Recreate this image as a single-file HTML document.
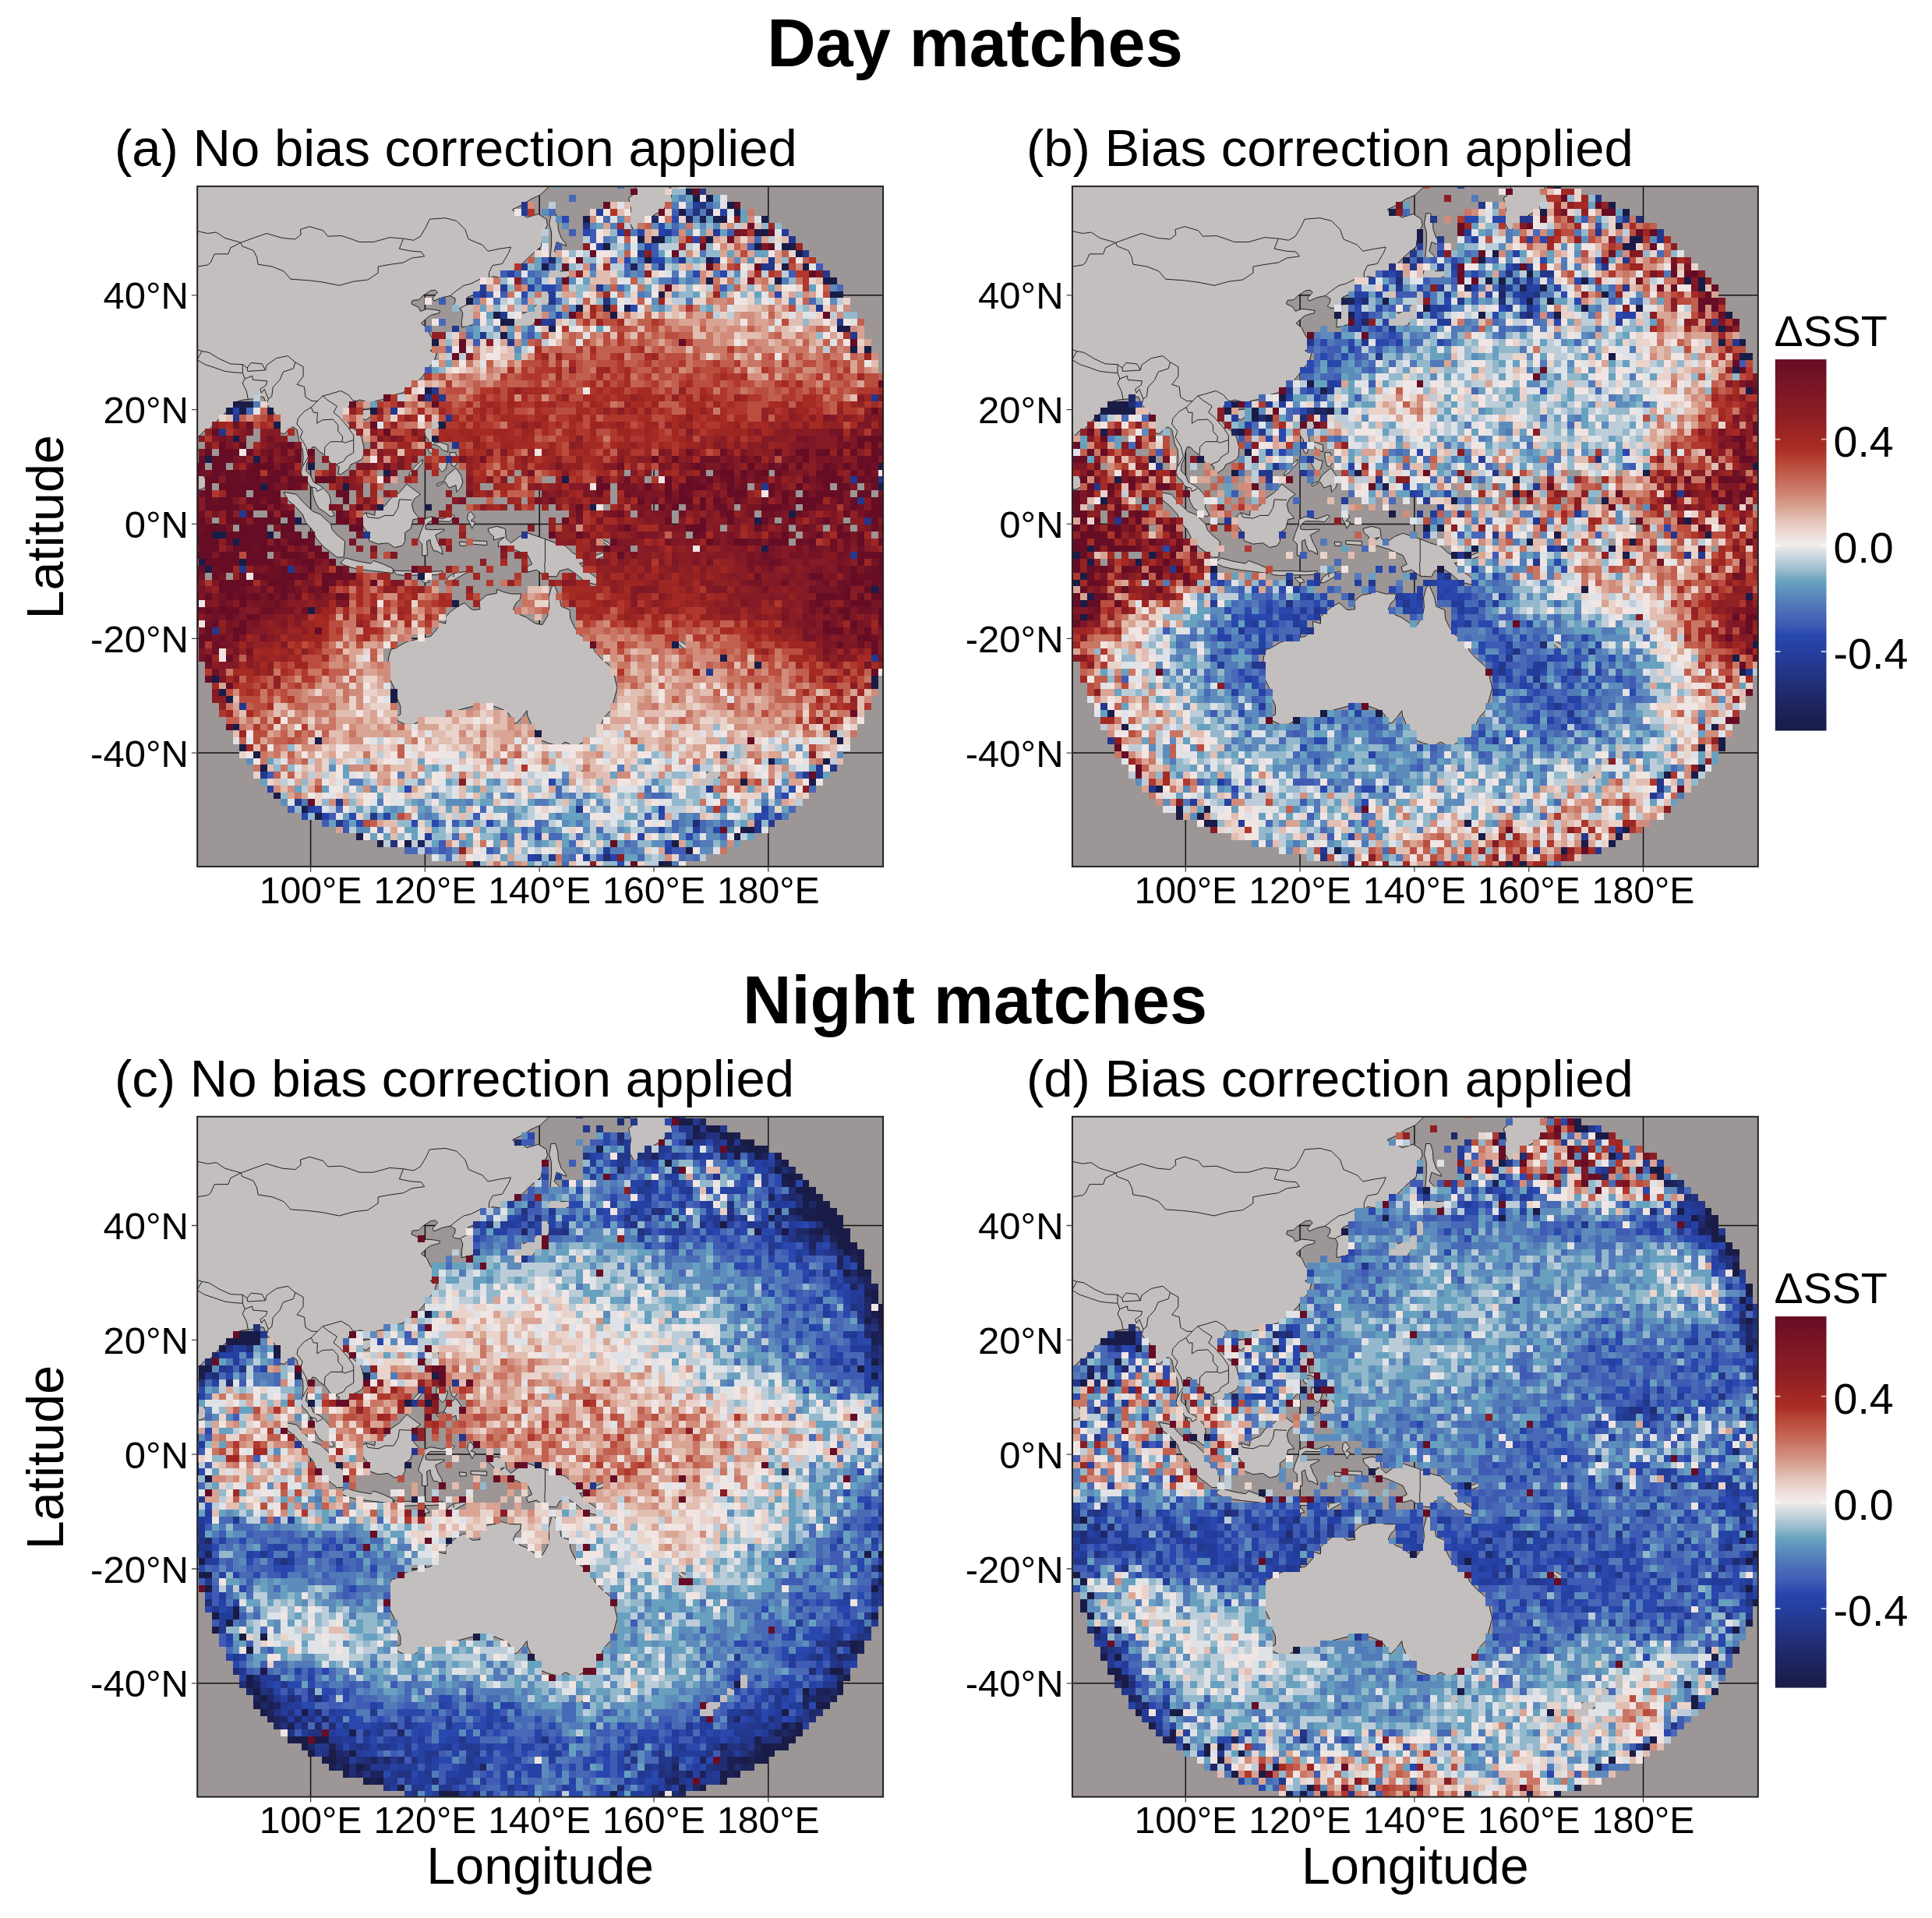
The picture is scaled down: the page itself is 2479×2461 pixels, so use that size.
<!DOCTYPE html><html><head><meta charset="utf-8"><title>SST bias maps</title><style>html,body{margin:0;padding:0;background:#fff}</style></head><body><svg width="2479" height="2461" viewBox="0 0 2479 2461" style="display:block;font-family:'Liberation Sans',sans-serif"><rect width="2479" height="2461" fill="#fff"/><defs><clipPath id="pc"><rect x="0" y="0" width="879.9" height="872.8"/></clipPath><linearGradient id="cb" x1="0" y1="0" x2="0" y2="1"><stop offset="0.0000" stop-color="#660d25"/><stop offset="0.0714" stop-color="#7a1525"/><stop offset="0.1643" stop-color="#8f2024"/><stop offset="0.2143" stop-color="#a22823"/><stop offset="0.2436" stop-color="#ab2c25"/><stop offset="0.2807" stop-color="#b94a3b"/><stop offset="0.3214" stop-color="#c46554"/><stop offset="0.3614" stop-color="#cf8473"/><stop offset="0.4014" stop-color="#d9a594"/><stop offset="0.4421" stop-color="#e6c9bf"/><stop offset="0.4900" stop-color="#f1e8e6"/><stop offset="0.5000" stop-color="#f1ecec"/><stop offset="0.5429" stop-color="#bccdd9"/><stop offset="0.5714" stop-color="#93b8cc"/><stop offset="0.5971" stop-color="#68a3bf"/><stop offset="0.6357" stop-color="#5a87bb"/><stop offset="0.6786" stop-color="#4a6db7"/><stop offset="0.7143" stop-color="#3f5bb4"/><stop offset="0.7450" stop-color="#2746ad"/><stop offset="0.7857" stop-color="#253f9f"/><stop offset="0.8571" stop-color="#22327f"/><stop offset="0.9286" stop-color="#1e2560"/><stop offset="1.0000" stop-color="#191c47"/></linearGradient></defs><g transform="translate(253.2 239.1)"><g clip-path="url(#pc)"><rect width="879.9" height="872.8" fill="#9c9696"/><path d="M145.4 0V872.8M292.2 0V872.8M439.0 0V872.8M585.8 0V872.8M732.6 0V872.8M0 139.7H879.9M0 286.5H879.9M0 433.3H879.9M0 580.2H879.9M0 727.0H879.9" stroke="#111" stroke-width="1.5" fill="none"/><path d="M-16.1 -14.5 451.5 -14.5 451.5 0.2 439.7 11.2 428.0 16.4 417.0 23.7 404.5 29.6 406.7 32.5 418.5 36.9 422.9 39.9 437.5 35.5 447.8 42.1 449.3 50.1 447.1 53.8 442.7 66.3 441.2 77.3 428.0 88.3 413.3 103.0 406.0 108.1 391.3 117.7 382.5 116.2 378.8 115.5 372.2 121.3 370.0 122.8 363.4 128.7 363.4 133.8 353.1 139.7 347.3 141.9 346.5 145.6 353.1 150.0 361.2 161.0 361.9 169.1 359.7 174.9 354.6 177.1 347.3 179.3 339.2 180.8 339.2 172.7 340.6 163.2 337.7 156.6 330.4 155.8 327.4 153.6 330.4 149.2 331.1 144.1 324.5 140.4 314.2 142.6 303.9 147.0 301.7 143.4 308.4 136.0 305.4 133.1 299.5 133.8 289.3 140.4 284.1 145.6 276.1 146.3 274.6 150.7 283.4 155.1 286.3 160.3 294.4 157.3 303.2 158.1 311.3 159.5 310.6 162.5 299.5 165.4 294.4 169.1 287.1 175.7 294.4 181.5 298.8 191.1 305.4 199.2 306.2 206.5 298.8 210.9 306.9 213.8 303.9 225.6 296.6 232.9 290.0 242.5 284.9 248.3 278.3 254.2 270.2 260.8 262.8 265.2 253.3 267.4 248.2 269.6 244.5 270.4 239.4 273.3 231.3 274.8 224.7 277.0 221.7 283.6 218.1 283.6 216.6 276.2 208.5 274.0 204.1 275.5 195.3 280.6 193.1 285.8 187.2 293.9 193.1 303.4 198.3 309.3 206.3 315.9 210.7 321.8 213.7 334.2 213.7 343.8 211.5 349.7 204.1 354.1 196.8 357.0 194.6 362.1 184.3 369.5 180.6 368.7 182.1 359.9 177.7 357.0 171.8 356.3 167.4 350.4 163.0 344.5 156.4 340.1 152.0 335.0 147.6 334.2 145.4 339.4 143.9 348.9 140.3 356.3 139.5 365.1 145.4 370.9 149.1 379.7 156.4 383.4 162.3 387.8 168.9 395.2 171.1 402.5 170.4 412.1 176.2 422.3 171.1 423.8 164.5 418.7 155.7 412.8 151.3 404.7 148.3 395.2 147.6 387.1 143.2 382.7 140.3 377.5 135.1 373.1 132.9 367.3 135.1 357.7 135.9 347.4 135.1 337.9 131.5 330.6 129.3 319.6 127.8 312.2 122.7 308.5 117.5 312.2 111.6 317.4 105.8 316.6 103.6 309.3 105.0 301.2 99.2 291.7 94.8 286.5 88.9 279.9 85.2 270.4 77.9 269.6 73.5 272.6 66.1 273.3 58.8 274.0 50.7 276.2 48.5 282.8 44.8 287.3 36.8 290.2 29.4 296.8 22.8 304.1 15.5 311.5 8.1 314.4 5.2 318.1 0.1 321.8 -0.7 330.6 0.8 337.9 0.1 345.2 -2.9 352.6 -2.9 357.7 -16.1 357.7ZM0.1 361.4 7.4 370.2 11.8 378.3 11.1 385.6 5.9 388.6 0.1 389.3 -2.9 382.0 -2.9 370.9 -1.4 363.6ZM209.3 291.7 213.7 286.5 222.5 285.8 226.1 289.5 222.5 295.3 216.6 299.7 209.3 297.5ZM299.5 248.3 306.2 249.8 303.9 257.2 301.0 266.0 298.1 272.6 293.7 266.7 292.9 260.8 296.6 253.5ZM363.4 188.9 372.2 184.5 378.1 186.7 379.6 192.6 375.9 202.8 370.7 205.8 367.1 202.8 367.1 196.2 363.4 192.6ZM384.0 184.5 396.4 181.5 400.1 185.2 396.4 188.9 389.1 191.1 384.7 192.6 382.5 188.1ZM372.2 183.7 375.9 180.8 384.7 173.5 391.3 172.7 403.8 171.3 409.6 167.6 415.5 161.7 419.2 158.1 417.7 163.2 428.0 158.8 434.6 152.9 438.3 143.4 439.0 136.0 441.2 130.9 449.3 129.4 450.0 136.0 453.7 142.6 450.0 152.2 446.3 155.8 446.3 163.2 443.4 167.6 444.9 171.3 441.9 174.9 437.5 177.1 436.8 173.5 433.1 174.2 430.2 178.6 425.8 179.3 417.0 179.3 416.3 181.5 411.8 184.5 408.2 187.4 403.0 184.5 403.8 181.5 405.2 178.6 397.2 178.6 387.6 181.5 381.8 184.5 372.9 184.5ZM441.2 128.7 439.0 122.8 437.5 120.6 441.9 115.5 449.3 115.5 451.5 106.7 452.2 100.1 457.4 103.0 466.9 108.9 477.9 108.1 477.9 115.5 470.6 118.4 463.2 125.0 453.7 121.3 446.3 122.1 442.7 121.3 447.1 126.5ZM453.7 34.7 459.6 34.7 462.5 44.3 463.2 55.3 466.9 66.3 472.8 73.6 473.5 76.6 461.0 71.4 458.1 83.2 464.7 89.8 464.0 93.5 458.1 91.2 453.7 95.7 453.0 88.3 453.7 82.4 454.4 73.6 454.4 58.9 451.5 47.9 453.0 40.6ZM561.6 -14.5 563.1 7.6 553.5 14.9 556.4 29.6 553.5 44.3 560.8 57.5 573.3 47.9 585.8 36.9 599.0 29.6 602.0 20.8 610.0 20.8 607.8 9.0 604.2 3.9 611.5 -3.5 615.2 -14.5ZM110.9 392.2 127.1 395.2 135.9 405.4 148.3 417.2 157.9 420.9 171.1 433.3 173.3 440.7 179.2 447.3 189.4 455.4 188.7 466.4 188.0 475.9 179.2 475.9 171.1 469.3 162.3 462.7 152.7 451.7 147.6 440.7 138.8 431.1 135.1 420.9 124.9 409.8 116.0 402.5ZM183.6 483.3 190.2 476.7 206.3 481.1 222.5 484.0 226.1 480.3 238.6 484.7 251.1 490.6 251.1 496.5 238.6 495.0 218.8 492.8 204.1 490.6 192.4 487.7ZM211.5 422.3 215.9 418.7 227.6 422.3 228.3 415.0 240.8 409.8 248.2 400.3 259.2 393.0 268.7 382.0 275.3 387.1 286.3 395.2 279.0 400.3 275.3 407.6 277.5 417.2 284.9 426.0 276.8 427.5 273.9 439.2 266.5 444.4 266.5 455.4 262.8 461.2 253.3 463.4 244.5 457.6 232.0 459.0 220.3 454.6 218.8 444.4 212.9 437.0 211.5 429.7ZM290.7 427.5 298.8 423.8 314.2 426.7 327.4 421.6 330.4 423.1 323.8 430.4 314.2 429.7 298.8 429.7 292.9 434.8 292.9 439.9 301.0 440.7 316.4 439.9 317.2 441.4 305.4 447.3 309.1 457.6 313.5 464.9 315.0 472.2 306.9 467.8 303.2 467.8 299.5 459.0 298.8 453.2 294.4 455.4 295.1 468.6 295.1 473.7 288.5 473.7 288.5 459.0 283.4 453.9 286.3 444.4 290.7 434.1ZM372.9 439.2 384.0 436.3 395.0 439.2 396.4 451.7 402.3 457.6 413.3 449.5 424.3 445.1 446.3 452.4 461.0 458.3 472.0 461.2 481.6 470.0 494.1 477.4 496.3 482.5 490.4 483.3 497.7 492.1 508.7 499.4 518.3 508.2 512.4 511.2 497.7 507.5 486.7 497.9 475.7 490.6 464.7 493.5 461.0 500.9 446.3 500.1 435.3 492.1 424.3 495.0 422.1 488.4 429.5 484.7 424.3 473.7 406.0 465.6 391.3 461.2 386.2 462.7 386.9 455.4 394.2 450.2 380.3 453.9 380.3 449.5 374.4 444.4ZM317.9 509.0 321.6 501.6 328.9 496.5 343.6 494.3 345.8 495.7 332.6 503.1 323.8 508.2ZM251.8 492.8 262.8 493.5 284.9 493.5 299.5 494.3 314.2 493.5 314.2 497.9 299.5 498.7 284.9 498.7 266.5 499.4 255.5 497.9ZM284.9 502.3 293.7 502.3 298.1 507.5 292.2 509.0ZM347.3 420.1 350.9 417.2 356.1 424.5 350.9 428.9 356.8 431.1 352.4 439.2 349.5 431.9 346.5 426.7ZM350.9 454.6 371.5 455.4 371.5 460.5 350.9 459.0ZM336.2 456.1 345.1 456.8 345.1 461.2 337.0 461.2ZM296.6 297.5 308.4 297.5 310.6 308.5 303.2 317.4 303.9 329.1 312.0 328.4 321.6 332.0 321.6 340.8 314.2 337.9 310.6 334.2 304.7 331.3 296.6 332.0 296.6 325.4 292.2 319.6 291.5 313.7 295.1 304.9ZM306.9 382.0 316.4 378.3 320.1 370.9 331.8 361.4 338.4 370.9 340.6 379.7 337.7 387.1 332.6 392.2 331.8 383.4 323.0 387.1 317.9 379.0 308.4 384.9ZM323.8 341.6 331.1 341.6 334.8 352.6 330.4 359.9 326.7 358.5 324.5 350.4ZM306.9 346.7 315.7 351.1 321.6 352.6 318.6 362.9 314.2 366.5 310.6 362.9 306.9 356.3ZM271.7 371.7 279.7 365.8 288.5 355.5 289.3 350.4 286.3 352.6 277.5 361.4 271.7 368.7ZM295.1 335.0 303.2 336.4 301.0 343.0 298.1 341.6ZM248.9 593.4 252.6 593.4 268.0 584.6 284.9 580.2 299.5 577.2 309.1 566.2 308.4 558.1 318.6 561.1 318.6 552.3 325.2 545.7 334.8 538.3 342.9 534.6 350.9 542.0 353.1 543.5 362.7 542.7 361.9 532.4 367.8 527.3 371.5 524.4 384.0 522.2 384.7 517.0 391.3 520.0 402.3 522.9 415.5 522.9 414.0 530.2 408.9 534.6 405.2 542.7 414.8 550.1 422.1 553.0 433.9 561.1 442.7 562.5 449.3 551.5 451.5 539.8 450.7 528.0 454.4 514.1 458.1 511.9 464.7 527.3 466.9 539.0 477.9 543.5 478.6 554.5 483.8 565.5 490.4 575.0 503.6 583.1 510.2 597.0 518.3 605.9 533.7 619.1 535.9 631.5 538.8 643.3 535.2 657.2 530.8 671.9 521.9 681.5 518.3 690.3 513.1 701.3 511.7 708.6 497.7 711.6 486.7 718.2 485.2 720.4 475.7 714.5 472.0 713.0 464.7 718.2 450.7 714.5 441.2 710.8 436.8 701.3 431.7 695.4 425.1 694.7 428.0 688.8 423.6 679.3 422.9 672.7 417.0 680.7 409.6 688.8 406.7 688.8 400.1 677.1 395.0 672.7 384.0 668.3 372.9 664.6 358.3 666.0 343.6 669.7 332.6 672.7 321.6 675.6 317.9 682.2 306.9 682.2 292.2 682.2 284.9 685.9 277.5 690.3 266.5 690.3 257.0 685.9 255.5 680.0 260.6 677.8 260.6 666.8 255.5 655.0 252.6 643.3 245.2 628.6 243.8 620.5 244.5 611.7 246.0 602.2ZM473.5 732.1 483.0 735.1 499.9 733.6 499.9 743.1 494.1 750.5 486.7 753.4 479.4 748.3 477.2 743.1 473.5 735.8ZM679.0 685.9 683.4 690.3 690.8 692.5 694.4 703.5 702.5 708.6 712.1 711.6 721.6 710.1 717.9 721.1 710.6 723.3 709.9 730.6 698.1 738.7 693.7 736.5 696.6 728.4 693.0 725.5 687.1 721.8 693.7 717.4 693.7 708.6 690.0 701.3 681.2 691.7ZM679.0 730.6 690.8 735.8 690.0 741.7 681.2 749.0 679.8 754.9 668.7 758.5 665.1 770.3 655.5 775.4 646.7 775.4 634.2 771.0 637.2 763.7 646.7 756.3 659.2 749.0 668.7 741.7 674.6 733.6ZM615.2 580.9 626.2 587.5 637.2 596.3 633.5 597.8 622.5 591.9 615.2 584.6ZM499.9 474.4 510.9 473.7 521.9 469.3 528.6 464.2 529.3 470.0 519.7 475.9 508.7 479.6 500.7 477.4ZM518.3 452.4 527.1 456.8 534.4 465.6 533.0 468.6 525.6 459.8 517.5 454.6ZM546.2 473.7 552.0 476.7 555.7 483.3 551.3 482.5 546.9 477.4Z" fill="#c3bfbe" stroke="#222" stroke-width="1" stroke-linejoin="round"/><path d="M55.9 72.2 72.0 66.3 88.9 60.4 108.7 66.3 125.6 67.8 132.9 61.9 132.2 55.3 143.9 51.6 161.6 56.7 167.4 64.1 185.0 63.4 198.3 67.8 207.8 71.4 226.1 71.4 246.7 65.6 264.3 67.0 259.2 80.2 275.3 83.2 287.1 83.9 291.5 89.8 275.3 92.0 264.3 97.9 248.2 100.1 232.0 103.0 232.0 111.1 218.8 119.9 200.5 122.1 182.1 127.2 160.1 122.8 141.7 120.6 119.7 119.1 110.9 108.9 96.2 103.0 77.9 100.1 76.4 91.2 72.0 82.4 57.3 76.6 55.9 72.2M0.0 57.5 13.3 60.4 24.3 58.9 35.3 66.3 55.9 72.2M55.9 72.2 42.6 78.8 39.7 86.8 22.1 86.8 17.0 97.9 13.3 100.8 0.0 103.0M264.3 67.0 277.5 69.2 286.3 64.1 293.7 51.6 298.1 42.1 317.9 40.6 332.6 44.3 343.6 55.3 348.0 67.8 365.6 75.1 372.9 83.2 387.6 80.2 402.3 78.0 399.4 85.4 391.3 99.3 378.8 101.5 374.4 110.3 374.4 117.7 370.0 122.1M370.0 122.1 364.1 118.4 350.9 125.0 342.1 127.2 332.6 133.8 324.5 140.4M337.7 155.8 345.1 152.2 353.9 150.0M0.0 221.9 5.9 211.6 0.0 209.4M5.9 211.6 14.8 213.1 28.0 221.2 42.6 227.8 58.1 228.5M0.0 222.7 9.6 228.5 22.8 232.9 35.3 237.3 47.8 238.8 58.1 239.5 58.1 228.5M58.1 228.5 63.9 232.9 69.1 226.3 83.0 227.8 87.4 235.9 75.7 236.6 64.7 237.3 63.9 232.9M87.4 235.9 88.9 229.3 101.4 220.5 116.0 217.5 125.6 225.6M58.1 239.5 61.0 246.9 58.1 252.8 63.2 263.0 64.7 271.1 65.4 273.3M61.0 246.9 70.5 243.2 71.3 248.3 89.6 249.8 88.2 255.0 80.8 260.1 82.3 265.2 86.0 260.1 91.1 272.6 88.9 279.9M91.1 272.6 95.5 269.6 97.0 257.9 105.8 248.3 110.2 238.1 123.4 233.7 125.6 225.6M125.6 225.6 135.9 231.5 135.9 243.9 127.8 254.2 137.3 257.2 138.8 270.4 146.9 275.5 154.2 275.5M146.1 283.6 137.3 288.7 129.3 297.5 127.8 304.9 135.1 314.4 132.2 321.8 139.5 334.2 142.5 346.7 136.6 357.0 135.9 359.2M146.1 283.6 154.2 275.5 160.8 268.9 166.7 274.0 179.2 282.1 174.8 290.2 182.1 296.1 193.1 308.5 200.5 319.6 200.5 325.4M146.1 283.6 149.1 290.2 154.2 290.2 153.5 304.1 160.8 299.7 174.0 299.0 180.6 306.3 180.6 314.4 186.5 321.0 185.8 327.6 189.4 329.1 200.5 325.4M160.8 268.9 169.6 266.7 184.3 262.3 194.6 268.2 199.7 274.8 204.1 275.5M163.0 344.5 163.8 334.2 171.1 327.6 185.8 327.6M200.5 325.4 200.5 341.6 190.9 347.4 188.0 352.6 177.7 357.0M146.1 385.6 152.0 387.1 153.5 391.5 160.8 387.8M215.9 418.7 218.8 424.5 232.0 426.0 240.8 422.3 251.8 422.3 257.7 412.1 259.2 401.8 275.3 402.5M446.3 452.4 446.3 481.1 445.6 484.7 446.3 500.1M328.9 496.5 328.9 501.6" fill="none" stroke="#222" stroke-width="1" stroke-linejoin="round"/><g transform="translate(1.340 6.820) scale(8.8080)" stroke-width="1" fill="none" shape-rendering="crispEdges"><path stroke="#191c47" d="M71 0h1M72 1h1M74 1h1M77 2h1M70 3h1M78 3h1M56 4h1M76 4h1M82 4h1M81 6h2M64 7h1M66 7h2M74 7h1M59 8h1M81 8h1M85 8h2M87 9h1M65 10h1M74 10h1M50 11h1M85 11h1M88 11h1M74 13h1M84 13h1M91 13h2M67 15h1M92 15h2M39 16h1M55 17h1M59 17h1M62 17h1M43 18h1M60 18h1M44 19h2M51 20h1M93 20h2M44 21h1M34 22h1M95 23h1M97 23h1M33 29h1M5 31h3M4 32h1M6 32h1M10 32h1M25 32h1M11 34h1M35 34h1M5 36h1M34 36h1M100 38h1M1 39h1M8 39h1M16 40h1M99 40h1M27 41h1M53 42h1M9 43h1M21 43h1M99 43h1M26 46h1M33 46h1M57 46h1M86 47h1M14 48h1M81 48h1M2 50h2M10 50h1M-1 51h1M5 51h1M82 52h1M-1 53h1M0 54h1M6 54h1M1 55h1M32 56h1M98 58h1M-1 60h1M37 60h1M100 60h1M16 61h1M100 65h1M69 66h1M76 68h1M81 69h1M2 71h1M98 71h1M98 72h1M3 73h1M28 73h1M4 74h1M28 74h1M5 78h1M49 79h1M92 79h1M17 80h1M93 80h1M6 81h1M8 82h1M76 82h1M83 83h1M91 83h1M9 84h1M79 86h1M89 86h1M11 88h1M15 90h1M17 91h1M79 93h2M23 94h1M78 94h1M26 95h1M30 95h1M69 95h1M71 96h1M40 98h1M67 98h2"/><path stroke="#1b2051" d="M73 4h1M75 4h1"/><path stroke="#1d235b" d="M71 4h1M63 11h1M32 95h1"/><path stroke="#1f2866" d="M74 3h1M66 4h1M51 10h1"/><path stroke="#202d73" d="M72 92h1M59 97h1"/><path stroke="#22327f" d="M73 2h1M72 3h1M56 5h1M59 16h1M28 95h1"/><path stroke="#23378c" d="M73 0h1M47 2h1M86 7h1M64 9h1M88 9h1M70 10h1M75 10h1M83 10h1M47 11h1M67 11h1M82 11h2M91 12h1M58 14h1M41 15h1M51 16h1M90 17h1M44 18h1M51 19h1M93 19h1M37 20h1M41 21h1M95 21h1M45 22h1M34 29h1M33 30h1M35 30h1M98 30h1M28 32h1M5 33h1M36 33h1M3 35h1M37 37h1M36 39h1M95 42h1M99 42h1M82 43h1M-1 44h1M96 45h1M6 47h1M97 48h1M24 50h1M47 50h1M100 51h1M95 53h1M6 55h1M13 55h1M2 64h1M98 68h1M74 70h1M6 75h1M90 84h1M92 84h1M9 85h1M90 85h1M74 87h1M14 89h1M20 89h1M55 90h1M25 91h1M20 92h1M81 92h1M83 92h1M81 93h1M51 97h1"/><path stroke="#243c99" d="M72 2h1M47 3h1M58 3h1M68 6h1M75 6h1M85 6h1M41 14h1M44 14h1M51 15h1M50 19h1M88 85h1M33 94h1M59 96h1M49 97h1M56 97h1"/><path stroke="#2641a4" d="M76 3h1M61 6h1M64 6h1M67 6h1M58 8h1M65 8h1M45 12h1M48 14h1M5 32h1M10 87h1M16 90h1M67 90h1M82 90h1M18 91h1M27 91h1M84 91h1M67 93h1M72 93h1M64 94h1M68 96h1M48 97h1M60 97h1"/><path stroke="#2947ad" d="M53 4h1M69 4h1M67 5h1M56 6h1M72 7h1M62 10h1M66 10h2M72 12h1M76 12h1M50 14h2M40 15h1M47 15h1M84 15h1M63 17h1M52 18h1M51 86h1M30 87h1M86 87h1M85 88h1M17 90h1M15 91h1M22 91h1M67 91h1M81 91h2M23 92h1M31 92h1M34 92h1M42 92h1M75 93h1M49 94h1M71 94h1M68 95h1M61 98h1M59 99h1"/><path stroke="#3f5bb4" d="M69 3h1M54 6h1M57 6h1M69 6h1M77 6h1M57 7h1M52 8h1M66 8h1M80 8h1M66 9h1M50 10h1M60 10h1M90 11h1M44 12h1M86 12h1M49 13h1M69 13h1M76 14h1M42 15h1M44 15h1M35 16h1M48 21h1M40 22h1M33 26h1M10 85h1M13 90h1M19 91h1M40 91h1M65 91h1M18 92h1M21 92h1M37 92h1M39 92h1M21 93h1M47 93h1M44 94h1M35 95h1M33 96h1M35 96h1M42 96h1M69 96h2M58 97h1M53 99h1M58 99h1"/><path stroke="#4869b6" d="M61 -1h1M54 1h1M74 2h1M51 3h1M71 3h1M59 4h1M69 5h1M81 7h1M64 10h1M69 10h1M51 11h1M57 11h1M62 11h1M46 12h1M48 12h1M62 12h1M47 13h1M52 14h1M61 14h1M93 14h1M43 16h1M47 16h1M52 16h1M89 16h1M35 19h1M33 20h1M48 20h1M39 21h1M36 23h1M7 32h1M87 85h1M52 87h1M65 87h1M89 87h1M52 88h1M66 88h2M84 88h1M20 90h1M41 90h1M76 90h1M86 90h1M49 92h1M69 92h1M73 92h1M76 92h2M26 93h1M49 93h1M58 93h1M69 93h1M73 93h1M37 94h1M47 94h1M51 94h2M55 94h1M76 94h1M54 95h1M62 95h1M72 95h1M30 96h2M36 96h1M36 97h1M54 97h1M64 97h1M70 97h1M72 97h1M53 98h1M48 99h2"/><path stroke="#527ab9" d="M70 1h1M69 2h1M73 3h1M60 5h1M63 6h1M59 7h1M73 9h1M66 11h1M49 12h1M64 12h1M69 12h1M75 12h1M52 13h1M67 13h2M71 13h1M85 13h1M64 15h1M40 16h1M71 16h1M86 16h1M50 17h2M40 19h1M43 20h1M47 21h1M8 31h1M61 84h1M72 84h1M29 85h1M22 86h2M53 86h1M84 87h1M34 88h1M45 88h1M54 88h1M56 88h1M65 88h1M68 88h1M15 89h1M26 89h1M39 89h1M49 89h2M55 89h1M82 89h1M59 90h1M83 90h1M33 91h1M45 91h1M52 91h1M70 91h1M72 91h1M83 91h1M85 91h1M35 92h1M50 92h1M55 92h1M64 92h1M70 92h1M74 92h1M65 93h2M59 94h1M63 95h1M73 95h2M34 96h1M43 96h1M55 96h1M60 96h2M63 96h1M53 97h1M71 97h1M69 98h1"/><path stroke="#5d8cbc" d="M71 2h1M75 2h1M50 3h1M52 4h1M61 4h1M72 4h1M53 5h1M57 5h1M66 5h1M70 5h1M73 5h1M75 5h1M71 6h1M60 7h1M62 8h1M64 8h1M78 10h1M80 10h1M64 11h1M50 12h1M57 12h1M63 12h1M71 12h1M78 12h1M54 13h1M72 13h1M49 14h1M59 14h1M92 14h1M65 15h1M69 15h1M60 16h1M66 16h1M92 16h1M54 17h1M67 17h1M51 18h1M53 18h1M39 20h1M45 21h1M47 22h1M46 23h1M87 81h1M93 82h1M7 83h1M65 83h1M84 83h1M19 84h1M53 85h1M32 86h1M43 86h1M66 86h1M85 86h1M25 87h1M42 88h1M44 88h1M53 88h1M82 88h1M12 89h1M32 89h1M36 89h3M58 89h1M84 89h1M28 90h1M33 90h1M45 90h1M74 90h1M26 91h1M32 91h1M34 91h1M56 91h1M71 91h1M43 92h1M45 92h1M53 92h1M71 92h1M75 92h1M23 93h2M44 93h1M48 93h1M51 93h1M56 93h1M61 93h1M68 93h1M70 93h1M74 93h1M45 94h1M70 94h1M72 94h1M74 94h2M38 95h1M45 95h1M49 95h1M66 95h2M76 95h1M37 96h1M53 96h2M62 96h1M64 96h1M73 96h2M45 98h1M50 98h1M64 99h1"/><path stroke="#67a1bf" d="M52 -1h1M69 1h1M71 1h1M75 1h1M79 3h1M74 4h1M79 4h1M58 5h1M68 5h1M73 6h1M76 6h1M68 7h1M67 9h1M77 9h1M81 9h2M49 10h1M52 10h1M63 10h1M68 10h1M72 10h1M49 11h1M48 13h1M56 13h1M70 13h1M62 14h1M65 14h1M77 14h1M83 14h1M89 14h1M72 15h1M76 15h1M81 15h1M41 17h1M48 17h1M66 17h1M74 17h1M42 18h1M40 20h1M45 20h1M47 20h1M58 20h1M40 21h1M49 21h1M46 24h1M36 25h1M34 26h1M25 31h1M64 81h1M10 83h1M32 83h1M85 83h1M21 84h1M34 84h1M89 84h1M21 85h1M60 85h1M91 85h1M9 86h1M36 86h1M42 86h1M14 87h1M18 87h1M40 87h1M67 87h1M80 87h1M26 88h1M57 88h1M75 88h1M31 89h1M41 89h2M48 89h1M51 89h1M77 89h1M23 90h1M25 90h1M27 90h1M29 90h1M32 90h1M36 90h1M38 90h1M43 90h2M47 90h1M54 90h1M66 90h1M78 90h1M85 90h1M21 91h1M28 91h1M46 91h1M51 91h1M53 91h3M62 91h2M76 91h1M80 91h1M19 92h1M22 92h1M38 92h1M54 92h1M56 92h1M79 92h1M30 93h2M34 93h1M41 93h1M45 93h2M50 93h1M52 93h1M62 93h1M77 93h1M25 94h1M27 94h1M31 94h1M39 94h1M43 94h1M53 94h1M58 94h1M80 94h1M34 95h1M39 95h1M43 95h1M50 95h1M53 95h1M61 95h1M71 95h1M78 95h1M44 97h1M62 97h2M48 98h1"/><path stroke="#93b8cc" d="M69 0h2M72 5h1M74 5h1M82 5h1M84 5h1M60 6h1M50 7h1M69 7h1M60 8h1M74 8h1M54 9h1M61 9h1M74 9h2M56 10h2M71 10h1M73 10h1M85 10h1M48 11h1M52 11h1M54 11h1M69 11h1M61 12h1M44 13h1M64 13h1M66 13h1M78 13h1M86 13h1M45 14h1M55 14h2M71 14h1M80 14h1M48 15h1M55 15h1M62 15h1M70 15h2M79 15h1M87 15h1M46 16h1M53 16h1M58 16h1M81 16h1M90 16h1M37 17h1M43 17h1M52 17h1M68 17h1M73 17h1M88 17h1M94 18h2M42 19h1M88 19h1M42 21h1M90 21h1M36 22h1M35 26h1M75 78h1M76 80h1M13 81h1M57 81h1M78 81h1M85 81h1M38 82h1M66 82h1M78 82h1M88 82h1M19 83h1M24 83h1M43 83h1M64 83h1M74 83h1M11 84h1M13 84h1M33 84h1M51 84h1M63 84h1M33 85h1M40 85h1M64 85h1M69 85h2M85 85h1M15 86h1M24 86h1M37 86h1M52 86h1M58 86h1M67 86h2M75 86h1M21 87h1M23 87h1M29 87h1M39 87h1M42 87h1M48 87h2M71 87h2M12 88h1M33 88h1M35 88h1M41 88h1M58 88h1M61 88h1M63 88h1M69 88h1M71 88h2M18 89h1M22 89h1M30 89h1M35 89h1M40 89h1M54 89h1M56 89h1M59 89h1M64 89h1M69 89h2M72 89h1M81 89h1M14 90h1M46 90h1M57 90h1M62 90h1M64 90h1M77 90h1M16 91h1M24 91h1M47 91h1M29 92h2M33 92h1M40 92h1M61 92h1M78 92h1M82 92h1M35 93h1M37 93h1M71 93h1M29 94h1M34 94h2M41 94h2M48 94h1M56 94h1M60 94h1M67 94h1M48 95h1M51 95h1M57 95h1M59 95h1M64 95h2M75 95h1M45 96h1M47 96h1M56 96h1M58 96h1M35 97h1M50 97h1M57 97h1M65 97h1M67 97h1M41 98h1M51 98h1M59 98h2M50 99h1M57 99h1"/><path stroke="#bccdd9" d="M51 2h1M62 5h1M78 5h1M50 6h1M56 7h1M83 7h1M61 8h1M67 8h3M71 8h1M56 9h1M70 9h1M55 11h1M60 11h2M68 11h1M72 11h1M77 12h1M82 12h1M85 12h1M50 13h1M54 14h1M74 14h1M52 15h1M44 16h1M49 16h1M55 16h1M69 16h2M93 16h1M46 17h1M87 17h1M75 18h1M77 18h1M92 18h1M54 19h1M41 20h2M36 21h1M43 21h1M50 22h1M47 23h1M91 23h1M36 24h1M38 24h1M8 30h1M29 30h1M69 78h1M61 79h1M93 79h1M26 80h1M83 80h1M48 81h1M84 81h1M26 82h1M51 82h1M59 82h1M67 82h1M77 82h1M11 83h1M16 83h1M23 83h1M45 83h1M68 83h1M78 83h1M82 83h1M92 83h1M35 84h1M45 84h1M73 84h2M86 84h1M16 85h1M18 85h1M24 85h1M37 85h1M48 85h1M66 85h1M68 85h1M71 85h1M12 86h1M25 86h1M30 86h2M44 86h1M47 86h1M49 86h1M65 86h1M82 86h1M15 87h1M27 87h1M34 87h1M36 87h1M43 87h2M53 87h1M55 87h1M60 87h1M64 87h1M68 87h1M73 87h1M85 87h1M22 88h1M36 88h1M46 88h1M51 88h1M55 88h1M62 88h1M73 88h1M33 89h1M46 89h1M52 89h1M61 89h1M63 89h1M71 89h1M83 89h1M87 89h1M19 90h1M22 90h1M24 90h1M34 90h1M48 90h1M53 90h1M58 90h1M65 90h1M68 90h3M73 90h1M35 91h1M37 91h1M39 91h1M48 91h1M64 91h1M66 91h1M69 91h1M75 91h1M79 91h1M41 92h1M44 92h1M51 92h1M57 92h1M59 92h1M62 92h1M68 92h1M22 93h1M42 93h2M57 93h1M59 93h2M63 93h2M36 94h1M54 94h1M57 94h1M68 94h1M79 94h1M27 95h1M31 95h1M33 95h1M32 96h1M49 96h1M37 97h1M42 97h1M46 97h2M66 97h1M73 97h1M49 98h1M62 98h1M65 98h2M44 99h1M60 99h1M65 99h1"/><path stroke="#dfe2e6" d="M70 -1h1M76 1h1M61 2h1M76 2h1M77 3h1M60 4h1M81 4h1M84 6h1M61 7h1M50 8h1M63 8h1M72 8h1M84 8h1M55 9h1M60 9h1M68 9h1M58 10h1M89 11h1M47 12h1M68 12h1M70 12h1M79 12h1M45 13h1M55 13h1M61 13h2M63 14h1M66 14h1M46 15h1M60 15h1M73 15h1M82 15h1M45 16h1M62 16h1M83 16h1M44 17h1M61 17h1M64 17h1M77 17h1M93 17h1M45 18h1M86 18h1M88 18h2M84 19h1M95 19h1M49 20h1M54 20h1M59 20h1M83 20h1M56 21h1M43 22h1M55 22h1M92 22h1M39 23h1M48 23h1M34 25h1M41 25h1M8 32h1M26 34h1M24 68h1M27 72h1M27 74h1M77 74h1M31 78h1M62 78h1M33 79h1M59 79h1M73 79h1M75 79h1M85 79h1M5 80h1M7 80h1M25 80h1M29 80h1M46 80h1M58 80h1M84 80h1M86 80h2M89 80h3M30 81h1M70 81h1M77 81h1M82 81h1M88 81h1M94 81h1M31 82h1M53 82h1M69 82h1M85 82h1M12 83h1M22 83h1M29 83h1M35 83h3M47 83h1M52 83h1M59 83h1M67 83h1M69 83h1M88 83h1M14 84h1M38 84h2M43 84h1M52 84h2M65 84h2M70 84h1M82 84h1M87 84h2M22 85h1M32 85h1M42 85h1M47 85h1M49 85h2M81 85h1M13 86h1M20 86h1M35 86h1M39 86h1M41 86h1M55 86h1M71 86h1M84 86h1M28 87h1M35 87h1M37 87h1M50 87h1M61 87h3M66 87h1M19 88h1M28 88h1M37 88h1M39 88h1M49 88h1M74 88h1M86 88h1M13 89h1M25 89h1M28 89h2M44 89h1M47 89h1M60 89h1M62 89h1M67 89h2M74 89h1M78 89h1M80 89h1M18 90h1M26 90h1M30 90h1M42 90h1M52 90h1M60 90h1M72 90h1M80 90h2M20 91h1M31 91h1M41 91h1M43 91h1M49 91h1M60 91h2M78 91h1M36 92h1M47 92h1M52 92h1M60 92h1M63 92h1M66 92h1M27 93h1M32 93h1M36 93h1M38 93h2M53 93h1M82 93h1M30 94h1M32 94h1M61 94h1M73 94h1M47 95h1M41 96h1M48 96h1M51 96h1M57 96h1M66 96h1M75 96h1M34 97h1M40 97h1M55 98h2M54 99h1M62 99h1"/><path stroke="#f0e5e3" d="M73 1h1M70 2h1M46 3h1M59 3h1M62 3h1M75 3h1M58 4h1M65 4h1M67 4h1M77 4h1M58 6h1M72 6h1M58 7h1M63 7h1M57 8h1M75 8h1M50 9h1M53 9h1M58 9h2M63 9h1M83 9h1M54 10h1M76 10h1M87 10h1M79 11h1M67 12h1M41 13h1M72 14h1M85 14h2M90 14h1M43 15h1M56 15h1M66 15h1M78 15h1M90 15h1M33 16h1M42 16h1M54 16h1M61 16h1M65 16h1M78 16h2M82 16h1M91 16h1M41 18h1M46 18h1M34 19h1M41 19h1M43 19h1M79 19h1M91 19h1M94 19h1M52 20h1M55 20h1M57 20h1M87 20h1M92 20h1M52 21h1M91 21h1M51 22h1M78 22h1M94 22h1M37 23h1M43 23h1M42 24h2M84 24h1M38 25h1M97 25h1M37 26h1M32 29h1M56 29h1M32 33h1M6 38h1M49 38h1M25 39h1M99 41h1M26 42h1M67 42h1M57 43h1M82 44h1M58 46h1M72 52h1M7 56h1M33 56h1M0 60h1M26 60h1M0 63h1M32 65h1M27 66h1M3 67h1M3 68h1M99 70h1M24 72h1M73 72h1M67 73h1M76 73h1M24 74h1M26 74h1M67 74h1M42 75h1M62 75h1M23 76h1M26 76h1M12 77h1M40 77h1M42 77h1M59 77h1M64 77h1M96 77h1M14 78h1M21 78h1M67 78h1M77 78h1M94 78h1M7 79h1M31 79h1M66 79h1M76 79h1M24 80h1M27 80h1M32 80h1M48 80h1M57 80h1M60 80h1M71 80h1M82 80h1M10 81h1M20 81h2M32 81h1M35 81h1M47 81h1M49 81h1M51 81h5M62 81h1M74 81h2M93 81h1M7 82h1M15 82h1M17 82h1M20 82h1M28 82h1M30 82h1M33 82h5M44 82h1M48 82h1M54 82h1M64 82h2M74 82h1M87 82h1M91 82h1M8 83h1M27 83h2M33 83h1M39 83h1M46 83h1M55 83h1M58 83h1M61 83h1M66 83h1M71 83h1M80 83h1M86 83h2M20 84h1M37 84h1M41 84h1M48 84h2M60 84h1M69 84h1M75 84h1M81 84h1M91 84h1M20 85h1M23 85h1M25 85h1M28 85h1M34 85h2M44 85h2M51 85h2M63 85h1M73 85h1M82 85h1M18 86h1M34 86h1M50 86h1M61 86h2M64 86h1M88 86h1M90 86h1M19 87h2M22 87h1M33 87h1M45 87h1M47 87h1M54 87h1M57 87h1M69 87h2M77 87h1M83 87h1M87 87h1M16 88h1M18 88h1M24 88h2M27 88h1M29 88h1M43 88h1M47 88h1M60 88h1M70 88h1M77 88h2M83 88h1M24 89h1M27 89h1M34 89h1M57 89h1M66 89h1M75 89h1M21 90h1M40 90h1M49 90h1M51 90h1M56 90h1M63 90h1M44 91h1M50 91h1M57 91h3M77 91h1M48 92h1M65 92h1M67 92h1M25 93h1M29 93h1M55 93h1M78 93h1M24 94h1M26 94h1M40 94h1M63 94h1M66 94h1M69 94h1M77 94h1M29 95h1M42 95h1M56 95h1M40 96h1M44 96h1M50 96h1M72 96h1M39 97h1M41 97h1M55 97h1M70 98h1M46 99h1M55 99h1"/><path stroke="#e9d3cb" d="M68 0h1M57 3h1M68 3h1M70 4h1M59 6h1M79 7h1M84 7h1M49 9h1M72 9h1M86 9h1M81 10h1M58 11h1M73 11h1M80 11h1M84 11h1M60 12h1M66 12h1M42 13h1M51 13h1M65 13h1M76 13h1M79 13h1M83 13h1M89 13h1M43 14h1M70 14h1M73 14h1M81 14h1M87 14h1M57 15h1M63 15h1M80 15h1M85 15h1M57 16h1M63 16h1M68 16h1M72 16h2M80 16h1M85 16h1M87 16h1M94 16h1M78 17h2M91 17h1M64 18h1M66 18h1M68 18h1M70 18h1M76 18h1M82 18h1M85 18h1M90 18h1M53 19h1M86 20h1M37 21h1M46 21h1M78 21h1M93 21h1M41 22h1M79 22h1M96 22h1M41 23h1M44 23h1M41 24h1M74 24h1M81 24h1M94 24h1M44 25h1M36 26h1M38 26h1M41 26h1M32 28h1M31 29h1M9 31h1M21 32h1M29 32h1M3 33h1M28 33h1M32 34h1M50 58h1M31 60h1M49 60h2M35 62h1M27 63h1M31 63h1M32 64h1M28 65h1M24 67h1M23 68h1M26 68h1M59 68h1M66 68h1M22 70h1M66 70h1M21 71h1M24 71h2M67 71h1M22 72h1M66 72h1M75 72h1M17 73h1M24 73h2M62 73h1M66 73h1M22 74h1M71 74h1M22 75h1M25 75h3M61 75h1M72 75h1M13 76h1M41 76h1M61 76h2M68 76h3M88 76h1M16 77h1M27 77h1M33 77h4M38 77h2M41 77h1M67 77h1M73 77h2M76 77h1M94 77h1M11 78h1M35 78h1M37 78h1M40 78h1M58 78h1M64 78h2M71 78h1M76 78h1M90 78h1M95 78h1M17 79h1M36 79h2M39 79h1M58 79h1M60 79h1M63 79h1M67 79h1M70 79h3M79 79h1M87 79h1M16 80h1M28 80h1M34 80h1M37 80h1M40 80h1M42 80h1M59 80h1M61 80h1M69 80h1M72 80h2M81 80h1M94 80h1M14 81h1M18 81h1M25 81h1M27 81h1M31 81h1M36 81h1M38 81h1M42 81h1M45 81h1M50 81h1M56 81h1M59 81h2M63 81h1M66 81h1M76 81h1M83 81h1M86 81h1M6 82h1M23 82h1M25 82h1M27 82h1M39 82h1M42 82h1M49 82h1M60 82h1M62 82h1M72 82h1M18 83h1M21 83h1M26 83h1M31 83h1M34 83h1M40 83h2M48 83h1M53 83h2M63 83h1M79 83h1M16 84h1M18 84h1M31 84h1M46 84h1M54 84h1M59 84h1M64 84h1M67 84h1M71 84h1M78 84h1M80 84h1M8 85h1M12 85h1M14 85h1M19 85h1M43 85h1M46 85h1M55 85h1M65 85h1M72 85h1M77 85h1M84 85h1M10 86h1M19 86h1M21 86h1M28 86h1M48 86h1M57 86h1M63 86h1M69 86h1M26 87h1M32 87h1M46 87h1M56 87h1M17 88h1M20 88h1M23 88h1M31 88h2M50 88h1M59 88h1M79 88h3M88 88h1M17 89h1M45 89h1M65 89h1M35 90h1M50 90h1M61 90h1M71 90h1M84 90h1M23 91h1M36 91h1M42 91h1M74 91h1M32 92h1M46 92h1M58 92h1M54 93h1M46 94h1M50 94h1M65 94h1M37 95h1M40 95h1M46 95h1M55 95h1M58 95h1M46 96h1M52 96h1M65 96h1M43 97h1M69 97h1M58 98h1M64 98h1M61 99h1"/><path stroke="#e2bdb1" d="M69 -1h1M60 2h1M62 2h1M61 3h1M76 5h1M79 5h1M81 5h1M66 6h1M76 7h1M85 7h1M77 8h1M53 10h1M82 10h1M65 11h1M70 11h1M76 11h1M56 12h1M58 12h2M74 12h1M57 13h3M90 13h1M69 14h1M79 14h1M68 15h1M77 15h1M42 17h1M47 17h1M56 17h1M69 17h1M75 17h1M80 17h2M84 17h1M89 17h1M61 18h1M63 18h1M69 18h1M87 18h1M52 19h1M62 19h1M77 19h1M86 19h2M89 19h2M92 19h1M50 20h1M64 20h1M72 20h1M85 20h1M51 21h1M60 21h1M63 21h1M72 21h2M79 21h3M85 21h2M37 22h1M39 22h1M52 22h1M83 22h1M87 22h1M90 22h1M42 23h1M45 23h1M71 23h1M89 23h1M96 23h1M35 24h1M44 24h2M47 24h1M78 24h1M40 25h1M43 25h1M98 25h1M39 26h1M80 26h1M41 27h1M34 28h1M30 30h1M95 30h1M4 33h1M34 33h1M24 35h1M29 38h1M48 58h2M28 62h1M49 62h1M20 66h1M21 67h1M26 67h1M63 67h1M69 68h1M80 68h1M23 69h1M63 69h1M78 69h1M60 70h1M63 70h1M68 70h1M66 71h1M69 71h1M25 72h1M65 72h1M68 72h1M72 72h1M20 73h1M26 73h2M63 73h2M71 73h1M73 73h2M86 73h1M90 73h1M97 73h1M5 74h1M25 74h1M61 74h3M66 74h1M81 74h1M96 74h1M11 75h2M24 75h1M41 75h1M63 75h1M67 75h1M69 75h1M71 75h1M73 75h1M88 75h1M96 75h1M6 76h1M11 76h1M20 76h3M24 76h1M27 76h2M37 76h2M42 76h1M44 76h1M60 76h1M63 76h1M65 76h3M74 76h2M77 76h1M96 76h1M18 77h1M24 77h1M26 77h1M44 77h1M63 77h1M75 77h1M80 77h1M84 77h1M88 77h1M16 78h1M25 78h1M28 78h1M30 78h1M36 78h1M38 78h1M42 78h3M47 78h1M60 78h2M63 78h1M66 78h1M68 78h1M70 78h1M73 78h2M87 78h1M89 78h1M5 79h1M19 79h2M32 79h1M34 79h2M40 79h1M42 79h1M47 79h1M64 79h2M74 79h1M78 79h1M81 79h1M84 79h1M90 79h1M94 79h1M20 80h1M35 80h2M43 80h1M49 80h1M62 80h1M65 80h2M78 80h2M88 80h1M8 81h1M19 81h1M22 81h3M26 81h1M28 81h1M33 81h2M37 81h1M39 81h1M43 81h1M58 81h1M61 81h1M65 81h1M69 81h1M71 81h1M80 81h1M92 81h1M12 82h1M18 82h1M21 82h2M32 82h1M47 82h1M55 82h1M61 82h1M63 82h1M70 82h1M82 82h1M90 82h1M92 82h1M20 83h1M25 83h1M30 83h1M38 83h1M49 83h1M57 83h1M60 83h1M62 83h1M73 83h1M75 83h1M93 83h1M10 84h1M15 84h1M26 84h1M28 84h3M40 84h1M44 84h1M50 84h1M57 84h2M62 84h1M79 84h1M84 84h1M17 85h1M30 85h1M36 85h1M39 85h1M41 85h1M54 85h1M58 85h2M78 85h1M80 85h1M11 86h1M16 86h1M33 86h1M40 86h1M56 86h1M59 86h2M70 86h1M72 86h1M12 87h1M38 87h1M58 87h1M82 87h1M21 88h1M30 88h1M38 88h1M40 88h1M48 88h1M76 88h1M87 88h1M23 89h1M43 89h1M53 89h1M86 89h1M31 90h1M37 90h1M39 90h1M79 90h1M38 91h1M73 91h1M27 92h2M33 93h1M28 94h1M52 95h1M42 98h1M44 98h1M54 98h1M42 99h1M45 99h1M51 99h1"/><path stroke="#d9a493" d="M59 5h1M65 6h1M74 6h1M65 7h1M75 7h1M82 7h1M52 9h1M76 9h1M78 9h1M80 9h1M84 9h1M59 10h1M61 10h1M79 10h1M84 10h1M71 11h1M42 14h1M57 14h1M67 14h1M84 14h1M53 15h2M74 15h1M86 15h1M89 15h1M48 16h1M84 16h1M40 17h1M82 17h1M56 18h1M72 18h2M78 18h1M81 18h1M84 18h1M63 19h1M70 19h3M74 19h3M78 19h1M81 19h2M44 20h1M74 20h1M76 20h1M79 20h1M82 20h1M84 20h1M88 20h1M96 20h1M75 21h1M82 21h1M89 21h1M92 21h1M96 21h1M35 22h1M44 22h1M58 22h1M67 22h1M75 22h1M77 22h1M84 22h1M89 22h1M97 22h1M84 23h2M75 24h1M79 24h1M46 25h1M95 25h1M40 26h1M44 26h1M81 26h1M95 26h1M98 26h1M36 27h1M43 27h1M82 27h1M84 27h1M91 27h1M33 28h1M35 28h1M37 28h1M96 28h1M31 30h1M24 31h1M32 31h1M30 32h1M23 33h1M23 34h1M24 36h1M26 37h1M32 37h1M28 42h1M34 58h1M48 59h1M31 61h1M47 61h1M20 62h1M26 62h1M32 62h1M29 63h1M23 64h1M29 64h1M31 64h1M21 65h1M71 65h1M22 66h1M24 66h2M22 67h2M64 67h2M22 68h1M61 68h1M68 68h1M24 69h1M60 69h1M66 69h1M69 69h1M72 69h1M80 69h1M24 70h2M64 70h1M71 70h1M73 70h1M75 70h2M79 70h1M18 71h1M23 71h1M26 71h1M64 71h1M68 71h1M70 71h2M74 71h2M3 72h1M18 72h2M26 72h1M62 72h1M76 72h1M80 72h1M16 73h1M61 73h1M65 73h1M68 73h2M72 73h1M78 73h1M80 73h1M85 73h1M91 73h1M95 73h1M20 74h1M64 74h1M68 74h1M72 74h1M79 74h2M82 74h1M5 75h1M18 75h1M20 75h2M60 75h1M68 75h1M70 75h1M74 75h1M79 75h1M81 75h2M16 76h1M25 76h1M40 76h1M43 76h1M64 76h1M72 76h1M76 76h1M81 76h1M85 76h2M90 76h1M92 76h1M6 77h1M8 77h1M10 77h1M15 77h1M20 77h3M25 77h1M32 77h1M37 77h1M43 77h1M60 77h3M68 77h1M72 77h1M77 77h3M82 77h1M95 77h1M13 78h1M20 78h1M23 78h2M27 78h1M32 78h3M39 78h1M41 78h1M46 78h1M48 78h1M59 78h1M80 78h4M86 78h1M93 78h1M10 79h1M13 79h1M21 79h1M23 79h4M28 79h3M43 79h3M69 79h1M77 79h1M80 79h1M82 79h1M86 79h1M9 80h1M19 80h1M21 80h1M30 80h1M33 80h1M38 80h2M41 80h1M44 80h2M47 80h1M56 80h1M64 80h1M67 80h2M70 80h1M74 80h2M85 80h1M92 80h1M17 81h1M41 81h1M67 81h1M72 81h2M81 81h1M91 81h1M14 82h1M16 82h1M19 82h1M40 82h1M43 82h1M52 82h1M56 82h2M68 82h1M71 82h1M73 82h1M75 82h1M83 82h2M86 82h1M17 83h1M51 83h1M56 83h1M17 84h1M24 84h1M42 84h1M15 85h1M26 85h2M56 85h2M14 86h1M26 86h1M29 86h1M45 86h1M54 86h1M86 86h2M16 87h1M31 87h1M41 87h1M51 87h1M79 87h1M81 87h1M13 88h1M15 88h1M79 89h1M85 89h1M68 91h1M26 92h1M80 92h1M20 93h1M28 93h1M40 93h1M38 94h1M62 94h1M44 95h1M70 95h1M39 96h1M67 96h1M38 97h1M45 97h1M47 98h1M52 99h1"/><path stroke="#d28c7b" d="M48 2h1M57 4h1M62 4h1M80 4h1M77 5h1M70 6h1M78 7h1M80 7h1M76 8h1M79 8h1M71 9h1M77 10h1M56 11h1M87 11h1M54 12h1M73 12h1M80 12h1M60 13h1M73 13h1M81 13h1M47 14h1M82 14h1M83 15h1M88 15h1M41 16h1M75 16h2M45 17h1M65 17h1M70 17h1M76 17h1M85 17h1M92 17h1M94 17h1M40 18h1M50 18h1M67 18h1M79 18h2M93 18h1M57 19h1M68 19h2M80 19h1M83 19h1M46 20h1M56 20h1M67 20h1M69 20h1M75 20h1M77 20h2M81 20h1M89 20h1M95 20h1M53 21h1M58 21h1M62 21h1M65 21h1M76 21h2M88 21h1M46 22h1M76 22h1M81 22h2M86 22h1M40 23h1M65 23h1M68 23h1M80 23h1M82 23h2M93 23h1M48 24h1M62 24h1M73 24h1M86 24h1M89 24h1M98 24h1M35 25h1M37 25h1M53 25h1M79 25h1M84 25h1M86 25h1M43 26h1M46 26h1M70 26h1M78 26h1M88 26h2M97 26h1M37 27h1M40 27h1M42 27h1M80 27h2M87 27h1M38 28h1M42 28h1M90 28h1M39 29h1M38 30h1M46 30h1M50 30h1M94 30h1M33 32h1M7 33h1M21 33h1M33 34h1M34 35h1M25 38h1M24 39h1M27 39h1M47 43h1M26 45h1M55 49h1M58 51h1M26 57h1M27 59h2M32 59h1M49 59h1M26 61h1M32 61h1M48 61h1M26 63h1M34 63h1M55 63h1M59 63h1M21 64h1M28 64h1M27 65h1M30 65h1M58 65h2M61 65h1M63 65h1M26 66h1M59 66h2M64 66h1M71 66h2M60 67h1M62 67h1M68 67h1M72 67h1M74 67h1M20 68h1M60 68h1M63 68h1M65 68h1M72 68h4M19 69h2M22 69h1M25 69h1M27 69h1M64 69h2M68 69h1M73 69h1M84 69h1M26 70h2M62 70h1M65 70h1M70 70h1M82 70h1M85 70h1M14 71h1M20 71h1M27 71h1M72 71h2M76 71h1M85 71h1M17 72h1M23 72h1M61 72h1M64 72h1M69 72h2M74 72h1M78 72h1M82 72h1M85 72h1M88 72h1M5 73h1M15 73h1M18 73h2M22 73h2M70 73h1M82 73h1M98 73h1M11 74h1M15 74h1M19 74h1M23 74h1M65 74h1M70 74h1M73 74h2M76 74h1M83 74h1M88 74h2M94 74h1M97 74h1M16 75h2M23 75h1M40 75h1M64 75h2M75 75h2M84 75h1M86 75h1M5 76h1M10 76h1M12 76h1M14 76h1M19 76h1M39 76h1M73 76h1M79 76h1M83 76h1M17 77h1M23 77h1M28 77h1M45 77h1M47 77h1M65 77h2M69 77h1M71 77h1M81 77h1M83 77h1M86 77h1M91 77h1M7 78h1M22 78h1M26 78h1M45 78h1M72 78h1M78 78h2M84 78h2M92 78h1M11 79h1M27 79h1M38 79h1M46 79h1M48 79h1M62 79h1M68 79h1M83 79h1M91 79h1M18 80h1M22 80h2M77 80h1M12 81h1M15 81h2M40 81h1M46 81h1M68 81h1M90 81h1M10 82h1M45 82h1M50 82h1M58 82h1M81 82h1M14 83h1M42 83h1M70 83h1M76 83h1M89 83h1M22 84h2M27 84h1M32 84h1M36 84h1M68 84h1M77 84h1M83 84h1M85 84h1M31 85h1M61 85h2M67 85h1M83 85h1M86 85h1M27 86h1M76 86h1M11 87h1M13 87h1M24 87h1M59 87h1M19 89h1M21 89h1M36 95h1M77 95h1M68 97h1M46 98h1M52 98h1M43 99h1"/><path stroke="#ca7665" d="M80 3h1M68 4h1M64 5h1M71 5h1M70 7h1M43 13h1M75 13h1M77 13h1M82 13h1M87 13h1M53 14h1M64 14h1M45 15h1M49 15h1M58 15h1M61 15h1M74 16h1M77 16h1M53 17h1M72 17h1M83 17h1M58 18h1M62 18h1M71 18h1M55 19h1M73 19h1M70 20h2M91 20h1M38 21h1M55 21h1M57 21h1M67 21h1M74 21h1M83 21h1M87 21h1M53 22h1M57 22h1M60 22h1M63 22h1M66 22h1M68 22h1M72 22h3M80 22h1M85 22h1M93 22h1M34 23h2M50 23h1M53 23h2M56 23h1M69 23h2M73 23h4M78 23h1M81 23h1M86 23h3M90 23h1M94 23h1M40 24h1M51 24h1M56 24h1M71 24h1M76 24h1M80 24h1M88 24h1M90 24h1M92 24h2M96 24h1M39 25h1M45 25h1M51 25h1M71 25h1M80 25h2M87 25h1M90 25h1M42 26h1M57 26h1M68 26h1M71 26h1M84 26h2M90 26h1M93 26h1M34 27h1M39 27h1M51 27h1M63 27h1M66 27h1M88 27h1M39 28h1M41 28h1M50 28h1M68 28h1M81 28h1M95 28h1M75 29h1M79 29h1M92 29h1M91 30h1M30 31h1M60 31h1M31 32h1M34 32h1M75 32h1M27 33h1M30 34h2M44 34h1M59 36h1M31 37h1M47 38h1M43 40h1M42 41h1M44 41h1M49 41h1M47 42h1M43 44h1M-1 54h1M30 57h1M44 57h1M22 58h1M25 58h1M36 58h1M33 59h1M47 59h1M50 59h1M22 60h1M47 60h2M28 61h1M34 61h1M46 61h1M49 61h1M22 62h1M21 63h2M25 63h1M58 63h1M68 63h1M22 64h1M27 64h1M30 64h1M57 64h2M60 64h1M62 64h1M73 64h1M22 65h1M25 65h1M29 65h1M56 65h1M60 65h1M62 65h1M64 65h1M66 65h2M74 65h1M76 65h1M19 66h1M65 66h3M75 66h1M58 67h1M67 67h1M69 67h1M71 67h1M73 67h1M78 67h1M80 67h1M84 67h1M19 68h1M64 68h1M67 68h1M70 68h1M77 68h1M84 68h1M21 69h1M26 69h1M61 69h2M67 69h1M75 69h1M82 69h1M86 69h1M4 70h1M11 70h1M16 70h2M23 70h1M67 70h1M69 70h1M78 70h1M81 70h1M86 70h1M62 71h2M65 71h1M77 71h2M83 71h1M97 71h1M12 72h1M15 72h1M20 72h2M71 72h1M83 72h2M87 72h1M9 73h1M13 73h2M21 73h1M77 73h1M79 73h1M81 73h1M83 73h1M9 74h1M14 74h1M16 74h3M21 74h1M75 74h1M78 74h1M92 74h1M4 75h1M13 75h1M28 75h1M66 75h1M78 75h1M83 75h1M85 75h1M87 75h1M91 75h1M9 76h1M15 76h1M17 76h2M36 76h1M71 76h1M78 76h1M80 76h1M84 76h1M93 76h2M7 77h1M13 77h2M19 77h1M85 77h1M6 78h1M9 78h1M12 78h1M17 78h3M15 79h1M22 79h1M41 79h1M88 79h2M95 79h1M10 80h1M15 80h1M31 80h1M11 81h1M44 81h1M9 82h1M11 82h1M24 82h1M41 82h1M80 82h1M9 83h1M13 83h1M50 83h1M72 83h1M90 83h1M8 84h1M12 84h1M56 84h1M38 85h1M76 85h1M17 86h1M46 86h1M77 86h2M80 86h1M75 87h1M14 88h1M64 88h1M73 89h1M30 91h1M41 95h1M76 96h1M52 97h1M43 98h1"/><path stroke="#c26050" d="M68 2h1M65 5h1M62 7h1M78 8h1M62 9h1M85 9h1M48 10h1M88 10h1M75 11h1M63 13h1M46 14h1M60 14h1M75 14h1M78 14h1M91 14h1M56 16h1M64 16h1M88 16h1M59 18h1M65 18h1M74 18h1M83 18h1M64 19h2M96 19h1M60 20h1M63 20h1M65 20h1M68 20h1M73 20h1M80 20h1M90 20h1M54 21h1M66 21h1M70 21h2M84 21h1M48 22h1M54 22h1M62 22h1M65 22h1M69 22h1M88 22h1M91 22h1M51 23h2M58 23h5M66 23h1M72 23h1M79 23h1M92 23h1M55 24h1M58 24h2M63 24h2M67 24h1M77 24h1M82 24h1M85 24h1M95 24h1M42 25h1M56 25h2M62 25h2M66 25h1M72 25h2M76 25h2M82 25h2M91 25h1M93 25h1M96 25h1M48 26h1M53 26h1M56 26h1M64 26h2M86 26h1M91 26h1M96 26h1M38 27h1M45 27h1M53 27h1M55 27h2M59 27h1M69 27h1M73 27h1M85 27h1M89 27h1M94 27h2M99 27h1M31 28h1M40 28h1M43 28h1M45 28h3M54 28h1M58 28h1M63 28h2M67 28h1M69 28h1M76 28h1M82 28h2M88 28h2M92 28h2M35 29h1M40 29h1M55 29h1M67 29h1M69 29h1M80 29h1M83 29h1M85 29h1M88 29h1M90 29h1M94 29h1M36 30h2M39 30h1M83 30h2M23 31h1M31 31h1M33 31h1M37 31h1M40 31h1M61 31h1M67 31h3M86 31h1M92 31h1M9 32h1M27 32h1M39 32h1M48 32h1M69 32h2M92 32h1M6 33h1M8 33h1M11 33h1M22 33h1M51 33h1M58 33h1M83 33h1M24 34h1M29 34h1M52 35h1M25 36h1M49 36h1M51 36h1M60 38h1M66 38h1M45 39h1M38 40h1M25 41h1M24 42h1M49 42h1M26 43h1M45 44h3M42 45h1M39 46h1M23 47h1M52 49h1M68 50h1M39 51h1M25 56h1M34 57h1M26 59h1M34 59h1M52 59h1M28 60h1M20 61h1M22 61h1M24 61h1M50 61h1M60 61h1M31 62h1M28 63h1M32 63h1M76 63h2M33 64h1M55 64h2M59 64h1M61 64h1M64 64h1M68 64h1M70 64h1M72 64h1M75 64h1M57 65h1M70 65h1M77 65h2M21 66h1M58 66h1M62 66h2M74 66h1M76 66h3M18 67h2M25 67h1M66 67h1M75 67h1M77 67h1M6 68h1M21 68h1M25 68h1M71 68h1M78 68h1M85 68h1M18 69h1M70 69h1M74 69h1M76 69h1M79 69h1M14 70h1M19 70h3M77 70h1M87 70h2M97 70h1M6 71h1M10 71h1M13 71h1M17 71h1M19 71h1M22 71h1M61 71h1M79 71h4M84 71h1M86 71h1M88 71h1M10 72h1M63 72h1M67 72h1M79 72h1M89 72h1M93 72h2M11 73h1M75 73h1M84 73h1M89 73h1M94 73h1M69 74h1M84 74h3M7 75h1M14 75h2M19 75h1M80 75h1M87 76h1M4 77h2M70 77h1M29 78h1M12 79h1M16 79h1M18 79h1M6 80h1M11 80h2M14 80h1M63 80h1M29 81h1M13 82h1M29 82h1M46 82h1M15 83h1M44 83h1M81 83h1M25 84h1M11 85h1M13 85h1M83 86h1M76 87h1M78 87h1M76 89h1M25 92h1"/><path stroke="#ba4d3e" d="M79 9h1M77 11h1M86 11h1M84 12h1M91 15h1M58 17h1M86 17h1M59 19h2M67 19h1M85 19h1M61 20h2M66 20h1M50 21h1M59 21h1M64 21h1M68 21h2M49 22h1M56 22h1M59 22h1M64 22h1M67 23h1M53 24h2M68 24h3M72 24h1M83 24h1M87 24h1M91 24h1M47 25h3M55 25h1M58 25h3M64 25h1M67 25h3M74 25h1M88 25h2M94 25h1M55 26h1M60 26h1M63 26h1M67 26h1M73 26h3M77 26h1M79 26h1M83 26h1M87 26h1M92 26h1M35 27h1M46 27h1M50 27h1M54 27h1M57 27h1M61 27h1M64 27h1M67 27h2M70 27h1M72 27h1M74 27h1M83 27h1M86 27h1M92 27h1M97 27h2M44 28h1M48 28h1M51 28h1M53 28h1M55 28h1M60 28h1M65 28h1M72 28h3M77 28h1M79 28h2M86 28h1M91 28h1M94 28h1M97 28h2M36 29h3M44 29h1M52 29h1M62 29h1M66 29h1M71 29h2M77 29h2M81 29h2M84 29h1M87 29h1M93 29h1M95 29h1M42 30h1M44 30h1M48 30h1M51 30h1M54 30h2M68 30h1M72 30h1M77 30h1M82 30h1M87 30h1M92 30h2M27 31h1M38 31h1M56 31h1M74 31h1M80 31h3M91 31h1M37 32h1M46 32h2M52 32h3M80 32h2M91 32h1M96 32h1M9 33h1M25 33h1M35 33h1M38 33h1M42 33h1M56 33h1M66 33h2M77 33h1M80 33h2M8 34h1M27 34h1M39 34h1M43 34h1M53 34h1M56 34h1M63 34h1M67 34h1M94 34h1M28 35h2M49 35h1M58 35h2M68 35h1M42 36h1M50 36h1M72 36h1M27 37h2M39 37h1M53 37h1M59 37h1M43 38h1M46 38h1M53 38h1M58 38h1M74 38h1M34 39h1M43 39h1M59 39h1M84 39h1M42 40h1M45 40h1M48 40h1M64 40h1M66 40h1M17 41h1M23 41h1M50 41h1M56 41h1M60 41h1M25 42h1M43 42h1M56 42h2M48 44h1M47 46h1M62 46h1M6 53h1M27 53h1M23 55h1M37 55h1M24 56h1M24 57h1M31 57h1M36 57h1M46 57h1M20 58h1M24 58h1M29 58h1M33 58h1M22 59h1M24 59h1M40 59h1M58 59h1M24 60h1M32 60h2M53 60h1M23 61h1M27 61h1M33 61h1M35 61h1M34 62h1M59 62h2M65 62h1M68 62h1M70 62h1M19 63h2M57 63h1M61 63h1M64 63h2M67 63h1M71 63h1M73 63h2M79 63h1M19 64h1M63 64h1M69 64h1M71 64h1M74 64h1M19 65h2M26 65h1M65 65h1M15 66h1M18 66h1M23 66h1M28 66h1M68 66h1M73 66h1M79 66h1M82 66h2M20 67h1M59 67h1M61 67h1M70 67h1M76 67h1M79 67h1M85 67h3M15 68h3M62 68h1M79 68h1M81 68h1M83 68h1M11 69h1M13 69h1M16 69h2M71 69h1M77 69h1M83 69h1M85 69h1M88 69h1M90 69h1M94 69h1M83 70h2M91 70h2M95 70h1M9 71h1M12 71h1M90 71h1M94 71h1M96 71h1M8 72h1M13 72h1M16 72h1M77 72h1M86 72h1M90 72h1M96 72h1M4 73h1M12 73h1M87 73h1M6 74h3M10 74h1M12 74h1M87 74h1M91 74h1M8 75h2M77 75h1M89 75h1M8 76h1M82 76h1M89 76h1M91 76h1M9 77h1M10 78h1M88 78h1M8 79h2M14 79h1M8 80h1M13 80h1M9 81h1M89 81h1M79 85h1M81 86h1M17 87h1M29 91h1M24 92h1M47 99h1"/><path stroke="#b0372d" d="M48 3h1M60 3h1M80 6h1M86 10h1M89 10h1M46 11h1M78 11h1M83 12h1M87 12h2M88 13h1M88 14h1M60 17h1M71 17h1M55 18h1M56 19h1M66 19h1M53 20h1M61 21h1M94 21h1M61 22h1M71 22h1M55 23h1M63 23h1M77 23h1M49 24h1M57 24h1M60 24h1M50 25h1M52 25h1M61 25h1M65 25h1M70 25h1M75 25h1M78 25h1M85 25h1M92 25h1M47 26h1M49 26h3M61 26h1M66 26h1M69 26h1M72 26h1M76 26h1M82 26h1M94 26h1M33 27h1M44 27h1M47 27h3M60 27h1M65 27h1M71 27h1M75 27h1M77 27h2M90 27h1M93 27h1M36 28h1M49 28h1M52 28h1M56 28h1M61 28h1M66 28h1M70 28h1M75 28h1M78 28h1M84 28h1M41 29h2M51 29h1M53 29h2M57 29h1M59 29h1M63 29h1M68 29h1M74 29h1M76 29h1M86 29h1M89 29h1M91 29h1M96 29h3M28 30h1M40 30h1M43 30h1M49 30h1M58 30h1M60 30h1M70 30h1M75 30h2M80 30h2M85 30h2M90 30h1M26 31h1M28 31h1M35 31h2M44 31h1M47 31h2M52 31h3M59 31h1M65 31h1M70 31h1M76 31h1M78 31h2M90 31h1M94 31h1M97 31h1M99 31h1M23 32h1M36 32h1M38 32h1M42 32h1M44 32h1M50 32h2M57 32h1M64 32h1M66 32h1M68 32h1M77 32h3M84 32h1M89 32h1M94 32h2M29 33h1M40 33h1M43 33h1M48 33h1M52 33h2M59 33h5M68 33h1M73 33h1M10 34h1M36 34h2M41 34h2M51 34h1M55 34h1M64 34h1M72 34h1M74 34h2M79 34h1M4 35h1M30 35h1M46 35h1M51 35h1M55 35h2M60 35h1M67 35h1M70 35h1M73 35h1M97 35h1M1 36h1M30 36h1M41 36h1M52 36h2M56 36h1M58 36h1M60 36h2M63 36h2M67 36h2M79 36h1M38 37h1M42 37h2M49 37h2M52 37h1M66 37h1M69 37h1M34 38h1M39 38h1M52 38h1M57 38h1M63 38h2M69 38h1M75 38h1M33 39h1M42 39h1M49 39h1M53 39h2M34 40h1M41 40h1M56 40h1M62 40h1M9 41h1M40 41h1M51 41h1M55 41h1M57 41h1M31 42h1M46 42h1M48 42h1M54 42h1M66 42h1M46 43h1M2 44h1M40 46h1M48 46h1M53 46h1M93 46h1M56 47h1M56 48h1M90 51h1M66 54h1M19 55h1M42 55h1M56 55h2M35 56h1M46 56h1M1 57h1M42 57h1M21 58h1M26 58h1M59 58h1M73 58h1M30 59h1M36 59h1M53 59h1M59 59h1M66 59h1M27 60h1M29 60h1M34 60h1M55 60h2M61 60h1M64 60h1M84 60h1M61 61h1M66 61h1M71 61h3M16 62h1M19 62h1M24 62h1M30 62h1M56 62h1M69 62h1M72 62h1M33 63h1M56 63h1M60 63h1M70 63h1M82 63h1M84 63h1M20 64h1M26 64h1M65 64h1M78 64h2M23 65h1M68 65h2M72 65h2M75 65h1M79 65h2M82 65h1M1 66h1M13 66h1M16 66h1M61 66h1M81 66h1M85 66h1M14 67h1M17 67h1M83 67h1M82 68h1M89 68h1M12 69h1M95 69h1M1 70h1M13 70h1M15 70h1M18 70h1M61 70h1M80 70h1M93 70h1M8 71h1M15 71h2M87 71h1M6 72h2M14 72h1M91 72h2M6 73h1M8 73h1M10 73h1M13 74h1M93 74h1M90 75h1M93 75h1M97 75h1M3 76h1M11 77h1M87 77h1M89 77h1M93 77h1M8 78h1M15 78h1M47 84h1M75 90h1M39 98h1"/><path stroke="#a62a24" d="M61 5h1M59 11h1M81 12h1M57 18h1M61 19h1M49 23h1M57 23h1M64 23h1M61 24h1M65 24h1M54 25h1M45 26h1M52 26h1M62 26h1M58 27h1M62 27h1M76 27h1M79 27h1M57 28h1M59 28h1M62 28h1M71 28h1M85 28h1M87 28h1M30 29h1M43 29h1M45 29h1M47 29h4M58 29h1M60 29h2M64 29h2M73 29h1M99 29h1M41 30h1M45 30h1M47 30h1M52 30h1M56 30h2M59 30h1M61 30h2M65 30h2M74 30h1M88 30h2M39 31h1M41 31h1M43 31h1M46 31h1M50 31h1M55 31h1M58 31h1M63 31h2M71 31h3M77 31h1M83 31h2M88 31h2M98 31h1M32 32h1M40 32h1M45 32h1M49 32h1M55 32h2M58 32h1M60 32h1M62 32h1M67 32h1M72 32h1M74 32h1M76 32h1M85 32h1M90 32h1M26 33h1M31 33h1M33 33h1M37 33h1M44 33h4M49 33h1M54 33h1M57 33h1M64 33h2M69 33h1M72 33h1M74 33h1M76 33h1M78 33h2M85 33h1M88 33h1M90 33h1M96 33h1M4 34h1M9 34h1M38 34h1M40 34h1M45 34h1M50 34h1M52 34h1M54 34h1M59 34h1M62 34h1M69 34h1M73 34h1M76 34h1M81 34h2M87 34h1M89 34h2M95 34h1M13 35h1M26 35h1M35 35h3M40 35h3M45 35h1M50 35h1M53 35h1M63 35h2M66 35h1M74 35h1M82 35h1M94 35h1M31 36h1M35 36h1M37 36h2M43 36h1M45 36h2M48 36h1M54 36h1M57 36h1M66 36h1M69 36h1M77 36h1M81 36h1M8 37h1M46 37h3M56 37h3M60 37h1M64 37h1M68 37h1M70 37h1M30 38h1M32 38h1M38 38h1M40 38h2M45 38h1M55 38h1M78 38h1M28 39h1M35 39h1M44 39h1M50 39h1M56 39h2M60 39h1M67 39h1M72 39h1M14 40h1M26 40h1M44 40h1M57 40h1M18 41h1M34 41h1M41 41h1M43 41h1M52 41h1M54 41h1M58 41h1M64 41h1M69 41h1M40 42h2M55 42h1M60 42h1M19 43h1M44 43h2M53 43h1M28 44h1M41 44h1M44 44h1M55 44h1M61 44h1M81 44h1M23 45h1M46 45h1M48 45h1M56 45h1M63 45h1M43 46h1M60 46h1M58 47h1M57 48h1M59 48h2M71 48h1M88 48h1M38 49h1M58 49h1M64 49h3M74 50h1M79 50h1M82 50h1M92 50h1M36 51h1M56 51h1M65 51h1M67 51h1M45 52h1M68 52h1M55 53h1M44 54h1M47 54h1M39 55h1M66 55h1M23 56h1M53 56h1M60 56h2M69 56h1M100 56h1M8 57h1M27 57h1M52 57h1M72 57h1M19 58h1M23 58h1M30 58h1M53 58h4M62 58h1M69 58h1M23 59h1M25 59h1M29 59h1M35 59h1M39 59h1M54 59h1M60 59h1M70 59h1M74 59h1M19 60h1M23 60h1M25 60h1M30 60h1M35 60h2M57 60h1M62 60h1M69 60h1M21 61h1M30 61h1M58 61h2M70 61h1M17 62h1M23 62h1M27 62h1M29 62h1M33 62h1M55 62h1M57 62h1M64 62h1M67 62h1M71 62h1M79 62h1M17 63h2M24 63h1M30 63h1M62 63h1M66 63h1M69 63h1M72 63h1M75 63h1M78 63h1M81 63h1M18 64h1M24 64h2M66 64h2M76 64h2M80 64h1M12 65h1M18 65h1M24 65h1M14 66h1M80 66h1M84 66h1M89 66h1M8 67h1M11 67h1M16 67h1M81 67h1M13 68h1M18 68h1M86 68h2M96 68h2M9 69h1M89 69h1M91 69h1M96 69h1M98 69h1M5 70h3M12 70h1M72 70h1M89 70h2M4 71h1M7 71h1M93 71h1M95 71h1M2 72h1M5 72h1M9 72h1M81 72h1M7 73h1M88 73h1M92 73h1M10 75h1M92 75h1M94 75h1M7 76h1M91 78h1M7 81h1M56 99h1"/><path stroke="#9d2623" d="M83 5h1M71 7h1M87 8h1M59 15h1M75 15h1M67 16h1M57 17h1M58 19h1M50 24h1M66 24h1M97 24h1M58 26h2M52 27h1M96 27h1M64 30h1M67 30h1M71 30h1M73 30h1M79 30h1M97 30h1M42 31h1M45 31h1M49 31h1M51 31h1M57 31h1M66 31h1M75 31h1M85 31h1M87 31h1M93 31h1M95 31h1M35 32h1M41 32h1M43 32h1M71 32h1M83 32h1M87 32h2M10 33h1M39 33h1M41 33h1M50 33h1M55 33h1M70 33h1M75 33h1M84 33h1M93 33h1M3 34h1M46 34h1M48 34h1M57 34h2M60 34h1M65 34h2M71 34h1M77 34h1M80 34h1M84 34h1M86 34h1M98 34h1M32 35h1M38 35h2M43 35h2M47 35h2M54 35h1M57 35h1M61 35h2M65 35h1M69 35h1M72 35h1M75 35h5M83 35h1M36 36h1M39 36h1M44 36h1M47 36h1M62 36h1M65 36h1M70 36h1M74 36h1M80 36h1M2 37h1M29 37h2M33 37h1M41 37h1M44 37h2M51 37h1M61 37h2M65 37h1M67 37h1M71 37h2M74 37h1M77 37h1M79 37h1M83 37h1M31 38h1M51 38h1M54 38h1M56 38h1M59 38h1M65 38h1M73 38h1M94 38h1M97 38h1M30 39h1M37 39h1M40 39h1M46 39h1M48 39h1M51 39h1M58 39h1M62 39h1M82 39h1M6 40h1M30 40h1M40 40h1M46 40h1M49 40h2M58 40h1M65 40h1M69 40h1M24 41h1M45 41h1M59 41h1M68 41h1M72 41h1M23 42h1M30 42h1M63 42h1M70 42h1M83 42h1M25 43h1M43 43h1M50 43h1M3 44h1M25 44h1M40 44h1M54 44h1M59 44h1M25 45h1M45 45h1M53 45h1M61 45h1M72 45h1M91 45h1M24 46h1M42 46h1M50 46h1M22 47h1M36 47h1M90 47h1M54 48h1M62 48h1M56 49h1M79 49h1M57 50h1M59 50h1M97 50h1M31 51h1M55 51h1M73 51h1M91 51h1M98 51h1M-1 52h1M55 52h2M99 52h1M25 53h1M57 53h1M60 53h1M68 53h1M60 54h1M63 54h1M68 54h1M75 54h1M97 54h1M5 55h1M62 55h1M64 55h1M72 55h1M76 55h1M26 56h2M40 56h1M50 56h1M58 56h1M63 56h1M65 56h2M74 56h1M17 57h1M22 57h1M37 57h1M55 57h2M58 57h1M62 57h3M67 57h3M31 58h1M57 58h2M67 58h2M70 58h1M72 58h1M77 58h1M15 59h1M31 59h1M55 59h3M61 59h2M64 59h2M69 59h1M71 59h2M75 59h2M40 60h1M58 60h1M60 60h1M65 60h1M68 60h1M70 60h1M72 60h1M82 60h1M18 61h2M29 61h1M55 61h3M62 61h1M65 61h1M79 61h1M82 61h2M18 62h1M21 62h1M25 62h1M58 62h1M61 62h1M63 62h1M66 62h1M75 62h1M15 63h2M63 63h1M83 63h1M94 63h1M98 63h1M13 64h2M16 64h1M82 64h2M7 65h1M15 65h3M81 65h1M83 65h2M86 65h1M6 66h1M11 66h1M17 66h1M86 66h3M9 67h2M12 67h1M88 67h1M93 67h1M95 67h1M97 67h1M2 68h1M8 68h1M10 68h2M14 68h1M88 68h1M6 69h1M14 69h2M87 69h1M93 69h1M9 70h1M96 70h1M89 71h1M96 73h1M90 74h1M95 75h1M4 76h1M92 77h1M6 79h1"/><path stroke="#922124" d="M73 7h1M70 8h1M34 21h2M52 24h1M54 26h1M46 29h1M70 29h1M53 30h1M63 30h1M69 30h1M78 30h1M62 31h1M96 31h1M22 32h1M59 32h1M63 32h1M65 32h1M73 32h1M82 32h1M86 32h1M93 32h1M30 33h1M82 33h1M87 33h1M95 33h1M6 34h1M22 34h1M28 34h1M49 34h1M61 34h1M68 34h1M70 34h1M78 34h1M83 34h1M91 34h3M1 35h1M5 35h1M23 35h1M80 35h1M27 36h1M40 36h1M71 36h1M73 36h1M75 36h1M78 36h1M86 36h1M94 36h1M40 37h1M55 37h1M63 37h1M84 37h2M8 38h1M13 38h1M27 38h2M48 38h1M50 38h1M62 38h1M70 38h1M81 38h1M85 38h1M92 38h1M7 39h1M39 39h1M55 39h1M63 39h1M28 40h1M39 40h1M47 40h1M51 40h1M53 40h3M63 40h1M79 40h1M39 41h1M47 41h1M61 41h1M71 41h1M94 41h1M20 42h1M52 42h1M85 42h1M87 42h1M40 43h1M51 43h1M67 43h1M69 43h1M75 43h1M86 43h1M23 44h1M42 44h1M73 44h1M80 44h1M6 45h1M52 45h1M55 45h1M59 45h1M67 45h1M74 45h1M83 45h1M22 46h1M44 46h1M46 46h1M56 46h1M1 47h1M11 47h1M35 47h1M57 47h1M62 47h1M71 47h1M73 47h1M78 47h1M93 47h1M95 47h1M3 48h1M22 48h1M51 48h1M63 48h1M51 49h1M53 49h1M83 49h1M90 49h1M38 50h1M53 50h2M58 50h1M61 50h2M80 50h1M66 51h1M3 52h1M67 52h1M70 52h1M74 52h2M80 52h1M47 53h1M59 53h1M66 53h1M56 54h2M73 54h1M76 54h2M7 55h1M36 55h1M47 55h1M58 55h2M63 55h1M67 55h1M70 55h1M74 55h2M77 55h1M85 55h1M5 56h1M17 56h1M54 56h1M68 56h1M70 56h3M75 56h1M80 56h1M93 56h1M14 57h1M20 57h1M23 57h1M45 57h1M51 57h1M59 57h1M61 57h1M65 57h1M71 57h1M75 57h2M78 57h1M2 58h1M28 58h1M32 58h1M39 58h1M61 58h1M79 58h1M85 58h1M68 59h1M86 59h1M16 60h1M59 60h1M67 60h1M71 60h1M73 60h2M76 60h1M78 60h1M93 60h1M63 61h1M67 61h3M74 61h2M84 61h1M87 61h1M13 62h1M62 62h1M73 62h2M76 62h2M80 62h1M83 62h1M3 63h1M10 63h1M13 63h1M23 63h1M80 63h1M11 64h1M81 64h1M85 64h2M98 64h1M8 65h1M13 65h2M85 65h1M87 65h1M8 66h3M100 66h1M6 67h1M13 67h1M82 67h1M89 67h2M9 68h1M12 68h1M90 68h1M92 68h1M8 69h1M99 69h1M8 70h1M10 70h1M11 71h1M91 71h1M11 72h1M97 72h1M93 73h1M95 74h1M3 75h1M90 77h1M38 96h1"/><path stroke="#8a1d24" d="M62 6h1M56 8h1M65 9h1M55 12h1M65 12h1M46 13h1M42 22h1M39 24h1M26 32h1M61 32h1M97 32h1M99 32h1M71 33h1M86 33h1M89 33h1M94 33h1M2 34h1M47 34h1M85 34h1M88 34h1M9 35h1M84 35h1M86 35h1M88 35h2M96 35h1M12 36h1M29 36h1M32 36h1M55 36h1M76 36h1M84 36h2M5 37h1M9 37h1M54 37h1M73 37h1M76 37h1M80 37h2M91 37h1M97 37h1M24 38h1M61 38h1M80 38h1M82 38h2M96 38h1M11 39h1M18 39h1M26 39h1M31 39h1M47 39h1M52 39h1M64 39h2M68 39h1M70 39h1M94 39h1M19 40h1M33 40h1M86 40h1M88 40h2M14 41h1M19 41h1M78 41h1M89 41h1M93 41h1M100 41h1M22 42h1M59 42h1M64 42h1M69 42h1M94 42h1M-1 43h1M15 43h1M20 43h1M23 43h1M39 43h1M48 43h1M52 43h1M88 43h1M27 44h1M36 44h1M51 44h1M53 44h1M72 44h1M76 44h1M54 45h1M57 45h2M77 45h1M80 45h1M7 46h1M36 46h1M41 46h1M61 46h1M74 46h1M3 47h1M5 47h1M54 47h1M75 47h1M91 47h1M61 48h1M64 48h1M72 48h1M75 48h1M80 48h1M87 48h1M93 48h1M95 48h2M57 49h1M59 49h1M74 49h1M77 49h1M80 49h1M84 49h1M52 50h1M67 50h1M69 50h1M91 50h1M3 51h1M10 51h1M52 51h2M64 51h1M93 51h1M97 51h1M13 52h1M23 52h1M36 52h1M58 52h1M64 52h1M69 52h1M71 52h1M93 52h1M98 52h1M16 53h1M46 53h1M56 53h1M62 53h1M64 53h2M67 53h1M70 53h2M73 53h1M77 53h1M12 54h1M41 54h1M62 54h1M64 54h1M70 54h2M95 54h1M17 55h1M32 55h2M60 55h2M68 55h1M71 55h1M78 55h2M81 55h1M84 55h1M87 55h1M59 56h1M62 56h1M64 56h1M73 56h1M76 56h1M79 56h1M82 56h1M54 57h1M60 57h1M66 57h1M70 57h1M77 57h1M86 57h1M-1 58h1M10 58h1M27 58h1M60 58h1M71 58h1M80 58h1M83 58h2M87 58h1M19 59h1M73 59h1M77 59h2M82 59h1M89 59h1M95 59h1M97 59h1M13 60h1M15 60h1M54 60h1M66 60h1M75 60h1M77 60h1M83 60h1M85 60h1M87 60h1M92 60h1M14 61h1M17 61h1M25 61h1M64 61h1M78 61h1M80 61h2M86 61h1M0 62h1M78 62h1M82 62h1M84 62h1M86 62h2M96 62h1M98 62h1M9 63h1M11 63h1M86 63h1M3 64h1M10 64h1M12 64h1M15 64h1M87 64h1M11 65h1M90 66h1M99 66h1M1 67h1M4 67h1M15 67h1M96 67h1M99 67h1M5 68h1M2 69h1M7 69h1M10 69h1M3 70h1M94 70h1M2 74h2M89 82h1M38 86h1M88 87h1M61 97h1M57 98h1"/><path stroke="#841a25" d="M78 4h1M90 12h1M34 30h1M96 30h1M29 31h1M92 33h1M98 33h1M6 35h1M10 35h2M25 35h1M71 35h1M81 35h1M85 35h1M87 35h1M90 35h2M0 36h1M6 36h1M9 36h1M11 36h1M26 36h1M82 36h2M90 36h3M14 37h1M25 37h1M75 37h1M78 37h1M82 37h1M86 37h2M90 37h1M92 37h1M99 37h1M11 38h1M26 38h1M42 38h1M44 38h1M68 38h1M72 38h1M77 38h1M86 38h1M89 38h1M9 39h1M61 39h1M71 39h1M76 39h1M78 39h1M83 39h1M89 39h1M95 39h1M99 39h1M5 40h1M25 40h1M59 40h2M78 40h1M81 40h1M31 41h1M53 41h1M63 41h1M67 41h1M70 41h1M87 41h1M3 42h1M12 42h1M39 42h1M42 42h1M44 42h1M61 42h1M86 42h1M22 43h1M49 43h1M54 43h2M64 43h1M66 43h1M81 43h1M85 43h1M74 44h1M0 45h1M12 45h1M37 45h1M50 45h1M62 45h1M81 45h1M84 45h1M97 45h1M0 46h1M10 46h1M13 46h1M52 46h1M54 46h1M63 46h1M77 46h1M79 46h1M97 46h1M65 47h1M72 47h1M79 47h1M89 47h1M7 48h1M66 48h2M70 48h1M74 48h1M76 48h1M79 48h1M89 48h1M99 48h1M48 49h1M54 49h1M60 49h1M63 49h1M68 49h1M75 49h1M92 49h1M94 49h1M96 49h1M60 50h1M63 50h1M70 50h1M76 50h1M78 50h1M81 50h1M99 50h1M54 51h1M57 51h1M62 51h2M70 51h1M72 51h1M76 51h1M15 52h1M57 52h1M60 52h2M65 52h2M76 52h1M78 52h1M81 52h1M85 52h2M88 52h1M95 52h1M97 52h1M44 53h1M69 53h1M72 53h1M74 53h3M79 53h1M85 53h1M91 53h2M18 54h1M58 54h2M61 54h1M65 54h1M67 54h1M78 54h2M86 54h2M89 54h3M18 55h1M65 55h1M69 55h1M73 55h1M88 55h1M92 55h1M16 56h1M30 56h1M67 56h1M77 56h2M83 56h2M87 56h1M0 57h1M53 57h1M73 57h2M82 57h2M88 57h2M92 57h1M1 58h1M15 58h1M63 58h1M65 58h2M74 58h1M78 58h1M81 58h1M86 58h1M88 58h1M95 58h2M16 59h1M18 59h1M63 59h1M67 59h1M79 59h3M84 59h2M87 59h2M2 60h1M5 60h1M14 60h1M17 60h2M63 60h1M80 60h2M86 60h1M7 61h2M76 61h2M11 62h2M15 62h1M81 62h1M90 62h2M100 62h1M14 63h1M85 63h1M90 63h1M93 63h1M8 64h2M84 64h1M89 64h1M94 64h1M10 65h1M90 65h1M92 65h1M95 65h1M5 66h1M7 66h1M12 66h1M97 66h1M92 67h1M7 68h1M94 68h2M3 69h3M92 69h1M5 71h1M92 71h1M95 72h1M2 73h1"/><path stroke="#7d1725" d="M79 6h1M82 8h1M80 13h1M99 30h1M100 32h1M91 33h1M97 33h1M99 33h1M96 34h2M99 34h2M31 35h1M99 35h2M2 36h1M4 36h1M28 36h1M89 36h1M95 36h1M1 37h1M4 37h1M10 37h1M88 37h2M95 37h1M0 38h1M67 38h1M79 38h1M12 39h1M16 39h1M29 39h1M80 39h1M85 39h1M87 39h1M91 39h1M11 40h1M23 40h2M29 40h1M52 40h1M68 40h1M70 40h1M74 40h2M82 40h1M90 40h1M93 40h1M95 40h1M13 41h1M22 41h1M65 41h1M86 41h1M96 41h1M21 42h1M27 42h1M75 42h1M78 42h1M80 42h1M56 43h1M76 43h1M89 43h1M95 43h1M97 43h1M50 44h1M52 44h1M56 44h2M65 44h3M69 44h1M84 44h1M94 44h1M5 45h1M24 45h1M65 45h1M86 45h1M94 45h1M6 46h1M20 46h1M64 46h2M68 46h1M72 46h1M59 47h1M66 47h2M74 47h1M85 47h1M92 47h1M-1 48h1M1 48h1M32 48h1M58 48h1M65 48h1M78 48h1M83 48h1M85 48h1M92 48h1M11 49h1M67 49h1M69 49h2M78 49h1M82 49h1M87 49h1M97 49h1M56 50h1M65 50h2M75 50h1M84 50h1M86 50h1M88 50h1M12 51h1M35 51h1M61 51h1M69 51h1M71 51h1M82 51h1M95 51h1M4 52h1M25 52h1M44 52h1M73 52h1M77 52h1M79 52h1M84 52h1M91 52h1M2 53h1M11 53h1M28 53h1M78 53h1M81 53h1M84 53h1M88 53h1M69 54h1M72 54h1M85 54h1M92 54h1M94 54h1M9 55h1M14 55h1M82 55h1M86 55h1M89 55h1M91 55h1M96 55h1M85 56h2M88 56h1M91 56h1M2 57h1M9 57h1M15 57h2M28 57h2M79 57h1M84 57h1M87 57h1M8 58h1M64 58h1M75 58h2M0 59h1M2 59h1M13 59h1M83 59h1M1 60h1M7 60h1M12 60h1M20 60h2M79 60h1M88 60h1M6 61h1M85 61h1M88 61h1M90 61h1M92 61h1M95 61h1M6 62h1M9 62h2M14 62h1M89 62h1M93 62h1M95 62h1M97 62h1M5 63h1M7 63h1M12 63h1M87 63h2M97 63h1M100 63h1M0 64h1M7 64h1M90 64h1M96 64h1M99 64h1M4 65h1M6 65h1M93 65h2M99 65h1M91 66h2M94 66h2M0 67h1M94 67h1M91 68h1M93 68h1M3 71h1"/><path stroke="#761325" d="M78 6h1M100 33h1M7 35h1M92 35h2M95 35h1M98 35h1M3 36h1M87 36h2M11 37h1M93 37h1M9 38h1M5 39h2M13 39h1M38 39h1M41 39h1M77 39h1M90 39h1M92 39h2M67 40h1M71 40h1M77 40h1M84 40h1M1 41h1M28 41h1M48 41h1M80 41h1M85 41h1M88 41h1M98 41h1M73 42h1M82 42h1M84 42h1M89 42h1M11 43h2M61 43h3M74 43h1M78 43h1M84 43h1M90 43h1M39 44h1M63 44h2M75 44h1M86 44h1M89 44h1M99 44h1M9 45h1M38 45h1M49 45h1M69 45h1M76 45h1M79 45h1M92 45h1M100 45h1M12 46h1M19 46h1M25 46h1M80 46h2M86 46h1M90 46h3M94 46h1M2 47h1M21 47h1M60 47h1M64 47h1M68 47h1M80 47h1M84 47h1M88 47h1M96 47h1M55 48h1M90 48h1M4 49h1M61 49h1M85 49h1M89 49h1M99 49h1M23 50h1M64 50h1M77 50h1M83 50h1M89 50h1M95 50h1M22 51h1M68 51h1M75 51h1M77 51h1M14 52h1M62 52h1M83 52h1M87 52h1M90 52h1M100 52h1M63 53h1M80 53h1M83 53h1M86 53h2M89 53h2M94 53h1M11 54h1M13 54h1M17 54h1M74 54h1M80 54h3M88 54h1M93 54h1M98 54h1M8 55h1M15 55h1M21 55h1M80 55h1M83 55h1M90 55h1M94 55h1M0 56h1M3 56h1M92 56h1M94 56h1M21 57h1M80 57h2M90 57h1M97 57h1M0 58h1M7 58h1M14 58h1M17 58h1M82 58h1M90 58h3M3 59h1M9 59h1M11 59h1M17 59h1M4 60h1M8 60h3M91 60h1M94 60h1M98 60h2M11 61h3M98 61h1M1 62h1M3 62h1M5 62h1M85 62h1M88 62h1M92 62h1M4 63h1M8 63h1M89 63h1M92 63h1M96 63h1M4 64h1M88 64h1M2 65h1M9 65h1M88 65h2M91 65h1M3 66h2M5 67h1M7 67h1M91 67h1M0 68h1M99 68h1M97 69h1"/><path stroke="#6e1025" d="M80 5h1M77 7h1M5 34h1M7 34h1M10 36h1M93 36h1M12 37h1M94 37h1M10 38h1M12 38h1M14 38h1M71 38h1M76 38h1M73 39h3M79 39h1M81 39h1M86 39h1M97 39h1M7 40h1M13 40h1M27 40h1M61 40h1M73 40h1M76 40h1M92 40h1M98 40h1M0 41h1M3 41h1M6 41h1M10 41h1M73 41h1M75 41h1M81 41h1M6 42h1M9 42h1M58 42h1M62 42h1M72 42h1M76 42h1M79 42h1M81 42h1M90 42h1M97 42h1M14 43h1M79 43h1M0 44h1M58 44h1M62 44h1M71 44h1M2 45h1M51 45h1M66 45h1M68 45h1M82 45h1M71 46h1M75 46h1M85 46h1M96 46h1M0 47h1M55 47h1M61 47h1M70 47h1M76 47h1M82 47h2M87 47h1M6 48h1M23 48h1M37 48h1M0 49h1M88 49h1M13 50h1M73 50h1M16 51h1M80 51h2M87 51h2M92 51h1M94 51h1M8 52h1M11 52h1M17 52h1M89 52h1M92 52h1M94 52h1M96 52h1M15 53h1M82 53h1M93 53h1M100 53h1M14 54h1M83 54h2M2 55h1M10 55h2M93 55h1M97 55h1M10 56h2M21 56h1M81 56h1M96 56h1M13 57h1M19 57h1M85 57h1M91 57h1M93 57h2M99 57h1M6 58h1M9 58h1M11 58h1M13 58h1M16 58h1M89 58h1M93 58h1M5 59h1M7 59h1M14 59h1M21 59h1M93 59h1M3 60h1M11 60h1M89 60h1M0 61h1M2 61h1M9 61h2M15 61h1M89 61h1M96 61h2M100 61h1M-1 62h1M2 62h1M8 62h1M1 63h1M95 64h1M3 65h1M98 65h1M2 66h1M96 66h1M2 67h1M1 69h1M2 70h1"/><path stroke="#660d25" d="M63 0h1M72 0h1M59 2h1M78 2h1M67 3h1M83 6h1M73 8h1M83 8h1M57 9h1M69 9h1M55 10h1M53 11h1M74 11h1M81 11h1M89 12h1M53 13h1M68 14h1M54 18h1M91 18h1M49 19h1M38 22h1M70 22h1M95 22h1M38 23h1M37 24h1M99 28h1M27 30h1M32 30h1M22 31h1M34 31h1M100 31h1M98 32h1M25 34h1M2 35h1M27 35h1M96 36h5M3 37h1M6 37h1M13 37h1M96 37h1M98 37h1M100 37h1M1 38h1M3 38h3M7 38h1M16 38h1M84 38h1M87 38h2M90 38h2M93 38h1M95 38h1M98 38h2M0 39h1M2 39h3M10 39h1M14 39h1M66 39h1M69 39h1M88 39h1M96 39h1M98 39h1M100 39h1M-1 40h2M2 40h2M8 40h3M12 40h1M72 40h1M80 40h1M83 40h1M85 40h1M87 40h1M91 40h1M94 40h1M96 40h2M100 40h1M-1 41h1M2 41h1M4 41h2M7 41h2M11 41h2M76 41h2M79 41h1M82 41h1M84 41h1M90 41h3M95 41h1M97 41h1M-1 42h1M1 42h2M4 42h2M7 42h2M10 42h2M13 42h3M17 42h3M68 42h1M71 42h1M74 42h1M77 42h1M88 42h1M91 42h3M96 42h1M98 42h1M1 43h1M3 43h6M10 43h1M13 43h1M58 43h2M65 43h1M68 43h1M70 43h4M77 43h1M83 43h1M87 43h1M91 43h1M93 43h2M98 43h1M100 43h1M1 44h1M4 44h3M8 44h4M20 44h2M68 44h1M70 44h1M77 44h3M83 44h1M85 44h1M88 44h1M90 44h4M96 44h2M100 44h1M-1 45h1M1 45h1M3 45h2M7 45h2M10 45h2M21 45h1M64 45h1M70 45h2M73 45h1M75 45h1M78 45h1M85 45h1M87 45h4M93 45h1M95 45h1M98 45h2M-1 46h1M1 46h5M8 46h2M11 46h1M23 46h1M55 46h1M67 46h1M69 46h1M73 46h1M76 46h1M82 46h3M88 46h2M95 46h1M98 46h3M-1 47h1M4 47h1M7 47h1M10 47h1M12 47h2M20 47h1M77 47h1M94 47h1M97 47h4M0 48h1M4 48h2M8 48h4M13 48h1M20 48h2M34 48h1M53 48h1M68 48h1M73 48h1M77 48h1M82 48h1M86 48h1M91 48h1M98 48h1M100 48h1M-1 49h1M1 49h3M6 49h4M12 49h2M22 49h2M62 49h1M71 49h3M81 49h1M93 49h1M98 49h1M100 49h1M-1 50h3M4 50h6M12 50h1M14 50h1M16 50h1M51 50h1M55 50h1M72 50h1M85 50h1M90 50h1M93 50h2M96 50h1M100 50h1M0 51h3M4 51h1M6 51h4M11 51h1M13 51h3M60 51h1M74 51h1M78 51h2M83 51h3M89 51h1M96 51h1M99 51h1M0 52h3M5 52h3M9 52h2M12 52h1M16 52h1M59 52h1M0 53h2M3 53h3M7 53h3M12 53h3M17 53h2M61 53h1M96 53h4M1 54h5M7 54h4M15 54h2M19 54h1M96 54h1M99 54h2M-1 55h2M3 55h2M12 55h1M16 55h1M20 55h1M31 55h1M95 55h1M98 55h3M-1 56h1M2 56h1M6 56h1M8 56h2M12 56h4M18 56h3M22 56h1M89 56h2M95 56h1M97 56h3M-1 57h1M3 57h5M10 57h3M18 57h1M25 57h1M95 57h2M98 57h1M100 57h1M3 58h3M12 58h1M18 58h1M94 58h1M97 58h1M99 58h2M-1 59h1M1 59h1M4 59h1M6 59h1M8 59h1M10 59h1M12 59h1M20 59h1M90 59h3M94 59h1M96 59h1M98 59h3M6 60h1M90 60h1M95 60h3M-1 61h1M1 61h1M3 61h3M91 61h1M93 61h2M99 61h1M4 62h1M7 62h1M94 62h1M99 62h1M-1 63h1M2 63h1M6 63h1M91 63h1M95 63h1M99 63h1M1 64h1M5 64h2M17 64h1M91 64h3M97 64h1M100 64h1M0 65h2M5 65h1M96 65h2M0 66h1M57 66h1M93 66h1M98 66h1M98 67h1M1 68h1M4 68h1M98 70h1M1 71h1M4 72h1M95 76h1M4 78h1M80 80h1M89 85h1M16 89h1M76 93h1M60 95h1M63 98h1M63 99h1"/></g></g><rect x="0" y="0" width="879.9" height="872.8" fill="none" stroke="#222" stroke-width="2"/><path d="M-7.3 139.7H0M-7.3 286.5H0M-7.3 433.3H0M-7.3 580.2H0M-7.3 727.0H0M145.4 872.8v6.8M292.2 872.8v6.8M439.0 872.8v6.8M585.8 872.8v6.8M732.6 872.8v6.8" stroke="#444" stroke-width="1.3" fill="none"/><text x="-11.3" y="157.3" font-size="49" text-anchor="end">40°N</text><text x="-11.3" y="304.1" font-size="49" text-anchor="end">20°N</text><text x="-11.3" y="450.9" font-size="49" text-anchor="end">0°N</text><text x="-11.3" y="597.8" font-size="49" text-anchor="end">-20°N</text><text x="-11.3" y="744.6" font-size="49" text-anchor="end">-40°N</text><text x="145.4" y="919.6" font-size="48.2" text-anchor="middle">100°E</text><text x="292.2" y="919.6" font-size="48.2" text-anchor="middle">120°E</text><text x="439.0" y="919.6" font-size="48.2" text-anchor="middle">140°E</text><text x="585.8" y="919.6" font-size="48.2" text-anchor="middle">160°E</text><text x="732.6" y="919.6" font-size="48.2" text-anchor="middle">180°E</text></g><g transform="translate(1375.9 239.1)"><g clip-path="url(#pc)"><rect width="879.9" height="872.8" fill="#9c9696"/><path d="M145.4 0V872.8M292.2 0V872.8M439.0 0V872.8M585.8 0V872.8M732.6 0V872.8M0 139.7H879.9M0 286.5H879.9M0 433.3H879.9M0 580.2H879.9M0 727.0H879.9" stroke="#111" stroke-width="1.5" fill="none"/><path d="M-16.1 -14.5 451.5 -14.5 451.5 0.2 439.7 11.2 428.0 16.4 417.0 23.7 404.5 29.6 406.7 32.5 418.5 36.9 422.9 39.9 437.5 35.5 447.8 42.1 449.3 50.1 447.1 53.8 442.7 66.3 441.2 77.3 428.0 88.3 413.3 103.0 406.0 108.1 391.3 117.7 382.5 116.2 378.8 115.5 372.2 121.3 370.0 122.8 363.4 128.7 363.4 133.8 353.1 139.7 347.3 141.9 346.5 145.6 353.1 150.0 361.2 161.0 361.9 169.1 359.7 174.9 354.6 177.1 347.3 179.3 339.2 180.8 339.2 172.7 340.6 163.2 337.7 156.6 330.4 155.8 327.4 153.6 330.4 149.2 331.1 144.1 324.5 140.4 314.2 142.6 303.9 147.0 301.7 143.4 308.4 136.0 305.4 133.1 299.5 133.8 289.3 140.4 284.1 145.6 276.1 146.3 274.6 150.7 283.4 155.1 286.3 160.3 294.4 157.3 303.2 158.1 311.3 159.5 310.6 162.5 299.5 165.4 294.4 169.1 287.1 175.7 294.4 181.5 298.8 191.1 305.4 199.2 306.2 206.5 298.8 210.9 306.9 213.8 303.9 225.6 296.6 232.9 290.0 242.5 284.9 248.3 278.3 254.2 270.2 260.8 262.8 265.2 253.3 267.4 248.2 269.6 244.5 270.4 239.4 273.3 231.3 274.8 224.7 277.0 221.7 283.6 218.1 283.6 216.6 276.2 208.5 274.0 204.1 275.5 195.3 280.6 193.1 285.8 187.2 293.9 193.1 303.4 198.3 309.3 206.3 315.9 210.7 321.8 213.7 334.2 213.7 343.8 211.5 349.7 204.1 354.1 196.8 357.0 194.6 362.1 184.3 369.5 180.6 368.7 182.1 359.9 177.7 357.0 171.8 356.3 167.4 350.4 163.0 344.5 156.4 340.1 152.0 335.0 147.6 334.2 145.4 339.4 143.9 348.9 140.3 356.3 139.5 365.1 145.4 370.9 149.1 379.7 156.4 383.4 162.3 387.8 168.9 395.2 171.1 402.5 170.4 412.1 176.2 422.3 171.1 423.8 164.5 418.7 155.7 412.8 151.3 404.7 148.3 395.2 147.6 387.1 143.2 382.7 140.3 377.5 135.1 373.1 132.9 367.3 135.1 357.7 135.9 347.4 135.1 337.9 131.5 330.6 129.3 319.6 127.8 312.2 122.7 308.5 117.5 312.2 111.6 317.4 105.8 316.6 103.6 309.3 105.0 301.2 99.2 291.7 94.8 286.5 88.9 279.9 85.2 270.4 77.9 269.6 73.5 272.6 66.1 273.3 58.8 274.0 50.7 276.2 48.5 282.8 44.8 287.3 36.8 290.2 29.4 296.8 22.8 304.1 15.5 311.5 8.1 314.4 5.2 318.1 0.1 321.8 -0.7 330.6 0.8 337.9 0.1 345.2 -2.9 352.6 -2.9 357.7 -16.1 357.7ZM0.1 361.4 7.4 370.2 11.8 378.3 11.1 385.6 5.9 388.6 0.1 389.3 -2.9 382.0 -2.9 370.9 -1.4 363.6ZM209.3 291.7 213.7 286.5 222.5 285.8 226.1 289.5 222.5 295.3 216.6 299.7 209.3 297.5ZM299.5 248.3 306.2 249.8 303.9 257.2 301.0 266.0 298.1 272.6 293.7 266.7 292.9 260.8 296.6 253.5ZM363.4 188.9 372.2 184.5 378.1 186.7 379.6 192.6 375.9 202.8 370.7 205.8 367.1 202.8 367.1 196.2 363.4 192.6ZM384.0 184.5 396.4 181.5 400.1 185.2 396.4 188.9 389.1 191.1 384.7 192.6 382.5 188.1ZM372.2 183.7 375.9 180.8 384.7 173.5 391.3 172.7 403.8 171.3 409.6 167.6 415.5 161.7 419.2 158.1 417.7 163.2 428.0 158.8 434.6 152.9 438.3 143.4 439.0 136.0 441.2 130.9 449.3 129.4 450.0 136.0 453.7 142.6 450.0 152.2 446.3 155.8 446.3 163.2 443.4 167.6 444.9 171.3 441.9 174.9 437.5 177.1 436.8 173.5 433.1 174.2 430.2 178.6 425.8 179.3 417.0 179.3 416.3 181.5 411.8 184.5 408.2 187.4 403.0 184.5 403.8 181.5 405.2 178.6 397.2 178.6 387.6 181.5 381.8 184.5 372.9 184.5ZM441.2 128.7 439.0 122.8 437.5 120.6 441.9 115.5 449.3 115.5 451.5 106.7 452.2 100.1 457.4 103.0 466.9 108.9 477.9 108.1 477.9 115.5 470.6 118.4 463.2 125.0 453.7 121.3 446.3 122.1 442.7 121.3 447.1 126.5ZM453.7 34.7 459.6 34.7 462.5 44.3 463.2 55.3 466.9 66.3 472.8 73.6 473.5 76.6 461.0 71.4 458.1 83.2 464.7 89.8 464.0 93.5 458.1 91.2 453.7 95.7 453.0 88.3 453.7 82.4 454.4 73.6 454.4 58.9 451.5 47.9 453.0 40.6ZM561.6 -14.5 563.1 7.6 553.5 14.9 556.4 29.6 553.5 44.3 560.8 57.5 573.3 47.9 585.8 36.9 599.0 29.6 602.0 20.8 610.0 20.8 607.8 9.0 604.2 3.9 611.5 -3.5 615.2 -14.5ZM110.9 392.2 127.1 395.2 135.9 405.4 148.3 417.2 157.9 420.9 171.1 433.3 173.3 440.7 179.2 447.3 189.4 455.4 188.7 466.4 188.0 475.9 179.2 475.9 171.1 469.3 162.3 462.7 152.7 451.7 147.6 440.7 138.8 431.1 135.1 420.9 124.9 409.8 116.0 402.5ZM183.6 483.3 190.2 476.7 206.3 481.1 222.5 484.0 226.1 480.3 238.6 484.7 251.1 490.6 251.1 496.5 238.6 495.0 218.8 492.8 204.1 490.6 192.4 487.7ZM211.5 422.3 215.9 418.7 227.6 422.3 228.3 415.0 240.8 409.8 248.2 400.3 259.2 393.0 268.7 382.0 275.3 387.1 286.3 395.2 279.0 400.3 275.3 407.6 277.5 417.2 284.9 426.0 276.8 427.5 273.9 439.2 266.5 444.4 266.5 455.4 262.8 461.2 253.3 463.4 244.5 457.6 232.0 459.0 220.3 454.6 218.8 444.4 212.9 437.0 211.5 429.7ZM290.7 427.5 298.8 423.8 314.2 426.7 327.4 421.6 330.4 423.1 323.8 430.4 314.2 429.7 298.8 429.7 292.9 434.8 292.9 439.9 301.0 440.7 316.4 439.9 317.2 441.4 305.4 447.3 309.1 457.6 313.5 464.9 315.0 472.2 306.9 467.8 303.2 467.8 299.5 459.0 298.8 453.2 294.4 455.4 295.1 468.6 295.1 473.7 288.5 473.7 288.5 459.0 283.4 453.9 286.3 444.4 290.7 434.1ZM372.9 439.2 384.0 436.3 395.0 439.2 396.4 451.7 402.3 457.6 413.3 449.5 424.3 445.1 446.3 452.4 461.0 458.3 472.0 461.2 481.6 470.0 494.1 477.4 496.3 482.5 490.4 483.3 497.7 492.1 508.7 499.4 518.3 508.2 512.4 511.2 497.7 507.5 486.7 497.9 475.7 490.6 464.7 493.5 461.0 500.9 446.3 500.1 435.3 492.1 424.3 495.0 422.1 488.4 429.5 484.7 424.3 473.7 406.0 465.6 391.3 461.2 386.2 462.7 386.9 455.4 394.2 450.2 380.3 453.9 380.3 449.5 374.4 444.4ZM317.9 509.0 321.6 501.6 328.9 496.5 343.6 494.3 345.8 495.7 332.6 503.1 323.8 508.2ZM251.8 492.8 262.8 493.5 284.9 493.5 299.5 494.3 314.2 493.5 314.2 497.9 299.5 498.7 284.9 498.7 266.5 499.4 255.5 497.9ZM284.9 502.3 293.7 502.3 298.1 507.5 292.2 509.0ZM347.3 420.1 350.9 417.2 356.1 424.5 350.9 428.9 356.8 431.1 352.4 439.2 349.5 431.9 346.5 426.7ZM350.9 454.6 371.5 455.4 371.5 460.5 350.9 459.0ZM336.2 456.1 345.1 456.8 345.1 461.2 337.0 461.2ZM296.6 297.5 308.4 297.5 310.6 308.5 303.2 317.4 303.9 329.1 312.0 328.4 321.6 332.0 321.6 340.8 314.2 337.9 310.6 334.2 304.7 331.3 296.6 332.0 296.6 325.4 292.2 319.6 291.5 313.7 295.1 304.9ZM306.9 382.0 316.4 378.3 320.1 370.9 331.8 361.4 338.4 370.9 340.6 379.7 337.7 387.1 332.6 392.2 331.8 383.4 323.0 387.1 317.9 379.0 308.4 384.9ZM323.8 341.6 331.1 341.6 334.8 352.6 330.4 359.9 326.7 358.5 324.5 350.4ZM306.9 346.7 315.7 351.1 321.6 352.6 318.6 362.9 314.2 366.5 310.6 362.9 306.9 356.3ZM271.7 371.7 279.7 365.8 288.5 355.5 289.3 350.4 286.3 352.6 277.5 361.4 271.7 368.7ZM295.1 335.0 303.2 336.4 301.0 343.0 298.1 341.6ZM248.9 593.4 252.6 593.4 268.0 584.6 284.9 580.2 299.5 577.2 309.1 566.2 308.4 558.1 318.6 561.1 318.6 552.3 325.2 545.7 334.8 538.3 342.9 534.6 350.9 542.0 353.1 543.5 362.7 542.7 361.9 532.4 367.8 527.3 371.5 524.4 384.0 522.2 384.7 517.0 391.3 520.0 402.3 522.9 415.5 522.9 414.0 530.2 408.9 534.6 405.2 542.7 414.8 550.1 422.1 553.0 433.9 561.1 442.7 562.5 449.3 551.5 451.5 539.8 450.7 528.0 454.4 514.1 458.1 511.9 464.7 527.3 466.9 539.0 477.9 543.5 478.6 554.5 483.8 565.5 490.4 575.0 503.6 583.1 510.2 597.0 518.3 605.9 533.7 619.1 535.9 631.5 538.8 643.3 535.2 657.2 530.8 671.9 521.9 681.5 518.3 690.3 513.1 701.3 511.7 708.6 497.7 711.6 486.7 718.2 485.2 720.4 475.7 714.5 472.0 713.0 464.7 718.2 450.7 714.5 441.2 710.8 436.8 701.3 431.7 695.4 425.1 694.7 428.0 688.8 423.6 679.3 422.9 672.7 417.0 680.7 409.6 688.8 406.7 688.8 400.1 677.1 395.0 672.7 384.0 668.3 372.9 664.6 358.3 666.0 343.6 669.7 332.6 672.7 321.6 675.6 317.9 682.2 306.9 682.2 292.2 682.2 284.9 685.9 277.5 690.3 266.5 690.3 257.0 685.9 255.5 680.0 260.6 677.8 260.6 666.8 255.5 655.0 252.6 643.3 245.2 628.6 243.8 620.5 244.5 611.7 246.0 602.2ZM473.5 732.1 483.0 735.1 499.9 733.6 499.9 743.1 494.1 750.5 486.7 753.4 479.4 748.3 477.2 743.1 473.5 735.8ZM679.0 685.9 683.4 690.3 690.8 692.5 694.4 703.5 702.5 708.6 712.1 711.6 721.6 710.1 717.9 721.1 710.6 723.3 709.9 730.6 698.1 738.7 693.7 736.5 696.6 728.4 693.0 725.5 687.1 721.8 693.7 717.4 693.7 708.6 690.0 701.3 681.2 691.7ZM679.0 730.6 690.8 735.8 690.0 741.7 681.2 749.0 679.8 754.9 668.7 758.5 665.1 770.3 655.5 775.4 646.7 775.4 634.2 771.0 637.2 763.7 646.7 756.3 659.2 749.0 668.7 741.7 674.6 733.6ZM615.2 580.9 626.2 587.5 637.2 596.3 633.5 597.8 622.5 591.9 615.2 584.6ZM499.9 474.4 510.9 473.7 521.9 469.3 528.6 464.2 529.3 470.0 519.7 475.9 508.7 479.6 500.7 477.4ZM518.3 452.4 527.1 456.8 534.4 465.6 533.0 468.6 525.6 459.8 517.5 454.6ZM546.2 473.7 552.0 476.7 555.7 483.3 551.3 482.5 546.9 477.4Z" fill="#c3bfbe" stroke="#222" stroke-width="1" stroke-linejoin="round"/><path d="M55.9 72.2 72.0 66.3 88.9 60.4 108.7 66.3 125.6 67.8 132.9 61.9 132.2 55.3 143.9 51.6 161.6 56.7 167.4 64.1 185.0 63.4 198.3 67.8 207.8 71.4 226.1 71.4 246.7 65.6 264.3 67.0 259.2 80.2 275.3 83.2 287.1 83.9 291.5 89.8 275.3 92.0 264.3 97.9 248.2 100.1 232.0 103.0 232.0 111.1 218.8 119.9 200.5 122.1 182.1 127.2 160.1 122.8 141.7 120.6 119.7 119.1 110.9 108.9 96.2 103.0 77.9 100.1 76.4 91.2 72.0 82.4 57.3 76.6 55.9 72.2M0.0 57.5 13.3 60.4 24.3 58.9 35.3 66.3 55.9 72.2M55.9 72.2 42.6 78.8 39.7 86.8 22.1 86.8 17.0 97.9 13.3 100.8 0.0 103.0M264.3 67.0 277.5 69.2 286.3 64.1 293.7 51.6 298.1 42.1 317.9 40.6 332.6 44.3 343.6 55.3 348.0 67.8 365.6 75.1 372.9 83.2 387.6 80.2 402.3 78.0 399.4 85.4 391.3 99.3 378.8 101.5 374.4 110.3 374.4 117.7 370.0 122.1M370.0 122.1 364.1 118.4 350.9 125.0 342.1 127.2 332.6 133.8 324.5 140.4M337.7 155.8 345.1 152.2 353.9 150.0M0.0 221.9 5.9 211.6 0.0 209.4M5.9 211.6 14.8 213.1 28.0 221.2 42.6 227.8 58.1 228.5M0.0 222.7 9.6 228.5 22.8 232.9 35.3 237.3 47.8 238.8 58.1 239.5 58.1 228.5M58.1 228.5 63.9 232.9 69.1 226.3 83.0 227.8 87.4 235.9 75.7 236.6 64.7 237.3 63.9 232.9M87.4 235.9 88.9 229.3 101.4 220.5 116.0 217.5 125.6 225.6M58.1 239.5 61.0 246.9 58.1 252.8 63.2 263.0 64.7 271.1 65.4 273.3M61.0 246.9 70.5 243.2 71.3 248.3 89.6 249.8 88.2 255.0 80.8 260.1 82.3 265.2 86.0 260.1 91.1 272.6 88.9 279.9M91.1 272.6 95.5 269.6 97.0 257.9 105.8 248.3 110.2 238.1 123.4 233.7 125.6 225.6M125.6 225.6 135.9 231.5 135.9 243.9 127.8 254.2 137.3 257.2 138.8 270.4 146.9 275.5 154.2 275.5M146.1 283.6 137.3 288.7 129.3 297.5 127.8 304.9 135.1 314.4 132.2 321.8 139.5 334.2 142.5 346.7 136.6 357.0 135.9 359.2M146.1 283.6 154.2 275.5 160.8 268.9 166.7 274.0 179.2 282.1 174.8 290.2 182.1 296.1 193.1 308.5 200.5 319.6 200.5 325.4M146.1 283.6 149.1 290.2 154.2 290.2 153.5 304.1 160.8 299.7 174.0 299.0 180.6 306.3 180.6 314.4 186.5 321.0 185.8 327.6 189.4 329.1 200.5 325.4M160.8 268.9 169.6 266.7 184.3 262.3 194.6 268.2 199.7 274.8 204.1 275.5M163.0 344.5 163.8 334.2 171.1 327.6 185.8 327.6M200.5 325.4 200.5 341.6 190.9 347.4 188.0 352.6 177.7 357.0M146.1 385.6 152.0 387.1 153.5 391.5 160.8 387.8M215.9 418.7 218.8 424.5 232.0 426.0 240.8 422.3 251.8 422.3 257.7 412.1 259.2 401.8 275.3 402.5M446.3 452.4 446.3 481.1 445.6 484.7 446.3 500.1M328.9 496.5 328.9 501.6" fill="none" stroke="#222" stroke-width="1" stroke-linejoin="round"/><g transform="translate(1.340 6.820) scale(8.8080)" stroke-width="1" fill="none" shape-rendering="crispEdges"><path stroke="#191c47" d="M70 -1h1M78 2h1M46 3h1M68 3h1M80 3h1M79 5h1M50 6h1M50 7h1M81 7h2M80 8h2M61 9h1M59 10h1M66 12h1M60 13h1M62 13h1M74 13h1M89 13h1M91 13h1M68 14h1M91 14h1M77 15h1M45 16h1M66 16h1M69 16h1M51 17h1M74 17h1M82 17h1M38 18h1M59 18h1M70 18h1M95 18h1M94 20h1M94 22h1M97 22h1M78 24h1M97 24h2M96 26h1M34 28h1M98 29h1M30 30h1M5 31h3M23 31h1M4 32h5M22 32h1M26 32h1M37 32h1M3 33h1M26 33h1M28 33h1M4 35h1M24 35h1M100 37h1M25 38h1M11 39h1M18 39h1M99 40h1M23 41h1M41 41h1M83 41h1M6 42h1M64 42h1M45 43h1M64 44h1M4 45h1M55 45h1M77 45h1M46 47h1M-1 48h1M89 48h1M51 49h1M53 49h1M70 50h1M92 50h1M66 51h1M81 51h1M2 52h1M58 52h1M71 52h1M78 52h1M0 53h1M11 53h1M55 53h1M57 53h1M80 53h1M-1 54h1M2 54h1M9 54h1M20 55h1M53 55h1M100 55h1M1 56h1M-1 57h2M74 58h1M2 59h1M98 59h1M-1 60h1M1 60h1M100 60h1M1 62h1M99 66h1M96 68h1M97 70h1M5 76h1M36 76h1M44 76h1M32 77h1M7 78h1M93 78h1M94 80h1M91 81h1M94 81h1M91 84h1M86 85h1M90 85h1M12 87h1M15 90h1M19 90h1M15 91h1M18 91h1M19 92h2M57 92h1M80 93h1M59 94h1M79 94h1M74 95h1M78 95h1M38 96h1M71 96h1M63 98h1M65 98h1M43 99h1M51 99h1"/><path stroke="#1b2051" d="M65 14h1M39 16h1M40 18h1M36 29h1M35 32h1"/><path stroke="#1d235b" d="M48 10h1M57 14h1M40 16h1M36 32h1M23 35h1"/><path stroke="#1f2866" d="M62 15h1M42 19h1M8 30h1"/><path stroke="#202d73" d="M82 4h1M47 13h1M62 14h1M42 16h1M62 16h1M66 18h1M8 31h1M27 33h1M33 33h1M31 57h1M68 66h1"/><path stroke="#22327f" d="M76 1h1M50 10h1M46 11h1M63 12h1M67 15h1M34 32h1M76 39h1M56 47h1M54 56h1M31 60h1M64 67h1M36 97h1"/><path stroke="#23378c" d="M59 2h1M52 4h1M65 4h2M80 4h1M76 6h1M85 6h1M53 7h1M85 7h1M49 9h1M80 10h1M49 11h1M64 11h1M66 11h1M77 11h1M47 12h1M68 12h2M64 13h1M66 13h1M47 14h1M53 14h1M80 14h1M56 16h1M66 17h1M42 18h1M50 18h1M65 18h1M93 19h1M46 20h1M34 22h1M42 22h1M96 22h1M44 24h1M31 29h1M37 29h1M28 31h1M39 32h1M36 33h1M27 35h1M12 40h1M29 40h1M27 41h2M33 41h1M61 41h1M28 42h1M44 42h1M3 43h1M67 43h1M88 44h1M51 45h1M50 47h1M6 48h1M22 48h1M67 48h1M100 48h1M24 50h1M61 50h1M87 50h1M56 53h1M89 53h1M91 53h1M67 54h1M14 55h1M35 56h1M49 56h1M43 57h1M40 59h1M48 60h1M35 61h1M24 64h1M34 64h1M100 64h1M100 66h1M75 67h1M63 68h1M26 69h2M62 69h1M62 70h1M73 70h1M98 70h1M67 71h1M68 72h1M4 75h1M70 75h1M72 76h1M5 80h1M85 86h1M11 87h1M27 87h1M85 87h1M84 88h1M79 93h1M74 94h1M36 96h1M67 96h1M76 96h1M40 97h1M56 99h1M63 99h2"/><path stroke="#243c99" d="M57 6h1M58 7h1M50 8h1M53 9h1M53 11h1M55 11h1M45 12h1M63 14h1M54 15h1M65 15h2M41 16h1M53 17h1M63 17h1M53 19h2M79 19h1M41 20h1M37 28h1M30 31h1M23 33h1M34 39h1M59 39h1M49 44h1M39 45h1M53 46h1M52 47h1M73 47h1M69 52h1M20 56h1M35 57h1M41 57h1M51 57h1M56 57h1M32 58h1M34 59h1M47 59h1M50 59h1M62 59h1M20 60h1M55 60h2M61 60h1M33 61h1M56 61h1M32 62h1M35 62h1M26 63h1M32 63h1M57 63h1M33 64h1M31 65h1M63 66h1M27 67h1M21 69h1M67 69h2M66 70h2M61 73h1M27 75h1M73 77h1M61 80h1M21 86h1M17 89h1M24 92h1"/><path stroke="#2641a4" d="M56 -1h1M66 7h1M64 9h1M43 13h1M58 14h1M66 14h2M70 14h1M41 15h2M44 15h1M60 15h1M64 15h1M65 16h1M52 17h1M54 17h1M52 18h1M80 18h2M41 19h1M45 19h1M40 20h1M52 20h1M38 21h1M47 22h1M40 23h1M38 28h1M31 30h1M35 30h1M25 34h1M33 37h1M28 38h1M40 40h1M48 43h1M30 50h1M51 50h1M58 55h1M31 56h1M53 56h1M21 57h1M52 57h1M50 58h1M54 58h1M33 59h1M48 59h1M53 59h1M56 59h1M37 60h1M50 60h1M59 60h1M28 61h1M36 61h1M48 61h2M58 61h1M25 62h1M30 62h2M25 63h1M28 63h1M33 63h1M55 63h1M66 63h1M61 64h1M21 65h2M27 65h1M29 65h1M74 65h1M27 66h1M76 66h1M22 67h1M26 67h1M20 68h1M61 68h1M69 68h1M61 70h1M72 70h1M76 70h1M25 71h1M63 71h1M71 71h1M65 72h1M23 73h1M27 73h1M66 74h1M72 74h2M69 75h1M41 76h1M69 77h1M71 78h1M43 82h1M45 87h1M22 89h1M40 94h1"/><path stroke="#2947ad" d="M57 4h2M61 4h2M76 5h1M68 7h1M55 10h1M68 10h1M76 10h1M63 11h1M46 12h1M55 12h1M58 12h1M73 13h1M45 14h1M50 14h1M51 15h1M71 15h1M54 16h1M73 16h1M41 17h1M44 17h1M62 17h1M67 17h1M41 18h1M61 18h1M79 18h1M70 19h1M44 20h1M46 21h1M36 22h1M40 22h1M44 22h2M53 22h1M36 24h1M39 24h1M34 25h1M37 25h2M33 26h2M34 29h1M68 29h1M9 31h1M22 31h1M25 31h1M33 32h1M30 35h1M28 36h1M30 36h1M30 38h1M50 38h1M80 38h1M50 44h1M54 44h1M34 47h1M86 49h1M13 52h1M70 52h1M70 54h1M44 55h1M46 55h1M71 55h1M61 56h1M34 57h1M53 57h3M58 57h1M26 58h1M30 58h1M46 58h1M53 58h1M55 58h1M36 59h1M49 59h1M54 59h2M57 59h1M28 60h1M35 60h1M47 60h1M49 60h1M22 61h1M25 61h1M30 61h2M50 61h1M57 61h1M23 62h1M26 62h3M34 62h1M56 62h1M23 63h1M29 63h1M56 63h1M59 63h2M21 64h1M27 64h1M55 64h1M25 65h1M62 65h1M65 65h1M59 66h1M59 67h1M63 67h1M70 67h1M73 67h1M60 68h1M70 68h2M78 68h1M61 69h1M73 69h1M76 69h1M24 70h1M63 70h1M68 70h1M26 71h1M61 71h1M65 71h1M75 71h1M79 71h1M26 72h1M66 72h1M72 72h1M76 72h1M62 73h1M67 73h1M75 73h1M81 73h1M65 74h1M69 74h1M40 75h1M71 75h1M73 75h1M24 76h1M67 76h1M37 77h1M66 77h2M72 77h1M35 78h1M74 78h1M59 79h1M63 79h1M76 79h1M35 80h2M64 80h1M68 80h1M33 81h1M50 81h1M35 83h1M40 83h1M23 87h1M36 87h1M42 87h2M42 89h1"/><path stroke="#3f5bb4" d="M74 4h1M53 8h1M52 10h1M61 10h1M51 13h1M55 13h1M69 13h1M41 14h1M47 15h3M58 15h1M58 16h1M78 16h1M46 17h1M43 18h1M67 18h1M69 18h1M43 20h1M65 20h1M45 21h1M47 21h1M46 22h1M54 22h1M34 23h1M37 23h2M41 23h1M44 23h1M37 24h1M41 24h1M97 25h1M43 26h1M38 27h1M31 28h1M43 28h1M33 29h1M36 30h1M41 30h1M32 32h1M24 36h1M12 38h1M81 40h1M34 41h1M23 44h1M57 45h1M56 50h1M63 50h1M76 50h1M33 53h1M61 53h1M38 56h1M20 57h1M27 57h1M24 58h1M37 58h1M43 58h1M57 58h1M28 59h1M30 59h1M58 59h1M27 60h1M29 60h1M33 60h2M27 61h1M29 61h1M32 61h1M34 61h1M55 61h1M24 62h1M33 62h1M49 62h1M59 62h1M62 62h2M20 63h1M30 63h1M13 64h1M25 64h2M29 64h1M20 65h1M32 65h1M63 65h1M67 65h1M69 65h1M71 65h1M24 66h1M60 66h3M66 66h1M23 67h1M25 67h1M62 67h1M65 67h1M66 68h2M73 68h2M63 69h2M66 69h1M27 70h1M70 70h1M74 70h1M79 70h1M7 71h1M19 71h1M24 71h1M72 71h2M81 71h1M22 72h1M27 72h1M61 72h1M63 72h2M74 72h1M81 72h1M66 73h1M68 73h1M71 73h1M26 74h1M64 74h1M75 74h1M68 75h1M72 75h1M74 75h1M76 75h1M78 75h1M20 76h1M75 76h1M43 77h1M70 77h1M39 78h1M44 78h1M59 78h1M69 78h2M73 78h1M75 78h1M25 79h1M32 79h1M66 79h1M68 79h1M72 79h1M45 80h2M57 80h2M60 80h1M73 80h1M52 81h1M69 81h1M59 82h1M50 84h1M18 86h1M22 86h1M25 86h1M32 86h3M38 87h1M23 88h1M85 88h1M33 89h1M34 91h1M42 92h1M37 94h1"/><path stroke="#4869b6" d="M48 3h1M79 4h1M67 6h1M57 7h1M57 9h1M85 9h1M49 10h1M56 10h1M60 10h1M44 12h1M57 12h1M59 12h1M62 12h1M46 13h1M67 13h1M55 14h1M61 14h1M76 14h1M78 14h1M64 16h1M67 16h1M82 16h1M40 17h1M48 17h1M44 18h1M53 18h1M61 19h1M67 19h1M58 20h1M62 20h1M64 20h1M76 20h1M44 21h1M62 21h1M35 22h1M38 22h2M49 22h2M73 22h1M36 23h1M47 23h1M35 24h1M42 24h1M35 25h1M41 25h1M43 25h1M46 25h1M37 26h1M42 26h1M33 27h2M36 27h2M35 29h1M58 29h1M76 29h1M27 30h1M83 31h1M31 32h1M7 33h1M10 33h1M31 33h1M68 33h1M26 34h1M72 34h1M38 36h1M8 37h1M25 37h1M66 37h1M47 38h1M33 39h1M45 39h1M51 39h1M57 39h1M30 40h1M48 40h1M60 40h1M69 40h1M80 40h1M24 41h1M52 42h1M54 42h1M59 42h1M28 43h1M40 44h1M32 45h1M46 45h1M52 48h1M60 48h1M58 50h2M42 52h1M38 54h1M63 55h1M59 56h1M62 56h1M22 57h1M61 57h1M28 58h1M33 58h1M47 58h1M59 58h1M24 59h1M26 59h2M39 59h1M60 59h1M63 59h1M23 60h1M25 60h1M32 60h1M53 60h2M57 60h2M70 60h1M46 61h1M59 61h1M63 61h1M55 62h1M57 62h2M70 62h1M22 63h1M31 63h1M58 63h1M65 63h1M70 63h1M75 63h1M28 64h1M30 64h3M60 64h1M62 64h1M64 64h1M67 64h2M17 65h1M30 65h1M57 65h1M60 65h2M72 65h1M75 65h1M83 65h1M15 66h1M28 66h1M65 66h1M67 66h1M73 66h1M21 67h1M67 67h1M26 68h1M62 68h1M65 68h1M68 68h1M80 68h1M25 69h1M60 69h1M65 69h1M70 69h1M78 69h1M81 69h1M17 70h1M19 70h1M23 70h1M25 70h1M65 70h1M71 70h1M77 70h1M23 71h1M62 71h1M64 71h1M77 71h2M80 71h1M24 72h1M69 72h1M71 72h1M80 72h1M19 73h1M28 73h1M69 73h2M77 73h1M27 74h1M63 74h1M67 74h1M70 74h2M74 74h1M76 74h1M81 74h2M24 75h1M63 75h1M65 75h1M27 76h1M39 76h1M63 76h1M66 76h1M69 76h1M71 76h1M25 77h1M35 77h1M44 77h1M62 77h1M65 77h1M74 77h1M80 77h1M23 78h1M33 78h1M41 78h1M43 78h1M45 78h1M47 78h1M67 78h1M31 79h1M33 79h1M39 79h1M43 79h1M58 79h1M61 79h1M70 79h1M30 80h1M43 80h2M74 80h1M78 80h1M82 80h1M38 81h1M46 81h1M58 81h1M63 81h1M66 81h1M32 82h1M34 82h2M52 82h1M60 82h1M66 82h1M82 82h1M50 83h1M52 83h1M60 83h1M74 83h1M33 84h1M49 84h1M68 84h1M87 84h1M40 85h1M66 85h1M35 86h1M37 86h1M46 86h1M41 87h1M48 87h1M70 89h1M41 90h1M64 90h1M68 91h1M28 92h1M40 92h1M36 93h1M34 94h1M45 96h1M53 98h1M70 98h1"/><path stroke="#527ab9" d="M58 1h1M63 6h1M73 6h1M63 7h1M79 7h1M58 9h1M51 10h1M54 10h1M71 10h1M71 11h1M73 11h1M76 11h1M86 12h1M52 13h3M65 13h1M75 13h1M51 14h1M59 14h1M64 14h1M52 15h1M68 15h2M78 15h1M47 16h1M52 16h1M79 16h1M81 16h1M45 17h1M76 17h1M75 18h1M57 19h1M62 19h1M68 19h1M42 20h1M45 20h1M55 20h2M63 20h1M68 20h1M35 21h1M43 21h1M49 21h1M51 21h1M55 21h1M61 21h1M70 21h1M75 21h1M37 22h1M35 23h1M43 23h1M65 23h1M75 23h1M81 23h1M38 24h1M49 25h1M52 25h2M68 25h1M35 26h1M38 26h1M66 26h1M81 27h1M75 28h1M78 30h1M35 31h1M4 33h1M73 33h1M28 34h1M57 34h1M26 35h1M34 35h1M63 35h1M5 36h1M37 36h1M59 36h1M54 37h1M31 38h1M46 38h1M48 38h1M57 38h1M70 38h1M55 39h1M70 39h1M40 41h1M55 41h1M69 41h1M34 42h1M29 43h1M50 43h1M52 44h1M56 45h1M65 47h2M74 47h1M58 48h1M69 48h1M36 51h1M45 51h1M64 51h1M67 53h1M61 54h1M65 54h1M69 55h1M41 56h1M69 56h1M13 57h1M47 57h1M60 57h1M62 57h1M64 57h1M68 57h1M23 58h1M38 58h1M56 58h1M58 58h1M61 58h3M20 59h1M35 59h1M59 59h1M24 60h1M26 60h1M30 60h1M36 60h1M40 60h1M60 60h1M23 61h2M20 62h1M29 62h1M50 62h1M61 62h1M64 62h1M67 62h1M69 62h1M73 62h1M61 63h1M68 63h1M17 64h1M19 64h1M22 64h1M56 64h3M66 64h1M70 64h1M77 64h2M15 65h2M19 65h1M23 65h2M28 65h1M56 65h1M58 65h2M66 65h1M68 65h1M73 65h1M16 66h1M20 66h1M22 66h2M25 66h2M64 66h1M71 66h1M74 66h1M20 67h1M58 67h1M68 67h1M72 67h1M76 67h1M81 67h2M15 68h1M19 68h1M21 68h2M59 68h1M64 68h1M72 68h1M76 68h2M83 68h1M22 69h2M71 69h1M80 69h1M13 70h1M15 70h1M22 70h1M26 70h1M64 70h1M20 71h1M22 71h1M27 71h1M68 71h1M70 71h1M76 71h1M83 71h1M67 72h1M75 72h1M82 72h1M24 73h1M72 73h2M78 73h2M19 74h1M23 74h1M68 74h1M77 74h2M80 74h1M83 74h2M41 75h1M62 75h1M67 75h1M75 75h1M77 75h1M80 75h2M22 76h1M61 76h1M64 76h2M70 76h1M73 76h1M77 76h1M33 77h1M36 77h1M40 77h1M42 77h1M64 77h1M71 77h1M75 77h1M78 77h1M91 77h1M27 78h1M42 78h1M63 78h1M82 78h2M44 79h1M47 79h1M64 79h1M67 79h1M69 79h1M71 79h1M77 79h1M84 79h1M23 80h1M34 80h1M39 80h1M22 81h1M25 81h1M47 81h1M53 81h1M62 81h1M68 81h1M72 81h1M76 81h1M87 81h1M36 82h2M53 82h1M69 82h1M71 82h1M78 82h1M80 82h1M14 83h1M36 83h1M44 83h2M59 83h1M64 83h1M35 84h1M39 84h1M45 84h1M53 84h1M56 84h1M63 84h1M33 85h1M46 85h1M78 85h1M19 86h1M39 86h2M42 86h2M47 86h1M68 86h1M53 87h1M19 88h1M25 88h1M46 88h1M62 88h1M88 88h1M16 89h1M35 89h1M45 89h1M35 90h1M53 90h1M62 90h1M42 91h2M43 93h1M50 93h1M28 95h1M32 95h1M42 95h1M47 97h1"/><path stroke="#5d8cbc" d="M61 2h1M76 4h1M60 6h1M64 6h1M69 6h1M74 7h1M84 7h1M62 8h1M71 8h1M50 9h1M63 9h1M73 9h1M79 9h1M63 10h1M64 12h1M48 14h1M69 14h1M40 15h1M63 15h1M82 15h1M44 16h1M60 16h1M55 17h2M65 17h1M75 17h1M64 18h1M58 19h1M36 20h1M39 20h1M48 20h1M57 20h1M66 20h1M36 21h2M50 21h1M74 21h1M55 22h1M71 22h1M45 23h1M48 23h2M40 24h1M47 24h1M54 24h1M58 24h1M66 24h1M39 25h1M42 25h1M55 25h1M72 25h1M39 26h2M44 26h1M75 26h1M35 27h1M40 27h2M52 27h1M68 27h1M70 27h1M66 28h2M79 30h1M81 30h1M32 31h1M37 31h1M40 31h1M75 31h1M79 31h2M27 32h1M59 32h1M42 33h1M55 33h1M72 33h1M62 34h2M77 34h1M10 35h1M62 35h1M39 36h1M47 36h1M53 36h1M60 36h1M65 36h2M32 37h1M56 37h1M64 37h1M32 38h1M52 38h1M66 38h1M72 38h1M74 38h1M77 38h1M24 39h1M38 39h1M67 39h1M69 39h1M31 40h1M45 40h1M54 40h1M58 40h1M61 40h1M63 40h1M49 41h1M22 42h1M58 42h1M72 42h1M44 43h1M62 43h1M45 44h1M53 44h1M60 45h1M83 46h1M54 47h1M79 47h1M53 48h1M79 48h1M49 50h1M68 50h1M61 51h1M69 51h1M72 51h1M65 53h1M37 55h1M56 55h1M59 55h1M64 55h2M66 56h1M29 57h1M63 57h1M22 58h1M42 58h1M18 59h1M64 59h1M66 59h1M68 59h1M62 60h1M73 60h1M20 61h2M26 61h1M47 61h1M60 61h1M73 61h1M21 62h1M60 62h1M65 62h1M18 63h2M21 63h1M27 63h1M63 63h1M71 63h1M79 63h1M23 64h1M59 64h1M63 64h1M65 64h1M71 64h2M82 64h1M18 65h1M26 65h1M64 65h1M77 65h4M19 66h1M15 67h3M60 67h2M66 67h1M69 67h1M74 67h1M77 67h1M79 67h1M14 68h1M79 68h1M81 68h1M12 69h1M20 69h1M69 69h1M72 69h1M77 69h1M20 70h1M69 70h1M81 70h2M16 71h1M66 71h1M82 71h1M13 72h1M15 72h1M17 72h1M19 72h1M23 72h1M62 72h1M73 72h1M78 72h2M15 73h1M20 73h1M22 73h1M25 73h2M64 73h1M76 73h1M82 73h2M18 74h1M20 74h2M25 74h1M61 74h1M79 74h1M94 74h1M16 75h1M23 75h1M26 75h1M28 75h1M60 75h1M64 75h1M66 75h1M19 76h1M25 76h2M28 76h1M38 76h1M42 76h2M68 76h1M74 76h1M76 76h1M80 76h2M91 76h1M21 77h1M26 77h1M38 77h2M41 77h1M47 77h1M59 77h2M79 77h1M81 77h2M29 78h1M31 78h2M37 78h1M40 78h1M60 78h1M68 78h1M76 78h1M78 78h1M81 78h1M28 79h1M38 79h1M46 79h1M75 79h1M14 80h1M24 80h1M26 80h2M33 80h1M38 80h1M40 80h1M42 80h1M49 80h1M62 80h1M65 80h1M69 80h1M71 80h1M77 80h1M80 80h1M11 81h1M13 81h1M17 81h1M24 81h1M26 81h1M28 81h2M34 81h1M36 81h1M48 81h1M54 81h1M57 81h1M70 81h1M13 82h1M44 82h2M48 82h2M55 82h1M63 82h1M65 82h1M68 82h1M72 82h1M24 83h1M31 83h4M37 83h1M46 83h1M49 83h1M51 83h1M54 83h1M66 83h1M73 83h1M76 83h1M80 83h1M19 84h1M25 84h1M29 84h3M36 84h1M38 84h1M47 84h2M51 84h1M64 84h1M69 84h1M73 84h1M83 84h1M88 84h1M15 85h1M29 85h1M42 85h1M44 85h1M47 85h2M52 85h1M63 85h1M68 85h1M9 86h1M38 86h1M50 86h1M52 86h1M59 86h1M62 86h1M88 86h1M16 87h1M21 87h1M39 87h1M65 87h1M67 87h1M74 87h1M86 87h1M43 88h3M56 88h1M13 89h1M41 89h1M54 89h3M66 89h1M32 90h1M66 90h1M76 90h1M17 91h1M30 92h1M34 92h1M36 92h1M61 92h1M37 93h1M45 93h1M42 94h1M44 94h1M26 95h1M37 95h1M31 96h1M39 96h2M55 97h1M39 98h1"/><path stroke="#67a1bf" d="M48 2h1M75 2h1M79 3h1M73 4h1M58 5h1M59 6h1M56 8h1M73 8h1M56 9h1M65 9h1M69 9h1M57 10h1M69 10h1M78 10h1M59 11h1M61 11h1M60 12h1M67 12h1M45 13h1M61 13h1M63 13h1M77 14h1M43 15h1M55 15h1M46 16h1M57 16h1M59 16h1M70 16h2M85 16h1M68 17h1M73 17h1M46 18h1M51 18h1M62 18h1M72 19h1M84 19h1M47 20h1M49 20h2M53 20h1M60 20h1M82 20h1M39 21h2M65 21h1M80 21h1M41 22h1M48 22h1M56 22h1M68 22h1M72 22h1M79 22h1M39 23h1M46 23h1M52 23h1M54 23h1M61 23h1M50 24h1M52 24h2M59 24h1M61 24h1M68 24h1M74 24h1M76 24h1M36 25h1M40 25h1M62 25h1M64 25h1M78 25h1M80 25h1M36 26h1M41 26h1M45 26h1M48 26h1M58 26h1M72 26h1M39 27h1M43 27h1M54 27h1M62 27h1M74 27h1M78 27h1M84 27h1M35 28h2M40 28h1M45 28h1M69 28h1M40 29h1M43 29h1M59 29h1M63 29h2M72 29h1M32 30h2M40 30h1M54 30h1M64 30h1M67 30h1M72 30h1M82 30h1M42 31h2M55 31h1M63 31h1M71 31h1M81 31h1M84 31h1M25 32h1M54 32h1M60 32h1M74 32h1M25 33h1M30 33h1M53 33h1M70 33h1M74 33h1M24 34h1M46 34h1M68 34h1M74 34h1M81 34h1M45 35h1M58 35h1M65 35h1M72 35h1M1 36h1M6 36h1M55 36h1M78 36h1M1 37h1M6 37h1M47 37h1M60 37h1M70 37h1M74 37h1M79 37h1M40 38h1M65 38h1M67 38h1M79 38h1M83 38h1M2 39h1M40 39h1M47 39h1M49 39h1M56 39h1M66 39h1M79 39h1M28 40h1M44 40h1M53 40h1M57 40h1M65 40h1M83 40h1M53 41h1M22 43h1M51 43h1M22 44h1M43 44h1M47 44h2M58 45h1M75 45h1M10 46h1M70 46h1M58 47h1M52 49h1M57 49h1M39 52h1M66 53h1M70 53h1M58 54h1M60 54h1M69 54h1M71 54h1M61 55h1M23 56h1M25 56h1M43 56h1M48 56h1M58 56h1M79 56h1M59 57h1M34 58h1M60 58h1M69 58h1M25 59h1M29 59h1M32 59h1M72 59h1M18 60h1M22 60h1M63 60h2M69 60h1M71 60h1M16 61h1M18 61h2M61 61h1M17 62h2M71 62h2M76 62h1M81 62h1M16 63h2M24 63h1M49 63h1M67 63h1M73 63h1M14 64h1M20 64h1M69 64h1M73 64h4M79 64h2M76 65h1M14 66h1M21 66h1M58 66h1M72 66h1M75 66h1M79 66h1M81 66h1M84 66h1M24 67h1M71 67h1M17 68h1M23 68h3M75 68h1M84 68h1M16 69h2M24 69h1M74 69h1M79 69h1M82 69h4M4 70h1M7 70h1M80 70h1M14 71h1M18 71h1M21 71h1M69 71h1M74 71h1M11 72h1M25 72h1M85 72h2M97 72h1M6 73h1M18 73h1M63 73h1M65 73h1M74 73h1M12 74h1M17 74h1M22 74h1M28 74h1M7 75h1M61 75h1M4 76h1M37 76h1M40 76h1M62 76h1M82 76h1M34 77h1M45 77h1M63 77h1M68 77h1M77 77h1M18 78h2M22 78h1M25 78h2M28 78h1M30 78h1M34 78h1M48 78h1M58 78h1M64 78h3M24 79h1M35 79h2M40 79h3M45 79h1M60 79h1M62 79h1M74 79h1M79 79h1M81 79h1M83 79h1M85 79h1M91 79h1M10 80h1M16 80h1M48 80h1M56 80h1M59 80h1M66 80h2M70 80h1M76 80h1M81 80h1M30 81h1M35 81h1M39 81h1M41 81h2M45 81h1M51 81h1M59 81h3M67 81h1M71 81h1M73 81h1M78 81h1M18 82h1M21 82h1M23 82h1M25 82h1M33 82h1M38 82h3M46 82h2M50 82h1M58 82h1M81 82h1M83 82h2M91 82h1M93 82h1M13 83h1M29 83h1M39 83h1M42 83h2M48 83h1M53 83h1M56 83h1M62 83h2M83 83h1M91 83h1M93 83h1M14 84h1M17 84h1M26 84h1M44 84h1M46 84h1M62 84h1M66 84h2M74 84h1M81 84h1M86 84h1M20 85h1M22 85h1M25 85h1M31 85h1M36 85h3M41 85h1M43 85h1M50 85h1M57 85h2M65 85h1M67 85h1M77 85h1M80 85h1M85 85h1M20 86h1M48 86h2M56 86h1M63 86h1M65 86h1M67 86h1M77 86h1M19 87h1M22 87h1M49 87h1M61 87h2M76 87h1M15 88h1M30 88h1M41 88h1M54 88h1M34 89h1M38 89h1M47 89h2M69 89h1M84 89h1M87 89h1M18 90h1M23 90h1M37 90h1M46 90h1M50 90h1M54 90h1M58 90h1M65 90h1M27 91h1M31 91h1M35 91h1M39 91h1M46 91h1M52 91h1M58 91h1M64 91h1M79 91h1M33 92h1M41 92h1M44 92h1M60 92h1M41 93h1M44 93h1M28 94h1M39 94h1M31 95h1M33 95h1M38 95h1M57 95h1M45 97h1M57 97h1M69 98h1"/><path stroke="#93b8cc" d="M72 1h1M75 1h1M61 3h1M59 4h1M60 5h2M77 5h1M74 6h1M57 8h2M55 9h1M83 9h1M87 9h1M65 10h1M52 11h1M54 11h1M62 11h1M54 12h1M74 12h1M48 13h1M46 14h1M49 14h1M53 15h1M43 16h1M53 16h1M61 16h1M63 16h1M68 16h1M76 16h1M43 17h1M58 17h1M45 18h1M44 19h1M49 19h1M81 19h1M51 20h1M74 20h2M77 20h1M80 20h2M48 21h1M52 21h1M56 21h1M60 21h1M63 21h1M77 21h1M79 21h1M52 22h1M58 22h1M62 22h1M66 22h1M74 22h1M76 22h1M51 23h1M57 23h1M62 23h3M72 23h1M76 23h1M43 24h1M45 24h2M49 24h1M57 24h1M60 24h1M73 24h1M90 24h1M45 25h1M50 25h2M61 25h1M66 25h1M70 25h1M85 25h1M88 25h1M51 26h1M54 26h2M61 26h1M67 26h1M78 26h1M82 26h1M46 27h2M50 27h1M56 27h1M69 27h1M72 27h2M90 27h1M96 27h1M57 28h1M64 28h1M81 28h2M39 29h1M41 29h1M51 29h1M55 29h1M61 29h1M69 29h1M80 29h1M92 29h1M34 30h1M37 30h1M42 30h1M62 30h1M66 30h1M68 30h1M71 30h1M80 30h1M41 31h1M53 31h1M58 31h1M66 31h2M70 31h1M74 31h1M82 31h1M38 32h1M61 32h2M66 32h2M69 32h1M72 32h1M78 32h3M58 33h1M67 33h1M76 33h2M84 33h1M23 34h1M32 34h1M41 34h1M43 34h1M45 34h1M56 34h1M60 34h1M66 34h1M70 34h1M75 34h1M83 34h1M13 35h1M28 35h1M31 35h1M36 35h1M52 35h1M56 35h1M61 35h1M70 35h1M75 35h1M80 35h1M41 36h2M51 36h1M54 36h1M63 36h1M72 36h1M79 36h1M82 36h1M52 37h1M55 37h1M62 37h2M69 37h1M76 37h1M27 38h1M29 38h1M41 38h1M60 38h1M68 38h1M75 38h1M27 39h1M42 39h1M46 39h1M54 39h1M65 39h1M72 39h1M78 39h1M26 40h1M33 40h1M51 40h1M67 40h2M72 40h1M77 40h1M79 40h1M45 41h1M54 41h1M67 41h1M46 42h1M56 42h1M60 42h1M40 43h1M58 43h1M60 43h1M66 43h1M77 43h1M51 44h1M55 44h1M68 44h1M75 44h2M21 45h1M26 45h1M43 45h1M63 47h1M72 48h1M72 49h1M74 49h1M57 50h1M66 50h1M56 51h1M65 51h1M77 51h1M57 52h1M59 52h1M72 52h1M85 52h2M57 54h1M77 54h1M62 55h1M70 55h1M60 56h1M63 56h1M18 57h1M24 57h1M26 57h1M30 57h1M64 58h3M68 58h1M31 59h1M67 59h1M73 59h1M65 60h3M72 60h1M64 61h1M67 61h1M70 61h1M13 62h3M22 62h1M66 62h1M68 62h1M75 62h1M80 62h1M69 63h1M72 63h1M74 63h1M76 63h1M12 65h1M14 65h1M11 66h1M69 66h1M3 67h1M12 67h1M19 67h1M78 67h1M83 67h1M7 68h2M16 68h1M90 68h1M15 69h1M18 69h2M75 69h1M10 70h1M21 70h1M75 70h1M78 70h1M5 71h1M13 71h1M17 71h1M14 72h1M18 72h1M70 72h1M77 72h1M83 72h1M9 73h1M16 73h1M21 73h1M86 73h1M88 73h1M13 74h1M62 74h1M18 75h2M22 75h1M79 75h1M82 75h2M14 76h1M21 76h1M23 76h1M79 76h1M83 76h2M15 77h1M17 77h2M20 77h1M24 77h1M76 77h1M10 78h1M20 78h1M24 78h1M36 78h1M38 78h1M46 78h1M61 78h2M77 78h1M79 78h1M84 78h2M20 79h2M29 79h1M34 79h1M48 79h2M73 79h1M78 79h1M82 79h1M21 80h2M25 80h1M31 80h2M37 80h1M47 80h1M72 80h1M79 80h1M83 80h1M87 80h1M23 81h1M31 81h1M37 81h1M40 81h1M43 81h2M55 81h2M64 81h2M74 81h2M81 81h2M86 81h1M19 82h1M22 82h1M27 82h4M41 82h2M56 82h1M61 82h2M64 82h1M67 82h1M70 82h1M74 82h2M85 82h1M15 83h1M18 83h1M23 83h1M30 83h1M41 83h1M47 83h1M55 83h1M58 83h1M65 83h1M69 83h2M72 83h1M85 83h1M15 84h2M21 84h1M28 84h1M32 84h1M34 84h1M40 84h3M52 84h1M58 84h1M60 84h2M12 85h1M14 85h1M18 85h1M34 85h1M39 85h1M45 85h1M49 85h1M53 85h1M60 85h1M64 85h1M70 85h2M26 86h1M30 86h1M51 86h1M76 86h1M90 86h1M24 87h1M31 87h2M37 87h1M44 87h1M46 87h1M54 87h1M58 87h2M64 87h1M71 87h1M20 88h1M34 88h1M36 88h1M50 88h1M61 88h1M63 88h1M69 88h1M76 88h1M21 89h1M29 89h1M31 89h2M36 89h1M40 89h1M44 89h1M30 90h1M33 90h1M38 90h1M29 91h1M37 91h1M49 91h1M51 91h1M60 91h1M67 91h1M21 92h1M29 92h1M47 92h1M51 92h1M27 93h2M33 93h1M35 93h1M27 94h1M31 94h1M45 95h1M55 95h1M34 96h1M52 96h1M60 96h1M34 97h1M46 97h1M58 98h1"/><path stroke="#bccdd9" d="M68 2h1M73 3h1M77 4h1M69 5h1M61 6h1M80 6h1M60 8h2M76 9h1M65 12h1M59 13h1M84 13h1M42 14h2M54 14h1M71 14h1M75 14h1M45 15h1M70 15h1M48 16h2M72 16h1M77 16h1M83 16h1M42 17h1M72 17h1M77 17h1M89 17h1M54 18h1M57 18h1M60 18h1M63 18h1M74 18h1M83 18h1M51 19h2M64 19h2M74 19h2M78 19h1M83 19h1M71 20h1M83 20h1M41 21h1M54 21h1M64 21h1M66 21h1M71 21h1M51 22h1M57 22h1M61 22h1M65 22h1M69 22h1M78 22h1M81 22h1M92 22h1M42 23h1M50 23h1M58 23h1M68 23h3M73 23h1M87 23h2M48 24h1M51 24h1M62 24h2M70 24h2M82 24h1M47 25h1M56 25h1M60 25h1M79 25h1M84 25h1M47 26h1M53 26h1M60 26h1M62 26h1M69 26h1M83 26h1M87 26h1M42 27h1M49 27h1M51 27h1M60 27h1M80 27h1M92 27h1M33 28h1M46 28h1M51 28h1M54 28h1M58 28h2M68 28h1M70 28h2M73 28h2M78 28h1M32 29h1M38 29h1M62 29h1M70 29h2M75 29h1M77 29h1M82 29h2M43 30h1M52 30h1M57 30h1M60 30h1M63 30h1M73 30h2M76 30h1M29 31h1M39 31h1M54 31h1M57 31h1M60 31h3M64 31h2M69 31h1M72 31h1M77 31h1M42 32h1M53 32h1M57 32h1M63 32h2M71 32h1M73 32h1M75 32h1M77 32h1M83 32h1M5 33h1M22 33h1M38 33h2M54 33h1M56 33h1M59 33h1M66 33h1M69 33h1M79 33h1M81 33h1M86 33h2M39 34h2M52 34h1M54 34h1M61 34h1M69 34h1M71 34h1M78 34h3M35 35h1M40 35h1M46 35h2M54 35h1M68 35h2M76 35h4M82 35h1M26 36h1M45 36h1M48 36h1M69 36h3M73 36h1M77 36h1M81 36h1M37 37h1M42 37h1M44 37h1M49 37h1M57 37h1M61 37h1M68 37h1M72 37h1M75 37h1M77 37h1M81 37h1M83 37h1M55 38h1M61 38h1M78 38h1M82 38h1M86 38h1M25 39h1M30 39h1M64 39h1M17 40h1M25 40h1M39 40h1M55 40h1M75 40h1M26 41h1M59 41h1M70 41h1M76 41h1M26 42h1M41 42h2M65 42h2M52 43h1M72 43h1M7 44h1M61 45h1M63 45h1M39 46h1M56 46h1M79 46h1M60 47h1M67 47h1M50 48h1M66 48h1M80 48h1M65 49h1M69 49h1M71 49h1M73 49h1M77 49h1M84 49h1M52 50h1M72 50h1M78 50h1M75 51h1M91 51h1M63 52h1M66 52h1M77 52h1M69 53h1M78 53h1M81 53h1M63 54h1M72 54h1M36 55h1M77 55h1M81 55h1M71 56h2M78 56h1M10 57h1M65 57h1M67 57h1M69 57h1M71 57h1M82 57h1M20 58h1M25 58h1M29 58h1M17 59h1M19 59h1M21 59h3M61 59h1M65 59h1M78 59h1M68 60h1M81 60h1M62 61h1M65 61h1M68 61h1M71 61h2M76 61h1M16 62h1M74 62h1M77 62h1M62 63h1M77 63h1M80 63h4M12 64h1M18 64h1M83 64h1M11 65h1M81 65h2M88 65h1M10 66h1M17 66h1M77 66h1M7 67h1M14 67h1M80 67h1M18 68h1M82 68h1M14 69h1M86 69h1M5 70h1M11 70h1M14 70h1M18 70h1M84 70h1M86 70h1M99 70h1M11 71h1M15 71h1M84 71h2M87 71h2M7 73h2M10 73h1M17 73h1M84 73h2M89 73h1M93 73h1M11 74h1M15 74h1M24 74h1M85 74h2M13 75h1M21 75h1M94 75h1M96 75h1M17 76h2M60 76h1M78 76h1M11 77h1M22 77h2M27 77h1M61 77h1M84 77h2M4 78h1M13 78h1M15 78h1M17 78h1M21 78h1M72 78h1M80 78h1M87 78h1M92 78h1M12 79h1M23 79h1M30 79h1M86 79h1M12 80h1M28 80h2M75 80h1M85 80h1M8 81h2M12 81h1M20 81h1M27 81h1M32 81h1M49 81h1M77 81h1M80 81h1M12 82h1M26 82h1M31 82h1M51 82h1M73 82h1M16 83h1M19 83h1M21 83h1M26 83h1M38 83h1M57 83h1M61 83h1M68 83h1M84 83h1M86 83h1M22 84h1M37 84h1M57 84h1M65 84h1M75 84h1M84 84h2M8 85h1M19 85h1M32 85h1M35 85h1M51 85h1M54 85h2M61 85h1M73 85h1M84 85h1M91 85h1M10 86h1M23 86h1M27 86h1M45 86h1M54 86h1M64 86h1M70 86h2M80 86h1M25 87h1M28 87h1M30 87h1M33 87h1M35 87h1M40 87h1M50 87h1M55 87h1M57 87h1M75 87h1M18 88h1M26 88h2M29 88h1M32 88h1M38 88h2M42 88h1M49 88h1M57 88h2M60 88h1M71 88h1M73 88h1M20 89h1M25 89h3M30 89h1M37 89h1M53 89h1M63 89h1M65 89h1M16 90h1M49 90h1M55 90h1M67 90h1M70 90h1M20 91h1M57 91h1M61 91h1M65 91h1M75 91h2M82 91h1M48 92h2M66 92h2M70 92h1M29 93h1M34 93h1M40 93h1M42 93h1M49 93h1M60 93h1M70 93h1M30 94h1M35 94h1M45 94h1M63 94h1M30 95h1M39 95h1M43 95h1M47 95h1M37 96h1M42 96h1M39 97h1M59 97h1M46 98h2"/><path stroke="#dfe2e6" d="M60 3h1M60 4h1M68 5h1M58 6h1M56 7h1M59 7h1M61 7h2M59 8h1M60 9h1M88 9h1M53 10h1M64 10h1M67 10h1M60 11h1M72 11h1M73 12h1M82 12h1M44 13h1M49 13h2M57 13h1M68 13h1M78 13h1M85 13h1M72 14h1M74 14h1M61 15h1M81 15h1M55 16h1M80 16h1M38 17h1M50 17h1M57 17h1M60 17h1M64 17h1M79 17h1M83 17h2M55 18h1M58 18h1M73 18h1M77 18h1M77 19h1M80 19h1M88 19h1M61 20h1M69 20h1M79 20h1M53 21h1M59 21h1M68 21h1M73 21h1M78 21h1M43 22h1M67 22h1M70 22h1M75 22h1M77 22h1M53 23h1M56 23h1M60 23h1M66 23h1M71 23h1M79 23h2M83 23h1M56 24h1M72 24h1M80 24h2M44 25h1M48 25h1M57 25h1M63 25h1M71 25h1M74 25h1M81 25h1M90 25h1M56 26h2M63 26h1M70 26h2M81 26h1M84 26h2M44 27h2M53 27h1M55 27h1M57 27h1M61 27h1M63 27h1M71 27h1M75 27h1M83 27h1M32 28h1M41 28h2M47 28h1M56 28h1M61 28h1M77 28h1M80 28h1M89 28h1M92 28h1M45 29h1M49 29h1M53 29h2M66 29h2M78 29h1M81 29h1M84 29h1M88 29h1M28 30h1M39 30h1M44 30h1M69 30h1M75 30h1M77 30h1M84 30h1M33 31h1M36 31h1M38 31h1M56 31h1M68 31h1M86 31h1M30 32h1M40 32h1M47 32h1M70 32h1M76 32h1M82 32h1M88 32h1M9 33h1M40 33h1M45 33h1M52 33h1M57 33h1M60 33h1M65 33h1M80 33h1M82 33h1M27 34h1M37 34h1M47 34h1M49 34h1M55 34h1M58 34h1M44 35h1M53 35h1M55 35h1M60 35h1M71 35h1M81 35h1M83 35h1M12 36h1M40 36h1M46 36h1M49 36h1M58 36h1M64 36h1M75 36h2M80 36h1M34 37h1M40 37h2M50 37h2M65 37h1M0 38h1M63 38h1M88 38h1M31 39h1M44 39h1M60 39h1M71 39h1M77 39h1M80 39h2M41 40h1M43 40h1M64 40h1M66 40h1M82 40h1M48 41h1M60 41h1M75 41h1M38 42h1M49 42h1M62 42h2M47 43h1M49 43h1M57 43h1M63 43h1M65 43h1M71 43h1M26 44h1M19 45h1M42 45h1M48 45h1M50 45h1M39 47h1M80 47h1M20 48h1M49 48h1M61 48h2M73 48h1M56 49h1M60 49h1M78 49h1M55 50h1M64 50h1M53 51h1M73 51h1M85 51h1M89 51h1M68 53h1M73 53h1M66 54h1M78 54h1M87 54h1M57 55h1M68 55h1M73 56h1M23 57h1M66 57h1M72 57h2M84 57h1M31 58h1M67 58h1M70 58h1M80 58h1M69 59h1M75 59h2M79 59h1M81 59h1M86 59h1M9 60h1M74 60h1M80 60h1M82 60h1M85 60h1M13 61h1M17 61h1M66 61h1M75 61h1M82 61h1M19 62h1M78 62h1M83 62h1M14 63h1M84 63h1M11 64h1M15 64h2M85 64h1M7 65h1M13 65h1M70 65h1M84 65h1M12 66h1M18 66h1M78 66h1M82 66h1M86 66h1M6 67h1M11 67h1M13 67h1M12 68h2M85 68h1M7 69h3M87 69h1M16 70h1M83 70h1M87 70h2M91 70h1M8 71h2M4 72h1M16 72h1M20 72h1M12 73h1M80 73h1M2 74h1M15 75h1M20 75h1M25 75h1M3 76h1M7 76h1M89 76h1M95 76h1M7 77h1M10 77h1M12 77h1M19 77h1M86 77h1M93 77h2M8 78h1M14 78h1M89 78h1M95 78h1M13 79h1M16 79h1M26 79h2M37 79h1M89 79h1M94 79h1M41 80h1M84 80h1M15 81h1M83 81h2M15 82h3M24 82h1M57 82h1M88 82h1M90 82h1M7 83h1M12 83h1M20 83h1M27 83h1M67 83h1M75 83h1M79 83h1M89 83h1M20 84h1M23 84h1M43 84h1M54 84h1M59 84h1M70 84h1M72 84h1M77 84h4M92 84h1M23 85h2M30 85h1M69 85h1M79 85h1M88 85h1M29 86h1M31 86h1M44 86h1M55 86h1M60 86h1M66 86h1M69 86h1M20 87h1M29 87h1M34 87h1M47 87h1M60 87h1M66 87h1M80 87h1M82 87h1M13 88h2M17 88h1M24 88h1M31 88h1M47 88h1M52 88h2M65 88h2M79 88h1M19 89h1M57 89h1M59 89h1M61 89h2M68 89h1M76 89h1M83 89h1M85 89h1M13 90h2M20 90h2M27 90h3M34 90h1M48 90h1M63 90h1M69 90h1M79 90h1M81 90h1M25 91h1M32 91h1M38 91h1M45 91h1M50 91h1M56 91h1M66 91h1M74 91h1M78 91h1M27 92h1M35 92h1M45 92h1M53 92h2M58 92h1M22 93h1M32 93h1M38 93h1M46 93h1M57 93h1M59 93h1M66 93h1M29 94h1M68 94h1M72 94h1M35 95h1M41 95h1M46 95h1M68 95h1M76 95h1M30 96h1M66 96h1M38 97h1M62 97h1"/><path stroke="#f0e5e3" d="M62 0h1M70 0h1M60 2h1M75 3h1M67 4h1M67 5h1M74 5h1M64 8h1M72 8h1M74 8h2M85 8h1M66 9h1M72 9h1M62 10h1M72 10h1M51 11h1M57 11h2M67 11h1M69 11h1M75 11h1M86 11h1M49 12h1M70 12h1M75 12h1M71 13h1M56 14h1M88 14h2M72 15h1M84 15h1M47 17h1M61 17h1M69 17h1M81 17h1M88 17h1M56 18h1M50 19h1M63 19h1M66 19h1M71 19h1M54 20h1M67 20h1M58 21h1M67 21h1M72 21h1M81 21h1M83 21h2M59 22h2M63 22h1M84 22h1M87 22h1M90 22h1M74 23h1M78 23h1M67 24h1M69 24h1M77 24h1M79 24h1M83 24h1M87 24h2M58 25h2M65 25h1M67 25h1M73 25h1M76 25h1M86 25h1M92 25h1M46 26h1M50 26h1M74 26h1M77 26h1M79 26h2M65 27h2M76 27h2M79 27h1M82 27h1M48 28h2M52 28h2M55 28h1M62 28h2M65 28h1M83 28h1M85 28h2M88 28h1M42 29h1M46 29h1M48 29h1M50 29h1M56 29h1M60 29h1M73 29h2M79 29h1M29 30h1M48 30h1M55 30h1M59 30h1M61 30h1M83 30h1M85 30h4M31 31h1M47 31h1M51 31h1M59 31h1M73 31h1M85 31h1M89 31h1M41 32h1M55 32h1M65 32h1M81 32h1M85 32h1M8 33h1M43 33h2M46 33h1M48 33h2M51 33h1M61 33h1M64 33h1M71 33h1M75 33h1M78 33h1M4 34h1M7 34h1M42 34h1M48 34h1M50 34h2M53 34h1M59 34h1M76 34h1M82 34h1M87 34h1M9 35h1M29 35h1M41 35h3M49 35h1M51 35h1M57 35h1M59 35h1M66 35h1M73 35h2M8 36h1M44 36h1M50 36h1M52 36h1M61 36h1M67 36h1M27 37h2M43 37h1M45 37h1M58 37h2M78 37h1M26 38h1M38 38h1M49 38h1M51 38h1M73 38h1M14 39h1M29 39h1M50 39h1M58 39h1M62 39h1M11 40h1M38 40h1M46 40h1M56 40h1M59 40h1M70 40h1M73 40h2M78 40h1M6 41h1M43 41h1M64 41h1M77 41h1M81 41h1M17 42h1M29 42h1M39 42h1M45 42h1M50 42h2M55 42h1M61 42h1M39 43h1M42 43h1M78 43h1M41 44h2M58 44h1M61 44h1M3 45h1M20 45h1M45 46h1M58 46h1M-1 47h1M18 47h1M89 47h1M41 48h1M55 48h2M62 49h1M66 49h1M81 49h1M93 49h1M97 49h1M60 50h1M65 50h1M69 50h1M79 50h1M58 51h1M71 51h1M76 51h1M79 51h1M92 51h1M55 52h1M60 52h1M68 52h1M64 53h1M20 54h1M56 54h1M64 54h1M68 54h1M73 54h1M79 54h1M86 54h1M39 55h1M60 55h1M88 55h1M83 56h1M70 57h1M75 57h1M83 57h1M71 58h2M75 58h1M82 58h1M16 59h1M70 59h2M83 59h1M16 60h2M21 60h1M75 60h2M79 60h1M83 60h1M10 61h1M69 61h1M74 61h1M77 61h1M80 61h2M83 61h1M79 62h1M12 63h1M78 63h1M8 64h2M9 65h2M85 65h1M4 66h1M57 66h1M80 66h1M83 66h1M87 66h1M18 67h1M87 67h1M89 67h1M4 68h1M6 68h1M11 68h1M86 68h1M88 68h2M10 69h1M13 69h1M88 69h1M9 70h1M93 70h1M2 71h1M12 71h1M89 71h1M5 72h1M9 72h1M87 72h1M90 72h2M13 73h1M87 73h1M5 74h1M89 74h1M91 74h1M3 75h1M5 75h1M9 75h1M12 75h1M14 75h1M84 75h1M88 75h3M97 75h1M6 76h1M8 76h1M16 76h1M86 76h1M16 77h1M83 77h1M88 77h1M9 78h1M90 78h1M6 79h2M10 79h1M19 79h1M22 79h1M65 79h1M80 79h1M87 79h1M13 80h1M17 80h1M19 80h2M63 80h1M88 80h1M90 80h1M7 81h1M10 81h1M16 81h1M19 81h1M10 82h1M54 82h1M76 82h2M17 83h1M22 83h1M25 83h1M28 83h1M82 83h1M87 83h1M90 83h1M8 84h1M18 84h1M24 84h1M27 84h1M71 84h1M17 85h1M26 85h1M56 85h1M59 85h1M62 85h1M72 85h1M82 85h2M24 86h1M28 86h1M36 86h1M41 86h1M57 86h1M61 86h1M86 86h1M13 87h1M18 87h1M26 87h1M51 87h1M56 87h1M63 87h1M83 87h2M16 88h1M35 88h1M48 88h1M51 88h1M55 88h1M59 88h1M68 88h1M74 88h1M86 88h1M43 89h1M50 89h2M72 89h1M22 90h1M24 90h1M26 90h1M43 90h1M45 90h1M51 90h2M56 90h2M59 90h1M78 90h1M83 90h1M21 91h2M24 91h1M26 91h1M28 91h1M30 91h1M36 91h1M54 91h1M59 91h1M81 91h1M85 91h1M18 92h1M25 92h2M46 92h1M50 92h1M26 93h1M31 93h1M52 93h1M61 93h1M65 93h1M68 93h1M76 93h1M25 94h2M38 94h1M48 94h1M55 94h1M70 94h1M77 94h1M27 95h1M34 95h1M36 95h1M40 95h1M52 95h2M42 97h1M49 97h1M41 98h1M44 98h1M45 99h1M54 99h1"/><path stroke="#e9d3cb" d="M73 0h1M73 1h1M59 3h1M67 3h1M72 3h1M69 4h1M78 4h1M59 5h1M78 5h1M78 6h1M64 7h1M54 8h1M65 8h1M70 8h1M82 8h1M75 9h1M84 9h1M70 10h1M47 11h1M78 11h1M90 11h1M88 12h1M41 13h2M70 13h1M77 13h1M79 13h1M81 13h1M44 14h1M84 14h1M57 15h1M80 15h1M59 17h1M71 17h1M71 18h2M82 18h1M88 18h2M55 19h1M72 20h1M69 21h1M82 21h1M88 21h1M64 22h1M80 22h1M82 22h2M86 22h1M91 22h1M55 23h1M59 23h1M82 23h1M90 23h2M64 24h2M69 25h1M75 25h1M82 25h2M89 25h1M49 26h1M65 26h1M76 26h1M86 26h1M88 26h1M92 26h1M48 27h1M59 27h1M64 27h1M85 27h2M89 27h1M44 28h1M79 28h1M84 28h1M91 28h1M57 29h1M65 29h1M85 29h1M38 30h1M45 30h2M49 30h1M53 30h1M56 30h1M58 30h1M65 30h1M70 30h1M26 31h1M34 31h1M44 31h1M52 31h1M88 31h1M28 32h1M43 32h3M48 32h1M51 32h1M56 32h1M58 32h1M68 32h1M87 32h1M6 33h1M32 33h1M35 33h1M37 33h1M41 33h1M63 33h1M3 34h1M31 34h1M64 34h2M67 34h1M73 34h1M84 34h1M89 34h1M94 34h1M39 35h1M48 35h1M50 35h1M85 35h1M31 36h1M43 36h1M56 36h1M68 36h1M74 36h1M12 37h1M46 37h1M71 37h1M73 37h1M80 37h1M82 37h1M44 38h1M53 38h1M59 38h1M81 38h1M84 38h1M39 39h1M41 39h1M43 39h1M82 39h1M8 40h1M27 40h1M71 40h1M46 41h2M52 41h1M68 41h1M78 41h1M82 41h1M30 42h1M41 43h1M46 43h1M54 43h1M82 43h1M4 44h1M85 44h1M8 45h1M52 45h2M54 46h1M63 46h1M66 46h1M76 46h1M97 46h1M76 47h1M78 47h1M90 47h1M2 48h1M70 48h1M74 48h1M92 48h2M54 49h1M64 49h1M74 50h1M80 50h2M55 51h1M86 51h1M94 51h1M43 52h1M56 52h1M64 52h1M79 52h1M89 52h2M98 52h1M31 53h1M36 53h1M46 53h1M60 53h1M62 53h1M71 53h1M74 53h1M76 53h1M79 53h1M82 53h1M85 53h1M90 53h1M92 53h1M19 54h1M82 54h1M89 54h1M72 55h1M92 55h1M19 56h1M21 56h1M65 56h1M68 56h1M77 56h1M80 56h1M88 56h1M80 57h1M73 58h1M76 58h1M86 58h1M90 58h1M74 59h1M82 59h1M78 60h1M84 60h1M12 61h1M78 61h1M85 61h1M11 62h2M9 63h2M81 64h1M8 65h1M86 65h1M5 66h1M13 66h1M85 66h1M9 67h1M84 67h3M9 68h1M5 69h2M89 69h1M85 70h1M86 71h1M97 71h1M8 72h1M89 72h1M92 72h1M98 72h1M14 73h1M94 73h1M96 73h1M6 74h1M16 74h1M87 74h1M90 74h1M8 75h1M11 75h1M17 75h1M85 75h3M91 75h1M14 77h1M87 77h1M89 77h1M88 78h1M90 79h1M15 80h1M18 80h1M86 80h1M85 81h1M89 81h1M92 81h1M86 82h1M89 82h1M71 83h1M28 85h1M81 85h1M15 86h1M58 86h1M75 86h1M81 86h1M70 87h1M81 87h1M87 87h1M12 88h1M22 88h1M83 88h1M46 89h1M58 89h1M60 89h1M64 89h1M67 89h1M25 90h1M36 90h1M39 90h1M60 90h1M77 90h1M33 91h1M40 91h2M47 91h1M77 91h1M23 92h1M39 92h1M64 92h2M68 92h1M73 92h1M78 92h2M21 93h1M23 93h2M47 93h1M54 93h1M56 93h1M74 93h1M24 94h1M32 94h1M46 94h1M49 94h2M58 94h1M61 94h1M59 95h1M72 95h1M77 95h1M50 96h1M62 96h1M35 97h1M51 97h1M67 97h1M49 98h1M42 99h1M46 99h1M60 99h1"/><path stroke="#e2bdb1" d="M69 0h1M69 2h1M66 6h1M71 7h1M77 7h1M63 8h1M76 8h1M67 9h1M71 9h1M79 10h1M82 10h1M86 10h1M50 11h1M74 11h1M85 11h1M88 11h1M50 12h1M76 12h1M60 14h1M81 14h1M86 14h1M92 14h1M46 15h1M56 15h1M59 15h1M73 15h1M75 16h1M78 17h1M85 17h1M78 18h1M59 19h1M69 19h1M82 19h1M73 20h1M78 20h1M88 20h1M86 21h2M77 23h1M85 23h1M55 24h1M75 24h1M85 24h1M92 24h2M95 24h1M87 25h1M91 25h1M94 25h1M52 26h1M59 26h1M64 26h1M73 26h1M89 26h1M93 26h1M58 27h1M88 27h1M93 27h1M72 28h1M76 28h1M52 29h1M90 29h1M51 30h1M89 30h1M46 31h1M49 31h1M76 31h1M78 31h1M87 31h1M92 31h1M9 32h2M89 32h2M62 33h1M11 34h1M38 34h1M44 34h1M64 35h1M86 35h1M89 35h1M62 36h1M83 36h1M85 36h1M30 37h1M53 37h1M67 37h1M84 37h1M39 38h1M54 38h1M58 38h1M64 38h1M69 38h1M71 38h1M91 38h1M5 39h1M7 39h1M28 39h1M53 39h1M73 39h2M83 39h1M14 40h1M49 40h2M76 40h1M93 40h1M9 41h1M50 41h1M58 41h1M74 41h1M13 42h1M43 42h1M53 42h1M70 42h2M7 43h1M80 43h2M44 44h1M60 44h1M67 44h1M78 44h1M2 45h1M37 45h1M45 45h1M54 45h1M68 45h1M89 45h1M1 46h1M55 46h1M60 46h1M65 46h1M74 46h2M86 46h1M61 47h1M64 47h1M75 47h1M23 48h1M59 48h1M63 48h1M58 49h1M76 49h1M79 49h2M90 49h1M94 49h1M11 50h1M54 50h1M73 50h1M43 51h1M54 51h1M60 51h1M67 51h2M83 51h1M21 52h1M61 52h1M67 52h1M3 53h1M40 53h1M72 53h1M86 53h1M59 54h1M62 54h1M75 54h1M95 55h1M27 56h1M75 56h1M81 57h1M15 58h1M77 59h1M84 59h1M89 59h1M11 60h1M19 60h1M86 60h1M9 61h1M79 61h1M84 61h1M8 62h1M84 62h4M7 63h1M84 64h1M88 64h1M7 66h1M88 66h1M5 67h1M10 67h1M90 67h1M10 68h1M87 68h1M11 69h1M90 69h1M3 70h1M90 70h1M10 71h1M94 71h1M12 72h1M88 72h1M95 72h1M97 73h1M4 74h1M9 74h1M14 74h1M92 74h1M95 74h1M97 74h1M92 75h2M9 76h1M11 76h1M15 76h1M85 76h1M94 76h1M6 78h1M16 78h1M86 78h1M17 79h2M88 79h1M89 80h1M21 81h1M9 82h1M20 82h1M92 82h1M11 84h2M82 84h1M10 85h1M16 85h1M76 85h1M14 86h1M53 86h1M72 86h1M82 86h2M87 86h1M89 86h1M15 87h1M52 87h1M69 87h1M78 87h1M89 87h1M21 88h1M40 88h1M64 88h1M70 88h1M77 88h1M81 88h2M39 89h1M82 89h1M86 89h1M40 90h1M74 90h1M84 90h1M23 91h1M44 91h1M53 91h1M62 91h1M71 91h1M22 92h1M37 92h2M55 92h1M72 92h1M77 92h1M30 93h1M39 93h1M48 93h1M51 93h1M64 93h1M77 93h1M23 94h1M33 94h1M36 94h1M57 94h1M60 94h1M66 94h1M75 94h1M80 94h1M29 95h1M70 95h1M33 96h1M41 96h1M47 96h2M54 96h1M56 96h1M69 96h1M54 97h1M66 97h1M73 97h1M55 99h1"/><path stroke="#d9a493" d="M62 2h1M71 2h1M69 3h1M76 3h1M75 5h1M62 6h1M80 7h1M67 8h2M70 9h1M66 10h1M73 10h1M75 10h1M48 11h1M70 11h1M48 12h1M61 12h1M82 14h1M89 15h1M93 15h1M85 18h2M73 19h1M76 19h1M86 19h2M91 19h1M70 20h1M87 20h1M76 21h1M90 21h3M96 21h1M84 23h1M86 23h1M86 24h1M89 24h1M54 25h1M77 25h1M90 26h2M94 26h1M39 28h1M60 28h1M90 28h1M44 29h1M86 29h2M91 30h1M45 31h1M90 31h1M23 32h1M46 32h1M52 32h1M84 32h1M86 32h1M47 33h1M89 33h1M86 34h1M90 34h1M37 35h1M84 35h1M87 35h1M0 36h1M29 36h1M35 36h1M57 36h1M84 36h1M5 37h1M11 37h1M29 37h1M48 37h1M85 37h1M42 38h2M90 38h1M37 39h1M63 39h1M86 39h1M92 39h1M47 40h1M84 40h1M86 40h2M95 40h1M100 40h1M20 41h1M80 41h1M89 41h1M18 42h2M25 42h1M75 42h1M78 42h1M80 42h2M83 42h1M84 43h1M21 44h1M46 44h1M74 45h1M98 45h1M40 46h1M43 46h1M59 46h1M80 46h1M21 47h1M59 47h1M68 47h1M81 47h2M93 47h1M0 48h1M57 48h1M65 48h1M77 48h1M84 48h2M70 49h1M62 50h1M71 50h1M77 50h1M17 51h1M83 52h1M88 52h1M92 52h1M4 53h1M59 53h1M95 53h1M74 54h1M76 54h1M84 54h1M83 55h1M89 55h1M24 56h1M81 56h1M84 56h1M89 56h2M7 57h1M19 57h1M28 57h1M77 57h1M79 57h1M86 57h1M0 58h1M17 58h1M21 58h1M27 58h1M77 58h1M81 58h1M84 58h1M92 58h1M1 59h1M6 59h1M80 59h1M87 59h1M8 60h1M14 60h1M77 60h1M86 61h1M9 62h1M89 62h1M8 63h1M15 63h1M85 63h3M93 63h1M7 64h1M10 64h1M86 64h1M6 66h1M8 66h1M0 67h1M8 67h1M88 67h1M93 69h1M99 69h1M96 70h1M6 72h1M10 72h1M84 72h1M4 73h2M90 73h1M8 74h1M88 74h1M10 76h1M13 76h1M87 76h1M90 76h1M9 77h1M13 77h1M92 77h1M5 78h1M11 78h1M8 80h2M88 81h1M87 82h1M10 83h1M81 83h1M88 83h1M13 84h1M21 85h1M10 87h1M68 87h1M73 87h1M77 87h1M79 87h1M28 88h1M67 88h1M75 88h1M78 88h1M18 89h1M49 89h1M52 89h1M71 89h1M73 89h1M17 90h1M44 90h1M82 90h1M85 90h1M16 91h1M55 91h1M69 91h1M72 91h1M83 91h1M31 92h2M59 92h1M69 92h1M71 92h1M75 92h1M55 93h1M47 94h1M56 94h1M67 94h1M71 94h1M73 94h1M44 95h1M49 95h1M56 95h1M66 95h1M71 95h1M75 95h1M68 96h1M41 97h1M58 97h1M50 98h2M44 99h1M48 99h2M57 99h1"/><path stroke="#d28c7b" d="M58 3h1M54 4h1M64 5h1M70 5h1M80 5h1M68 6h1M79 6h1M62 9h1M68 9h1M80 9h1M83 10h1M83 11h2M77 12h1M79 12h1M81 12h1M72 13h1M80 13h1M83 13h1M75 15h1M74 16h1M84 16h1M92 17h1M68 18h1M87 18h1M92 18h1M86 20h1M90 20h1M57 21h1M85 21h1M89 21h1M89 22h1M84 24h1M91 24h1M87 27h1M89 29h1M91 29h1M47 30h1M50 30h1M90 30h1M50 31h1M91 31h1M49 32h1M91 32h1M50 33h1M90 33h1M93 33h1M88 34h1M97 34h1M8 35h1M38 35h1M27 36h1M32 36h1M86 36h1M2 37h1M14 38h1M62 38h1M61 39h1M90 39h1M5 40h1M19 40h1M62 40h1M66 41h1M92 41h1M2 42h1M11 42h1M40 42h1M68 42h1M24 43h2M53 43h1M56 43h1M73 43h1M83 43h1M25 44h1M27 44h1M72 44h2M82 44h1M78 45h1M81 45h1M25 46h1M41 46h1M62 46h1M68 46h1M72 46h1M77 46h1M12 47h1M20 47h1M48 47h1M55 47h1M70 47h1M83 48h1M87 48h1M61 49h1M67 49h1M23 50h1M75 50h1M82 50h1M84 50h1M59 51h1M62 51h1M87 51h1M90 51h1M93 51h1M16 52h1M62 52h1M81 52h1M75 53h1M90 54h1M92 54h1M96 54h1M84 55h1M86 55h1M70 56h1M82 56h1M93 56h1M6 57h1M78 57h1M88 57h1M18 58h1M78 58h2M83 58h1M87 58h1M7 59h1M85 59h1M15 60h1M14 61h2M87 61h1M89 61h1M5 63h1M11 63h1M13 63h1M88 63h1M2 67h1M3 69h1M92 69h1M6 70h1M93 71h1M11 73h1M95 73h1M3 74h1M10 75h1M95 75h1M92 76h1M90 77h1M12 78h1M5 79h1M11 79h1M92 79h2M95 79h1M7 80h1M8 82h1M11 82h1M89 84h1M11 85h1M27 85h1M89 85h1M12 86h1M78 86h1M17 87h1M72 87h1M33 88h1M37 88h1M12 89h1M14 89h1M23 89h2M74 89h2M78 89h1M47 90h1M61 90h1M68 90h1M72 90h1M75 90h1M19 91h1M63 91h1M73 91h1M84 91h1M43 92h1M52 92h1M56 92h1M76 92h1M82 92h2M53 93h1M71 93h1M41 94h1M51 94h1M54 94h1M69 94h1M78 94h1M50 95h1M58 95h1M73 95h1M32 96h1M58 96h1M48 97h1M69 97h1M43 98h1M61 98h1M52 99h1M59 99h1"/><path stroke="#ca7665" d="M68 0h1M57 3h1M62 3h1M71 4h1M75 4h1M81 4h1M72 5h1M82 5h1M65 6h1M77 6h1M72 7h1M76 7h1M77 8h1M83 8h1M86 8h1M74 10h1M85 10h1M71 12h1M80 12h1M86 13h2M73 14h1M83 15h1M86 15h1M86 16h1M70 17h1M86 17h1M76 18h1M56 19h1M60 19h1M91 20h1M93 21h1M95 21h1M85 22h1M93 22h1M67 23h1M93 23h1M95 25h1M95 27h1M87 28h1M94 28h1M97 29h1M92 30h1M50 32h1M96 32h1M85 33h1M88 33h1M10 34h1M85 34h1M10 36h1M88 36h1M86 37h1M3 38h1M35 38h1M45 38h1M68 39h1M94 39h1M52 40h1M5 41h1M19 41h1M35 41h1M71 41h1M87 41h1M98 41h1M23 42h1M27 42h1M82 42h1M90 42h2M10 43h1M68 43h1M70 43h1M79 43h1M88 43h1M9 44h1M80 44h2M83 44h1M7 45h1M22 45h1M27 45h1M62 45h1M67 45h1M79 45h1M20 46h1M23 46h1M26 46h1M69 46h1M100 46h1M13 47h1M77 47h1M99 47h1M11 48h1M54 48h1M64 48h1M12 49h1M15 49h1M23 49h1M85 49h1M87 49h1M67 50h1M83 50h1M96 50h1M57 51h1M70 51h1M65 52h1M73 52h3M80 52h1M82 52h1M15 53h1M18 53h1M83 53h2M100 53h1M83 54h1M88 54h1M91 54h1M-1 55h1M10 55h1M67 55h1M73 55h1M75 55h2M80 55h1M85 55h1M98 55h1M22 56h1M64 56h1M67 56h1M74 56h1M76 56h1M86 56h1M94 56h1M15 57h1M74 57h1M87 57h1M5 58h1M16 58h1M85 58h1M89 58h1M88 59h1M12 60h1M88 60h1M11 61h1M88 61h1M7 62h1M10 62h1M90 63h2M87 64h1M90 64h1M3 65h3M87 65h1M90 65h1M92 65h1M1 66h3M9 66h1M92 66h1M91 67h1M3 68h1M5 68h1M93 68h1M97 68h1M94 69h1M96 69h1M2 70h1M8 70h1M90 71h1M92 71h1M96 71h1M96 72h1M92 73h1M7 74h1M10 74h1M93 76h1M6 77h1M94 78h1M9 79h1M14 79h2M11 80h1M92 80h1M90 81h1M6 82h1M11 83h1M17 86h1M14 87h1M11 88h1M72 88h1M80 88h1M81 89h1M73 90h1M48 91h1M80 91h1M62 92h1M67 93h1M43 94h1M52 94h1M65 94h1M48 95h1M60 95h1M44 96h1M55 96h1M64 96h1M70 96h1M53 97h1M56 97h1M63 97h1M65 97h1M59 98h1M62 99h1"/><path stroke="#c26050" d="M71 5h1M84 5h1M75 6h1M67 7h1M66 8h1M77 9h1M86 9h1M79 11h1M79 14h1M83 14h1M76 15h1M85 15h1M90 16h1M90 17h1M59 20h1M88 22h1M94 23h1M93 25h1M93 28h1M47 29h1M94 29h1M48 31h1M92 32h2M92 33h1M5 34h1M29 34h1M91 34h2M7 35h1M88 35h1M25 36h1M87 36h1M99 36h1M10 37h1M38 37h1M89 37h1M1 38h1M6 38h1M11 38h1M95 38h1M4 39h1M8 39h1M48 39h1M52 39h1M87 39h1M89 39h1M6 40h1M23 40h1M85 40h1M92 40h1M42 41h1M21 42h1M1 43h1M11 43h1M20 43h1M64 43h1M74 43h2M86 43h1M63 44h1M77 44h1M24 45h1M72 45h1M83 45h1M8 46h1M12 46h1M61 46h1M71 46h1M82 46h1M22 47h1M53 47h1M57 47h1M72 47h1M83 47h1M87 47h1M10 48h1M78 48h1M98 48h1M63 49h1M12 50h1M41 50h1M88 50h1M98 50h1M63 51h1M84 51h1M87 52h1M16 53h1M63 53h1M87 53h1M98 53h1M98 54h1M17 55h1M19 55h1M66 55h1M74 55h1M79 55h1M82 55h1M87 55h1M90 55h2M11 56h1M26 56h1M85 56h1M87 56h1M92 56h1M25 57h1M76 57h1M85 57h1M90 57h2M14 58h1M91 58h1M99 58h1M90 59h1M93 59h1M90 60h1M4 62h1M6 62h1M88 62h1M92 62h1M2 65h1M89 66h2M92 67h3M91 68h1M1 70h1M89 70h1M3 71h2M6 71h1M91 71h1M3 72h1M93 74h1M6 75h1M12 76h1M88 76h1M8 77h1M91 80h1M14 81h1M93 81h1M14 82h1M9 83h1M10 84h1M79 86h1M87 88h1M77 89h1M79 89h1M31 90h1M71 90h1M80 90h1M58 93h1M62 93h1M82 93h1M53 94h1M76 94h1M54 95h1M62 95h1M65 95h1M51 96h1M53 96h1M61 96h1M44 97h1M50 97h1M55 98h1M57 98h1M50 99h1M61 99h1"/><path stroke="#ba4d3e" d="M51 -1h1M70 4h1M83 5h1M71 6h2M81 6h1M60 7h1M75 7h1M79 8h1M74 9h1M81 10h1M84 10h1M80 11h1M72 12h1M83 12h1M87 15h1M88 16h2M90 18h1M93 18h1M85 19h1M85 20h1M95 22h1M89 23h1M92 23h1M96 23h2M98 25h1M91 27h1M94 27h1M97 27h1M95 29h1M29 33h1M83 33h1M99 33h1M8 34h1M3 35h1M32 35h1M13 36h1M36 36h1M89 36h2M13 37h1M24 37h1M88 37h1M85 38h1M10 39h1M75 39h1M89 40h2M10 41h1M44 41h1M63 41h1M65 41h1M84 41h1M5 42h1M74 42h1M79 42h1M85 42h1M88 42h1M99 42h1M61 43h1M76 43h1M93 43h1M12 44h1M19 44h1M69 44h1M15 45h1M82 45h1M90 45h1M5 46h1M11 46h1M69 47h1M84 47h1M91 47h1M51 48h1M68 48h1M86 48h1M91 48h1M96 48h1M88 49h2M98 49h1M10 50h1M86 50h1M89 50h1M93 50h2M100 50h1M88 51h1M95 51h1M97 51h1M100 51h1M88 53h1M93 53h1M16 54h1M80 54h1M95 54h1M99 54h1M6 55h1M28 55h1M78 55h1M94 55h1M96 55h1M5 56h1M9 57h1M12 57h1M92 57h1M94 57h1M95 58h1M100 58h1M91 59h1M4 60h2M6 61h1M91 61h1M91 62h1M4 63h1M6 63h1M3 64h1M94 64h1M96 64h1M6 65h1M91 66h1M1 67h1M95 67h1M98 68h1M98 69h1M92 70h1M94 70h2M2 72h1M7 72h1M2 73h1M91 73h1M8 79h1M18 81h1M28 89h1M63 92h1M69 93h1M51 95h1M64 95h1M67 95h1M35 96h1M43 96h1M46 96h1M49 96h1M63 96h1M73 96h1M37 97h1M52 97h1M60 97h1M68 97h1M60 98h1M66 98h1"/><path stroke="#b0372d" d="M69 1h2M56 4h1M62 5h1M65 7h1M70 7h1M83 7h1M78 8h1M68 11h1M78 12h1M88 15h1M94 17h1M95 19h1M98 26h1M98 27h1M93 29h1M94 30h1M98 30h2M27 31h1M93 31h2M96 31h1M95 32h1M91 33h1M95 33h1M93 34h1M90 35h1M92 35h1M3 36h1M31 37h1M90 37h3M13 38h1M76 38h1M89 38h1M84 39h1M88 39h1M91 39h1M95 39h1M7 40h1M24 40h1M91 40h1M3 41h1M8 41h1M39 41h1M14 42h1M9 43h1M15 43h1M3 44h1M65 44h1M86 44h1M94 44h1M84 45h1M9 46h1M24 46h1M88 47h1M95 47h1M71 48h1M95 48h1M75 49h1M5 50h1M90 50h1M74 51h1M80 51h1M25 52h1M95 52h1M6 54h1M0 56h1M98 56h1M89 57h1M93 57h1M98 57h2M94 58h1M15 59h1M87 60h1M97 60h1M4 61h1M92 61h1M93 62h1M89 63h1M92 63h1M5 64h1M89 64h1M0 65h1M93 66h1M4 67h1M96 67h1M1 69h1M4 69h1M91 69h1M94 72h1M96 76h1M87 85h1M11 86h1M16 86h1M84 86h1M80 89h1M70 91h1M74 92h1M25 93h1M73 93h1M81 93h1M63 95h1M69 95h1M57 96h1M70 97h1"/><path stroke="#a62a24" d="M71 0h1M73 2h2M81 5h1M70 6h1M86 7h1M69 8h1M88 10h1M76 13h1M90 15h1M84 20h1M94 24h1M96 29h1M95 31h1M97 31h1M94 32h1M6 34h1M30 34h1M11 35h1M96 35h1M91 36h2M87 37h1M5 38h1M2 40h1M12 41h2M4 42h1M77 42h1M93 42h1M4 43h1M91 43h1M-1 44h1M6 44h1M15 44h1M59 44h1M84 44h1M99 44h1M64 45h1M69 45h2M88 45h1M-1 46h1M85 46h1M93 46h1M95 46h1M11 47h1M71 47h1M94 47h1M96 47h1M76 48h1M20 49h1M95 49h1M99 49h1M13 50h1M95 50h1M2 51h1M8 51h1M82 51h1M94 52h1M97 52h1M5 53h1M94 53h1M7 54h1M11 54h1M81 54h1M93 54h1M16 55h1M17 56h2M99 56h1M1 57h1M14 57h1M96 57h1M88 58h1M8 59h1M94 59h1M13 60h1M89 60h1M91 60h2M94 62h1M97 62h1M2 64h1M92 64h1M97 66h1M99 67h1M2 68h1M92 68h1M95 69h1M1 71h1M98 71h1M93 72h1M4 77h2M91 78h1M13 85h1M13 86h1M75 93h1M78 93h1M65 96h1M75 96h1M72 97h1M48 98h1M54 98h1M67 98h1"/><path stroke="#9d2623" d="M72 0h1M74 1h1M70 2h1M57 5h1M73 5h1M83 6h1M69 7h1M81 11h2M88 13h1M89 20h1M94 21h1M96 28h1M93 30h1M96 30h1M99 32h1M94 33h1M95 34h1M95 35h1M3 37h1M93 37h1M98 37h1M7 38h1M87 38h1M93 38h1M99 38h1M9 39h1M-1 40h1M96 40h1M0 41h1M86 41h1M95 41h1M-1 43h1M97 43h1M8 44h1M11 44h1M66 45h1M92 45h1M92 46h1M85 47h1M98 47h1M13 48h1M75 48h1M99 48h1M4 49h1M9 49h1M68 49h1M83 49h1M91 50h1M97 50h1M6 51h1M14 51h1M11 52h1M7 53h1M10 53h1M13 53h1M96 53h1M94 54h1M13 56h1M91 56h1M95 56h1M5 57h1M8 57h1M13 58h1M9 59h1M12 59h1M92 59h1M99 59h1M7 60h1M10 60h1M5 61h1M8 61h1M90 62h1M94 63h1M0 64h2M4 64h1M6 64h1M91 64h1M99 64h1M89 65h1M91 65h1M0 66h1M94 66h1M96 66h1M94 68h1M95 71h1M8 83h1M80 92h2M62 94h1M64 94h1M42 98h1M68 98h1"/><path stroke="#922124" d="M72 2h1M77 2h1M70 3h1M74 3h1M72 4h1M73 7h1M89 10h1M85 12h1M79 15h1M91 15h1M90 19h1M92 19h1M95 23h1M96 24h1M95 26h1M95 30h1M97 32h1M97 33h1M2 34h1M98 34h1M1 35h1M93 35h1M11 36h1M93 36h1M4 37h1M39 37h1M8 38h1M6 39h1M96 39h1M42 40h1M4 41h1M88 41h1M94 41h1M12 42h1M73 42h1M84 42h1M87 43h1M90 43h1M10 44h1M71 44h1M100 44h1M85 45h1M99 45h1M88 46h1M90 46h1M2 47h1M8 48h1M15 48h1M1 49h1M22 49h1M0 50h1M7 50h1M10 51h1M96 51h1M99 51h1M4 52h1M99 52h1M19 53h1M77 53h1M97 53h1M1 54h1M3 54h1M8 54h1M100 54h1M1 55h1M99 55h1M3 56h1M9 56h1M97 57h1M4 58h1M6 58h1M9 58h1M93 58h1M95 59h3M93 60h1M95 60h2M99 60h1M90 61h1M94 61h1M5 62h1M95 62h1M2 63h1M99 63h1M93 65h1M96 65h1M97 67h1M95 68h1M96 74h1M93 80h1M92 83h1M59 96h1M72 96h1M52 98h1M62 98h1"/><path stroke="#8a1d24" d="M69 -1h1M54 1h1M47 3h1M78 7h1M87 8h1M54 9h1M58 10h1M92 13h1M52 14h1M74 15h1M51 16h1M87 16h1M80 17h1M87 17h1M84 18h1M91 18h1M43 19h1M89 19h1M96 20h1M98 31h1M21 32h1M98 32h1M100 32h1M21 33h1M34 33h1M9 34h1M22 34h1M36 34h1M25 35h1M67 35h1M91 35h1M98 35h1M100 35h1M9 36h1M98 36h1M7 37h1M26 37h1M99 37h1M56 38h1M94 38h1M98 38h1M3 39h1M85 39h1M93 39h1M9 40h1M56 41h1M85 41h1M90 41h2M99 41h1M47 42h2M69 42h1M6 43h1M14 43h1M85 43h1M89 43h1M70 44h1M74 44h1M91 44h2M12 45h1M73 45h1M80 45h1M91 45h1M3 46h1M7 46h1M21 46h1M84 46h1M3 47h1M100 47h1M38 48h1M90 48h1M55 49h1M59 49h1M92 49h1M9 50h1M15 50h1M12 52h1M2 53h1M99 53h1M10 54h1M12 54h1M17 54h1M18 55h1M6 56h1M8 56h1M15 56h1M100 56h1M11 57h1M95 57h1M100 57h1M2 58h1M8 58h1M10 58h1M19 58h1M97 58h2M-1 59h1M10 59h1M14 59h1M100 59h1M94 60h1M7 61h1M93 61h1M82 62h1M93 64h1M98 65h1M95 66h1M0 68h1M2 69h1M21 72h1M3 73h1M6 80h1M78 83h1M90 84h1M15 89h1M86 90h1M20 93h1M72 93h1M43 97h1M61 97h1M45 98h1M64 98h1"/><path stroke="#841a25" d="M65 5h1M81 9h2M91 12h1M90 13h1M93 20h1M95 28h1M97 30h1M99 31h2M96 34h1M5 35h1M2 36h1M94 36h1M95 37h2M17 39h1M10 40h1M88 40h1M97 40h1M1 41h1M97 41h1M9 42h1M98 42h1M94 43h1M5 45h1M96 45h1M73 46h1M92 47h1M97 47h1M5 48h1M16 51h1M10 52h1M84 52h1M17 53h1M5 54h1M14 54h2M13 55h1M93 55h1M17 57h1M11 58h1M96 58h1M5 59h1M13 59h1M0 61h2M95 61h1M3 63h1M95 63h1M97 63h1M95 64h1M1 65h1M94 65h1M97 65h1M98 66h1M1 68h1M61 95h1M71 97h1M56 98h1"/><path stroke="#7d1725" d="M84 12h1M90 14h1M94 16h1M94 19h1M99 27h1M97 28h1M98 33h1M100 33h1M97 35h1M95 36h1M100 36h1M0 40h2M94 40h1M98 40h1M7 41h1M93 41h1M7 42h1M86 42h1M95 43h2M1 44h1M90 44h1M96 44h1M1 45h1M93 45h1M4 46h1M87 46h1M89 46h1M91 46h1M5 47h1M94 48h1M3 49h1M7 49h1M96 49h1M-1 50h1M8 50h1M7 51h1M13 51h1M96 52h1M18 54h1M97 55h1M14 56h1M3 58h1M11 59h1M96 61h2M99 61h1M3 62h1M1 63h1M96 63h1M100 63h1"/><path stroke="#761325" d="M47 2h1M71 3h1M87 10h1M89 11h1M82 13h1M99 28h1M96 33h1M100 34h1M94 35h1M9 37h1M94 37h1M13 39h1M99 39h1M100 41h1M3 42h1M92 43h1M6 45h1M96 46h1M98 46h1M12 48h1M14 48h1M97 48h1M9 51h1M12 51h1M14 52h1M12 53h1M85 54h1M97 54h1M5 55h1M9 55h1M4 56h1M7 56h1M97 56h1M98 60h1M2 61h1M98 61h1M0 62h1M97 64h1M100 65h1M65 99h1"/><path stroke="#6e1025" d="M78 9h1M87 11h1M85 14h1M95 20h1M98 28h1M92 38h1M96 38h2M100 38h1M3 40h1M14 41h1M96 41h1M10 42h1M96 42h1M2 44h1M5 44h1M86 45h2M8 47h1M10 47h1M8 49h1M13 49h1M14 50h1M15 51h1M9 52h1M100 52h1M3 55h1M8 55h1M96 56h1M4 57h1M16 57h1M-1 61h1M3 61h1M-1 62h1M100 62h1M64 97h1"/><path stroke="#660d25" d="M63 0h1M71 1h1M76 2h1M77 3h2M68 4h1M56 5h1M66 5h1M56 6h1M82 6h1M84 6h1M84 8h1M59 9h1M77 10h1M56 11h1M65 11h1M56 12h1M87 12h1M89 12h2M56 13h1M58 13h1M87 14h1M93 14h1M92 15h1M91 16h3M91 17h1M93 17h1M94 18h1M40 19h1M96 19h1M92 20h1M34 21h1M42 21h1M96 25h1M68 26h1M97 26h1M67 27h1M50 28h1M30 29h1M99 29h1M24 31h1M29 32h1M11 33h1M33 34h1M35 34h1M99 34h1M2 35h1M6 35h1M99 35h1M4 36h1M96 36h2M0 37h1M97 37h1M2 38h1M4 38h1M0 39h2M26 39h1M97 39h2M100 39h1M-1 41h1M2 41h1M11 41h1M51 41h1M-1 42h1M1 42h1M8 42h1M31 42h1M57 42h1M87 42h1M89 42h1M92 42h1M94 42h2M97 42h1M100 42h1M2 43h1M5 43h1M8 43h1M12 43h2M26 43h1M43 43h1M69 43h1M98 43h3M0 44h1M16 44h1M66 44h1M79 44h1M87 44h1M89 44h1M93 44h1M95 44h1M97 44h2M-1 45h2M10 45h1M94 45h2M97 45h1M100 45h1M0 46h1M6 46h1M78 46h1M0 47h2M6 47h1M9 47h1M1 48h1M3 48h1M7 48h1M9 48h1M82 48h1M88 48h1M-1 49h2M2 49h1M5 49h2M10 49h1M14 49h1M91 49h1M100 49h1M1 50h4M6 50h1M99 50h1M-1 51h3M3 51h3M11 51h1M98 51h1M-1 52h3M3 52h1M5 52h4M15 52h1M17 52h1M91 52h1M-1 53h1M1 53h1M14 53h1M0 54h1M13 54h1M0 55h1M2 55h1M4 55h1M7 55h1M11 55h2M15 55h1M-1 56h1M2 56h1M10 56h1M12 56h1M16 56h1M2 57h2M-1 58h1M1 58h1M7 58h1M12 58h1M0 59h1M3 59h2M0 60h1M2 60h2M6 60h1M100 61h1M2 62h1M96 62h1M98 62h2M-1 63h2M64 63h1M98 63h1M98 64h1M95 65h1M99 65h1M98 67h1M99 68h1M97 69h1M12 70h1M60 70h1M98 73h1M42 75h1M28 77h1M95 77h2M6 81h1M7 82h1M9 84h1M9 85h1M88 87h1M42 90h1M63 93h1M74 96h1M40 98h1M47 99h1M53 99h1M58 99h1"/></g></g><rect x="0" y="0" width="879.9" height="872.8" fill="none" stroke="#222" stroke-width="2"/><path d="M-7.3 139.7H0M-7.3 286.5H0M-7.3 433.3H0M-7.3 580.2H0M-7.3 727.0H0M145.4 872.8v6.8M292.2 872.8v6.8M439.0 872.8v6.8M585.8 872.8v6.8M732.6 872.8v6.8" stroke="#444" stroke-width="1.3" fill="none"/><text x="-11.3" y="157.3" font-size="49" text-anchor="end">40°N</text><text x="-11.3" y="304.1" font-size="49" text-anchor="end">20°N</text><text x="-11.3" y="450.9" font-size="49" text-anchor="end">0°N</text><text x="-11.3" y="597.8" font-size="49" text-anchor="end">-20°N</text><text x="-11.3" y="744.6" font-size="49" text-anchor="end">-40°N</text><text x="145.4" y="919.6" font-size="48.2" text-anchor="middle">100°E</text><text x="292.2" y="919.6" font-size="48.2" text-anchor="middle">120°E</text><text x="439.0" y="919.6" font-size="48.2" text-anchor="middle">140°E</text><text x="585.8" y="919.6" font-size="48.2" text-anchor="middle">160°E</text><text x="732.6" y="919.6" font-size="48.2" text-anchor="middle">180°E</text></g><g transform="translate(253.2 1432.8)"><g clip-path="url(#pc)"><rect width="879.9" height="872.8" fill="#9c9696"/><path d="M145.4 0V872.8M292.2 0V872.8M439.0 0V872.8M585.8 0V872.8M732.6 0V872.8M0 139.7H879.9M0 286.5H879.9M0 433.3H879.9M0 580.2H879.9M0 727.0H879.9" stroke="#111" stroke-width="1.5" fill="none"/><path d="M-16.1 -14.5 451.5 -14.5 451.5 0.2 439.7 11.2 428.0 16.4 417.0 23.7 404.5 29.6 406.7 32.5 418.5 36.9 422.9 39.9 437.5 35.5 447.8 42.1 449.3 50.1 447.1 53.8 442.7 66.3 441.2 77.3 428.0 88.3 413.3 103.0 406.0 108.1 391.3 117.7 382.5 116.2 378.8 115.5 372.2 121.3 370.0 122.8 363.4 128.7 363.4 133.8 353.1 139.7 347.3 141.9 346.5 145.6 353.1 150.0 361.2 161.0 361.9 169.1 359.7 174.9 354.6 177.1 347.3 179.3 339.2 180.8 339.2 172.7 340.6 163.2 337.7 156.6 330.4 155.8 327.4 153.6 330.4 149.2 331.1 144.1 324.5 140.4 314.2 142.6 303.9 147.0 301.7 143.4 308.4 136.0 305.4 133.1 299.5 133.8 289.3 140.4 284.1 145.6 276.1 146.3 274.6 150.7 283.4 155.1 286.3 160.3 294.4 157.3 303.2 158.1 311.3 159.5 310.6 162.5 299.5 165.4 294.4 169.1 287.1 175.7 294.4 181.5 298.8 191.1 305.4 199.2 306.2 206.5 298.8 210.9 306.9 213.8 303.9 225.6 296.6 232.9 290.0 242.5 284.9 248.3 278.3 254.2 270.2 260.8 262.8 265.2 253.3 267.4 248.2 269.6 244.5 270.4 239.4 273.3 231.3 274.8 224.7 277.0 221.7 283.6 218.1 283.6 216.6 276.2 208.5 274.0 204.1 275.5 195.3 280.6 193.1 285.8 187.2 293.9 193.1 303.4 198.3 309.3 206.3 315.9 210.7 321.8 213.7 334.2 213.7 343.8 211.5 349.7 204.1 354.1 196.8 357.0 194.6 362.1 184.3 369.5 180.6 368.7 182.1 359.9 177.7 357.0 171.8 356.3 167.4 350.4 163.0 344.5 156.4 340.1 152.0 335.0 147.6 334.2 145.4 339.4 143.9 348.9 140.3 356.3 139.5 365.1 145.4 370.9 149.1 379.7 156.4 383.4 162.3 387.8 168.9 395.2 171.1 402.5 170.4 412.1 176.2 422.3 171.1 423.8 164.5 418.7 155.7 412.8 151.3 404.7 148.3 395.2 147.6 387.1 143.2 382.7 140.3 377.5 135.1 373.1 132.9 367.3 135.1 357.7 135.9 347.4 135.1 337.9 131.5 330.6 129.3 319.6 127.8 312.2 122.7 308.5 117.5 312.2 111.6 317.4 105.8 316.6 103.6 309.3 105.0 301.2 99.2 291.7 94.8 286.5 88.9 279.9 85.2 270.4 77.9 269.6 73.5 272.6 66.1 273.3 58.8 274.0 50.7 276.2 48.5 282.8 44.8 287.3 36.8 290.2 29.4 296.8 22.8 304.1 15.5 311.5 8.1 314.4 5.2 318.1 0.1 321.8 -0.7 330.6 0.8 337.9 0.1 345.2 -2.9 352.6 -2.9 357.7 -16.1 357.7ZM0.1 361.4 7.4 370.2 11.8 378.3 11.1 385.6 5.9 388.6 0.1 389.3 -2.9 382.0 -2.9 370.9 -1.4 363.6ZM209.3 291.7 213.7 286.5 222.5 285.8 226.1 289.5 222.5 295.3 216.6 299.7 209.3 297.5ZM299.5 248.3 306.2 249.8 303.9 257.2 301.0 266.0 298.1 272.6 293.7 266.7 292.9 260.8 296.6 253.5ZM363.4 188.9 372.2 184.5 378.1 186.7 379.6 192.6 375.9 202.8 370.7 205.8 367.1 202.8 367.1 196.2 363.4 192.6ZM384.0 184.5 396.4 181.5 400.1 185.2 396.4 188.9 389.1 191.1 384.7 192.6 382.5 188.1ZM372.2 183.7 375.9 180.8 384.7 173.5 391.3 172.7 403.8 171.3 409.6 167.6 415.5 161.7 419.2 158.1 417.7 163.2 428.0 158.8 434.6 152.9 438.3 143.4 439.0 136.0 441.2 130.9 449.3 129.4 450.0 136.0 453.7 142.6 450.0 152.2 446.3 155.8 446.3 163.2 443.4 167.6 444.9 171.3 441.9 174.9 437.5 177.1 436.8 173.5 433.1 174.2 430.2 178.6 425.8 179.3 417.0 179.3 416.3 181.5 411.8 184.5 408.2 187.4 403.0 184.5 403.8 181.5 405.2 178.6 397.2 178.6 387.6 181.5 381.8 184.5 372.9 184.5ZM441.2 128.7 439.0 122.8 437.5 120.6 441.9 115.5 449.3 115.5 451.5 106.7 452.2 100.1 457.4 103.0 466.9 108.9 477.9 108.1 477.9 115.5 470.6 118.4 463.2 125.0 453.7 121.3 446.3 122.1 442.7 121.3 447.1 126.5ZM453.7 34.7 459.6 34.7 462.5 44.3 463.2 55.3 466.9 66.3 472.8 73.6 473.5 76.6 461.0 71.4 458.1 83.2 464.7 89.8 464.0 93.5 458.1 91.2 453.7 95.7 453.0 88.3 453.7 82.4 454.4 73.6 454.4 58.9 451.5 47.9 453.0 40.6ZM561.6 -14.5 563.1 7.6 553.5 14.9 556.4 29.6 553.5 44.3 560.8 57.5 573.3 47.9 585.8 36.9 599.0 29.6 602.0 20.8 610.0 20.8 607.8 9.0 604.2 3.9 611.5 -3.5 615.2 -14.5ZM110.9 392.2 127.1 395.2 135.9 405.4 148.3 417.2 157.9 420.9 171.1 433.3 173.3 440.7 179.2 447.3 189.4 455.4 188.7 466.4 188.0 475.9 179.2 475.9 171.1 469.3 162.3 462.7 152.7 451.7 147.6 440.7 138.8 431.1 135.1 420.9 124.9 409.8 116.0 402.5ZM183.6 483.3 190.2 476.7 206.3 481.1 222.5 484.0 226.1 480.3 238.6 484.7 251.1 490.6 251.1 496.5 238.6 495.0 218.8 492.8 204.1 490.6 192.4 487.7ZM211.5 422.3 215.9 418.7 227.6 422.3 228.3 415.0 240.8 409.8 248.2 400.3 259.2 393.0 268.7 382.0 275.3 387.1 286.3 395.2 279.0 400.3 275.3 407.6 277.5 417.2 284.9 426.0 276.8 427.5 273.9 439.2 266.5 444.4 266.5 455.4 262.8 461.2 253.3 463.4 244.5 457.6 232.0 459.0 220.3 454.6 218.8 444.4 212.9 437.0 211.5 429.7ZM290.7 427.5 298.8 423.8 314.2 426.7 327.4 421.6 330.4 423.1 323.8 430.4 314.2 429.7 298.8 429.7 292.9 434.8 292.9 439.9 301.0 440.7 316.4 439.9 317.2 441.4 305.4 447.3 309.1 457.6 313.5 464.9 315.0 472.2 306.9 467.8 303.2 467.8 299.5 459.0 298.8 453.2 294.4 455.4 295.1 468.6 295.1 473.7 288.5 473.7 288.5 459.0 283.4 453.9 286.3 444.4 290.7 434.1ZM372.9 439.2 384.0 436.3 395.0 439.2 396.4 451.7 402.3 457.6 413.3 449.5 424.3 445.1 446.3 452.4 461.0 458.3 472.0 461.2 481.6 470.0 494.1 477.4 496.3 482.5 490.4 483.3 497.7 492.1 508.7 499.4 518.3 508.2 512.4 511.2 497.7 507.5 486.7 497.9 475.7 490.6 464.7 493.5 461.0 500.9 446.3 500.1 435.3 492.1 424.3 495.0 422.1 488.4 429.5 484.7 424.3 473.7 406.0 465.6 391.3 461.2 386.2 462.7 386.9 455.4 394.2 450.2 380.3 453.9 380.3 449.5 374.4 444.4ZM317.9 509.0 321.6 501.6 328.9 496.5 343.6 494.3 345.8 495.7 332.6 503.1 323.8 508.2ZM251.8 492.8 262.8 493.5 284.9 493.5 299.5 494.3 314.2 493.5 314.2 497.9 299.5 498.7 284.9 498.7 266.5 499.4 255.5 497.9ZM284.9 502.3 293.7 502.3 298.1 507.5 292.2 509.0ZM347.3 420.1 350.9 417.2 356.1 424.5 350.9 428.9 356.8 431.1 352.4 439.2 349.5 431.9 346.5 426.7ZM350.9 454.6 371.5 455.4 371.5 460.5 350.9 459.0ZM336.2 456.1 345.1 456.8 345.1 461.2 337.0 461.2ZM296.6 297.5 308.4 297.5 310.6 308.5 303.2 317.4 303.9 329.1 312.0 328.4 321.6 332.0 321.6 340.8 314.2 337.9 310.6 334.2 304.7 331.3 296.6 332.0 296.6 325.4 292.2 319.6 291.5 313.7 295.1 304.9ZM306.9 382.0 316.4 378.3 320.1 370.9 331.8 361.4 338.4 370.9 340.6 379.7 337.7 387.1 332.6 392.2 331.8 383.4 323.0 387.1 317.9 379.0 308.4 384.9ZM323.8 341.6 331.1 341.6 334.8 352.6 330.4 359.9 326.7 358.5 324.5 350.4ZM306.9 346.7 315.7 351.1 321.6 352.6 318.6 362.9 314.2 366.5 310.6 362.9 306.9 356.3ZM271.7 371.7 279.7 365.8 288.5 355.5 289.3 350.4 286.3 352.6 277.5 361.4 271.7 368.7ZM295.1 335.0 303.2 336.4 301.0 343.0 298.1 341.6ZM248.9 593.4 252.6 593.4 268.0 584.6 284.9 580.2 299.5 577.2 309.1 566.2 308.4 558.1 318.6 561.1 318.6 552.3 325.2 545.7 334.8 538.3 342.9 534.6 350.9 542.0 353.1 543.5 362.7 542.7 361.9 532.4 367.8 527.3 371.5 524.4 384.0 522.2 384.7 517.0 391.3 520.0 402.3 522.9 415.5 522.9 414.0 530.2 408.9 534.6 405.2 542.7 414.8 550.1 422.1 553.0 433.9 561.1 442.7 562.5 449.3 551.5 451.5 539.8 450.7 528.0 454.4 514.1 458.1 511.9 464.7 527.3 466.9 539.0 477.9 543.5 478.6 554.5 483.8 565.5 490.4 575.0 503.6 583.1 510.2 597.0 518.3 605.9 533.7 619.1 535.9 631.5 538.8 643.3 535.2 657.2 530.8 671.9 521.9 681.5 518.3 690.3 513.1 701.3 511.7 708.6 497.7 711.6 486.7 718.2 485.2 720.4 475.7 714.5 472.0 713.0 464.7 718.2 450.7 714.5 441.2 710.8 436.8 701.3 431.7 695.4 425.1 694.7 428.0 688.8 423.6 679.3 422.9 672.7 417.0 680.7 409.6 688.8 406.7 688.8 400.1 677.1 395.0 672.7 384.0 668.3 372.9 664.6 358.3 666.0 343.6 669.7 332.6 672.7 321.6 675.6 317.9 682.2 306.9 682.2 292.2 682.2 284.9 685.9 277.5 690.3 266.5 690.3 257.0 685.9 255.5 680.0 260.6 677.8 260.6 666.8 255.5 655.0 252.6 643.3 245.2 628.6 243.8 620.5 244.5 611.7 246.0 602.2ZM473.5 732.1 483.0 735.1 499.9 733.6 499.9 743.1 494.1 750.5 486.7 753.4 479.4 748.3 477.2 743.1 473.5 735.8ZM679.0 685.9 683.4 690.3 690.8 692.5 694.4 703.5 702.5 708.6 712.1 711.6 721.6 710.1 717.9 721.1 710.6 723.3 709.9 730.6 698.1 738.7 693.7 736.5 696.6 728.4 693.0 725.5 687.1 721.8 693.7 717.4 693.7 708.6 690.0 701.3 681.2 691.7ZM679.0 730.6 690.8 735.8 690.0 741.7 681.2 749.0 679.8 754.9 668.7 758.5 665.1 770.3 655.5 775.4 646.7 775.4 634.2 771.0 637.2 763.7 646.7 756.3 659.2 749.0 668.7 741.7 674.6 733.6ZM615.2 580.9 626.2 587.5 637.2 596.3 633.5 597.8 622.5 591.9 615.2 584.6ZM499.9 474.4 510.9 473.7 521.9 469.3 528.6 464.2 529.3 470.0 519.7 475.9 508.7 479.6 500.7 477.4ZM518.3 452.4 527.1 456.8 534.4 465.6 533.0 468.6 525.6 459.8 517.5 454.6ZM546.2 473.7 552.0 476.7 555.7 483.3 551.3 482.5 546.9 477.4Z" fill="#c3bfbe" stroke="#222" stroke-width="1" stroke-linejoin="round"/><path d="M55.9 72.2 72.0 66.3 88.9 60.4 108.7 66.3 125.6 67.8 132.9 61.9 132.2 55.3 143.9 51.6 161.6 56.7 167.4 64.1 185.0 63.4 198.3 67.8 207.8 71.4 226.1 71.4 246.7 65.6 264.3 67.0 259.2 80.2 275.3 83.2 287.1 83.9 291.5 89.8 275.3 92.0 264.3 97.9 248.2 100.1 232.0 103.0 232.0 111.1 218.8 119.9 200.5 122.1 182.1 127.2 160.1 122.8 141.7 120.6 119.7 119.1 110.9 108.9 96.2 103.0 77.9 100.1 76.4 91.2 72.0 82.4 57.3 76.6 55.9 72.2M0.0 57.5 13.3 60.4 24.3 58.9 35.3 66.3 55.9 72.2M55.9 72.2 42.6 78.8 39.7 86.8 22.1 86.8 17.0 97.9 13.3 100.8 0.0 103.0M264.3 67.0 277.5 69.2 286.3 64.1 293.7 51.6 298.1 42.1 317.9 40.6 332.6 44.3 343.6 55.3 348.0 67.8 365.6 75.1 372.9 83.2 387.6 80.2 402.3 78.0 399.4 85.4 391.3 99.3 378.8 101.5 374.4 110.3 374.4 117.7 370.0 122.1M370.0 122.1 364.1 118.4 350.9 125.0 342.1 127.2 332.6 133.8 324.5 140.4M337.7 155.8 345.1 152.2 353.9 150.0M0.0 221.9 5.9 211.6 0.0 209.4M5.9 211.6 14.8 213.1 28.0 221.2 42.6 227.8 58.1 228.5M0.0 222.7 9.6 228.5 22.8 232.9 35.3 237.3 47.8 238.8 58.1 239.5 58.1 228.5M58.1 228.5 63.9 232.9 69.1 226.3 83.0 227.8 87.4 235.9 75.7 236.6 64.7 237.3 63.9 232.9M87.4 235.9 88.9 229.3 101.4 220.5 116.0 217.5 125.6 225.6M58.1 239.5 61.0 246.9 58.1 252.8 63.2 263.0 64.7 271.1 65.4 273.3M61.0 246.9 70.5 243.2 71.3 248.3 89.6 249.8 88.2 255.0 80.8 260.1 82.3 265.2 86.0 260.1 91.1 272.6 88.9 279.9M91.1 272.6 95.5 269.6 97.0 257.9 105.8 248.3 110.2 238.1 123.4 233.7 125.6 225.6M125.6 225.6 135.9 231.5 135.9 243.9 127.8 254.2 137.3 257.2 138.8 270.4 146.9 275.5 154.2 275.5M146.1 283.6 137.3 288.7 129.3 297.5 127.8 304.9 135.1 314.4 132.2 321.8 139.5 334.2 142.5 346.7 136.6 357.0 135.9 359.2M146.1 283.6 154.2 275.5 160.8 268.9 166.7 274.0 179.2 282.1 174.8 290.2 182.1 296.1 193.1 308.5 200.5 319.6 200.5 325.4M146.1 283.6 149.1 290.2 154.2 290.2 153.5 304.1 160.8 299.7 174.0 299.0 180.6 306.3 180.6 314.4 186.5 321.0 185.8 327.6 189.4 329.1 200.5 325.4M160.8 268.9 169.6 266.7 184.3 262.3 194.6 268.2 199.7 274.8 204.1 275.5M163.0 344.5 163.8 334.2 171.1 327.6 185.8 327.6M200.5 325.4 200.5 341.6 190.9 347.4 188.0 352.6 177.7 357.0M146.1 385.6 152.0 387.1 153.5 391.5 160.8 387.8M215.9 418.7 218.8 424.5 232.0 426.0 240.8 422.3 251.8 422.3 257.7 412.1 259.2 401.8 275.3 402.5M446.3 452.4 446.3 481.1 445.6 484.7 446.3 500.1M328.9 496.5 328.9 501.6" fill="none" stroke="#222" stroke-width="1" stroke-linejoin="round"/><g transform="translate(1.340 6.820) scale(8.8080)" stroke-width="1" fill="none" shape-rendering="crispEdges"><path stroke="#191c47" d="M69 -1h1M70 0h2M72 1h1M74 1h2M76 2h2M71 3h1M77 3h1M79 3h2M78 4h1M80 4h3M78 5h1M81 5h1M84 5h1M68 6h1M85 6h1M84 7h1M85 8h3M86 9h1M88 9h1M87 10h3M88 11h3M88 12h1M90 12h2M87 13h1M90 13h3M83 14h1M88 14h6M76 15h1M91 15h3M85 16h1M90 16h1M92 16h3M93 17h2M93 18h3M94 19h1M96 19h1M96 20h1M96 21h1M94 22h1M96 22h2M98 25h1M98 26h1M99 27h1M33 28h1M98 28h2M97 29h1M99 29h1M6 31h3M100 31h1M4 32h5M100 32h1M3 33h1M11 33h1M100 33h1M11 34h1M98 35h1M100 35h1M0 36h2M96 36h1M0 37h1M14 37h1M24 37h1M34 37h1M98 37h1M100 38h1M100 39h1M-1 40h1M-1 41h1M16 41h1M30 41h1M33 41h1M-1 42h1M-1 46h1M100 47h1M-1 50h1M20 50h1M30 50h1M49 50h1M-1 51h1M85 51h1M1 52h1M31 55h1M-1 56h1M36 61h1M97 63h1M99 63h1M0 64h1M99 65h2M0 66h2M1 68h1M98 68h1M5 71h1M2 72h1M5 72h1M98 72h1M4 73h1M2 74h1M6 75h1M9 75h1M40 75h1M95 76h1M7 77h1M95 77h1M48 78h1M9 80h1M92 80h2M7 81h1M94 81h1M7 82h1M78 82h1M93 82h1M8 83h1M88 83h1M93 83h1M9 84h1M8 85h1M90 85h2M9 86h1M15 86h1M85 86h1M85 88h1M87 88h1M87 89h1M13 90h3M17 90h2M85 90h2M15 91h1M82 91h4M16 92h1M19 92h1M22 92h1M82 92h2M18 93h2M79 93h1M81 93h2M21 94h1M23 94h1M21 95h1M76 95h1M78 95h1M24 96h1M26 96h1M76 96h1M29 97h1M73 97h1M35 98h3M60 98h1M67 98h1M54 99h1M56 99h1"/><path stroke="#1b2051" d="M72 2h1M78 2h1M58 4h1M77 4h1M79 4h1M85 9h1M84 13h1M88 13h2M81 16h1M89 16h1M92 17h1M95 19h1M97 25h1M99 30h1M98 31h1M98 32h1M100 34h1M96 76h1M91 83h1M92 84h1M10 85h1M10 87h1M13 88h1M22 89h1M84 89h1M86 89h1M81 90h1M19 91h1M81 92h1M77 93h2M80 93h1M19 94h1M77 94h1M77 95h1M25 96h1M70 97h1M37 99h1"/><path stroke="#1d235b" d="M73 0h1M73 2h1M66 5h1M82 5h1M86 7h1M83 11h1M86 13h1M91 16h1M90 17h1M89 18h1M93 20h1M95 20h1M93 21h1M97 23h1M95 24h1M97 24h2M99 31h1M99 32h1M1 63h1M100 63h1M99 67h1M96 77h1M8 82h1M90 83h1M8 84h1M88 84h1M90 84h1M11 85h1M88 85h1M10 86h1M11 87h1M11 88h1M76 91h1M81 91h1M20 93h2M25 93h1M73 93h1M24 94h1M69 94h1M79 94h2M23 95h1M25 95h2M71 95h1M73 95h1M69 96h1M40 98h1M70 98h1M34 99h1"/><path stroke="#1f2866" d="M62 -1h1M84 6h1M86 11h1M89 12h1M47 16h1M87 16h2M89 17h1M95 22h1M96 23h1M97 26h1M97 27h1M97 28h1M98 29h1M97 31h1M98 33h1M2 34h1M1 35h1M1 61h1M-1 62h1M93 76h2M93 78h1M93 81h1M7 83h1M92 83h1M10 84h1M89 84h1M91 84h1M9 85h1M89 86h1M12 87h1M14 87h1M18 87h1M78 87h1M17 88h1M86 88h1M29 89h1M85 89h1M16 91h1M20 92h1M80 92h1M27 93h1M20 94h1M41 94h1M68 96h1M72 97h1M40 99h1M46 99h1"/><path stroke="#202d73" d="M61 0h1M61 2h1M46 3h1M76 5h1M61 7h1M69 7h1M85 7h1M86 10h1M85 11h1M87 11h1M87 12h1M67 13h1M69 14h1M77 14h1M85 14h1M87 14h1M42 15h1M84 15h1M90 15h1M87 17h1M92 18h1M89 19h1M93 19h1M97 30h1M7 33h1M98 34h1M99 35h1M2 37h1M4 38h1M100 57h1M99 59h1M1 70h1M97 74h1M92 77h1M94 78h1M5 80h1M89 80h1M8 81h1M6 82h1M10 83h1M85 83h1M13 84h1M17 84h1M17 86h1M90 86h1M83 87h1M89 87h1M15 88h1M19 88h1M83 89h1M79 91h1M21 92h1M76 92h2M24 93h1M29 93h1M69 93h1M76 93h1M22 94h1M75 94h2M78 94h1M22 95h1M67 95h1M69 95h1M34 96h1M61 97h1M66 98h1M69 98h1M62 99h1M64 99h1"/><path stroke="#22327f" d="M55 -1h1M58 1h1M74 2h2M61 3h1M75 3h1M65 4h1M56 5h1M64 5h2M83 7h1M75 8h1M65 9h1M77 12h1M47 13h1M66 13h1M77 13h1M49 14h1M62 14h1M86 14h1M63 15h1M73 15h1M53 16h1M64 16h1M86 17h1M88 17h1M92 19h1M94 23h2M95 27h1M96 28h1M8 30h1M98 30h1M4 33h1M99 33h1M97 34h1M99 34h1M6 36h1M0 38h1M100 59h1M0 61h1M12 64h1M100 64h1M98 65h1M100 66h1M98 70h1M96 75h1M90 76h1M90 78h1M92 78h1M95 78h1M93 79h1M91 80h1M94 80h1M9 83h1M11 86h1M13 86h1M80 86h1M16 87h1M87 87h1M12 88h1M28 88h1M82 88h1M13 89h1M16 89h2M24 89h1M50 90h1M82 90h3M20 91h1M23 91h1M63 91h1M75 91h1M77 91h2M18 92h1M62 92h1M67 92h1M74 92h1M79 92h1M23 93h1M26 93h1M31 93h1M63 93h1M67 94h1M74 94h1M24 95h1M29 95h2M68 95h1M70 95h1M27 97h1M66 97h1M68 97h1M31 98h1M38 98h1M35 99h1"/><path stroke="#23378c" d="M63 0h1M72 0h1M56 1h1M70 1h2M73 1h1M76 1h1M68 2h1M71 2h1M72 3h2M78 3h1M62 4h1M67 4h1M75 4h1M61 5h2M69 5h1M72 5h1M80 5h1M61 6h1M65 6h1M80 6h1M82 8h1M69 9h1M82 9h1M64 10h1M71 10h1M83 10h1M48 12h1M70 12h1M51 13h1M63 13h1M47 14h1M65 14h1M75 14h1M79 14h1M40 15h1M48 15h1M70 15h1M75 15h1M80 15h1M82 15h1M51 16h2M70 16h1M84 16h1M86 16h1M91 17h1M83 18h1M40 19h1M83 19h1M91 19h1M47 20h1M87 20h1M91 22h1M96 24h1M96 26h1M96 27h1M96 29h1M9 31h1M95 31h1M3 36h1M98 36h2M1 37h1M37 38h1M92 38h1M32 39h1M100 40h1M31 41h1M31 46h1M38 46h1M14 47h1M-1 48h1M31 48h1M99 52h1M57 53h1M0 55h1M100 56h1M5 58h1M100 58h1M0 59h1M-1 60h2M0 62h2M9 63h1M86 63h1M1 67h1M98 67h1M99 68h1M98 69h2M2 71h1M97 72h1M98 73h1M3 74h1M92 74h1M92 75h1M97 75h1M91 76h2M5 78h1M78 78h1M89 78h1M92 79h1M6 80h1M11 81h1M9 82h1M12 82h1M91 82h2M16 83h1M83 83h1M89 83h1M11 84h1M14 84h1M84 84h1M12 85h1M84 85h1M25 86h1M79 86h1M88 86h1M73 87h1M77 87h1M81 87h1M84 87h1M88 87h1M21 88h1M30 88h1M36 88h1M71 88h1M80 88h2M84 88h1M26 89h1M78 89h3M19 90h2M38 90h1M79 90h2M17 91h2M22 91h1M24 91h1M26 91h2M30 91h1M36 91h1M39 91h1M70 91h1M80 91h1M17 92h1M30 92h1M33 92h2M40 92h1M28 93h1M33 93h1M39 93h1M67 93h2M25 94h3M62 94h1M65 94h1M68 94h1M28 95h1M33 95h1M64 95h1M74 95h1M27 96h2M30 96h1M37 96h1M70 96h1M73 96h3M31 97h2M35 97h2M45 97h1M42 98h1M52 99h1M65 99h1"/><path stroke="#243c99" d="M62 3h1M76 3h1M68 4h1M67 5h1M74 5h1M77 5h1M57 6h1M62 6h1M82 6h1M57 8h1M68 8h1M80 8h1M65 10h1M70 10h1M65 11h1M45 12h1M74 12h1M81 12h1M83 12h3M74 14h1M84 14h1M44 15h2M53 15h1M62 15h1M81 15h1M86 15h1M89 15h1M65 16h1M68 16h2M64 17h1M83 17h1M85 17h1M69 18h1M84 18h1M88 18h1M87 19h1M90 19h1M94 20h1M94 21h1M89 22h1M92 23h1M93 24h1M95 25h2M90 26h1M95 26h1M91 28h1M94 31h1M6 33h1M95 33h3M5 35h1M92 35h1M95 35h1M4 36h1M94 36h1M100 37h1M97 38h3M97 39h1M99 39h1M0 47h1M-1 57h1M1 57h1M99 57h1M0 58h1M13 58h1M100 60h1M93 61h1M98 61h1M-1 63h2M1 64h2M11 64h1M13 64h1M20 64h1M99 64h1M3 69h1M94 69h1M99 70h1M3 72h2M3 73h1M87 73h1M96 73h1M93 74h1M96 74h1M93 75h1M95 75h1M86 78h1M86 79h1M9 81h2M92 81h1M13 83h1M84 83h1M16 84h1M13 85h2M81 85h1M86 85h2M12 86h1M16 86h1M19 86h1M77 86h2M81 86h1M84 86h1M13 87h1M15 87h1M20 87h1M30 87h1M36 87h1M44 87h1M14 88h1M26 88h2M42 88h1M73 88h2M77 88h3M83 88h1M15 89h1M19 89h1M69 89h1M71 89h1M73 89h1M82 89h1M21 90h2M24 90h1M28 90h1M30 90h1M32 90h1M72 90h1M74 90h2M77 90h1M28 91h1M35 91h1M38 91h1M40 91h1M42 91h1M69 91h1M74 91h1M23 92h1M39 92h1M51 92h2M66 92h1M69 92h5M78 92h1M22 93h1M51 93h1M29 94h3M33 94h1M38 94h3M66 94h1M72 94h1M32 95h1M38 95h2M65 95h1M75 95h1M32 96h2M36 96h1M38 96h1M41 96h1M62 96h1M64 96h1M71 96h1M28 97h1M47 97h1M53 97h1M71 97h1M30 98h1M34 98h1M39 98h1M52 98h1M63 98h2M59 99h1M63 99h1"/><path stroke="#2641a4" d="M70 -1h1M70 3h1M72 4h1M57 5h1M70 5h1M73 5h1M60 6h1M64 6h1M66 6h1M81 6h1M83 6h1M81 7h2M50 8h1M52 8h1M60 8h1M69 8h1M53 9h1M63 9h2M66 9h1M70 9h1M66 10h1M76 10h4M68 11h1M71 11h1M84 11h1M60 12h1M63 12h3M73 12h1M86 12h1M58 13h1M64 13h1M68 13h1M74 13h1M82 13h1M46 14h1M51 14h1M64 14h1M78 14h1M82 14h1M46 15h1M51 15h1M77 15h1M87 15h1M43 16h2M49 16h1M74 16h1M78 16h1M73 17h1M82 17h1M77 18h1M90 18h1M88 19h1M83 20h1M88 21h1M91 21h1M88 23h1M92 24h1M94 25h1M94 26h1M79 27h1M91 27h1M85 29h1M88 29h1M89 30h1M95 32h1M5 33h1M3 34h3M7 34h1M89 34h1M93 34h1M93 35h1M97 35h1M9 36h1M97 36h1M97 37h1M2 38h1M0 40h1M100 52h1M100 53h1M97 56h1M1 58h1M94 59h1M97 59h1M3 61h1M22 61h1M100 61h1M11 62h2M20 62h1M7 63h1M13 63h1M17 63h1M3 66h1M5 66h1M95 66h1M99 66h1M3 70h1M5 70h1M93 70h2M4 71h1M89 72h1M94 72h1M95 73h1M86 74h1M4 75h1M86 75h1M91 75h1M82 77h1M89 77h1M91 77h1M4 78h1M6 78h1M88 78h1M90 79h1M94 79h2M14 80h1M6 81h1M16 81h1M78 81h1M91 81h1M10 82h1M86 82h2M89 82h1M11 83h1M82 83h1M12 84h1M18 84h1M39 84h1M82 84h1M85 84h1M25 85h1M35 85h1M44 85h2M83 85h1M20 86h2M42 86h1M83 86h1M87 86h1M42 87h1M80 87h1M86 87h1M25 88h1M31 88h1M88 88h1M20 89h2M25 89h1M32 89h1M41 89h1M49 89h1M75 89h1M81 89h1M27 90h1M29 90h1M36 90h2M49 90h1M64 90h1M66 90h1M69 90h1M78 90h1M25 91h1M32 91h2M45 91h1M47 91h2M51 91h1M53 91h1M64 91h1M67 91h1M24 92h2M32 92h1M37 92h1M42 92h1M59 92h1M32 93h1M34 93h1M40 93h2M46 93h1M57 93h1M61 93h1M28 94h1M34 94h1M45 94h1M48 94h2M56 94h1M61 94h1M36 95h2M44 95h1M46 95h1M48 95h2M72 95h1M31 96h1M44 96h1M54 96h1M67 96h1M39 97h1M58 97h1M65 97h1M67 97h1M69 97h1M45 98h1M65 98h1M38 99h1M41 99h1M49 99h1M57 99h1M61 99h1"/><path stroke="#2947ad" d="M68 0h1M48 2h1M59 2h1M59 3h1M74 3h1M58 5h1M68 5h1M83 5h1M73 6h1M77 6h1M56 7h1M58 7h1M66 7h1M79 8h1M84 8h1M79 9h1M84 9h1M87 9h1M55 10h1M63 10h1M68 10h1M74 10h1M60 11h1M67 11h1M54 12h2M69 12h1M59 13h1M62 13h1M70 13h1M45 14h1M53 14h2M56 14h1M59 14h1M61 14h1M67 14h1M73 14h1M41 15h1M49 15h1M59 15h1M74 15h1M79 15h1M88 15h1M41 16h1M67 16h1M72 16h1M75 16h1M79 16h1M82 16h2M40 17h1M69 17h1M76 17h1M65 18h1M68 18h1M81 18h1M85 18h2M91 18h1M79 19h2M86 19h1M81 20h1M86 20h1M78 21h2M81 21h1M84 21h2M87 21h1M92 21h1M95 21h1M85 22h1M88 22h1M93 22h1M93 23h1M82 24h1M94 24h1M83 25h1M86 25h1M91 25h1M93 25h1M89 26h1M86 27h1M88 27h1M94 27h1M92 28h1M94 28h1M90 30h1M87 31h1M96 31h1M26 32h1M90 32h1M96 32h2M85 33h1M92 33h1M92 34h1M90 35h1M4 37h1M99 37h1M0 39h1M88 39h1M93 40h1M99 40h1M99 41h1M1 45h1M0 51h1M96 51h1M100 51h1M94 54h1M100 54h1M96 55h2M1 56h1M99 56h1M-1 58h1M98 58h1M-1 59h1M98 59h1M6 61h1M15 61h1M19 61h1M2 62h1M10 62h1M18 62h1M92 62h1M98 62h1M100 62h1M8 63h1M10 63h1M22 63h1M95 63h1M7 64h1M96 64h1M0 65h1M11 65h3M20 65h1M25 65h1M90 65h1M96 65h1M8 66h1M12 66h1M92 66h1M6 68h1M22 68h1M89 68h1M1 69h1M87 69h1M96 69h1M88 70h1M90 70h1M92 70h1M97 70h1M1 71h1M3 71h1M82 71h1M87 71h1M93 71h2M98 71h1M92 73h1M89 74h2M94 74h2M85 75h1M88 75h3M4 76h1M78 76h2M81 76h1M85 77h1M87 77h2M94 77h1M85 78h1M87 78h1M91 78h1M5 79h1M74 79h1M16 80h1M18 80h1M78 80h1M90 80h1M77 81h1M81 81h1M85 81h2M88 81h1M11 82h1M13 82h2M16 82h1M84 82h1M90 82h1M18 83h2M21 83h1M78 83h1M80 83h1M86 83h1M21 84h1M35 84h2M75 84h1M79 84h1M81 84h1M86 84h1M15 85h2M26 85h1M36 85h1M42 85h1M78 85h1M85 85h1M89 85h1M14 86h1M22 86h1M29 86h4M34 86h1M37 86h1M39 86h2M43 86h1M46 86h1M72 86h1M82 86h1M17 87h1M19 87h1M22 87h2M26 87h1M41 87h1M43 87h1M49 87h1M79 87h1M82 87h1M85 87h1M20 88h1M22 88h3M32 88h2M37 88h2M40 88h2M44 88h2M51 88h1M57 88h1M61 88h1M68 88h1M72 88h1M31 89h1M33 89h1M35 89h3M39 89h1M43 89h1M62 89h1M64 89h3M70 89h1M74 89h1M76 89h2M25 90h1M31 90h1M35 90h1M39 90h2M45 90h1M52 90h1M55 90h1M61 90h1M65 90h1M68 90h1M73 90h1M76 90h1M21 91h1M29 91h1M34 91h1M37 91h1M41 91h1M43 91h2M59 91h1M62 91h1M71 91h2M31 92h1M44 92h2M47 92h1M50 92h1M58 92h1M61 92h1M35 93h2M42 93h1M45 93h1M56 93h1M59 93h1M70 93h1M72 93h1M74 93h1M37 94h1M44 94h1M47 94h1M52 94h1M54 94h1M59 94h1M71 94h1M73 94h1M27 95h1M31 95h1M42 95h1M52 95h1M58 95h2M61 95h1M66 95h1M46 96h1M63 96h1M65 96h2M33 97h1M37 97h1M40 97h1M44 97h1M46 97h1M48 97h1M54 97h1M33 98h1M48 98h1M54 98h2M58 98h2M61 98h1M36 99h1M39 99h1M47 99h1M55 99h1"/><path stroke="#3f5bb4" d="M69 1h1M47 3h2M57 3h2M60 3h1M69 3h1M71 5h1M54 6h1M59 6h1M50 7h1M62 7h1M65 7h1M73 7h1M64 8h1M83 8h1M68 9h1M71 9h1M78 9h1M80 9h1M83 9h1M48 10h1M69 10h1M82 10h1M84 10h1M48 11h1M64 11h1M70 11h1M79 11h1M81 11h1M49 12h1M66 12h1M72 12h1M48 13h2M61 13h1M65 13h1M81 13h1M60 14h1M71 14h1M76 14h1M47 15h1M61 15h1M65 15h1M78 15h1M85 15h1M45 16h2M66 16h1M71 16h1M41 17h1M45 17h1M55 17h1M71 17h1M75 17h1M77 17h2M80 17h2M40 18h1M45 18h1M72 18h1M75 18h2M78 18h1M82 18h1M87 18h1M69 19h1M71 19h1M76 19h1M81 19h1M85 19h1M77 20h1M88 20h2M91 20h2M75 21h1M80 21h1M79 22h1M81 22h1M90 22h1M83 23h1M89 23h1M91 23h1M85 24h1M87 25h1M89 25h1M87 26h2M85 27h1M89 27h1M82 29h1M32 30h1M85 30h1M92 30h1M30 31h1M82 31h1M91 31h1M31 32h1M85 32h1M87 32h1M91 32h1M82 33h1M93 33h2M86 34h1M11 35h1M13 35h1M88 35h1M91 35h1M94 35h1M8 36h1M90 36h3M95 36h1M93 37h4M6 38h1M90 38h1M93 38h1M91 39h1M94 39h1M94 40h1M5 43h1M1 46h1M-1 47h1M0 48h1M8 49h1M1 50h1M99 51h1M-1 53h1M99 54h1M98 56h1M11 58h1M95 58h1M97 58h1M99 58h1M1 59h1M96 59h1M3 60h1M7 60h1M11 60h1M13 60h1M16 60h1M93 60h1M97 60h1M99 60h1M-1 61h1M2 61h1M9 61h1M13 61h2M18 61h1M21 61h1M92 61h1M96 61h1M9 62h1M15 62h1M19 62h1M23 62h1M2 63h1M15 63h2M92 63h2M4 64h1M10 64h1M14 64h2M19 64h1M23 64h1M90 64h1M92 64h2M95 64h1M98 64h1M2 65h1M4 65h1M7 65h1M9 65h2M21 65h1M23 65h1M93 65h1M10 66h2M15 66h1M18 66h1M25 66h1M86 66h1M88 66h1M93 66h1M97 66h1M0 67h1M7 67h1M85 67h3M2 68h1M21 68h1M96 68h2M2 69h1M21 69h1M27 69h1M86 69h1M90 69h2M2 70h1M86 70h1M89 70h1M91 70h1M27 71h1M95 71h1M6 72h1M81 72h1M83 72h1M86 72h1M91 72h1M93 72h1M95 72h1M2 73h1M63 73h1M84 73h1M94 73h1M73 74h1M84 74h1M91 74h1M3 75h1M83 75h1M94 75h1M3 76h1M7 76h1M82 76h1M89 76h1M10 77h1M73 77h1M84 77h1M90 77h1M84 78h1M6 79h1M9 79h1M77 79h1M79 79h1M85 79h1M87 79h3M91 79h1M7 80h1M12 80h1M14 81h1M89 81h1M18 82h1M22 82h1M24 82h1M28 82h1M80 82h1M83 82h1M85 82h1M12 83h1M15 83h1M22 83h1M39 83h1M81 83h1M87 83h1M15 84h1M19 84h1M23 84h1M83 84h1M19 85h2M23 85h2M30 85h2M37 85h1M40 85h2M46 85h1M56 85h1M70 85h1M76 85h1M79 85h2M18 86h1M36 86h1M41 86h1M44 86h1M59 86h1M76 86h1M86 86h1M25 87h1M27 87h1M29 87h1M33 87h3M38 87h1M40 87h1M67 87h2M71 87h1M75 87h1M18 88h1M29 88h1M43 88h1M49 88h1M59 88h1M62 88h2M65 88h1M67 88h1M14 89h1M23 89h1M27 89h2M42 89h1M44 89h1M50 89h1M52 89h1M58 89h2M68 89h1M23 90h1M26 90h1M33 90h1M46 90h1M48 90h1M51 90h1M53 90h1M57 90h1M62 90h1M67 90h1M70 90h2M31 91h1M46 91h1M49 91h2M66 91h1M26 92h1M28 92h1M35 92h1M46 92h1M48 92h2M53 92h1M55 92h1M57 92h1M60 92h1M75 92h1M30 93h1M43 93h2M58 93h1M60 93h1M71 93h1M32 94h1M35 94h2M43 94h1M46 94h1M51 94h1M60 94h1M63 94h1M35 95h1M41 95h1M54 95h1M57 95h1M60 95h1M29 96h1M35 96h1M39 96h1M42 96h2M56 96h1M38 97h1M41 97h1M52 97h1M57 97h1M62 97h1M64 97h1M43 98h1M51 98h1M43 99h1M48 99h1M50 99h1M58 99h1"/><path stroke="#4869b6" d="M60 2h1M69 2h2M74 4h1M59 5h1M75 5h1M79 5h1M72 6h1M78 6h1M63 7h1M78 7h2M62 8h1M67 8h1M72 8h1M74 8h1M50 9h1M50 10h1M58 10h1M60 10h1M81 10h1M47 11h1M54 11h1M59 11h1M61 11h2M66 11h1M77 11h1M82 11h1M57 12h1M68 12h1M71 12h1M79 12h1M41 13h1M46 13h1M54 13h1M56 13h1M75 13h1M78 13h1M42 14h1M48 14h1M50 14h1M58 14h1M63 14h1M81 14h1M52 15h1M55 15h1M57 15h1M66 15h1M68 15h1M71 15h1M83 15h1M48 16h1M76 16h1M42 17h1M48 17h1M51 17h2M66 17h1M70 17h1M72 17h1M74 17h1M84 17h1M42 18h1M66 18h2M73 18h1M79 18h2M44 19h1M68 19h1M75 19h1M77 19h2M82 19h1M84 19h1M48 20h1M66 20h1M68 20h1M71 20h2M76 20h1M79 20h1M84 20h2M90 20h1M36 21h1M68 21h1M83 21h1M63 22h1M70 22h1M80 22h1M82 22h2M86 22h2M92 22h1M82 23h1M86 23h2M90 23h1M75 24h2M86 24h1M91 24h1M82 25h1M85 25h1M88 25h1M92 25h1M77 26h1M84 26h1M93 26h1M87 27h1M92 27h1M80 28h1M82 28h2M85 28h2M88 28h1M90 28h1M93 28h1M95 28h1M87 29h1M92 29h2M84 30h1M87 30h1M93 30h1M96 30h1M84 31h1M88 31h1M90 31h1M93 31h1M21 32h1M30 32h1M78 32h1M92 32h1M94 32h1M77 33h1M90 33h2M32 34h1M91 34h1M94 34h3M6 35h1M78 35h1M85 35h1M87 35h1M89 35h1M96 35h1M5 36h1M89 36h1M93 36h1M3 37h1M6 37h1M11 37h1M86 37h1M89 37h1M91 37h2M1 38h1M11 38h1M87 38h1M95 38h2M96 39h1M1 40h1M100 42h1M1 43h1M89 46h1M93 49h1M0 53h1M98 53h1M97 54h1M98 55h2M94 56h1M20 57h1M93 57h1M96 57h2M3 58h2M9 58h1M19 58h1M26 58h1M91 58h1M94 58h1M96 58h1M5 59h3M89 59h1M95 59h1M8 60h3M12 60h1M18 60h2M21 60h1M89 60h1M92 60h1M96 60h1M4 61h2M8 61h1M12 61h1M17 61h1M25 61h2M90 61h2M95 61h1M99 61h1M4 62h1M6 62h1M87 62h1M90 62h1M94 62h1M96 62h1M14 63h1M18 63h1M21 63h1M24 63h1M27 63h1M87 63h1M90 63h1M3 64h1M8 64h1M17 64h1M21 64h2M25 64h1M85 64h1M91 64h1M1 65h1M8 65h1M14 65h2M17 65h1M19 65h1M22 65h1M28 65h2M89 65h1M94 65h1M97 65h1M6 66h2M83 66h1M96 66h1M2 67h1M16 67h1M18 67h2M21 67h1M96 67h2M4 68h1M7 68h1M11 68h1M23 68h2M95 68h1M4 69h1M7 69h1M20 69h1M22 69h1M60 69h1M83 69h1M95 69h1M97 69h1M23 70h1M73 70h1M78 70h1M82 70h1M87 70h1M96 70h1M86 71h1M89 71h2M92 71h1M96 71h2M8 72h1M71 72h1M79 72h1M88 72h1M92 72h1M6 73h1M81 73h3M88 73h1M90 73h2M93 73h1M9 74h1M81 74h2M85 74h1M88 74h1M60 75h1M75 75h1M79 75h1M82 75h1M76 76h1M80 76h1M85 76h2M4 77h1M80 77h1M83 77h1M93 77h1M81 78h1M11 79h2M25 79h1M78 79h1M8 80h1M10 80h1M15 80h1M17 80h1M19 80h1M23 80h1M73 80h1M77 80h1M83 80h1M86 80h3M15 81h1M19 81h1M21 81h1M31 81h1M35 81h1M76 81h1M83 81h2M90 81h1M17 82h1M21 82h1M23 82h1M30 82h1M39 82h1M75 82h1M77 82h1M88 82h1M14 83h1M20 83h1M30 83h1M32 83h1M79 83h1M22 84h1M24 84h2M30 84h1M33 84h2M37 84h1M42 84h2M72 84h1M74 84h1M80 84h1M87 84h1M17 85h2M21 85h2M29 85h1M39 85h1M53 85h2M72 85h1M77 85h1M82 85h1M27 86h2M33 86h1M53 86h2M60 86h1M66 86h4M71 86h1M75 86h1M31 87h1M37 87h1M46 87h3M51 87h1M53 87h2M58 87h1M65 87h1M69 87h1M16 88h1M34 88h1M39 88h1M47 88h1M50 88h1M52 88h1M66 88h1M69 88h2M76 88h1M30 89h1M45 89h4M51 89h1M57 89h1M60 89h2M63 89h1M67 89h1M72 89h1M41 90h3M47 90h1M54 90h1M59 90h1M52 91h1M57 91h1M61 91h1M68 91h1M73 91h1M29 92h1M36 92h1M41 92h1M43 92h1M63 92h1M65 92h1M38 93h1M47 93h1M54 93h2M62 93h1M65 93h2M53 94h1M55 94h1M70 94h1M40 95h1M43 95h1M47 95h1M55 95h2M45 96h1M48 96h2M51 96h1M60 96h2M42 97h2M59 97h1M46 98h2M50 98h1M57 98h1M42 99h1M45 99h1M60 99h1"/><path stroke="#527ab9" d="M61 -1h1M62 2h1M56 4h2M60 4h1M70 4h1M63 6h1M75 6h2M60 7h1M67 7h1M76 7h1M58 8h1M61 8h1M55 9h1M58 9h1M60 9h1M49 10h1M53 10h1M57 10h1M61 10h1M67 10h1M72 10h1M85 10h1M51 11h1M58 11h1M69 11h1M75 11h1M80 11h1M62 12h1M67 12h1M43 13h1M50 13h1M73 13h1M83 13h1M66 14h1M58 15h1M40 16h1M56 16h1M62 16h1M73 16h1M77 16h1M43 17h1M47 17h1M53 17h2M62 17h2M68 17h1M41 18h1M44 18h1M46 18h1M70 18h1M42 19h1M58 19h1M36 20h1M69 20h2M78 20h1M82 20h1M61 21h1M66 21h1M82 21h1M90 21h1M38 22h1M75 22h1M64 23h1M67 23h1M77 23h1M80 23h1M84 23h2M55 24h1M68 24h1M78 24h1M80 24h1M84 24h1M87 24h1M90 24h1M75 25h1M80 25h1M90 25h1M78 26h2M81 26h1M86 26h1M90 27h1M69 28h1M78 28h2M89 28h1M78 29h1M81 29h1M86 29h1M90 29h1M94 29h1M27 30h1M82 30h1M86 30h1M88 30h1M94 30h2M72 31h1M78 31h2M81 31h1M83 31h1M85 31h2M89 31h1M92 31h1M80 32h2M84 32h1M88 32h2M93 32h1M9 33h1M86 33h1M89 33h1M85 34h1M90 34h1M4 35h1M80 35h1M82 36h1M85 36h2M8 37h3M28 37h1M8 38h1M10 38h1M14 38h1M77 38h1M95 39h1M98 41h1M1 42h1M86 43h1M97 46h1M93 47h1M96 48h1M98 49h1M100 49h1M89 50h1M95 50h1M97 50h1M95 51h1M89 52h1M95 52h1M98 52h1M21 53h1M97 53h1M92 54h1M96 54h1M-1 55h1M17 55h1M92 55h1M96 56h1M95 57h1M98 57h1M6 58h1M93 58h1M3 59h1M8 59h1M11 59h1M22 59h1M93 59h1M2 60h1M14 60h1M22 60h1M98 60h1M7 61h1M10 61h2M16 61h1M20 61h1M23 61h1M3 62h1M13 62h2M26 62h1M29 62h2M80 62h1M91 62h1M93 62h1M97 62h1M5 63h2M11 63h2M19 63h2M25 63h1M84 63h2M88 63h1M91 63h1M5 64h1M18 64h1M26 64h3M30 64h1M83 64h1M94 64h1M5 65h2M16 65h1M18 65h1M2 66h1M9 66h1M13 66h2M16 66h1M19 66h4M24 66h1M27 66h2M90 66h1M98 66h1M17 67h1M20 67h1M22 67h1M84 67h1M88 67h1M91 67h1M93 67h1M25 68h3M84 68h1M88 68h1M90 68h1M93 68h2M19 69h1M23 69h1M25 69h1M82 69h1M88 69h2M93 69h1M4 70h1M21 70h1M65 70h1M77 70h1M79 70h3M84 70h1M6 71h1M8 71h1M80 71h2M88 71h1M22 72h1M64 72h1M68 72h1M87 72h1M90 72h1M5 73h1M75 73h2M97 73h1M76 74h1M80 74h1M87 74h1M63 75h1M70 75h1M72 75h1M74 75h1M76 75h1M80 75h2M84 75h1M42 76h1M63 76h1M74 76h1M83 76h2M87 76h1M9 77h1M47 77h1M75 77h1M77 77h1M79 77h1M7 78h1M60 78h1M73 78h1M75 78h2M82 78h2M14 79h3M35 79h1M42 79h1M44 79h1M72 79h1M83 79h2M11 80h1M13 80h1M43 80h1M45 80h1M75 80h2M79 80h4M17 81h1M25 81h1M37 81h1M43 81h2M80 81h1M82 81h1M87 81h1M19 82h2M31 82h3M38 82h1M73 82h1M81 82h1M24 83h1M26 83h1M34 83h2M37 83h1M41 83h5M47 83h1M66 83h1M70 83h1M73 83h2M76 83h1M26 84h2M29 84h1M38 84h1M40 84h1M45 84h1M54 84h1M64 84h1M73 84h1M78 84h1M27 85h2M32 85h2M48 85h1M69 85h1M71 85h1M23 86h2M26 86h1M35 86h1M47 86h1M49 86h3M62 86h1M64 86h1M70 86h1M24 87h1M28 87h1M32 87h1M45 87h1M50 87h1M70 87h1M72 87h1M35 88h1M46 88h1M48 88h1M54 88h2M34 89h1M34 90h1M44 90h1M56 90h1M58 90h1M60 90h1M63 90h1M58 91h1M60 91h1M27 92h1M38 92h1M68 92h1M48 93h1M52 93h2M42 94h1M34 95h1M51 95h1M63 95h1M47 96h1M50 96h1M52 96h1M57 96h1M30 97h1M50 97h1M56 97h1M60 97h1M41 98h1M44 98h1M53 99h1"/><path stroke="#5d8cbc" d="M47 2h1M55 3h1M69 4h1M71 4h1M58 6h1M69 6h1M57 7h1M64 7h1M80 7h1M56 8h1M63 8h1M77 8h1M59 9h1M61 9h1M67 9h1M51 10h2M59 10h1M50 11h1M55 11h1M57 11h1M72 11h1M46 12h1M61 12h1M78 12h1M82 12h1M52 13h2M55 13h1M80 13h1M85 13h1M55 14h1M67 15h1M54 16h1M57 16h2M60 16h1M44 17h1M46 17h1M56 17h3M65 17h1M79 17h1M43 18h1M52 18h1M59 18h3M63 18h2M41 19h1M66 19h1M72 19h2M44 20h2M51 20h1M54 20h1M59 20h1M64 20h1M67 20h1M73 20h1M75 20h1M80 20h1M40 21h1M45 21h2M57 21h1M63 21h1M69 21h3M73 21h1M76 21h1M86 21h1M89 21h1M52 22h1M69 22h1M73 22h2M76 22h1M78 22h1M84 22h1M42 23h1M69 23h6M76 23h1M78 23h2M69 24h1M73 24h2M79 24h1M83 24h1M89 24h1M71 25h1M77 25h1M84 25h1M62 26h1M72 26h1M76 26h1M80 26h1M85 26h1M91 26h2M78 27h1M82 27h1M84 27h1M59 28h1M77 28h1M84 28h1M87 28h1M77 29h1M83 29h2M89 29h1M76 30h1M83 30h1M25 31h1M9 32h1M28 32h1M73 32h1M76 32h1M83 32h1M74 33h1M81 33h1M83 33h2M87 33h1M6 34h1M9 34h1M80 34h1M84 34h1M7 35h1M10 35h1M82 35h1M2 36h1M24 36h1M83 36h1M87 36h1M100 36h1M25 37h1M85 37h1M87 37h2M90 37h1M9 38h1M76 38h1M91 38h1M94 38h1M2 39h1M74 39h1M90 39h1M93 39h1M98 39h1M14 40h1M92 40h1M88 41h1M91 41h1M87 42h1M97 42h1M2 43h1M4 43h1M14 43h1M-1 44h1M0 46h1M99 47h1M11 48h1M89 51h1M92 51h1M94 51h1M91 52h2M10 53h1M96 53h1M-1 54h1M17 54h1M90 54h1M93 54h1M95 54h1M16 55h1M90 55h1M100 55h1M15 56h1M17 56h1M22 56h1M88 56h1M92 56h1M4 57h1M77 57h1M90 57h1M92 57h1M10 59h1M12 59h3M21 59h1M23 59h1M88 59h1M92 59h1M5 60h2M15 60h1M20 60h1M23 60h2M86 60h1M95 60h1M24 61h1M29 61h1M86 61h1M88 61h2M5 62h1M7 62h1M16 62h2M21 62h2M86 62h1M89 62h1M95 62h1M99 62h1M28 63h1M31 63h1M82 63h1M89 63h1M96 63h1M98 63h1M6 64h1M9 64h1M65 64h1M80 64h1M97 64h1M3 65h1M24 65h1M26 65h2M84 65h1M86 65h1M88 65h1M17 66h1M23 66h1M61 66h1M89 66h1M91 66h1M6 67h1M8 67h1M10 67h1M12 67h4M24 67h2M27 67h1M63 67h1M89 67h2M95 67h1M10 68h1M13 68h3M20 68h1M68 68h1M77 68h1M86 68h2M91 68h2M5 69h1M10 69h2M17 69h1M24 69h1M26 69h1M63 69h1M68 69h1M74 69h2M77 69h1M84 69h2M92 69h1M15 70h1M18 70h2M22 70h1M25 70h1M70 70h1M83 70h1M19 71h1M22 71h1M24 71h2M65 71h1M67 71h1M70 71h1M73 71h1M76 71h1M78 71h2M84 71h1M91 71h1M7 72h1M26 72h2M78 72h1M80 72h1M84 72h1M96 72h1M11 73h1M28 73h1M65 73h1M67 73h1M78 73h1M80 73h1M85 73h1M11 74h1M27 74h1M63 74h1M66 74h1M70 74h2M75 74h1M77 74h2M71 75h1M77 75h1M87 75h1M5 76h1M21 76h1M28 76h1M60 76h1M62 76h1M66 76h1M71 76h2M75 76h1M77 76h1M88 76h1M5 77h1M27 77h1M60 77h1M68 77h1M76 77h1M78 77h1M81 77h1M86 77h1M15 78h2M25 78h1M32 78h1M41 78h1M65 78h1M68 78h1M74 78h1M79 78h2M7 79h1M13 79h1M23 79h1M27 79h1M30 79h1M34 79h1M64 79h1M68 79h1M71 79h1M76 79h1M80 79h1M82 79h1M20 80h2M31 80h1M61 80h1M84 80h1M13 81h1M22 81h1M27 81h2M40 81h1M47 81h1M49 81h1M59 81h1M73 81h1M25 82h1M29 82h1M35 82h1M37 82h1M40 82h1M48 82h1M60 82h1M69 82h2M74 82h1M76 82h1M82 82h1M23 83h1M25 83h1M29 83h1M36 83h1M40 83h1M48 83h1M51 83h1M55 83h1M62 83h1M71 83h2M75 83h1M28 84h1M41 84h1M44 84h1M46 84h2M50 84h1M57 84h1M59 84h1M68 84h2M77 84h1M34 85h1M38 85h1M47 85h1M49 85h1M60 85h2M64 85h2M68 85h1M38 86h1M45 86h1M48 86h1M52 86h1M58 86h1M21 87h1M39 87h1M55 87h1M61 87h2M64 87h1M76 87h1M53 88h1M56 88h1M60 88h1M64 88h1M75 88h1M38 89h1M40 89h1M53 89h1M55 91h2M56 92h1M64 92h1M37 93h1M50 93h1M64 93h1M50 94h1M58 94h1M45 95h1M50 95h1M53 95h1M40 96h1M53 96h1M55 96h1M59 96h1M34 97h1M49 97h1M51 97h1M55 97h1M63 97h1M32 98h1M56 98h1M44 99h1M51 99h1"/><path stroke="#67a1bf" d="M58 2h1M59 4h1M61 4h1M67 6h1M79 6h1M59 7h1M72 7h1M77 7h1M65 8h1M70 8h1M73 8h1M78 8h1M80 10h1M52 11h1M78 11h1M47 12h1M58 12h1M45 13h1M69 13h1M72 13h1M57 14h1M68 14h1M70 14h1M56 15h1M60 15h1M69 15h1M42 16h1M63 16h1M59 17h2M53 18h1M56 18h1M58 18h1M62 18h1M71 18h1M74 18h1M43 19h1M50 19h1M52 19h2M61 19h1M64 19h2M70 19h1M74 19h1M40 20h2M49 20h2M56 20h1M58 20h1M63 20h1M34 21h2M37 21h2M43 21h1M53 21h1M65 21h1M72 21h1M74 21h1M77 21h1M34 22h1M42 22h1M55 22h1M68 22h1M72 22h1M77 22h1M36 23h2M40 23h2M46 23h1M55 23h1M60 23h1M68 23h1M75 23h1M81 23h1M40 24h1M53 24h1M56 24h1M59 24h1M65 24h1M71 24h1M56 25h3M62 25h1M66 25h1M72 25h3M78 25h2M57 26h1M60 26h2M64 26h1M68 26h2M71 26h1M73 26h1M82 26h2M69 27h2M75 27h1M81 27h1M83 27h1M34 28h1M36 28h1M65 28h1M73 28h1M75 28h1M81 28h1M59 29h1M65 29h1M68 29h1M70 29h1M72 29h1M79 29h1M95 29h1M29 30h1M62 30h1M78 30h1M80 30h1M91 30h1M32 31h1M74 32h1M77 32h1M86 32h1M8 33h1M10 33h1M75 33h1M80 33h1M88 33h1M27 34h1M70 34h1M75 34h1M78 34h2M81 34h2M3 35h1M9 35h1M69 35h1M76 35h1M81 35h1M86 35h1M88 36h1M5 37h1M73 37h1M77 37h2M83 38h1M85 38h1M89 38h1M1 39h1M14 39h1M87 39h1M89 39h1M17 40h1M88 40h1M90 40h2M96 40h1M0 41h1M12 41h1M6 42h2M88 42h1M99 42h1M-1 43h1M90 44h3M98 44h2M-1 45h1M3 45h2M91 45h1M94 45h1M91 46h1M98 46h2M3 47h1M83 48h1M98 48h1M22 49h1M90 49h1M95 49h1M97 49h1M83 50h1M91 50h1M94 50h1M2 51h1M14 51h1M84 51h1M87 51h1M93 51h1M98 51h1M96 52h2M2 53h1M84 53h1M89 53h3M93 53h1M95 53h1M99 53h1M6 54h1M86 54h1M89 54h1M12 55h1M14 55h1M19 55h1M77 55h1M84 55h1M86 55h1M91 55h1M94 55h2M83 56h1M86 56h1M90 56h1M93 56h1M95 56h1M0 57h1M3 57h1M5 57h1M7 57h1M18 57h1M26 57h1M53 57h1M80 57h1M86 57h1M14 58h1M18 58h1M22 58h1M86 58h2M90 58h1M2 59h1M9 59h1M15 59h1M17 59h1M27 59h1M30 59h1M86 59h1M91 59h1M1 60h1M4 60h1M17 60h1M28 60h2M91 60h1M94 60h1M27 61h1M58 61h1M76 61h1M84 61h1M94 61h1M97 61h1M8 62h1M25 62h1M28 62h1M57 62h1M85 62h1M88 62h1M23 63h1M26 63h1M29 63h1M55 63h1M60 63h1M78 63h1M80 63h1M83 63h1M16 64h1M24 64h1M76 64h1M82 64h1M87 64h3M71 65h1M75 65h1M80 65h1M82 65h2M85 65h1M87 65h1M92 65h1M95 65h1M26 66h1M57 66h1M65 66h1M79 66h1M84 66h1M87 66h1M94 66h1M4 67h2M9 67h1M11 67h1M23 67h1M65 67h1M72 67h1M82 67h2M92 67h1M9 68h1M12 68h1M60 68h2M63 68h2M67 68h1M74 68h2M78 68h1M80 68h4M12 69h1M14 69h1M65 69h1M69 69h1M76 69h1M78 69h2M81 69h1M7 70h2M10 70h1M14 70h1M17 70h1M20 70h1M24 70h1M66 70h4M72 70h1M75 70h1M23 71h1M63 71h1M66 71h1M68 71h2M71 71h1M74 71h1M83 71h1M85 71h1M14 72h1M61 72h2M66 72h1M72 72h3M76 72h1M82 72h1M85 72h1M10 73h1M13 73h1M21 73h1M23 73h1M26 73h1M61 73h1M66 73h1M70 73h1M73 73h2M79 73h1M86 73h1M89 73h1M7 74h1M22 74h2M61 74h2M67 74h1M69 74h1M72 74h1M74 74h1M79 74h1M5 75h1M24 75h2M41 75h1M61 75h1M64 75h1M69 75h1M73 75h1M78 75h1M6 76h1M15 76h1M27 76h1M38 76h1M61 76h1M64 76h2M67 76h3M11 77h2M26 77h1M32 77h1M34 77h2M37 77h1M39 77h1M59 77h1M61 77h2M64 77h1M69 77h2M72 77h1M74 77h1M8 78h2M12 78h1M31 78h1M63 78h1M71 78h1M8 79h1M17 79h1M19 79h1M22 79h1M29 79h1M31 79h1M33 79h1M37 79h1M48 79h2M58 79h1M60 79h1M62 79h1M65 79h1M81 79h1M24 80h3M29 80h2M32 80h2M35 80h1M48 80h1M60 80h1M63 80h1M66 80h1M68 80h2M71 80h2M85 80h1M12 81h1M18 81h1M20 81h1M24 81h1M26 81h1M34 81h1M38 81h1M42 81h1M46 81h1M53 81h1M70 81h2M75 81h1M15 82h1M26 82h1M34 82h1M36 82h1M46 82h1M55 82h1M64 82h1M72 82h1M27 83h2M31 83h1M46 83h1M49 83h1M56 83h1M58 83h2M67 83h3M32 84h1M49 84h1M66 84h2M70 84h2M43 85h1M50 85h3M55 85h1M58 85h1M62 85h2M66 85h2M55 86h1M61 86h1M63 86h1M52 87h1M56 87h2M59 87h2M63 87h1M66 87h1M54 89h1M56 89h1M54 91h1M65 91h1M54 92h1M57 94h1M64 94h1M62 95h1M58 96h1M49 98h1M62 98h1"/><path stroke="#93b8cc" d="M68 3h1M56 6h1M70 6h2M68 7h1M76 8h1M73 9h2M76 9h1M54 10h1M56 10h1M53 11h1M44 12h1M50 12h1M56 12h1M76 12h1M57 13h1M79 13h1M52 14h1M72 14h1M43 15h1M54 15h1M64 15h1M72 15h1M80 16h1M67 17h1M51 18h1M54 18h2M57 18h1M49 19h1M51 19h1M59 19h2M62 19h2M67 19h1M42 20h1M57 20h1M60 20h1M62 20h1M74 20h1M39 21h1M42 21h1M52 21h1M54 21h3M58 21h1M67 21h1M36 22h1M41 22h1M43 22h1M48 22h1M51 22h1M57 22h1M60 22h1M64 22h1M66 22h2M43 23h1M45 23h1M47 23h1M53 23h2M61 23h1M42 24h1M44 24h1M48 24h1M52 24h1M62 24h2M66 24h1M70 24h1M77 24h1M88 24h1M35 25h1M38 25h1M42 25h2M59 25h1M76 25h1M81 25h1M33 26h1M40 26h1M42 26h1M45 26h1M54 26h2M67 26h1M70 26h1M61 27h1M64 27h3M68 27h1M71 27h1M76 27h2M80 27h1M93 27h1M55 28h1M74 28h1M76 28h1M32 29h1M69 29h1M80 29h1M91 29h1M58 30h1M67 30h1M77 30h1M81 30h1M29 31h1M76 31h2M34 32h1M71 32h1M79 32h1M23 33h1M67 33h2M79 33h1M8 34h1M30 34h1M57 34h1M66 34h1M83 34h1M88 34h1M75 35h1M77 35h1M79 35h1M83 35h2M12 36h1M73 36h1M80 36h1M84 36h1M12 37h1M80 37h1M81 38h1M88 38h1M6 39h1M12 39h2M72 39h2M83 39h1M86 39h1M9 40h1M51 40h1M83 40h1M87 40h1M97 40h2M10 41h1M78 41h1M89 41h1M3 42h1M85 42h1M92 42h1M10 43h1M89 43h2M98 43h2M1 44h1M6 44h1M81 45h1M86 45h1M93 45h1M79 46h1M95 46h1M1 47h1M99 48h1M2 49h2M77 49h1M84 49h1M96 49h1M9 50h1M14 50h1M99 50h2M90 51h2M0 52h1M7 52h1M82 52h1M88 52h1M90 52h1M1 53h1M15 53h1M41 53h1M74 53h1M83 53h1M86 53h1M3 54h1M98 54h1M79 55h1M81 55h2M87 55h1M89 55h1M6 56h1M13 56h1M26 56h1M81 56h1M87 56h1M89 56h1M91 56h1M13 57h1M17 57h1M19 57h1M31 57h1M79 57h1M83 57h1M85 57h1M87 57h1M91 57h1M94 57h1M24 58h1M59 58h1M84 58h1M88 58h1M4 59h1M16 59h1M18 59h3M24 59h1M57 59h1M63 59h1M26 60h1M76 60h1M78 60h1M84 60h1M87 60h1M90 60h1M78 61h1M87 61h1M27 62h1M32 62h1M59 62h1M81 62h1M83 62h1M3 63h2M59 63h1M94 63h1M29 64h1M60 64h1M73 64h1M75 64h1M79 64h1M81 64h1M30 65h1M58 65h2M67 65h1M78 65h2M91 65h1M4 66h1M58 66h1M64 66h1M69 66h1M71 66h1M75 66h1M77 66h1M81 66h2M85 66h1M26 67h1M61 67h1M69 67h1M73 67h1M79 67h1M94 67h1M8 68h1M16 68h1M18 68h2M71 68h1M76 68h1M79 68h1M6 69h1M13 69h1M16 69h1M18 69h1M62 69h1M67 69h1M70 69h1M12 70h1M61 70h1M63 70h2M85 70h1M9 71h1M13 71h1M15 71h1M20 71h1M61 71h2M72 71h1M77 71h1M9 72h1M13 72h1M17 72h1M19 72h1M21 72h1M23 72h3M65 72h1M77 72h1M7 73h1M15 73h1M17 73h1M24 73h2M62 73h1M64 73h1M68 73h1M77 73h1M4 74h2M24 74h2M28 74h1M64 74h1M15 75h2M23 75h1M26 75h1M62 75h1M67 75h1M22 76h1M24 76h1M40 76h2M43 76h1M70 76h1M73 76h1M15 77h1M22 77h1M38 77h1M63 77h1M66 77h1M13 78h2M17 78h2M24 78h1M29 78h1M34 78h3M46 78h2M59 78h1M64 78h1M66 78h1M69 78h1M72 78h1M77 78h1M20 79h1M24 79h1M26 79h1M36 79h1M38 79h2M41 79h1M43 79h1M45 79h1M59 79h1M61 79h1M66 79h1M69 79h2M73 79h1M75 79h1M27 80h1M36 80h1M41 80h1M44 80h1M65 80h1M74 80h1M32 81h1M36 81h1M39 81h1M45 81h1M52 81h1M54 81h1M56 81h3M63 81h2M68 81h2M74 81h1M27 82h1M41 82h1M44 82h2M49 82h2M57 82h2M67 82h1M71 82h1M17 83h1M38 83h1M50 83h1M52 83h1M57 83h1M60 83h2M64 83h1M31 84h1M52 84h2M58 84h1M60 84h1M63 84h1M65 84h1M57 85h1M57 86h1M65 86h1M58 88h1"/><path stroke="#bccdd9" d="M66 4h1M81 8h1M49 9h1M57 9h1M62 9h1M56 11h1M74 11h1M80 12h1M42 13h1M41 14h1M44 14h1M55 16h1M59 16h1M37 19h1M45 19h1M55 19h1M57 19h1M43 20h1M53 20h1M61 20h1M65 20h1M44 21h1M47 21h5M59 21h2M62 21h1M64 21h1M37 22h1M39 22h1M44 22h4M49 22h2M53 22h2M59 22h1M61 22h2M65 22h1M71 22h1M35 23h1M38 23h2M44 23h1M48 23h1M51 23h1M58 23h2M62 23h2M66 23h1M35 24h1M37 24h3M46 24h2M58 24h1M60 24h1M67 24h1M72 24h1M81 24h1M34 25h1M40 25h1M52 25h1M54 25h2M60 25h2M63 25h1M68 25h2M35 26h1M38 26h2M47 26h1M50 26h1M66 26h1M75 26h1M51 27h1M54 27h1M58 27h1M60 27h1M62 27h1M67 27h1M72 27h1M74 27h1M45 28h1M63 28h1M66 28h2M30 29h1M33 29h1M62 29h1M64 29h1M71 29h1M73 29h4M28 30h1M52 30h1M68 30h1M24 31h1M27 31h1M35 31h1M61 31h1M65 31h1M67 31h1M69 31h3M80 31h1M32 32h2M35 32h1M69 32h1M72 32h1M82 32h1M32 33h1M64 33h2M69 33h3M73 33h1M76 33h1M78 33h1M25 34h1M28 34h1M31 34h1M71 34h1M73 34h1M76 34h2M87 34h1M8 35h1M23 35h1M63 35h1M71 35h2M7 36h1M13 36h1M32 36h1M40 36h1M62 36h1M67 36h1M69 36h1M77 36h1M79 36h1M81 36h1M7 37h1M52 37h1M72 37h1M75 37h2M81 37h2M3 38h1M29 38h1M71 38h1M73 38h1M86 38h1M3 39h1M5 39h1M7 39h1M17 39h1M70 39h1M75 39h1M82 39h1M85 39h1M92 39h1M12 40h1M82 40h1M84 40h1M95 40h1M6 41h1M14 41h1M17 41h1M74 41h1M77 41h1M79 41h1M87 41h1M92 41h1M94 41h1M97 41h1M77 42h1M90 42h1M6 43h1M93 44h1M95 44h1M100 44h1M5 45h1M11 45h1M87 45h2M90 45h1M92 45h1M98 45h2M83 46h1M85 46h1M94 46h1M100 46h1M84 47h1M91 47h1M95 47h1M10 48h1M79 48h1M94 48h2M21 49h1M83 49h1M86 49h1M88 49h1M0 50h1M15 50h1M84 50h1M86 50h3M90 50h1M92 50h1M98 50h1M75 51h1M11 52h2M85 52h1M87 52h1M93 52h1M4 53h1M13 54h1M16 54h1M34 54h1M80 54h1M83 54h1M88 54h1M91 54h1M3 55h1M9 55h1M11 55h1M53 55h1M61 55h1M75 55h2M80 55h1M85 55h1M88 55h1M0 56h1M2 56h1M80 56h1M82 56h1M6 57h1M9 57h1M16 57h1M23 57h1M54 57h1M58 57h1M78 57h1M88 57h1M7 58h2M12 58h1M15 58h1M67 58h1M77 58h1M83 58h1M89 58h1M26 59h1M29 59h1M32 59h1M50 59h1M75 59h1M78 59h1M82 59h1M85 59h1M87 59h1M27 60h1M55 60h1M58 60h1M61 60h1M83 60h1M85 60h1M88 60h1M30 61h1M35 61h1M59 61h2M62 61h1M74 61h1M77 61h1M79 61h2M85 61h1M55 62h1M63 62h1M76 62h1M82 62h1M84 62h1M62 63h1M64 63h1M74 63h2M79 63h1M81 63h1M31 64h3M58 64h2M61 64h2M67 64h2M77 64h1M86 64h1M57 65h1M61 65h1M69 65h1M76 65h1M81 65h1M62 66h1M73 66h1M76 66h1M78 66h1M80 66h1M59 67h1M66 67h1M75 67h4M81 67h1M3 68h1M5 68h1M17 68h1M59 68h1M69 68h2M72 68h2M8 69h2M64 69h1M73 69h1M80 69h1M9 70h1M11 70h1M13 70h1M16 70h1M26 70h1M62 70h1M7 71h1M10 71h2M18 71h1M21 71h1M64 71h1M15 72h1M18 72h1M63 72h1M69 72h2M75 72h1M8 73h1M18 73h1M22 73h1M27 73h1M69 73h1M71 73h2M8 74h1M14 74h1M17 74h1M21 74h1M65 74h1M8 75h1M11 75h1M22 75h1M27 75h1M42 75h1M66 75h1M68 75h1M8 76h1M12 76h2M19 76h1M23 76h1M25 76h1M8 77h1M24 77h2M41 77h4M67 77h1M71 77h1M22 78h2M26 78h3M33 78h1M37 78h4M42 78h1M45 78h1M61 78h1M70 78h1M28 79h1M46 79h1M67 79h1M34 80h1M39 80h2M42 80h1M47 80h1M49 80h1M58 80h1M23 81h1M29 81h2M33 81h1M48 81h1M55 81h1M60 81h2M65 81h1M67 81h1M72 81h1M42 82h1M47 82h1M51 82h1M53 82h1M56 82h1M61 82h1M65 82h2M68 82h1M33 83h1M65 83h1M20 84h1M48 84h1M51 84h1M62 84h1M59 85h1M56 86h1M55 89h1M53 98h1"/><path stroke="#dfe2e6" d="M73 4h1M77 9h1M75 10h1M44 13h1M43 14h1M80 14h1M61 16h1M54 19h1M56 19h1M52 20h1M35 22h1M40 22h1M50 23h1M57 23h1M65 23h1M36 24h1M41 24h1M50 24h1M54 24h1M57 24h1M64 24h1M39 25h1M41 25h1M46 25h1M48 25h2M51 25h1M70 25h1M37 26h1M58 26h2M63 26h1M65 26h1M74 26h1M33 27h3M37 27h1M39 27h1M43 27h4M56 27h1M73 27h1M32 28h1M40 28h1M51 28h1M60 28h1M64 28h1M51 29h1M55 29h1M57 29h1M60 29h2M63 29h1M66 29h1M31 30h1M35 30h2M39 30h1M42 30h1M49 30h2M54 30h1M60 30h2M66 30h1M70 30h1M72 30h1M75 30h1M79 30h1M23 31h1M34 31h1M45 31h1M49 31h1M54 31h1M58 31h2M62 31h1M64 31h1M68 31h1M73 31h1M75 31h1M22 32h1M25 32h1M27 32h1M36 32h1M39 32h1M42 32h1M45 32h3M50 32h1M56 32h1M58 32h1M60 32h1M63 32h2M66 32h1M75 32h1M26 33h1M29 33h1M52 33h1M62 33h1M10 34h1M23 34h1M33 34h1M44 34h1M50 34h1M55 34h1M60 34h3M64 34h1M67 34h2M24 35h1M26 35h1M31 35h1M34 35h1M61 35h1M64 35h1M66 35h1M73 35h2M63 36h2M66 36h1M72 36h1M74 36h3M54 37h1M66 37h1M68 37h1M79 37h1M83 37h2M5 38h1M7 38h1M13 38h1M47 38h1M56 38h1M65 38h1M68 38h1M70 38h1M74 38h1M78 38h3M82 38h1M10 39h2M50 39h1M76 39h2M81 39h1M4 40h1M10 40h1M53 40h1M69 40h2M73 40h1M75 40h1M77 40h1M85 40h1M89 40h1M1 41h3M8 41h1M69 41h1M80 41h1M82 41h1M84 41h2M95 41h1M100 41h1M2 42h1M49 42h1M80 42h1M82 42h1M89 42h1M91 42h1M95 42h2M15 43h1M47 43h1M76 43h1M88 43h1M91 43h2M96 43h2M60 44h1M80 44h1M6 45h1M19 45h1M89 45h1M97 45h1M77 46h1M92 46h1M96 46h1M85 47h1M89 47h1M96 47h2M7 48h1M12 48h1M64 48h1M66 48h1M86 48h1M89 48h1M100 48h1M9 49h1M85 49h1M89 49h1M94 49h1M99 49h1M10 50h1M12 50h1M1 51h1M4 51h1M11 51h1M51 51h1M77 51h1M97 51h1M13 52h1M18 52h1M77 52h1M81 52h1M84 52h1M86 52h1M6 53h1M13 53h2M68 53h1M70 53h1M75 53h1M78 53h1M87 53h1M92 53h1M0 54h1M8 54h1M11 54h1M28 54h1M39 54h1M79 54h1M15 55h1M32 55h1M36 55h1M3 56h1M10 56h1M54 56h1M61 56h1M76 56h2M84 56h1M8 57h1M37 57h1M51 57h1M62 57h1M69 57h1M74 57h1M84 57h1M20 58h2M27 58h1M29 58h1M34 58h1M38 58h1M52 58h1M60 58h1M78 58h1M80 58h1M25 59h1M28 59h1M31 59h1M34 59h1M52 59h1M56 59h1M59 59h1M61 59h1M67 59h1M73 59h1M80 59h1M30 60h1M37 60h1M53 60h1M60 60h1M63 60h1M80 60h1M82 60h1M28 61h1M34 61h1M46 61h1M54 61h1M56 61h1M61 61h1M63 61h1M83 61h1M33 62h1M58 62h1M61 62h2M64 62h2M74 62h1M78 62h1M30 63h1M32 63h2M61 63h1M70 63h1M76 63h1M34 64h1M57 64h1M63 64h1M72 64h1M78 64h1M84 64h1M32 65h1M62 65h4M77 65h1M63 66h1M67 66h1M72 66h1M60 67h1M62 67h1M64 67h1M80 67h1M65 68h2M61 69h1M66 69h1M6 70h1M71 70h1M74 70h1M12 71h1M17 71h1M26 71h1M10 72h2M16 72h1M20 72h1M9 73h1M12 73h1M14 73h1M19 73h1M12 74h2M16 74h1M18 74h1M26 74h1M68 74h1M10 75h1M13 75h2M17 75h1M19 75h2M28 75h1M11 76h1M16 76h2M20 76h1M36 76h1M39 76h1M16 77h4M21 77h1M23 77h1M28 77h1M36 77h1M45 77h1M65 77h1M19 78h3M44 78h1M18 79h1M21 79h1M32 79h1M40 79h1M47 79h1M22 80h1M28 80h1M37 80h2M46 80h1M59 80h1M62 80h1M70 80h1M62 81h1M66 81h1M43 82h1M52 82h1M59 82h1M62 82h1M53 83h2M63 83h1M61 84h1"/><path stroke="#f0e5e3" d="M60 5h1M74 6h1M71 7h1M66 8h1M54 9h1M56 9h1M72 9h1M75 9h1M81 9h1M63 11h1M73 11h1M76 11h1M59 12h1M75 12h1M60 13h1M71 13h1M39 16h1M56 22h1M49 23h1M52 23h1M56 23h1M43 24h1M45 24h1M49 24h1M51 24h1M61 24h1M36 25h1M44 25h2M53 25h1M64 25h2M36 26h1M41 26h1M44 26h1M46 26h1M49 26h1M53 26h1M36 27h1M42 27h1M47 27h2M50 27h1M55 27h1M57 27h1M59 27h1M63 27h1M98 27h1M41 28h2M49 28h2M52 28h1M56 28h3M61 28h1M70 28h3M34 29h2M39 29h2M42 29h1M46 29h1M50 29h1M53 29h2M34 30h1M43 30h1M45 30h1M48 30h1M51 30h1M55 30h2M63 30h3M69 30h1M71 30h1M73 30h2M28 31h1M33 31h1M47 31h1M50 31h1M56 31h1M74 31h1M23 32h1M29 32h1M37 32h1M61 32h1M65 32h1M25 33h1M30 33h2M39 33h1M43 33h1M46 33h1M56 33h1M58 33h1M61 33h1M63 33h1M72 33h1M36 34h1M48 34h2M52 34h2M59 34h1M63 34h1M69 34h1M30 35h1M54 35h1M57 35h1M60 35h1M62 35h1M65 35h1M67 35h2M70 35h1M38 36h1M53 36h1M60 36h1M68 36h1M78 36h1M13 37h1M69 37h1M71 37h1M74 37h1M25 38h1M28 38h1M63 38h1M66 38h1M69 38h1M75 38h1M84 38h1M8 39h1M41 39h1M49 39h1M64 39h1M78 39h1M80 39h1M8 40h1M11 40h1M16 40h1M19 40h1M24 40h1M47 40h1M78 40h1M80 40h1M86 40h1M5 41h1M66 41h1M73 41h1M81 41h1M83 41h1M90 41h1M93 41h1M13 42h1M17 42h1M19 42h1M59 42h1M61 42h1M66 42h1M71 42h1M76 42h1M81 42h1M84 42h1M93 42h1M12 43h1M80 43h1M93 43h1M0 44h1M3 44h1M8 44h1M15 44h1M47 44h1M56 44h1M77 44h1M82 44h3M87 44h1M94 44h1M96 44h1M9 45h1M23 45h1M65 45h1M78 45h1M95 45h1M8 46h1M12 46h1M16 46h1M19 46h1M74 46h1M80 46h2M20 47h1M53 47h1M68 47h1M88 47h1M90 47h1M92 47h1M1 48h1M6 48h1M19 48h1M22 48h1M36 48h1M44 48h1M82 48h1M87 48h2M90 48h1M97 48h1M1 49h1M54 49h1M61 49h1M69 49h1M6 50h1M56 50h1M67 50h1M77 50h1M81 50h1M96 50h1M8 51h1M21 51h1M23 51h1M81 51h2M88 51h1M66 52h1M74 52h1M76 52h1M80 52h1M83 52h1M5 53h1M9 53h1M67 53h1M69 53h1M76 53h2M80 53h1M88 53h1M94 53h1M4 54h1M9 54h2M29 54h1M68 54h1M75 54h1M78 54h1M81 54h2M85 54h1M7 55h1M21 55h1M64 55h1M93 55h1M8 56h1M11 56h1M24 56h2M29 56h1M35 56h1M50 56h1M58 56h1M70 56h1M73 56h1M75 56h1M78 56h1M11 57h1M22 57h1M61 57h1M71 57h2M75 57h2M81 57h1M89 57h1M2 58h1M35 58h1M37 58h1M42 58h1M50 58h1M56 58h3M61 58h1M72 58h1M76 58h1M79 58h1M81 58h1M92 58h1M36 59h1M38 59h1M53 59h2M64 59h1M68 59h3M72 59h1M74 59h1M77 59h1M79 59h1M83 59h2M90 59h1M33 60h2M47 60h2M57 60h1M59 60h1M62 60h1M65 60h2M74 60h1M79 60h1M81 60h1M31 61h1M47 61h1M55 61h1M57 61h1M66 61h1M68 61h1M72 61h1M82 61h1M31 62h1M35 62h1M48 62h1M60 62h1M66 62h1M73 62h1M77 62h1M79 62h1M34 63h1M49 63h1M56 63h3M65 63h1M68 63h1M73 63h1M77 63h1M55 64h2M64 64h1M66 64h1M69 64h1M60 65h1M66 65h1M73 65h1M59 66h2M68 66h1M74 66h1M3 67h1M58 67h1M67 67h1M62 68h1M85 68h1M15 69h1M71 69h2M76 70h1M95 70h1M14 71h1M16 71h1M75 71h1M12 72h1M67 72h1M16 73h1M20 73h1M6 74h1M10 74h1M18 75h1M10 76h1M14 76h1M18 76h1M26 76h1M44 76h1M6 77h1M14 77h1M20 77h1M33 77h1M40 77h1M10 78h2M30 78h1M43 78h1M62 78h1M67 78h1M64 80h1M67 80h1M41 81h1M50 81h1M54 82h1M56 84h1M12 89h1M49 93h1M68 98h1"/><path stroke="#e9d3cb" d="M76 13h1M46 20h1M55 20h1M37 25h1M50 25h1M67 25h1M34 26h1M51 26h2M38 27h1M40 27h2M53 27h1M37 28h3M44 28h1M46 28h1M53 28h2M62 28h1M68 28h1M43 29h1M52 29h1M30 30h1M37 30h2M41 30h1M46 30h1M59 30h1M40 31h1M42 31h2M52 31h2M60 31h1M66 31h1M38 32h1M43 32h1M53 32h3M57 32h1M67 32h2M70 32h1M22 33h1M27 33h2M34 33h1M38 33h1M40 33h1M47 33h2M50 33h2M55 33h1M57 33h1M59 33h1M24 34h1M39 34h2M43 34h1M51 34h1M54 34h1M56 34h1M72 34h1M74 34h1M25 35h1M27 35h3M41 35h1M43 35h1M55 35h2M59 35h1M26 36h2M49 36h4M54 36h1M57 36h3M61 36h1M70 36h1M26 37h2M42 37h1M47 37h3M56 37h1M62 37h1M70 37h1M30 38h2M54 38h1M72 38h1M9 39h1M43 39h1M47 39h1M57 39h1M63 39h1M66 39h1M71 39h1M84 39h1M25 40h1M39 40h1M41 40h1M61 40h1M67 40h1M76 40h1M79 40h1M81 40h1M4 41h1M24 41h1M50 41h3M55 41h1M58 41h1M63 41h1M65 41h1M67 41h1M71 41h2M76 41h1M96 41h1M20 42h1M45 42h2M62 42h1M74 42h1M78 42h2M94 42h1M3 43h1M56 43h1M62 43h1M73 43h1M75 43h1M87 43h1M7 44h1M12 44h1M20 44h1M22 44h1M43 44h1M45 44h1M49 44h1M59 44h1M68 44h1M70 44h1M73 44h1M79 44h1M81 44h1M85 44h2M88 44h1M97 44h1M41 45h1M46 45h1M54 45h1M60 45h1M72 45h1M79 45h1M84 45h1M4 46h2M9 46h1M63 46h1M82 46h1M84 46h1M88 46h1M56 47h1M63 47h1M67 47h1M78 47h1M83 47h1M87 47h1M21 48h1M49 48h1M57 48h1M73 48h2M78 48h1M84 48h1M0 49h1M12 49h2M37 49h1M52 49h1M66 49h1M91 49h2M2 50h1M23 50h1M51 50h1M59 50h1M75 50h1M79 50h1M3 51h1M5 51h2M68 51h1M73 51h2M79 51h2M86 51h1M-1 52h1M6 52h1M10 52h1M15 52h1M73 52h1M75 52h1M3 53h1M73 53h1M81 53h1M85 53h1M19 54h1M47 54h1M63 54h1M69 54h1M74 54h1M77 54h1M4 55h1M6 55h1M8 55h1M23 55h1M39 55h1M46 55h1M66 55h1M68 55h1M71 55h1M73 55h2M23 56h1M27 56h1M49 56h1M67 56h2M74 56h1M85 56h1M14 57h1M24 57h1M27 57h1M29 57h1M34 57h1M41 57h2M45 57h1M49 57h2M52 57h1M59 57h2M63 57h1M73 57h1M82 57h1M16 58h1M33 58h1M36 58h1M39 58h1M41 58h1M46 58h2M55 58h1M64 58h3M69 58h3M73 58h2M82 58h1M40 59h2M47 59h1M49 59h1M55 59h1M65 59h1M81 59h1M31 60h2M36 60h1M39 60h1M54 60h1M56 60h1M64 60h1M71 60h2M77 60h1M32 61h1M48 61h2M64 61h2M67 61h1M71 61h1M73 61h1M34 62h1M69 62h1M72 62h1M75 62h1M63 63h1M66 63h2M71 63h2M68 65h1M70 65h1M72 65h1M74 65h1M66 66h1M68 67h1M7 75h1M12 75h1M21 75h1M65 75h1M9 76h1M37 76h1M10 79h1M63 79h1"/><path stroke="#e2bdb1" d="M74 7h2M73 10h1M47 25h1M48 26h1M56 26h1M52 27h1M35 28h1M47 28h2M36 29h1M38 29h1M44 29h2M56 29h1M67 29h1M40 30h1M44 30h1M47 30h1M57 30h1M31 31h1M36 31h3M46 31h1M48 31h1M51 31h1M55 31h1M57 31h1M63 31h1M10 32h1M49 32h1M51 32h2M62 32h1M35 33h3M44 33h1M53 33h2M60 33h1M66 33h1M26 34h1M38 34h1M42 34h1M45 34h3M58 34h1M65 34h1M38 35h1M42 35h1M47 35h1M51 35h2M58 35h1M31 36h1M42 36h1M55 36h2M51 37h1M53 37h1M55 37h1M58 37h2M65 37h1M67 37h1M27 38h1M38 38h1M41 38h2M45 38h1M53 38h1M60 38h1M64 38h1M67 38h1M27 39h1M46 39h1M51 39h1M58 39h2M61 39h2M65 39h1M69 39h1M79 39h1M2 40h1M43 40h1M46 40h1M49 40h1M60 40h1M62 40h1M64 40h1M66 40h1M72 40h1M9 41h1M11 41h1M41 41h1M45 41h1M61 41h2M64 41h1M68 41h1M75 41h1M86 41h1M9 42h1M14 42h1M26 42h1M28 42h1M40 42h1M48 42h1M51 42h2M55 42h1M63 42h1M68 42h1M70 42h1M75 42h1M83 42h1M86 42h1M7 43h1M11 43h1M48 43h1M51 43h1M55 43h1M59 43h1M63 43h1M67 43h1M77 43h1M81 43h1M83 43h1M42 44h1M62 44h1M65 44h1M76 44h1M2 45h1M7 45h1M40 45h1M51 45h1M53 45h1M57 45h1M59 45h1M75 45h3M100 45h1M21 46h1M24 46h1M45 46h1M54 46h1M65 46h1M68 46h1M70 46h1M76 46h1M10 47h1M21 47h2M48 47h2M55 47h1M57 47h1M59 47h1M73 47h2M79 47h1M82 47h1M94 47h1M4 48h1M14 48h1M42 48h1M46 48h1M55 48h1M63 48h1M69 48h2M75 48h1M91 48h1M93 48h1M14 49h1M20 49h1M44 49h2M57 49h1M70 49h1M75 49h2M81 49h2M87 49h1M3 50h1M8 50h1M11 50h1M13 50h1M41 50h1M50 50h1M53 50h1M55 50h1M62 50h1M78 50h1M80 50h1M9 51h1M15 51h1M24 51h1M43 51h1M54 51h2M58 51h1M60 51h1M64 51h2M70 51h2M83 51h1M17 52h1M40 52h1M61 52h1M11 53h1M37 53h1M60 53h1M7 54h1M15 54h1M59 54h1M61 54h2M71 54h1M44 55h1M56 55h2M60 55h1M65 55h1M72 55h1M78 55h1M83 55h1M4 56h2M7 56h1M20 56h1M41 56h1M53 56h1M59 56h1M62 56h2M71 56h2M79 56h1M2 57h1M35 57h1M47 57h1M55 57h1M64 57h3M68 57h1M70 57h1M23 58h1M25 58h1M31 58h1M40 58h1M49 58h1M53 58h2M62 58h2M75 58h1M85 58h1M33 59h1M37 59h1M39 59h1M48 59h1M58 59h1M62 59h1M71 59h1M35 60h1M49 60h2M67 60h1M70 60h1M75 60h1M50 61h1M69 61h2M75 61h1M81 61h1M49 62h1M71 62h1M69 63h1M70 64h1M74 64h1M74 67h1M15 74h1M19 74h2M13 77h1M63 82h1"/><path stroke="#d9a493" d="M71 8h1M43 26h1M49 27h1M43 28h1M31 29h1M41 29h1M47 29h3M53 30h1M26 31h1M41 31h1M44 31h1M40 32h1M44 32h1M48 32h1M59 32h1M42 33h1M45 33h1M35 34h1M37 34h1M36 35h1M40 35h1M46 35h1M50 35h1M53 35h1M10 36h1M29 36h2M36 36h1M41 36h1M43 36h1M47 36h1M37 37h3M45 37h1M50 37h1M57 37h1M60 37h1M63 37h1M43 38h1M50 38h1M52 38h1M58 38h1M4 39h1M40 39h1M45 39h1M48 39h1M53 39h2M68 39h1M5 40h1M40 40h1M44 40h2M59 40h1M65 40h1M7 41h1M22 41h1M27 41h1M42 41h2M46 41h1M48 41h1M53 41h1M60 41h1M70 41h1M4 42h1M12 42h1M21 42h1M30 42h1M42 42h1M56 42h1M72 42h1M98 42h1M9 43h1M13 43h1M44 43h1M49 43h1M68 43h1M74 43h1M85 43h1M94 43h1M2 44h1M4 44h1M10 44h1M25 44h2M51 44h2M66 44h2M78 44h1M89 44h1M0 45h1M8 45h1M39 45h1M49 45h1M55 45h1M80 45h1M82 45h2M96 45h1M25 46h1M41 46h1M50 46h1M52 46h1M57 46h2M62 46h1M64 46h1M69 46h1M71 46h1M75 46h1M78 46h1M93 46h1M2 47h1M7 47h1M45 47h1M54 47h1M58 47h1M65 47h1M69 47h3M86 47h1M98 47h1M13 48h1M51 48h1M56 48h1M68 48h1M71 48h1M80 48h1M85 48h1M6 49h1M10 49h1M15 49h1M46 49h1M53 49h1M64 49h1M79 49h2M22 50h1M54 50h1M66 50h1M68 50h1M71 50h1M93 50h1M7 51h1M10 51h1M13 51h1M57 51h1M67 51h1M69 51h1M72 51h1M4 52h1M8 52h2M54 52h2M57 52h1M67 52h2M71 52h1M18 53h1M31 53h1M47 53h1M56 53h1M62 53h2M65 53h2M71 53h2M82 53h1M2 54h1M31 54h1M45 54h1M58 54h1M60 54h1M64 54h2M67 54h1M70 54h1M72 54h2M84 54h1M87 54h1M1 55h2M18 55h1M20 55h1M37 55h1M58 55h2M63 55h1M69 55h1M16 56h1M19 56h1M39 56h2M42 56h2M46 56h1M60 56h1M64 56h2M69 56h1M10 57h1M28 57h1M38 57h3M43 57h1M46 57h1M67 57h1M17 58h1M45 58h1M48 58h1M68 58h1M35 59h1M66 59h1M76 59h1M40 60h1M68 60h2M67 62h1M70 62h1M71 64h1"/><path stroke="#d28c7b" d="M58 29h1M39 31h1M41 32h1M49 33h1M29 34h1M37 35h1M39 35h1M45 35h1M49 35h1M11 36h1M28 36h1M39 36h1M44 36h1M46 36h1M65 36h1M71 36h1M31 37h1M33 37h1M41 37h1M46 37h1M61 37h1M64 37h1M12 38h1M40 38h1M44 38h1M46 38h1M49 38h1M51 38h1M55 38h1M57 38h1M61 38h2M16 39h1M26 39h1M30 39h2M42 39h1M44 39h1M55 39h1M60 39h1M67 39h1M7 40h1M42 40h1M50 40h1M52 40h1M58 40h1M63 40h1M68 40h1M71 40h1M74 40h1M28 41h1M44 41h1M49 41h1M54 41h1M10 42h1M18 42h1M25 42h1M39 42h1M43 42h1M53 42h2M60 42h1M65 42h1M20 43h1M45 43h1M54 43h1M57 43h1M69 43h1M79 43h1M5 44h1M9 44h1M40 44h1M44 44h1M46 44h1M48 44h1M54 44h1M57 44h2M63 44h1M71 44h2M75 44h1M15 45h2M20 45h2M42 45h1M47 45h1M58 45h1M61 45h1M64 45h1M66 45h1M69 45h1M74 45h1M85 45h1M2 46h1M7 46h1M22 46h1M40 46h1M46 46h2M53 46h1M56 46h1M60 46h1M67 46h1M86 46h2M90 46h1M6 47h1M11 47h2M41 47h1M44 47h1M64 47h1M75 47h1M80 47h2M23 48h1M45 48h1M58 48h1M77 48h1M-1 49h1M23 49h1M47 49h3M51 49h1M60 49h1M62 49h1M72 49h1M74 49h1M78 49h1M4 50h1M7 50h1M45 50h1M52 50h1M70 50h1M76 50h1M85 50h1M12 51h1M53 51h1M56 51h1M78 51h1M2 52h2M5 52h1M14 52h1M59 52h1M63 52h3M79 52h1M8 53h1M17 53h1M59 53h1M61 53h1M79 53h1M18 54h1M20 54h1M10 55h1M13 55h1M67 55h1M14 56h1M66 56h1M12 57h1M48 57h1M28 58h1M60 59h1M73 60h1M68 62h1"/><path stroke="#ca7665" d="M37 29h1M41 33h1M41 34h1M35 35h1M48 35h1M45 36h1M48 36h1M29 37h1M32 37h1M36 37h1M40 37h1M43 37h2M36 38h1M48 38h1M37 39h1M52 39h1M3 40h1M6 40h1M13 40h1M55 40h2M25 41h2M40 41h1M47 41h1M27 42h1M41 42h1M50 42h1M58 42h1M67 42h1M69 42h1M8 43h1M19 43h1M25 43h1M38 43h2M42 43h2M50 43h1M64 43h2M71 43h2M82 43h1M84 43h1M100 43h1M11 44h1M19 44h1M21 44h1M23 44h1M39 44h1M55 44h1M69 44h1M74 44h1M22 45h1M37 45h2M43 45h2M63 45h1M67 45h1M70 45h1M73 45h1M3 46h1M6 46h1M23 46h1M43 46h1M51 46h1M55 46h1M66 46h1M73 46h1M4 47h1M13 47h1M18 47h1M23 47h1M42 47h1M47 47h1M52 47h1M61 47h2M66 47h1M72 47h1M77 47h1M2 48h1M47 48h2M52 48h3M61 48h1M67 48h1M72 48h1M76 48h1M81 48h1M11 49h1M19 49h1M55 49h1M59 49h1M63 49h1M67 49h1M73 49h1M5 50h1M21 50h1M57 50h1M60 50h1M73 50h2M59 51h1M66 51h1M76 51h1M22 52h1M44 52h1M56 52h1M69 52h1M78 52h1M7 53h1M16 53h1M40 53h1M45 53h2M64 53h1M62 55h1M21 56h1M28 56h1M21 57h1M43 58h1"/><path stroke="#c26050" d="M44 35h1M37 36h1M30 37h1M24 39h1M56 39h1M18 40h1M28 40h1M38 40h1M48 40h1M54 40h1M57 40h1M59 41h1M5 42h1M22 42h1M47 42h1M57 42h1M64 42h1M73 42h1M23 43h1M28 43h1M35 43h1M46 43h1M52 43h1M61 43h1M27 44h1M37 44h1M41 44h1M53 44h1M61 44h1M24 45h1M36 45h1M48 45h1M56 45h1M62 45h1M10 46h2M20 46h1M34 46h1M39 46h1M44 46h1M49 46h1M9 47h1M36 47h1M43 47h1M46 47h1M50 47h1M15 48h1M32 48h1M50 48h1M59 48h2M62 48h1M65 48h1M7 49h1M50 49h1M58 49h1M68 49h1M36 50h1M61 50h1M65 50h1M69 50h1M72 50h1M58 52h1M62 52h1M72 52h1M22 53h1M12 54h1M57 54h1M66 54h1M5 55h1M18 56h1M25 57h1M10 58h1"/><path stroke="#ba4d3e" d="M33 38h1M59 38h1M29 39h1M39 39h1M29 40h1M23 41h1M39 41h1M8 42h1M24 42h1M44 42h1M21 43h2M24 43h1M36 43h1M40 43h2M53 43h1M58 43h1M60 43h1M66 43h1M70 43h1M35 44h1M38 44h1M64 44h1M45 45h1M50 45h1M26 46h1M36 46h1M42 46h1M59 46h1M72 46h1M38 47h1M51 47h1M60 47h1M76 47h1M3 48h1M5 48h1M56 49h1M65 49h1M71 49h1M16 50h1M63 50h1M22 51h1M61 51h1M63 51h1M16 52h1M29 52h1M12 53h1M14 54h1M29 55h1M9 56h1M12 56h1M32 56h1"/><path stroke="#b0372d" d="M38 39h1M26 40h2M30 40h1M13 41h1M18 41h1M57 41h1M11 42h1M78 43h1M24 44h1M33 44h1M50 44h1M10 45h1M26 45h1M34 45h1M52 45h1M68 45h1M48 46h1M61 46h1M5 47h1M8 47h1M58 50h1M64 50h1M16 51h1M62 51h1M15 57h1M30 58h1"/><path stroke="#a62a24" d="M35 39h1M56 41h1M33 42h1M27 43h1M34 44h1M8 48h2M4 49h1M5 54h1"/><path stroke="#9d2623" d="M28 39h1M33 39h1M23 40h1M19 41h1M29 41h1M32 41h1M29 42h1M26 43h1M13 46h1M20 48h1M5 49h1M32 58h1"/><path stroke="#922124" d="M32 38h1M22 40h1M36 41h1M23 42h1M32 45h1M32 46h1M30 57h1"/><path stroke="#8a1d24" d="M62 10h1M49 11h1M61 17h1M34 23h1M21 33h1M25 36h1M33 36h1M26 38h1M34 38h1M25 39h1M34 42h1M25 45h1M71 45h1M76 54h1M34 55h1M44 57h1"/><path stroke="#841a25" d="M33 40h1M34 41h1"/><path stroke="#660d25" d="M69 0h1M67 3h1M76 4h1M50 6h1M70 7h1M59 8h1M46 11h1M32 17h1M50 17h1M50 18h1M39 20h1M41 21h1M58 22h1M31 28h1M33 30h1M5 31h1M22 31h1M33 33h1M22 34h1M2 35h1M32 35h1M14 36h1M34 36h2M35 37h1M16 38h1M24 38h1M35 38h1M39 38h1M34 40h1M20 41h2M38 42h1M33 43h1M95 43h1M16 44h1M12 45h1M27 45h1M31 45h1M40 47h1M92 48h1M42 49h1M24 50h1M46 50h2M82 50h1M17 51h1M52 51h1M21 52h1M43 52h1M45 52h1M60 52h1M70 52h1M94 52h1M35 53h1M55 53h1M1 54h1M56 54h1M38 55h1M70 55h1M32 57h1M36 57h1M56 57h1M25 60h1M33 61h1M24 62h1M56 62h1M56 65h1M29 66h1M70 67h2M0 68h1M27 70h1M60 70h1M83 74h1M58 78h1M56 80h2M51 81h1M73 85h1M74 87h1M18 89h1M16 90h1M75 93h1M72 96h1"/></g></g><rect x="0" y="0" width="879.9" height="872.8" fill="none" stroke="#222" stroke-width="2"/><path d="M-7.3 139.7H0M-7.3 286.5H0M-7.3 433.3H0M-7.3 580.2H0M-7.3 727.0H0M145.4 872.8v6.8M292.2 872.8v6.8M439.0 872.8v6.8M585.8 872.8v6.8M732.6 872.8v6.8" stroke="#444" stroke-width="1.3" fill="none"/><text x="-11.3" y="157.3" font-size="49" text-anchor="end">40°N</text><text x="-11.3" y="304.1" font-size="49" text-anchor="end">20°N</text><text x="-11.3" y="450.9" font-size="49" text-anchor="end">0°N</text><text x="-11.3" y="597.8" font-size="49" text-anchor="end">-20°N</text><text x="-11.3" y="744.6" font-size="49" text-anchor="end">-40°N</text><text x="145.4" y="919.6" font-size="48.2" text-anchor="middle">100°E</text><text x="292.2" y="919.6" font-size="48.2" text-anchor="middle">120°E</text><text x="439.0" y="919.6" font-size="48.2" text-anchor="middle">140°E</text><text x="585.8" y="919.6" font-size="48.2" text-anchor="middle">160°E</text><text x="732.6" y="919.6" font-size="48.2" text-anchor="middle">180°E</text></g><g transform="translate(1375.9 1432.8)"><g clip-path="url(#pc)"><rect width="879.9" height="872.8" fill="#9c9696"/><path d="M145.4 0V872.8M292.2 0V872.8M439.0 0V872.8M585.8 0V872.8M732.6 0V872.8M0 139.7H879.9M0 286.5H879.9M0 433.3H879.9M0 580.2H879.9M0 727.0H879.9" stroke="#111" stroke-width="1.5" fill="none"/><path d="M-16.1 -14.5 451.5 -14.5 451.5 0.2 439.7 11.2 428.0 16.4 417.0 23.7 404.5 29.6 406.7 32.5 418.5 36.9 422.9 39.9 437.5 35.5 447.8 42.1 449.3 50.1 447.1 53.8 442.7 66.3 441.2 77.3 428.0 88.3 413.3 103.0 406.0 108.1 391.3 117.7 382.5 116.2 378.8 115.5 372.2 121.3 370.0 122.8 363.4 128.7 363.4 133.8 353.1 139.7 347.3 141.9 346.5 145.6 353.1 150.0 361.2 161.0 361.9 169.1 359.7 174.9 354.6 177.1 347.3 179.3 339.2 180.8 339.2 172.7 340.6 163.2 337.7 156.6 330.4 155.8 327.4 153.6 330.4 149.2 331.1 144.1 324.5 140.4 314.2 142.6 303.9 147.0 301.7 143.4 308.4 136.0 305.4 133.1 299.5 133.8 289.3 140.4 284.1 145.6 276.1 146.3 274.6 150.7 283.4 155.1 286.3 160.3 294.4 157.3 303.2 158.1 311.3 159.5 310.6 162.5 299.5 165.4 294.4 169.1 287.1 175.7 294.4 181.5 298.8 191.1 305.4 199.2 306.2 206.5 298.8 210.9 306.9 213.8 303.9 225.6 296.6 232.9 290.0 242.5 284.9 248.3 278.3 254.2 270.2 260.8 262.8 265.2 253.3 267.4 248.2 269.6 244.5 270.4 239.4 273.3 231.3 274.8 224.7 277.0 221.7 283.6 218.1 283.6 216.6 276.2 208.5 274.0 204.1 275.5 195.3 280.6 193.1 285.8 187.2 293.9 193.1 303.4 198.3 309.3 206.3 315.9 210.7 321.8 213.7 334.2 213.7 343.8 211.5 349.7 204.1 354.1 196.8 357.0 194.6 362.1 184.3 369.5 180.6 368.7 182.1 359.9 177.7 357.0 171.8 356.3 167.4 350.4 163.0 344.5 156.4 340.1 152.0 335.0 147.6 334.2 145.4 339.4 143.9 348.9 140.3 356.3 139.5 365.1 145.4 370.9 149.1 379.7 156.4 383.4 162.3 387.8 168.9 395.2 171.1 402.5 170.4 412.1 176.2 422.3 171.1 423.8 164.5 418.7 155.7 412.8 151.3 404.7 148.3 395.2 147.6 387.1 143.2 382.7 140.3 377.5 135.1 373.1 132.9 367.3 135.1 357.7 135.9 347.4 135.1 337.9 131.5 330.6 129.3 319.6 127.8 312.2 122.7 308.5 117.5 312.2 111.6 317.4 105.8 316.6 103.6 309.3 105.0 301.2 99.2 291.7 94.8 286.5 88.9 279.9 85.2 270.4 77.9 269.6 73.5 272.6 66.1 273.3 58.8 274.0 50.7 276.2 48.5 282.8 44.8 287.3 36.8 290.2 29.4 296.8 22.8 304.1 15.5 311.5 8.1 314.4 5.2 318.1 0.1 321.8 -0.7 330.6 0.8 337.9 0.1 345.2 -2.9 352.6 -2.9 357.7 -16.1 357.7ZM0.1 361.4 7.4 370.2 11.8 378.3 11.1 385.6 5.9 388.6 0.1 389.3 -2.9 382.0 -2.9 370.9 -1.4 363.6ZM209.3 291.7 213.7 286.5 222.5 285.8 226.1 289.5 222.5 295.3 216.6 299.7 209.3 297.5ZM299.5 248.3 306.2 249.8 303.9 257.2 301.0 266.0 298.1 272.6 293.7 266.7 292.9 260.8 296.6 253.5ZM363.4 188.9 372.2 184.5 378.1 186.7 379.6 192.6 375.9 202.8 370.7 205.8 367.1 202.8 367.1 196.2 363.4 192.6ZM384.0 184.5 396.4 181.5 400.1 185.2 396.4 188.9 389.1 191.1 384.7 192.6 382.5 188.1ZM372.2 183.7 375.9 180.8 384.7 173.5 391.3 172.7 403.8 171.3 409.6 167.6 415.5 161.7 419.2 158.1 417.7 163.2 428.0 158.8 434.6 152.9 438.3 143.4 439.0 136.0 441.2 130.9 449.3 129.4 450.0 136.0 453.7 142.6 450.0 152.2 446.3 155.8 446.3 163.2 443.4 167.6 444.9 171.3 441.9 174.9 437.5 177.1 436.8 173.5 433.1 174.2 430.2 178.6 425.8 179.3 417.0 179.3 416.3 181.5 411.8 184.5 408.2 187.4 403.0 184.5 403.8 181.5 405.2 178.6 397.2 178.6 387.6 181.5 381.8 184.5 372.9 184.5ZM441.2 128.7 439.0 122.8 437.5 120.6 441.9 115.5 449.3 115.5 451.5 106.7 452.2 100.1 457.4 103.0 466.9 108.9 477.9 108.1 477.9 115.5 470.6 118.4 463.2 125.0 453.7 121.3 446.3 122.1 442.7 121.3 447.1 126.5ZM453.7 34.7 459.6 34.7 462.5 44.3 463.2 55.3 466.9 66.3 472.8 73.6 473.5 76.6 461.0 71.4 458.1 83.2 464.7 89.8 464.0 93.5 458.1 91.2 453.7 95.7 453.0 88.3 453.7 82.4 454.4 73.6 454.4 58.9 451.5 47.9 453.0 40.6ZM561.6 -14.5 563.1 7.6 553.5 14.9 556.4 29.6 553.5 44.3 560.8 57.5 573.3 47.9 585.8 36.9 599.0 29.6 602.0 20.8 610.0 20.8 607.8 9.0 604.2 3.9 611.5 -3.5 615.2 -14.5ZM110.9 392.2 127.1 395.2 135.9 405.4 148.3 417.2 157.9 420.9 171.1 433.3 173.3 440.7 179.2 447.3 189.4 455.4 188.7 466.4 188.0 475.9 179.2 475.9 171.1 469.3 162.3 462.7 152.7 451.7 147.6 440.7 138.8 431.1 135.1 420.9 124.9 409.8 116.0 402.5ZM183.6 483.3 190.2 476.7 206.3 481.1 222.5 484.0 226.1 480.3 238.6 484.7 251.1 490.6 251.1 496.5 238.6 495.0 218.8 492.8 204.1 490.6 192.4 487.7ZM211.5 422.3 215.9 418.7 227.6 422.3 228.3 415.0 240.8 409.8 248.2 400.3 259.2 393.0 268.7 382.0 275.3 387.1 286.3 395.2 279.0 400.3 275.3 407.6 277.5 417.2 284.9 426.0 276.8 427.5 273.9 439.2 266.5 444.4 266.5 455.4 262.8 461.2 253.3 463.4 244.5 457.6 232.0 459.0 220.3 454.6 218.8 444.4 212.9 437.0 211.5 429.7ZM290.7 427.5 298.8 423.8 314.2 426.7 327.4 421.6 330.4 423.1 323.8 430.4 314.2 429.7 298.8 429.7 292.9 434.8 292.9 439.9 301.0 440.7 316.4 439.9 317.2 441.4 305.4 447.3 309.1 457.6 313.5 464.9 315.0 472.2 306.9 467.8 303.2 467.8 299.5 459.0 298.8 453.2 294.4 455.4 295.1 468.6 295.1 473.7 288.5 473.7 288.5 459.0 283.4 453.9 286.3 444.4 290.7 434.1ZM372.9 439.2 384.0 436.3 395.0 439.2 396.4 451.7 402.3 457.6 413.3 449.5 424.3 445.1 446.3 452.4 461.0 458.3 472.0 461.2 481.6 470.0 494.1 477.4 496.3 482.5 490.4 483.3 497.7 492.1 508.7 499.4 518.3 508.2 512.4 511.2 497.7 507.5 486.7 497.9 475.7 490.6 464.7 493.5 461.0 500.9 446.3 500.1 435.3 492.1 424.3 495.0 422.1 488.4 429.5 484.7 424.3 473.7 406.0 465.6 391.3 461.2 386.2 462.7 386.9 455.4 394.2 450.2 380.3 453.9 380.3 449.5 374.4 444.4ZM317.9 509.0 321.6 501.6 328.9 496.5 343.6 494.3 345.8 495.7 332.6 503.1 323.8 508.2ZM251.8 492.8 262.8 493.5 284.9 493.5 299.5 494.3 314.2 493.5 314.2 497.9 299.5 498.7 284.9 498.7 266.5 499.4 255.5 497.9ZM284.9 502.3 293.7 502.3 298.1 507.5 292.2 509.0ZM347.3 420.1 350.9 417.2 356.1 424.5 350.9 428.9 356.8 431.1 352.4 439.2 349.5 431.9 346.5 426.7ZM350.9 454.6 371.5 455.4 371.5 460.5 350.9 459.0ZM336.2 456.1 345.1 456.8 345.1 461.2 337.0 461.2ZM296.6 297.5 308.4 297.5 310.6 308.5 303.2 317.4 303.9 329.1 312.0 328.4 321.6 332.0 321.6 340.8 314.2 337.9 310.6 334.2 304.7 331.3 296.6 332.0 296.6 325.4 292.2 319.6 291.5 313.7 295.1 304.9ZM306.9 382.0 316.4 378.3 320.1 370.9 331.8 361.4 338.4 370.9 340.6 379.7 337.7 387.1 332.6 392.2 331.8 383.4 323.0 387.1 317.9 379.0 308.4 384.9ZM323.8 341.6 331.1 341.6 334.8 352.6 330.4 359.9 326.7 358.5 324.5 350.4ZM306.9 346.7 315.7 351.1 321.6 352.6 318.6 362.9 314.2 366.5 310.6 362.9 306.9 356.3ZM271.7 371.7 279.7 365.8 288.5 355.5 289.3 350.4 286.3 352.6 277.5 361.4 271.7 368.7ZM295.1 335.0 303.2 336.4 301.0 343.0 298.1 341.6ZM248.9 593.4 252.6 593.4 268.0 584.6 284.9 580.2 299.5 577.2 309.1 566.2 308.4 558.1 318.6 561.1 318.6 552.3 325.2 545.7 334.8 538.3 342.9 534.6 350.9 542.0 353.1 543.5 362.7 542.7 361.9 532.4 367.8 527.3 371.5 524.4 384.0 522.2 384.7 517.0 391.3 520.0 402.3 522.9 415.5 522.9 414.0 530.2 408.9 534.6 405.2 542.7 414.8 550.1 422.1 553.0 433.9 561.1 442.7 562.5 449.3 551.5 451.5 539.8 450.7 528.0 454.4 514.1 458.1 511.9 464.7 527.3 466.9 539.0 477.9 543.5 478.6 554.5 483.8 565.5 490.4 575.0 503.6 583.1 510.2 597.0 518.3 605.9 533.7 619.1 535.9 631.5 538.8 643.3 535.2 657.2 530.8 671.9 521.9 681.5 518.3 690.3 513.1 701.3 511.7 708.6 497.7 711.6 486.7 718.2 485.2 720.4 475.7 714.5 472.0 713.0 464.7 718.2 450.7 714.5 441.2 710.8 436.8 701.3 431.7 695.4 425.1 694.7 428.0 688.8 423.6 679.3 422.9 672.7 417.0 680.7 409.6 688.8 406.7 688.8 400.1 677.1 395.0 672.7 384.0 668.3 372.9 664.6 358.3 666.0 343.6 669.7 332.6 672.7 321.6 675.6 317.9 682.2 306.9 682.2 292.2 682.2 284.9 685.9 277.5 690.3 266.5 690.3 257.0 685.9 255.5 680.0 260.6 677.8 260.6 666.8 255.5 655.0 252.6 643.3 245.2 628.6 243.8 620.5 244.5 611.7 246.0 602.2ZM473.5 732.1 483.0 735.1 499.9 733.6 499.9 743.1 494.1 750.5 486.7 753.4 479.4 748.3 477.2 743.1 473.5 735.8ZM679.0 685.9 683.4 690.3 690.8 692.5 694.4 703.5 702.5 708.6 712.1 711.6 721.6 710.1 717.9 721.1 710.6 723.3 709.9 730.6 698.1 738.7 693.7 736.5 696.6 728.4 693.0 725.5 687.1 721.8 693.7 717.4 693.7 708.6 690.0 701.3 681.2 691.7ZM679.0 730.6 690.8 735.8 690.0 741.7 681.2 749.0 679.8 754.9 668.7 758.5 665.1 770.3 655.5 775.4 646.7 775.4 634.2 771.0 637.2 763.7 646.7 756.3 659.2 749.0 668.7 741.7 674.6 733.6ZM615.2 580.9 626.2 587.5 637.2 596.3 633.5 597.8 622.5 591.9 615.2 584.6ZM499.9 474.4 510.9 473.7 521.9 469.3 528.6 464.2 529.3 470.0 519.7 475.9 508.7 479.6 500.7 477.4ZM518.3 452.4 527.1 456.8 534.4 465.6 533.0 468.6 525.6 459.8 517.5 454.6ZM546.2 473.7 552.0 476.7 555.7 483.3 551.3 482.5 546.9 477.4Z" fill="#c3bfbe" stroke="#222" stroke-width="1" stroke-linejoin="round"/><path d="M55.9 72.2 72.0 66.3 88.9 60.4 108.7 66.3 125.6 67.8 132.9 61.9 132.2 55.3 143.9 51.6 161.6 56.7 167.4 64.1 185.0 63.4 198.3 67.8 207.8 71.4 226.1 71.4 246.7 65.6 264.3 67.0 259.2 80.2 275.3 83.2 287.1 83.9 291.5 89.8 275.3 92.0 264.3 97.9 248.2 100.1 232.0 103.0 232.0 111.1 218.8 119.9 200.5 122.1 182.1 127.2 160.1 122.8 141.7 120.6 119.7 119.1 110.9 108.9 96.2 103.0 77.9 100.1 76.4 91.2 72.0 82.4 57.3 76.6 55.9 72.2M0.0 57.5 13.3 60.4 24.3 58.9 35.3 66.3 55.9 72.2M55.9 72.2 42.6 78.8 39.7 86.8 22.1 86.8 17.0 97.9 13.3 100.8 0.0 103.0M264.3 67.0 277.5 69.2 286.3 64.1 293.7 51.6 298.1 42.1 317.9 40.6 332.6 44.3 343.6 55.3 348.0 67.8 365.6 75.1 372.9 83.2 387.6 80.2 402.3 78.0 399.4 85.4 391.3 99.3 378.8 101.5 374.4 110.3 374.4 117.7 370.0 122.1M370.0 122.1 364.1 118.4 350.9 125.0 342.1 127.2 332.6 133.8 324.5 140.4M337.7 155.8 345.1 152.2 353.9 150.0M0.0 221.9 5.9 211.6 0.0 209.4M5.9 211.6 14.8 213.1 28.0 221.2 42.6 227.8 58.1 228.5M0.0 222.7 9.6 228.5 22.8 232.9 35.3 237.3 47.8 238.8 58.1 239.5 58.1 228.5M58.1 228.5 63.9 232.9 69.1 226.3 83.0 227.8 87.4 235.9 75.7 236.6 64.7 237.3 63.9 232.9M87.4 235.9 88.9 229.3 101.4 220.5 116.0 217.5 125.6 225.6M58.1 239.5 61.0 246.9 58.1 252.8 63.2 263.0 64.7 271.1 65.4 273.3M61.0 246.9 70.5 243.2 71.3 248.3 89.6 249.8 88.2 255.0 80.8 260.1 82.3 265.2 86.0 260.1 91.1 272.6 88.9 279.9M91.1 272.6 95.5 269.6 97.0 257.9 105.8 248.3 110.2 238.1 123.4 233.7 125.6 225.6M125.6 225.6 135.9 231.5 135.9 243.9 127.8 254.2 137.3 257.2 138.8 270.4 146.9 275.5 154.2 275.5M146.1 283.6 137.3 288.7 129.3 297.5 127.8 304.9 135.1 314.4 132.2 321.8 139.5 334.2 142.5 346.7 136.6 357.0 135.9 359.2M146.1 283.6 154.2 275.5 160.8 268.9 166.7 274.0 179.2 282.1 174.8 290.2 182.1 296.1 193.1 308.5 200.5 319.6 200.5 325.4M146.1 283.6 149.1 290.2 154.2 290.2 153.5 304.1 160.8 299.7 174.0 299.0 180.6 306.3 180.6 314.4 186.5 321.0 185.8 327.6 189.4 329.1 200.5 325.4M160.8 268.9 169.6 266.7 184.3 262.3 194.6 268.2 199.7 274.8 204.1 275.5M163.0 344.5 163.8 334.2 171.1 327.6 185.8 327.6M200.5 325.4 200.5 341.6 190.9 347.4 188.0 352.6 177.7 357.0M146.1 385.6 152.0 387.1 153.5 391.5 160.8 387.8M215.9 418.7 218.8 424.5 232.0 426.0 240.8 422.3 251.8 422.3 257.7 412.1 259.2 401.8 275.3 402.5M446.3 452.4 446.3 481.1 445.6 484.7 446.3 500.1M328.9 496.5 328.9 501.6" fill="none" stroke="#222" stroke-width="1" stroke-linejoin="round"/><g transform="translate(1.340 6.820) scale(8.8080)" stroke-width="1" fill="none" shape-rendering="crispEdges"><path stroke="#191c47" d="M73 0h1M73 1h2M76 2h2M78 5h1M62 6h1M84 7h2M85 8h1M51 10h1M67 13h1M88 13h1M92 13h1M45 14h1M62 14h1M90 14h1M93 14h1M92 15h2M39 16h1M93 16h1M93 17h2M95 18h1M95 19h2M96 21h1M96 22h1M98 24h1M98 25h1M97 26h1M98 27h1M98 29h1M6 31h3M4 32h5M100 32h1M9 33h1M29 33h1M98 33h1M6 35h1M100 36h1M1 38h1M5 38h1M100 38h1M33 39h1M35 39h1M-1 45h1M17 46h1M19 46h1M-1 47h1M14 47h1M23 48h1M43 51h1M-1 53h1M57 53h1M27 54h1M-1 57h1M1 58h1M100 58h1M98 60h1M100 61h1M49 63h1M99 63h2M57 64h1M98 64h1M0 66h1M1 67h1M98 68h1M2 69h1M1 70h1M99 70h1M1 71h1M2 72h1M98 73h1M3 74h1M6 74h1M96 74h1M32 77h1M96 77h1M4 78h1M6 78h1M93 78h1M5 80h2M92 80h1M6 81h2M7 82h1M89 82h1M56 83h1M93 83h1M90 84h1M90 85h1M9 86h1M14 86h2M69 86h1M11 88h1M14 89h1M14 90h1M84 90h1M16 91h1M19 91h1M21 91h1M83 91h1M19 92h1M24 92h1M81 92h1M21 93h1M78 93h1M29 94h1M76 94h1M23 95h1M27 95h1M34 97h1M43 97h1M49 97h1M73 97h1M31 98h1M33 98h1M36 98h1M57 98h1M66 98h1M70 98h1M37 99h2M48 99h1M57 99h1M63 99h1"/><path stroke="#1b2051" d="M62 2h1M86 9h1M92 14h1M91 16h1M100 35h1M2 37h1M13 90h1"/><path stroke="#1d235b" d="M57 8h1M61 9h1M87 9h1M92 16h1M2 36h1M100 40h1M97 61h1M8 84h1M23 90h1"/><path stroke="#1f2866" d="M55 2h1M77 8h1M91 15h1M96 20h1M97 29h1M98 30h1M29 31h1M98 31h1M98 32h2M7 36h1M99 37h2M23 40h1M88 43h1M96 48h1M79 53h1M4 60h1M-1 63h1M4 77h1M9 84h1M10 85h1M20 94h1"/><path stroke="#202d73" d="M65 5h1M88 9h1M89 11h1M84 13h1M91 14h1M94 19h1M97 28h1M99 29h1M8 30h1M31 31h1M6 33h1M100 34h1M4 36h1M27 37h1M3 38h1M99 40h1M84 42h1M5 43h1M98 43h1M87 53h1M92 53h1M97 56h1M9 57h1M22 57h1M38 57h1M3 59h1M5 59h1M1 60h1M31 60h1M1 61h1M60 61h1M60 63h1M96 64h1M2 74h1M6 82h1M8 82h1"/><path stroke="#22327f" d="M50 7h1M90 11h1M94 20h2M95 21h1M97 30h1M99 30h1M30 31h1M99 33h1M1 35h1M99 36h1M94 40h1M11 41h1M3 42h1M81 42h2M4 56h1M3 57h1M23 57h1M0 58h1M32 58h1M43 58h1M97 58h1M17 59h1M26 59h1M40 60h1M66 60h1M33 62h1M95 62h1M3 63h1M99 64h1M7 65h1M63 65h1M76 65h1M94 65h1M98 70h1M3 75h1M5 77h1M9 85h1M12 89h1M33 90h1"/><path stroke="#23378c" d="M75 1h1M57 3h1M74 4h1M60 6h1M63 6h1M83 6h1M61 7h1M77 7h1M62 8h1M60 10h1M88 10h1M51 11h1M62 11h1M88 12h1M90 12h2M91 13h1M74 15h1M89 15h1M88 16h1M94 16h1M42 21h1M97 22h1M64 26h1M98 26h1M99 27h1M5 31h1M93 31h1M99 31h1M9 32h1M97 32h1M100 33h1M2 34h1M11 36h1M4 37h1M94 37h1M0 38h1M35 38h2M8 39h1M14 39h1M100 39h1M19 40h1M-1 41h1M7 41h1M83 41h1M34 42h1M80 43h2M84 43h1M100 43h1M3 46h1M98 46h1M76 49h1M99 50h1M14 52h1M100 52h1M93 53h1M95 53h1M96 54h1M37 55h1M100 55h1M20 56h1M94 56h1M0 57h1M2 57h1M83 57h1M30 58h1M63 58h1M37 59h1M0 60h1M10 60h1M14 60h1M35 60h1M37 60h1M64 60h1M69 60h1M75 60h1M79 60h1M-1 61h1M2 61h2M16 61h1M30 61h2M0 62h1M7 62h2M18 62h1M9 63h1M0 64h2M33 64h1M72 64h1M97 64h1M23 65h1M31 65h1M73 65h1M61 66h1M63 66h1M79 66h1M67 67h1M71 67h1M88 68h1M97 68h1M80 69h1M98 69h1M95 72h1M98 72h1M81 73h1M4 75h1M41 75h1M7 76h1M6 77h1M92 77h1M95 77h1M5 78h1M5 79h1M94 80h1M8 81h1M7 83h2M13 85h1M10 87h2M87 88h1M33 89h1M82 91h1M21 92h1M22 94h1M30 96h1M40 98h1M36 99h1M46 99h1M64 99h2"/><path stroke="#243c99" d="M71 3h1M56 5h1M85 6h1M50 10h1M65 11h1M57 12h1M89 12h1M90 13h1M90 16h1M91 18h1M97 23h1M95 24h1M97 27h1M99 28h1M96 29h1M9 31h1M97 31h1M90 32h1M99 34h1M98 36h1M11 39h1M85 39h1M5 40h1M83 40h1M88 40h1M23 41h1M80 42h1M97 42h1M79 43h1M76 44h1M83 44h1M78 46h1M10 47h1M85 51h2M86 52h1M95 52h1M91 53h1M96 53h1M98 53h1M99 54h1M43 55h1M99 55h1M0 56h1M22 56h1M72 56h1M4 57h1M44 57h1M96 57h3M100 57h1M13 58h1M18 58h1M21 58h1M35 58h1M53 58h2M72 58h3M2 59h1M14 59h1M22 59h1M31 59h1M3 60h1M6 60h2M15 60h1M19 60h2M33 60h1M49 60h1M58 60h1M62 60h1M65 60h1M4 61h1M7 61h1M18 61h1M35 61h1M59 61h1M65 61h1M89 61h1M95 61h1M6 62h1M19 62h2M32 62h1M50 62h1M64 62h2M68 62h1M81 62h1M88 62h1M94 62h1M1 63h1M4 63h1M12 63h1M19 63h2M25 63h1M27 63h1M29 63h1M32 63h1M56 63h2M61 63h1M70 63h1M77 63h1M79 63h1M86 63h1M98 63h1M12 64h1M20 64h1M28 64h1M56 64h1M64 64h1M100 64h1M2 65h1M22 65h1M25 65h2M29 65h1M32 65h1M59 65h1M61 65h1M74 65h1M99 65h2M3 66h1M21 66h1M84 66h1M13 67h1M25 67h1M59 67h2M62 67h1M66 67h1M68 67h1M81 67h1M93 67h3M98 67h1M65 70h1M68 70h1M74 71h1M85 71h1M87 71h1M94 71h1M89 72h1M78 73h1M73 74h1M88 74h1M4 76h1M7 79h1M10 86h1M12 86h1M12 88h1M25 89h1"/><path stroke="#2641a4" d="M56 4h1M79 5h1M56 7h1M71 7h1M76 7h1M55 9h1M66 10h1M66 11h1M62 13h1M65 13h1M89 13h1M87 14h3M84 15h1M90 15h1M84 16h1M92 17h1M93 18h1M93 20h1M93 21h1M31 30h1M96 31h1M89 32h1M92 32h1M5 33h1M8 33h1M30 33h1M75 33h1M25 34h1M88 34h1M93 34h1M98 34h1M32 35h1M78 35h1M99 35h1M31 36h1M74 36h1M88 36h1M93 36h1M87 37h1M6 38h1M95 38h1M99 38h1M93 39h1M95 39h1M26 40h2M29 40h1M77 40h1M91 41h1M79 42h1M83 42h1M95 42h1M85 43h1M90 43h1M99 43h1M1 44h1M65 45h1M84 45h1M97 45h1M20 46h1M88 46h1M66 47h1M7 48h1M2 50h1M97 50h1M51 51h1M67 51h1M82 51h1M87 51h1M96 51h1M63 52h1M65 52h1M72 52h1M75 52h1M88 52h1M94 52h1M5 53h1M10 53h1M56 53h1M68 54h1M76 54h1M95 54h1M98 54h1M-1 55h1M2 55h1M72 55h1M85 55h1M96 55h1M9 56h1M14 56h1M34 56h1M40 56h1M58 56h1M69 56h1M84 56h1M87 56h1M91 56h1M93 56h1M12 57h1M25 57h1M32 57h1M36 57h1M40 57h1M65 57h1M73 57h1M82 57h1M3 58h1M9 58h1M19 58h1M25 58h1M28 58h1M31 58h1M37 58h2M64 58h1M69 58h1M88 58h1M90 58h1M94 58h1M13 59h1M18 59h2M35 59h1M58 59h1M76 59h1M80 59h1M97 59h1M-1 60h1M2 60h1M21 60h1M30 60h1M67 60h1M73 60h1M83 60h1M94 60h3M99 60h1M0 61h1M9 61h1M11 61h1M13 61h1M15 61h1M17 61h1M19 61h2M22 61h1M26 61h1M32 61h1M34 61h1M47 61h3M55 61h1M57 61h1M67 61h2M71 61h1M79 61h1M98 61h1M5 62h1M9 62h1M16 62h1M23 62h1M26 62h1M49 62h1M55 62h1M58 62h2M66 62h1M75 62h1M100 62h1M0 63h1M18 63h1M22 63h1M31 63h1M58 63h1M63 63h1M67 63h1M71 63h1M76 63h1M81 63h1M91 63h1M7 64h1M23 64h1M25 64h1M29 64h1M31 64h2M58 64h1M60 64h3M80 64h1M92 64h1M94 64h2M13 65h1M30 65h1M60 65h1M67 65h2M78 65h1M80 65h2M90 65h1M12 66h1M24 66h1M28 66h1M65 66h1M72 66h1M78 66h1M88 66h1M90 66h1M93 66h1M61 67h1M69 67h1M77 67h1M85 67h2M91 67h2M97 67h1M21 68h1M69 68h1M72 68h1M77 68h1M84 68h1M89 68h1M94 68h1M71 69h2M85 69h1M99 69h1M62 70h1M71 70h1M73 70h1M93 70h1M97 70h1M62 71h1M69 71h1M75 71h1M79 71h1M86 71h1M88 71h1M96 71h1M98 71h1M63 72h1M82 72h1M92 72h1M66 73h1M73 73h1M4 74h1M67 74h1M85 74h1M95 74h1M61 75h1M83 75h1M3 76h1M7 77h1M68 77h1M7 80h1M13 84h1M8 85h1M91 85h1M12 87h1M14 88h1M16 89h1M39 90h1"/><path stroke="#2947ad" d="M71 0h1M76 1h1M65 8h1M63 9h1M55 10h1M58 10h1M61 10h2M67 10h1M83 10h1M46 11h1M63 11h1M56 12h1M58 12h1M60 12h1M80 12h1M86 12h1M43 13h1M57 13h2M55 14h2M61 14h1M81 14h1M72 15h1M77 15h1M83 15h1M54 16h1M70 16h1M82 16h1M85 16h1M57 17h1M73 17h1M89 17h3M92 18h1M94 18h1M40 19h1M54 19h1M39 20h1M94 21h1M34 22h1M93 22h1M97 24h1M95 26h1M96 27h1M95 28h1M37 29h1M77 29h1M28 30h1M32 30h1M90 30h1M32 31h1M35 31h1M79 31h1M90 31h1M94 31h1M100 31h1M23 32h1M30 32h1M77 32h1M79 32h1M7 33h1M32 33h1M78 33h1M8 34h1M32 34h1M83 34h1M85 34h1M91 34h1M30 35h1M77 35h1M79 35h1M84 35h1M90 35h1M93 35h1M96 35h2M6 36h1M9 36h1M13 36h1M26 36h1M29 36h1M78 36h1M90 36h1M92 36h1M13 37h1M91 37h1M81 38h1M83 38h1M96 38h1M98 38h1M28 39h1M79 39h2M83 39h1M88 39h2M0 40h1M25 40h1M74 40h1M78 40h1M80 40h1M92 40h1M5 41h1M82 41h1M85 41h1M87 41h1M92 41h2M29 42h1M71 42h1M89 42h1M92 42h1M10 43h1M69 43h1M83 43h1M87 43h1M5 44h1M39 44h1M50 44h1M68 44h2M77 44h1M25 45h1M70 45h2M75 45h1M71 46h1M96 46h1M7 47h1M12 47h1M60 47h1M64 47h1M68 47h1M83 47h1M95 47h1M66 48h1M70 48h2M95 48h1M67 49h1M72 49h2M86 49h1M89 49h1M92 49h1M94 49h1M61 50h1M66 50h1M71 50h1M81 50h3M91 51h1M89 52h3M93 52h1M75 53h1M57 54h1M72 54h1M81 54h1M83 54h1M97 54h1M100 54h1M7 55h1M15 55h1M32 55h1M36 55h1M58 55h1M94 55h2M7 56h1M19 56h1M28 56h1M30 56h1M35 56h1M52 56h1M68 56h1M73 56h1M75 56h1M95 56h2M13 57h1M17 57h1M21 57h1M29 57h1M31 57h1M35 57h1M39 57h1M49 57h1M74 57h1M89 57h1M95 57h1M4 58h1M6 58h1M14 58h1M17 58h1M20 58h1M26 58h1M49 58h2M57 58h1M62 58h1M68 58h1M75 58h1M7 59h1M20 59h1M27 59h2M30 59h1M33 59h1M40 59h1M47 59h2M54 59h1M59 59h5M68 59h1M85 59h1M98 59h1M12 60h1M18 60h1M23 60h1M28 60h2M53 60h3M61 60h1M72 60h1M88 60h1M8 61h1M10 61h1M64 61h1M69 61h1M73 61h1M75 61h1M81 61h1M94 61h1M96 61h1M99 61h1M1 62h1M3 62h1M10 62h2M14 62h1M21 62h1M30 62h1M48 62h1M54 62h1M56 62h2M61 62h1M67 62h1M79 62h2M83 62h1M90 62h1M6 63h1M14 63h1M16 63h2M21 63h1M23 63h1M34 63h1M72 63h1M78 63h1M80 63h1M97 63h1M9 64h1M14 64h1M17 64h1M21 64h2M59 64h1M67 64h1M69 64h3M75 64h3M82 64h1M90 64h1M6 65h1M11 65h1M15 65h1M18 65h3M28 65h1M58 65h1M62 65h1M65 65h1M71 65h1M77 65h1M82 65h1M96 65h1M9 66h1M26 66h2M58 66h3M76 66h2M81 66h1M96 66h1M16 67h1M27 67h1M58 67h1M63 67h1M78 67h1M83 67h1M96 67h1M0 68h1M71 68h1M73 68h1M76 68h1M78 68h1M81 68h2M93 68h1M96 68h1M99 68h1M67 69h1M75 69h1M77 69h1M82 69h1M84 69h1M91 69h1M93 69h1M22 70h1M69 70h1M74 70h1M77 70h1M81 70h1M83 70h2M90 70h1M64 71h2M71 71h2M76 71h1M78 71h1M81 71h1M83 71h2M97 71h1M61 72h1M86 72h1M74 73h1M84 73h1M88 73h1M68 75h1M72 75h1M81 75h1M87 75h1M94 75h1M66 76h1M94 76h1M83 78h1M6 79h1M50 81h1M9 82h1M13 82h1M11 85h1M86 89h1M15 90h1M21 90h2M44 91h1M48 91h1M18 92h1M49 94h1M69 95h1M24 96h1M27 97h1M35 99h1"/><path stroke="#3f5bb4" d="M76 3h1M54 4h1M78 4h1M58 5h1M63 8h1M49 9h2M53 9h1M64 9h1M50 11h1M56 11h1M59 12h1M65 12h1M60 13h1M51 14h2M57 14h2M67 14h1M84 14h1M40 15h1M58 15h1M68 15h1M70 15h1M78 15h1M49 16h1M56 16h1M58 16h1M68 16h1M79 16h2M83 16h1M87 16h1M89 16h1M71 17h1M85 17h1M88 17h1M41 19h1M93 19h1M40 20h1M46 20h1M48 20h1M45 21h1M42 22h1M94 22h1M44 23h1M56 23h1M95 23h1M35 24h1M39 24h1M96 24h1M43 25h1M34 26h1M44 26h1M96 26h1M35 27h1M36 28h1M80 28h1M96 28h1M76 29h1M95 29h1M82 30h1M37 31h1M57 31h1M73 31h1M75 32h1M83 32h2M87 32h1M95 32h1M74 33h1M76 33h1M81 33h1M93 33h1M5 34h2M10 34h1M72 34h1M76 34h1M84 34h1M87 34h1M94 34h1M96 34h1M8 35h1M76 35h1M82 35h2M85 35h1M94 35h2M3 36h1M28 36h1M65 36h1M70 36h1M75 36h1M79 36h1M83 36h2M87 36h1M89 36h1M97 36h1M28 37h1M65 37h2M72 37h2M75 37h1M77 37h1M79 37h1M81 37h1M83 37h1M96 37h1M29 38h1M60 38h1M71 38h1M77 38h2M87 38h3M91 38h1M94 38h1M97 38h1M3 39h1M70 39h1M73 39h1M82 39h1M91 39h1M96 39h1M98 39h1M76 40h1M81 40h2M85 40h2M90 40h2M95 40h1M4 41h1M25 41h1M28 41h1M77 41h3M81 41h1M86 41h1M88 41h2M2 42h1M64 42h1M68 42h1M70 42h1M74 42h2M86 42h1M90 42h1M40 43h1M47 43h1M53 43h1M70 43h1M72 43h1M97 43h1M49 44h1M75 44h1M84 44h1M4 45h1M62 45h1M66 45h1M76 45h2M86 45h1M4 46h1M49 46h1M52 46h1M69 46h1M73 46h1M89 46h1M94 46h1M11 47h1M43 47h1M50 47h1M65 47h1M72 47h1M87 47h1M91 47h1M93 47h1M3 48h1M37 48h1M52 48h1M67 48h1M69 48h1M72 48h1M0 49h1M7 49h1M48 49h1M59 49h2M63 49h1M66 49h1M74 49h1M88 49h1M93 49h1M59 50h1M62 50h2M68 50h1M74 50h1M92 50h1M59 51h2M62 51h1M69 51h1M93 51h1M97 51h1M100 51h1M12 52h1M69 52h2M78 52h1M92 52h1M98 52h1M55 53h1M63 53h3M78 53h1M84 53h1M20 54h1M56 54h1M59 54h1M61 54h2M69 54h1M75 54h1M77 54h1M79 54h1M84 54h1M89 54h1M94 54h1M40 55h1M60 55h2M63 55h1M65 55h1M73 55h1M80 55h1M86 55h1M91 55h2M97 55h2M1 56h1M5 56h1M8 56h1M26 56h1M32 56h1M36 56h1M41 56h1M50 56h1M60 56h1M67 56h1M76 56h1M79 56h1M88 56h1M100 56h1M5 57h2M8 57h1M18 57h2M27 57h1M30 57h1M42 57h1M53 57h1M69 57h1M84 57h1M92 57h1M7 58h2M10 58h1M12 58h1M27 58h1M55 58h2M61 58h1M77 58h1M79 58h1M81 58h1M83 58h2M86 58h1M89 58h1M98 58h1M-1 59h1M11 59h1M15 59h1M21 59h1M24 59h2M32 59h1M38 59h1M49 59h2M56 59h1M75 59h1M77 59h1M82 59h1M5 60h1M16 60h1M25 60h3M32 60h1M36 60h1M47 60h1M50 60h1M57 60h1M59 60h2M70 60h2M77 60h1M81 60h2M85 60h1M92 60h1M100 60h1M5 61h2M14 61h1M21 61h1M23 61h2M28 61h2M33 61h1M36 61h1M50 61h1M54 61h1M56 61h1M61 61h2M70 61h1M77 61h1M82 61h1M2 62h1M4 62h1M17 62h1M27 62h1M31 62h1M35 62h1M62 62h1M71 62h1M82 62h1M86 62h1M91 62h1M5 63h1M7 63h1M10 63h1M26 63h1M30 63h1M55 63h1M65 63h1M69 63h1M75 63h1M85 63h1M94 63h1M3 64h2M13 64h1M16 64h1M24 64h1M55 64h1M68 64h1M74 64h1M83 64h1M85 64h1M87 64h2M91 64h1M0 65h2M3 65h1M21 65h1M56 65h2M66 65h1M69 65h1M72 65h1M75 65h1M88 65h2M92 65h1M95 65h1M97 65h1M2 66h1M11 66h1M15 66h2M19 66h1M66 66h1M74 66h1M82 66h2M89 66h1M24 67h1M64 67h2M72 67h4M79 67h2M82 67h1M88 67h2M23 68h1M26 68h1M59 68h3M64 68h1M68 68h1M70 68h1M74 68h2M83 68h1M85 68h1M90 68h1M60 69h1M63 69h2M68 69h1M76 69h1M79 69h1M88 69h1M95 69h1M97 69h1M61 70h1M70 70h1M72 70h1M78 70h2M86 70h2M92 70h1M68 71h1M70 71h1M73 71h1M89 71h1M95 71h1M62 72h1M69 72h1M72 72h1M76 72h1M81 72h1M83 72h2M88 72h1M90 72h1M61 73h1M63 73h1M70 73h1M76 73h1M86 73h1M91 73h1M94 73h1M64 74h3M79 74h1M84 74h1M8 75h1M62 75h3M88 75h1M92 75h1M62 76h1M64 76h1M82 76h1M92 76h1M61 77h1M63 77h1M65 77h1M69 77h1M8 78h2M59 78h1M95 78h1M92 79h2M95 79h1M8 80h2M10 81h1M51 81h1M62 81h1M10 82h1M10 83h1M19 84h1M12 85h1M18 85h1M39 85h1M13 86h1M46 86h1M88 87h1M88 88h1M13 89h1M27 89h1M46 89h1M24 90h1M40 90h1M15 91h1M22 91h1M26 91h1M35 91h1M54 91h1M58 91h1M81 91h1M37 93h1M77 94h1M35 95h1M73 95h1M26 96h1M29 97h1M44 98h1"/><path stroke="#4869b6" d="M63 0h1M72 2h1M74 2h1M62 3h1M57 4h1M81 4h1M81 5h1M83 7h1M86 8h1M66 9h1M78 9h1M57 10h1M64 10h1M89 10h1M58 11h1M68 11h1M69 12h2M45 13h1M55 13h1M76 13h1M82 13h1M85 13h1M87 13h1M44 14h1M48 14h1M53 14h2M65 14h1M72 14h2M80 14h1M83 14h1M86 14h1M41 15h1M46 15h1M49 15h1M55 15h3M60 15h1M62 15h1M69 15h1M71 15h1M76 15h1M79 15h1M82 15h1M85 15h3M41 16h1M43 16h3M53 16h1M60 16h1M66 16h1M69 16h1M71 16h1M73 16h1M81 16h1M56 17h1M67 17h2M76 17h1M79 17h3M84 17h1M86 17h1M45 18h1M55 18h3M64 18h1M76 18h3M82 18h1M90 18h1M43 19h2M56 19h1M71 19h1M76 19h1M76 20h1M92 20h1M43 21h1M63 21h1M67 21h1M41 22h1M55 22h1M67 22h1M40 23h1M42 23h1M77 23h1M36 24h1M43 24h1M63 24h1M36 25h1M45 25h1M40 26h1M42 26h1M45 26h1M89 26h1M94 26h1M79 27h1M82 27h1M90 27h1M45 28h1M51 28h1M94 28h1M98 28h1M75 29h1M78 29h1M82 29h1M86 29h1M94 29h1M46 30h1M74 30h1M76 30h1M79 30h1M85 30h1M92 30h2M65 31h1M71 31h1M75 31h1M77 31h1M81 31h1M84 31h1M88 31h2M95 31h1M21 32h1M28 32h1M76 32h1M78 32h1M86 32h1M93 32h1M4 33h1M36 33h2M67 33h1M79 33h2M82 33h1M84 33h1M89 33h3M94 33h1M97 33h1M4 34h1M40 34h1M65 34h2M73 34h2M80 34h1M82 34h1M89 34h1M95 34h1M97 34h1M4 35h2M27 35h1M64 35h2M73 35h2M81 35h1M86 35h1M89 35h1M91 35h2M98 35h1M0 36h1M76 36h1M80 36h1M86 36h1M1 37h1M6 37h1M8 37h1M24 37h1M61 37h1M67 37h1M76 37h1M80 37h1M84 37h1M86 37h1M89 37h1M92 37h1M26 38h2M30 38h1M65 38h1M75 38h2M85 38h1M90 38h1M93 38h1M17 39h1M58 39h1M71 39h1M77 39h2M81 39h1M84 39h1M86 39h1M90 39h1M92 39h1M94 39h1M97 39h1M28 40h1M52 40h1M55 40h1M62 40h1M67 40h1M69 40h2M89 40h1M93 40h1M96 40h1M2 41h1M52 41h1M64 41h1M67 41h1M71 41h1M73 41h3M80 41h1M84 41h1M94 41h1M51 42h1M55 42h1M62 42h1M65 42h1M72 42h2M25 43h1M48 43h1M73 43h1M76 43h1M78 43h1M56 44h2M59 44h1M61 44h2M86 44h1M88 44h1M93 44h1M43 45h1M45 45h1M47 45h1M50 45h1M60 45h1M67 45h2M80 45h1M96 45h1M1 46h1M6 46h1M25 46h1M47 46h1M57 46h2M60 46h1M64 46h1M66 46h3M80 46h1M83 46h1M86 46h1M93 46h1M6 47h1M58 47h1M62 47h1M67 47h1M71 47h1M100 47h1M50 48h1M63 48h1M65 48h1M73 48h2M79 48h1M97 48h2M9 49h1M13 49h1M44 49h1M46 49h1M50 49h1M53 49h1M55 49h2M64 49h1M68 49h1M70 49h1M75 49h1M45 50h1M60 50h1M72 50h1M78 50h2M91 50h1M94 50h1M53 51h1M56 51h2M61 51h1M64 51h1M68 51h1M71 51h2M80 51h1M84 51h1M11 52h1M42 52h1M58 52h1M64 52h1M79 52h1M83 52h1M97 52h1M2 53h1M36 53h1M60 53h1M66 53h1M68 53h2M72 53h1M83 53h1M85 53h1M88 53h1M9 54h2M39 54h1M58 54h1M60 54h1M63 54h2M67 54h1M70 54h2M73 54h1M78 54h1M85 54h1M88 54h1M90 54h1M13 55h1M17 55h1M19 55h1M29 55h1M35 55h1M38 55h1M41 55h1M46 55h1M56 55h2M59 55h1M67 55h1M70 55h1M75 55h2M82 55h2M87 55h3M-1 56h1M16 56h2M25 56h1M27 56h1M43 56h2M46 56h1M54 56h1M59 56h1M61 56h2M64 56h3M81 56h1M92 56h1M10 57h1M14 57h1M16 57h1M24 57h1M37 57h1M45 57h2M54 57h3M58 57h1M61 57h2M68 57h1M77 57h5M85 57h1M90 57h1M-1 58h1M11 58h1M15 58h1M23 58h1M29 58h1M33 58h2M45 58h4M52 58h1M59 58h1M65 58h2M93 58h1M99 58h1M4 59h1M8 59h3M16 59h1M34 59h1M36 59h1M39 59h1M52 59h1M55 59h1M69 59h4M74 59h1M81 59h1M83 59h2M87 59h1M89 59h4M94 59h1M96 59h1M8 60h2M22 60h1M34 60h1M38 60h2M48 60h1M56 60h1M63 60h1M74 60h1M76 60h1M87 60h1M12 61h1M27 61h1M58 61h1M63 61h1M72 61h1M74 61h1M76 61h1M78 61h1M80 61h1M86 61h2M91 61h1M93 61h1M13 62h1M15 62h1M22 62h1M24 62h1M28 62h2M34 62h1M60 62h1M63 62h1M69 62h2M72 62h2M76 62h1M78 62h1M89 62h1M96 62h2M99 62h1M2 63h1M8 63h1M13 63h1M15 63h1M59 63h1M62 63h1M64 63h1M66 63h1M68 63h1M73 63h2M82 63h1M87 63h2M93 63h1M95 63h2M5 64h2M11 64h1M26 64h1M30 64h1M65 64h2M81 64h1M84 64h1M86 64h1M10 65h1M12 65h1M16 65h1M24 65h1M79 65h1M86 65h2M91 65h1M93 65h1M98 65h1M1 66h1M8 66h1M13 66h1M18 66h1M25 66h1M62 66h1M71 66h1M80 66h1M85 66h2M95 66h1M20 67h1M23 67h1M26 67h1M76 67h1M90 67h1M99 67h1M22 68h1M63 68h1M65 68h3M79 68h2M86 68h1M95 68h1M65 69h2M70 69h1M78 69h1M81 69h1M83 69h1M87 69h1M90 69h1M94 69h1M96 69h1M26 70h1M60 70h1M66 70h1M75 70h2M88 70h1M61 71h1M91 71h1M4 72h1M65 72h2M70 72h1M73 72h2M78 72h1M87 72h1M91 72h1M96 72h1M64 73h1M69 73h1M71 73h2M80 73h1M82 73h1M90 73h1M5 74h1M61 74h3M70 74h2M81 74h1M90 74h1M42 75h1M66 75h1M85 75h2M6 76h1M9 76h1M63 76h1M67 76h2M70 76h1M87 76h1M91 76h1M93 76h1M66 77h2M7 78h1M36 78h1M8 79h2M11 79h1M48 79h2M62 79h1M78 79h1M43 80h1M46 80h1M47 81h1M63 81h1M72 81h1M11 82h1M62 82h2M13 83h2M65 83h1M78 83h1M11 84h1M51 84h1M16 85h1M38 86h1M16 87h2M21 87h1M27 87h1M49 87h1M13 88h1M43 89h1M53 89h2M87 89h1M32 90h1M38 90h1M27 91h1M52 91h1M41 92h1M69 92h1M29 93h1M75 93h1M28 96h1M34 98h1"/><path stroke="#527ab9" d="M69 0h1M64 6h1M78 6h1M58 7h1M67 8h1M82 8h1M58 9h1M60 9h1M70 10h1M53 11h1M61 11h1M64 11h1M67 11h1M46 12h1M48 12h1M68 12h1M79 12h1M48 13h1M51 13h1M63 13h1M73 13h2M81 13h1M46 14h1M50 14h1M63 14h1M70 14h1M78 14h1M82 14h1M42 15h3M47 15h1M51 15h1M53 15h2M64 15h2M73 15h1M40 16h1M42 16h1M46 16h1M55 16h1M62 16h1M64 16h2M67 16h1M72 16h1M76 16h1M47 17h1M50 17h1M53 17h2M59 17h1M62 17h2M66 17h1M72 17h1M75 17h1M78 17h1M87 17h1M41 18h1M44 18h1M58 18h4M67 18h1M73 18h2M81 18h1M85 18h1M87 18h1M42 19h1M45 19h1M59 19h1M64 19h2M78 19h1M80 19h2M88 19h1M90 19h1M36 20h1M49 20h1M52 20h2M56 20h1M58 20h1M64 20h1M68 20h1M70 20h1M78 20h1M80 20h1M90 20h1M41 21h1M47 21h1M54 21h1M59 21h1M78 21h1M82 21h1M90 21h1M39 22h2M43 22h4M48 22h1M77 22h1M39 23h1M41 23h1M55 23h1M60 23h1M66 23h1M74 23h3M80 23h1M94 23h1M96 23h1M37 24h1M40 24h1M42 24h1M49 24h1M56 24h1M66 24h2M71 24h1M75 24h2M81 24h1M38 25h1M41 25h1M47 25h1M65 25h1M68 25h2M71 25h1M74 25h1M97 25h1M41 26h1M46 26h1M58 26h1M68 26h1M70 26h1M88 26h1M36 27h2M43 27h1M45 27h1M75 27h1M78 27h1M84 27h1M89 27h1M92 27h1M35 28h1M44 28h1M53 28h2M60 28h1M64 28h1M66 28h1M77 28h1M79 28h1M82 28h1M86 28h1M32 29h3M54 29h1M66 29h1M70 29h1M88 29h1M90 29h1M30 30h1M35 30h2M38 30h1M44 30h1M63 30h2M66 30h1M68 30h1M81 30h1M84 30h1M88 30h1M91 30h1M95 30h2M23 31h1M34 31h1M46 31h1M52 31h1M54 31h1M80 31h1M82 31h1M85 31h2M91 31h2M27 32h1M37 32h3M66 32h1M69 32h1M71 32h1M82 32h1M91 32h1M3 33h1M34 33h1M40 33h2M70 33h1M73 33h1M83 33h1M85 33h2M92 33h1M9 34h1M27 34h1M35 34h2M64 34h1M75 34h1M77 34h1M79 34h1M81 34h1M92 34h1M28 35h1M48 35h1M63 35h1M66 35h1M71 35h1M75 35h1M87 35h1M56 36h1M64 36h1M66 36h1M69 36h1M71 36h3M77 36h1M81 36h1M85 36h1M91 36h1M94 36h2M0 37h1M37 37h1M68 37h1M74 37h1M78 37h1M82 37h1M85 37h1M88 37h1M90 37h1M95 37h1M98 37h1M17 38h1M41 38h1M47 38h1M58 38h1M63 38h1M66 38h2M69 38h1M72 38h1M79 38h2M82 38h1M13 39h1M44 39h1M54 39h1M57 39h1M60 39h1M64 39h1M69 39h1M74 39h2M87 39h1M24 40h1M40 40h1M48 40h2M57 40h1M63 40h1M66 40h1M68 40h1M73 40h1M79 40h1M84 40h1M87 40h1M97 40h1M14 41h1M40 41h1M42 41h2M48 41h1M61 41h3M65 41h2M69 41h2M96 41h2M99 41h1M5 42h2M39 42h2M46 42h2M50 42h1M56 42h1M61 42h1M69 42h1M77 42h2M93 42h1M98 42h1M100 42h1M26 43h1M36 43h3M44 43h2M54 43h1M58 43h2M62 43h2M68 43h1M71 43h1M86 43h1M92 43h1M94 43h2M6 44h1M26 44h1M28 44h1M44 44h1M47 44h2M51 44h1M55 44h1M58 44h1M60 44h1M64 44h1M67 44h1M70 44h1M79 44h1M85 44h1M99 44h1M20 45h1M33 45h2M48 45h1M52 45h2M59 45h1M63 45h1M73 45h2M82 45h1M85 45h1M89 45h2M93 45h1M41 46h1M43 46h1M46 46h1M54 46h1M56 46h1M61 46h1M63 46h1M70 46h1M75 46h1M79 46h1M81 46h1M85 46h1M92 46h1M44 47h1M47 47h1M55 47h1M69 47h2M73 47h2M77 47h1M80 47h1M82 47h1M84 47h1M45 48h2M48 48h1M51 48h1M56 48h1M60 48h3M64 48h1M68 48h1M85 48h1M89 48h1M91 48h1M45 49h1M58 49h1M65 49h1M69 49h1M82 49h1M84 49h1M99 49h1M20 50h1M46 50h1M55 50h2M58 50h1M64 50h1M69 50h1M100 50h1M0 51h1M4 51h1M10 51h1M21 51h1M23 51h1M54 51h1M63 51h1M65 51h2M70 51h1M73 51h1M94 51h1M99 51h1M0 52h1M41 52h1M59 52h4M66 52h3M71 52h1M73 52h2M82 52h1M87 52h1M9 53h1M12 53h1M31 53h1M59 53h1M61 53h1M74 53h1M82 53h1M86 53h1M100 53h1M35 54h1M65 54h1M74 54h1M82 54h1M87 54h1M91 54h3M5 55h2M9 55h1M16 55h1M21 55h2M62 55h1M64 55h1M68 55h2M71 55h1M74 55h1M79 55h1M81 55h1M90 55h1M93 55h1M2 56h1M12 56h1M21 56h1M23 56h1M29 56h1M31 56h1M39 56h1M42 56h1M53 56h1M71 56h1M77 56h1M89 56h1M98 56h1M1 57h1M7 57h1M15 57h1M20 57h1M26 57h1M28 57h1M34 57h1M48 57h1M50 57h1M52 57h1M60 57h1M71 57h1M75 57h2M86 57h1M93 57h1M2 58h1M24 58h1M36 58h1M39 58h1M42 58h1M44 58h1M60 58h1M67 58h1M70 58h2M76 58h1M78 58h1M82 58h1M85 58h1M96 58h1M0 59h1M6 59h1M12 59h1M23 59h1M29 59h1M57 59h1M64 59h1M99 59h1M13 60h1M24 60h1M68 60h1M86 60h1M89 60h1M91 60h1M84 61h2M12 62h1M77 62h1M87 62h1M92 62h2M98 62h1M11 63h1M24 63h1M89 63h1M8 64h1M10 64h1M15 64h1M73 64h1M78 64h2M89 64h1M14 65h1M17 65h1M64 65h1M83 65h1M85 65h1M5 66h1M10 66h1M14 66h1M17 66h1M20 66h1M22 66h2M64 66h1M67 66h1M73 66h1M87 66h1M91 66h1M94 66h1M99 66h1M5 67h1M15 67h1M18 67h2M21 67h2M84 67h1M14 68h1M16 68h1M62 68h1M3 69h2M6 69h1M16 69h1M24 69h1M61 69h1M9 70h1M16 70h1M24 70h1M63 70h2M67 70h1M82 70h1M85 70h1M89 70h1M91 70h1M15 71h1M63 71h1M80 71h1M82 71h1M93 71h1M64 72h1M67 72h2M71 72h1M77 72h1M80 72h1M85 72h1M65 73h1M83 73h1M87 73h1M92 73h1M68 74h1M72 74h1M74 74h2M77 74h1M80 74h1M87 74h1M89 74h1M91 74h1M93 74h1M97 74h1M6 75h1M65 75h1M69 75h1M71 75h1M82 75h1M8 76h1M10 76h1M36 76h1M41 76h1M60 76h1M69 76h1M73 76h1M79 76h1M88 76h1M96 76h1M41 77h2M44 77h1M77 77h2M81 77h1M87 77h1M90 77h1M42 78h3M60 78h1M65 78h1M70 78h1M79 78h1M46 79h1M63 79h1M65 79h1M67 79h1M90 79h1M38 80h1M42 80h1M45 80h1M64 80h1M67 80h1M91 80h1M93 80h1M9 81h1M40 81h1M44 81h1M73 81h1M76 81h1M94 81h1M39 82h2M45 82h1M47 82h1M66 82h1M9 83h1M36 83h1M40 83h1M89 83h1M12 84h1M38 84h1M44 84h1M48 84h2M58 84h1M89 84h1M30 85h1M33 85h2M41 85h1M48 85h1M87 85h1M26 86h2M47 86h1M49 86h2M13 87h1M30 87h1M43 87h1M86 87h1M89 87h1M19 88h1M86 88h1M31 89h1M34 89h1M45 89h1M47 89h1M59 89h1M67 89h1M30 90h1M34 90h1M36 90h1M76 90h1M83 90h1M31 91h1M33 92h1M35 92h1M45 92h1M60 92h1M52 93h1M61 93h1M57 94h1M69 94h1M78 94h3M22 95h1M61 95h1M29 96h1M44 96h1M49 96h1M32 98h1"/><path stroke="#5d8cbc" d="M46 3h1M73 3h1M73 5h1M75 7h1M71 8h1M79 8h1M57 9h1M71 9h1M59 10h1M63 10h1M86 10h2M47 11h1M52 11h1M54 11h1M72 12h1M41 13h2M46 13h1M59 13h1M68 13h3M41 14h3M47 14h1M49 14h1M60 14h1M64 14h1M71 14h1M74 14h2M79 14h1M85 14h1M45 15h1M48 15h1M52 15h1M63 15h1M75 15h1M81 15h1M48 16h1M51 16h2M63 16h1M74 16h2M77 16h2M40 17h1M42 17h1M44 17h1M46 17h1M52 17h1M60 17h1M65 17h1M69 17h2M74 17h1M77 17h1M82 17h2M43 18h1M51 18h1M53 18h2M66 18h1M68 18h1M70 18h1M75 18h1M80 18h1M89 18h1M50 19h2M53 19h1M57 19h1M60 19h1M62 19h1M66 19h2M72 19h2M83 19h1M92 19h1M41 20h1M44 20h1M47 20h1M50 20h1M62 20h1M79 20h1M81 20h1M83 20h1M88 20h1M34 21h2M37 21h3M44 21h1M61 21h2M65 21h1M68 21h1M72 21h2M76 21h1M35 22h3M47 22h1M49 22h2M58 22h3M63 22h1M70 22h1M72 22h1M75 22h1M80 22h2M34 23h1M45 23h1M47 23h2M65 23h1M71 23h1M79 23h1M82 23h1M87 23h1M41 24h1M48 24h1M57 24h1M65 24h1M69 24h1M74 24h1M77 24h2M83 24h1M92 24h1M94 24h1M34 25h2M53 25h1M57 25h1M62 25h1M66 25h2M76 25h4M95 25h2M33 26h1M37 26h1M47 26h1M49 26h1M66 26h1M69 26h1M80 26h1M92 26h1M40 27h3M44 27h1M62 27h2M66 27h1M74 27h1M77 27h1M95 27h1M37 28h2M41 28h1M43 28h1M46 28h1M55 28h1M63 28h1M67 28h1M69 28h1M73 28h1M41 29h1M48 29h1M50 29h1M52 29h1M55 29h1M57 29h2M63 29h1M67 29h1M74 29h1M79 29h1M81 29h1M83 29h2M87 29h1M33 30h1M73 30h1M75 30h1M78 30h1M86 30h1M89 30h1M94 30h1M22 31h1M33 31h1M36 31h1M38 31h1M42 31h2M50 31h2M55 31h1M67 31h1M70 31h1M72 31h1M76 31h1M87 31h1M33 32h3M40 32h2M50 32h1M53 32h1M57 32h3M62 32h1M64 32h1M72 32h1M74 32h1M88 32h1M94 32h1M96 32h1M10 33h1M28 33h1M35 33h1M38 33h1M58 33h1M62 33h1M65 33h1M72 33h1M77 33h1M88 33h1M95 33h2M29 34h1M48 34h1M52 34h1M60 34h1M68 34h3M78 34h1M86 34h1M90 34h1M25 35h1M37 35h3M46 35h1M57 35h1M69 35h1M72 35h1M80 35h1M1 36h1M32 36h1M37 36h1M39 36h1M43 36h1M51 36h1M82 36h1M96 36h1M25 37h1M38 37h1M44 37h1M50 37h2M58 37h1M60 37h1M62 37h1M38 38h1M43 38h1M46 38h1M48 38h1M53 38h1M61 38h2M73 38h2M86 38h1M92 38h1M5 39h1M24 39h1M29 39h1M38 39h1M46 39h1M48 39h1M51 39h1M62 39h2M65 39h1M72 39h1M76 39h1M22 40h1M33 40h1M41 40h2M44 40h3M54 40h1M56 40h1M61 40h1M65 40h1M26 41h1M30 41h1M41 41h1M51 41h1M53 41h1M55 41h1M57 41h2M60 41h1M72 41h1M76 41h1M100 41h1M10 42h1M12 42h1M38 42h1M48 42h2M58 42h1M63 42h1M66 42h2M85 42h1M88 42h1M4 43h1M8 43h1M34 43h1M46 43h1M49 43h1M51 43h2M56 43h1M93 43h1M96 43h1M33 44h1M38 44h1M42 44h1M45 44h2M52 44h1M63 44h1M71 44h1M73 44h2M80 44h2M90 44h1M95 44h1M39 45h2M42 45h1M51 45h1M54 45h1M56 45h3M64 45h1M69 45h1M78 45h1M81 45h1M87 45h1M99 45h1M12 46h1M35 46h4M40 46h1M42 46h1M44 46h1M51 46h1M65 46h1M72 46h1M42 47h1M46 47h1M54 47h1M56 47h2M61 47h1M75 47h1M78 47h2M92 47h1M94 47h1M97 47h1M36 48h1M41 48h1M47 48h1M53 48h1M76 48h1M80 48h1M94 48h1M100 48h1M5 49h1M8 49h1M19 49h1M52 49h1M54 49h1M57 49h1M62 49h1M78 49h1M80 49h1M-1 50h1M50 50h1M52 50h3M57 50h1M65 50h1M70 50h1M73 50h1M84 50h2M95 50h2M-1 51h1M9 51h1M12 51h1M30 51h1M58 51h1M74 51h1M78 51h1M83 51h1M88 51h1M95 51h1M98 51h1M5 52h1M8 52h1M30 52h1M54 52h4M77 52h1M99 52h1M0 53h1M40 53h2M46 53h1M73 53h1M76 53h2M80 53h1M2 54h1M7 54h1M11 54h1M14 54h1M80 54h1M86 54h1M3 55h1M10 55h2M20 55h1M39 55h1M53 55h1M66 55h1M77 55h1M84 55h1M6 56h1M10 56h2M15 56h1M24 56h1M63 56h1M70 56h1M74 56h1M78 56h1M80 56h1M82 56h2M86 56h1M99 56h1M11 57h1M43 57h1M47 57h1M63 57h2M66 57h2M87 57h2M91 57h1M5 58h1M40 58h1M58 58h1M91 58h1M95 58h1M1 59h1M53 59h1M65 59h1M67 59h1M73 59h1M78 59h2M86 59h1M88 59h1M17 60h1M78 60h1M80 60h1M84 60h1M90 60h1M25 61h1M46 61h1M66 61h1M83 61h1M88 61h1M92 61h1M25 62h1M74 62h1M85 62h1M28 63h1M84 63h1M90 63h1M18 64h2M63 64h1M93 64h1M70 65h1M87 67h1M17 68h1M19 68h1M24 68h2M87 68h1M12 69h1M21 69h1M26 69h1M62 69h1M73 69h2M86 69h1M89 69h1M2 70h1M12 70h1M25 70h1M80 70h1M96 70h1M2 71h2M20 71h1M66 71h1M77 71h1M8 72h1M16 72h1M79 72h1M5 73h1M27 73h1M62 73h1M68 73h1M75 73h1M79 73h1M85 73h1M89 73h1M97 73h1M76 74h1M78 74h1M82 74h2M86 74h1M7 75h1M28 75h1M60 75h1M67 75h1M70 75h1M73 75h1M75 75h1M78 75h2M84 75h1M89 75h2M96 75h2M27 76h1M37 76h4M42 76h2M61 76h1M71 76h2M75 76h2M83 76h1M9 77h1M13 77h1M35 77h1M38 77h2M43 77h1M60 77h1M62 77h1M71 77h1M74 77h2M88 77h2M16 78h1M39 78h2M61 78h1M64 78h1M66 78h1M71 78h1M73 78h1M10 79h1M14 79h1M39 79h3M47 79h1M60 79h1M64 79h1M72 79h2M82 79h1M85 79h1M94 79h1M12 80h1M40 80h1M44 80h1M47 80h1M49 80h1M58 80h1M66 80h1M68 80h1M73 80h2M76 80h1M27 81h1M37 81h1M41 81h2M45 81h1M48 81h1M53 81h1M60 81h1M65 81h1M88 81h1M15 82h1M36 82h1M38 82h1M41 82h1M44 82h1M48 82h6M55 82h1M57 82h1M59 82h1M65 82h1M67 82h1M72 82h1M75 82h1M88 82h1M12 83h1M23 83h1M28 83h1M30 83h1M38 83h2M41 83h1M43 83h1M50 83h2M61 83h1M10 84h1M15 84h1M42 84h2M50 84h1M91 84h1M15 85h1M19 85h1M22 85h1M24 85h1M31 85h1M35 85h1M38 85h1M40 85h1M46 85h1M51 85h1M67 85h1M18 86h1M20 86h2M25 86h1M29 86h4M34 86h1M37 86h1M39 86h3M44 86h2M60 86h1M86 86h1M15 87h1M28 87h1M32 87h1M37 87h1M44 87h1M46 87h3M50 87h1M60 87h1M64 87h1M18 88h1M32 88h1M34 88h1M53 88h2M63 88h1M72 88h1M78 88h1M24 89h1M35 89h1M38 89h1M71 89h1M17 90h1M41 90h1M60 90h1M70 90h1M18 91h1M37 91h1M40 91h1M56 91h1M59 91h1M71 91h1M80 91h1M25 92h1M30 92h1M34 92h1M40 92h1M49 92h1M57 92h1M61 92h1M68 92h1M76 92h1M35 93h1M59 93h1M72 93h2M19 94h1M58 94h2M60 95h1M75 95h3M25 96h1M62 96h1M33 97h1M36 97h1M56 99h1"/><path stroke="#67a1bf" d="M80 3h1M76 4h1M50 6h1M57 6h1M56 8h1M83 8h1M62 9h1M48 10h1M53 10h2M65 10h1M59 11h1M73 11h1M78 11h1M82 12h2M44 13h1M47 13h1M52 13h1M64 13h1M66 13h1M78 13h1M59 14h1M66 14h1M68 14h1M77 14h1M59 15h1M61 15h1M67 15h1M57 16h1M86 16h1M45 17h1M51 17h1M55 17h1M58 17h1M61 17h1M64 17h1M42 18h1M50 18h1M62 18h2M65 18h1M71 18h1M83 18h1M49 19h1M63 19h1M68 19h1M74 19h2M84 19h1M89 19h1M91 19h1M42 20h2M45 20h1M54 20h2M57 20h1M60 20h2M63 20h1M73 20h1M82 20h1M84 20h4M36 21h1M40 21h1M48 21h1M56 21h1M66 21h1M71 21h1M74 21h2M79 21h2M83 21h1M89 21h1M38 22h1M52 22h2M56 22h1M61 22h2M68 22h2M79 22h1M83 22h2M90 22h3M36 23h3M43 23h1M46 23h1M49 23h1M51 23h1M53 23h1M59 23h1M67 23h3M72 23h1M78 23h1M81 23h1M83 23h2M92 23h1M38 24h1M44 24h2M47 24h1M50 24h3M54 24h2M58 24h1M61 24h2M68 24h1M72 24h1M82 24h1M85 24h1M39 25h2M44 25h1M48 25h1M54 25h1M56 25h1M63 25h1M81 25h1M85 25h1M88 25h1M35 26h2M38 26h2M50 26h2M53 26h3M61 26h1M65 26h1M67 26h1M73 26h1M76 26h1M78 26h1M81 26h1M84 26h1M86 26h1M90 26h1M33 27h1M39 27h1M47 27h1M53 27h1M56 27h1M59 27h1M64 27h2M68 27h1M71 27h1M81 27h1M83 27h1M93 27h1M39 28h2M48 28h3M65 28h1M71 28h1M76 28h1M78 28h1M81 28h1M83 28h2M89 28h2M93 28h1M31 29h1M36 29h1M38 29h1M42 29h1M45 29h1M51 29h1M53 29h1M56 29h1M62 29h1M65 29h1M68 29h2M72 29h1M85 29h1M91 29h2M37 30h1M42 30h2M49 30h1M52 30h1M55 30h2M58 30h1M61 30h1M71 30h2M77 30h1M80 30h1M83 30h1M87 30h1M24 31h1M39 31h2M44 31h2M53 31h1M56 31h1M60 31h1M66 31h1M74 31h1M78 31h1M36 32h1M45 32h1M49 32h1M52 32h1M54 32h2M63 32h1M65 32h1M67 32h2M73 32h1M80 32h2M26 33h2M39 33h1M59 33h3M68 33h2M87 33h1M37 34h3M44 34h2M58 34h1M62 34h1M71 34h1M3 35h1M10 35h1M36 35h1M41 35h1M53 35h2M56 35h1M58 35h1M60 35h3M67 35h2M5 36h1M30 36h1M36 36h1M38 36h1M44 36h1M48 36h3M54 36h1M59 36h1M62 36h1M5 37h1M10 37h1M26 37h1M33 37h1M40 37h2M43 37h1M47 37h3M55 37h1M63 37h1M69 37h1M71 37h1M93 37h1M10 38h1M52 38h1M54 38h2M59 38h1M64 38h1M68 38h1M84 38h1M6 39h1M39 39h1M43 39h1M47 39h1M50 39h1M52 39h1M56 39h1M61 39h1M67 39h1M2 40h2M10 40h1M31 40h1M38 40h2M47 40h1M53 40h1M59 40h2M64 40h1M71 40h1M75 40h1M98 40h1M18 41h1M38 41h1M44 41h2M47 41h1M50 41h1M54 41h1M59 41h1M68 41h1M90 41h1M95 41h1M42 42h1M45 42h1M54 42h1M59 42h1M87 42h1M96 42h1M99 42h1M6 43h1M9 43h1M22 43h1M42 43h1M50 43h1M57 43h1M61 43h1M65 43h3M74 43h1M82 43h1M2 44h1M40 44h2M43 44h1M65 44h1M72 44h1M98 44h1M16 45h1M38 45h1M41 45h1M46 45h1M49 45h1M61 45h1M72 45h1M98 45h1M53 46h1M55 46h1M59 46h1M74 46h1M95 46h1M2 47h1M19 47h1M45 47h1M48 47h2M52 47h2M59 47h1M81 47h1M85 47h1M89 47h1M99 47h1M4 48h1M8 48h1M21 48h1M55 48h1M57 48h3M78 48h1M87 48h1M92 48h1M22 49h1M47 49h1M49 49h1M79 49h1M95 49h2M98 49h1M100 49h1M9 50h1M13 50h1M47 50h1M51 50h1M67 50h1M75 50h1M80 50h1M86 50h1M89 50h1M77 51h1M89 51h1M92 51h1M9 52h1M96 52h1M70 53h1M89 53h1M1 54h1M3 54h1M8 54h1M12 54h1M19 54h1M12 55h1M18 55h1M44 55h1M18 56h1M85 56h1M41 57h1M59 57h1M72 57h1M94 57h1M16 58h1M80 58h1M87 58h1M92 58h1M66 59h1M95 59h1M97 60h1M90 61h1M84 62h1M33 63h1M92 63h1M2 64h1M4 65h1M27 65h1M84 65h1M4 66h1M68 66h1M75 66h1M7 67h2M14 67h1M1 68h1M7 68h1M15 68h1M27 68h1M92 68h1M5 69h1M17 69h1M23 69h1M27 69h1M92 69h1M5 70h1M11 70h1M17 70h2M20 70h1M94 70h2M18 71h1M22 71h2M26 71h1M67 71h1M92 71h1M6 72h1M25 72h2M97 72h1M2 73h1M9 73h1M13 73h1M25 73h2M77 73h1M93 73h1M10 74h1M16 74h1M25 74h1M27 74h2M69 74h1M14 75h1M40 75h1M77 75h1M80 75h1M91 75h1M13 76h2M65 76h1M77 76h1M85 76h1M95 76h1M8 77h1M12 77h1M15 77h1M20 77h1M45 77h1M47 77h1M59 77h1M70 77h1M73 77h1M76 77h1M80 77h1M83 77h2M94 77h1M11 78h1M37 78h1M41 78h1M46 78h2M67 78h1M75 78h2M78 78h1M80 78h1M19 79h1M37 79h2M42 79h2M45 79h1M66 79h1M69 79h1M71 79h1M75 79h1M81 79h1M32 80h1M34 80h1M39 80h1M48 80h1M65 80h1M69 80h1M72 80h1M75 80h1M77 80h1M80 80h1M12 81h2M23 81h1M31 81h1M35 81h1M49 81h1M52 81h1M55 81h1M57 81h1M67 81h1M69 81h1M17 82h1M20 82h2M26 82h1M31 82h2M37 82h1M42 82h2M54 82h1M60 82h1M68 82h1M70 82h2M73 82h1M90 82h1M92 82h1M15 83h1M27 83h1M35 83h1M37 83h1M45 83h1M47 83h2M52 83h2M55 83h1M57 83h1M59 83h2M62 83h1M73 83h1M83 83h1M88 83h1M22 84h1M28 84h2M32 84h2M36 84h1M41 84h1M46 84h2M53 84h1M61 84h1M87 84h2M92 84h1M14 85h1M20 85h2M23 85h1M36 85h1M42 85h1M49 85h1M60 85h1M65 85h1M86 85h1M19 86h1M33 86h1M35 86h2M42 86h1M48 86h1M51 86h1M53 86h1M56 86h2M62 86h1M67 86h1M71 86h1M23 87h3M31 87h1M39 87h1M42 87h1M45 87h1M57 87h1M15 88h1M22 88h2M26 88h1M35 88h2M39 88h3M44 88h1M46 88h1M49 88h1M51 88h1M56 88h2M73 88h1M18 89h1M22 89h1M26 89h1M41 89h1M57 89h1M66 89h1M78 89h1M18 90h1M20 90h1M26 90h1M43 90h1M61 90h1M63 90h1M30 91h1M32 91h1M39 91h1M57 91h1M61 91h1M78 91h1M16 92h1M23 92h1M27 92h1M47 92h1M58 92h1M73 92h1M77 92h1M19 93h1M31 93h1M42 93h1M57 93h2M63 93h1M76 93h1M48 94h1M53 94h1M68 95h1M70 96h1M72 96h1M28 97h1M72 97h1"/><path stroke="#93b8cc" d="M71 2h1M59 3h1M69 6h1M62 7h1M69 7h1M73 7h1M81 7h1M50 8h1M59 8h1M64 8h1M87 8h1M75 9h1M69 10h1M75 10h1M48 11h1M86 11h1M44 12h1M55 12h1M61 12h1M76 12h1M81 12h1M84 12h1M87 12h1M71 13h2M75 13h1M80 13h1M76 14h1M66 15h1M47 16h1M59 16h1M61 16h1M41 17h1M43 17h1M48 17h1M46 18h1M52 18h1M69 18h1M79 18h1M84 18h1M86 18h1M88 18h1M55 19h1M61 19h1M69 19h2M77 19h1M86 19h1M59 20h1M65 20h1M67 20h1M71 20h2M74 20h2M77 20h1M46 21h1M50 21h1M53 21h1M57 21h2M64 21h1M69 21h1M77 21h1M81 21h1M84 21h1M86 21h1M88 21h1M57 22h1M64 22h3M71 22h1M73 22h2M86 22h1M88 22h1M35 23h1M50 23h1M52 23h1M58 23h1M62 23h2M70 23h1M73 23h1M89 23h3M46 24h1M59 24h2M70 24h1M79 24h2M84 24h1M87 24h1M37 25h1M42 25h1M46 25h1M55 25h1M58 25h1M64 25h1M73 25h1M75 25h1M80 25h1M82 25h2M94 25h1M43 26h1M52 26h1M56 26h2M59 26h2M62 26h1M72 26h1M74 26h2M77 26h1M82 26h1M85 26h1M87 26h1M46 27h1M48 27h1M51 27h2M55 27h1M57 27h1M67 27h1M69 27h2M72 27h1M80 27h1M85 27h1M87 27h1M34 28h1M42 28h1M62 28h1M70 28h1M74 28h2M88 28h1M91 28h1M39 29h2M44 29h1M46 29h1M60 29h2M64 29h1M71 29h1M73 29h1M80 29h1M89 29h1M93 29h1M39 30h2M47 30h2M53 30h2M57 30h1M67 30h1M69 30h2M25 31h1M28 31h1M41 31h1M62 31h3M68 31h1M83 31h1M43 32h2M48 32h1M51 32h1M56 32h1M60 32h2M85 32h1M42 33h3M49 33h3M54 33h2M57 33h1M71 33h1M33 34h1M42 34h2M46 34h1M49 34h3M53 34h1M56 34h1M59 34h1M61 34h1M67 34h1M2 35h1M7 35h1M31 35h1M35 35h1M40 35h1M42 35h3M47 35h1M49 35h2M59 35h1M88 35h1M27 36h1M35 36h1M40 36h3M46 36h2M52 36h2M58 36h1M60 36h1M68 36h1M3 37h1M36 37h1M39 37h1M42 37h1M45 37h2M54 37h1M56 37h2M59 37h1M70 37h1M97 37h1M11 38h1M24 38h1M28 38h1M34 38h1M39 38h2M42 38h1M45 38h1M49 38h3M56 38h2M70 38h1M0 39h1M16 39h1M40 39h2M49 39h1M59 39h1M66 39h1M68 39h1M37 40h1M43 40h1M51 40h1M58 40h1M72 40h1M6 41h1M12 41h1M46 41h1M49 41h1M56 41h1M98 41h1M9 42h1M11 42h1M24 42h1M26 42h1M28 42h1M30 42h1M41 42h1M43 42h2M52 42h2M60 42h1M76 42h1M94 42h1M11 43h1M41 43h1M64 43h1M75 43h1M89 43h1M91 43h1M27 44h1M37 44h1M54 44h1M87 44h1M96 44h1M100 44h1M5 45h2M44 45h1M79 45h1M83 45h1M11 46h1M34 46h1M39 46h1M45 46h1M48 46h1M50 46h1M54 48h1M83 48h2M88 48h1M90 48h1M93 48h1M99 48h1M11 49h1M33 49h1M61 49h1M77 49h1M91 49h1M23 50h1M31 50h1M1 51h1M55 51h1M76 51h1M7 52h1M37 52h1M39 52h1M76 52h1M80 52h1M1 53h1M11 53h1M62 53h1M67 53h1M90 53h1M97 53h1M-1 54h1M41 54h2M45 54h1M1 55h1M8 55h1M14 55h1M31 55h1M78 55h1M13 56h1M70 57h1M93 59h1M100 59h1M11 60h1M93 60h1M-1 62h1M83 63h1M5 65h1M8 65h1M92 66h1M97 66h1M0 67h1M3 67h1M11 67h1M6 68h1M13 68h1M91 68h1M1 69h1M18 69h1M22 69h1M69 69h1M3 70h1M6 70h1M13 70h1M21 70h1M6 71h3M19 71h1M25 71h1M27 71h1M3 72h1M15 72h1M22 72h2M27 72h1M93 72h2M4 73h1M19 73h1M67 73h1M9 74h1M94 74h1M5 75h1M12 75h1M19 75h1M22 75h1M27 75h1M74 75h1M76 75h1M93 75h1M95 75h1M15 76h1M20 76h1M24 76h1M80 76h1M89 76h1M33 77h2M36 77h1M72 77h1M85 77h1M91 77h1M12 78h1M14 78h1M19 78h1M30 78h1M38 78h1M68 78h1M74 78h1M81 78h1M84 78h1M12 79h2M17 79h2M21 79h1M27 79h1M31 79h3M44 79h1M59 79h1M68 79h1M74 79h1M77 79h1M80 79h1M88 79h2M18 80h1M21 80h1M23 80h1M31 80h1M33 80h1M36 80h1M41 80h1M59 80h1M63 80h1M71 80h1M87 80h1M89 80h2M11 81h1M15 81h1M20 81h1M28 81h1M30 81h1M36 81h1M38 81h2M43 81h1M54 81h1M66 81h1M68 81h1M70 81h2M78 81h1M90 81h1M93 81h1M12 82h1M14 82h1M29 82h1M33 82h1M46 82h1M69 82h1M74 82h1M77 82h1M81 82h1M87 82h1M11 83h1M19 83h1M29 83h1M42 83h1M46 83h1M49 83h1M58 83h1M64 83h1M69 83h1M85 83h2M90 83h1M14 84h1M16 84h3M20 84h1M25 84h3M34 84h2M39 84h2M54 84h1M56 84h1M62 84h1M69 84h1M71 84h1M73 84h2M25 85h1M32 85h1M37 85h1M43 85h2M50 85h1M53 85h1M56 85h1M58 85h1M63 85h1M68 85h1M24 86h1M43 86h1M52 86h1M54 86h2M58 86h1M78 86h1M90 86h1M14 87h1M19 87h1M38 87h1M40 87h1M51 87h1M53 87h1M55 87h1M58 87h1M61 87h3M66 87h1M69 87h1M76 87h1M24 88h2M31 88h1M37 88h2M45 88h1M47 88h2M50 88h1M52 88h1M55 88h1M65 88h1M19 89h1M21 89h1M29 89h2M48 89h1M52 89h1M61 89h1M63 89h1M65 89h1M69 89h1M72 89h1M29 90h1M53 90h1M55 90h1M65 90h3M17 91h1M34 91h1M51 91h1M60 91h1M62 91h1M65 91h1M67 91h1M72 91h1M76 91h1M63 92h1M67 92h1M71 92h1M75 92h1M78 92h1M33 93h1M54 93h1M28 94h1M45 94h1M60 94h1M72 94h1M75 94h1M30 95h1M39 95h1M45 95h1M56 95h1M59 95h1M32 96h1M43 96h1M69 96h1M32 97h1M41 97h1M58 98h1M34 99h1M62 99h1"/><path stroke="#bccdd9" d="M48 3h1M69 4h1M69 5h1M76 6h1M61 8h1M76 9h1M49 10h1M52 10h1M56 10h1M81 10h1M57 11h1M60 11h1M47 12h1M63 12h2M71 12h1M73 12h1M75 12h1M85 12h1M50 13h1M54 13h1M56 13h1M52 19h1M58 19h1M79 19h1M82 19h1M85 19h1M51 20h1M66 20h1M69 20h1M49 21h1M51 21h1M55 21h1M60 21h1M70 21h1M85 21h1M87 21h1M51 22h1M54 22h1M76 22h1M78 22h1M82 22h1M57 23h1M61 23h1M64 23h1M85 23h1M88 23h1M93 23h1M53 24h1M73 24h1M86 24h1M89 24h1M91 24h1M49 25h2M52 25h1M59 25h2M70 25h1M72 25h1M86 25h1M89 25h1M48 26h1M63 26h1M79 26h1M83 26h1M91 26h1M34 27h1M50 27h1M54 27h1M58 27h1M60 27h1M76 27h1M86 27h1M52 28h1M56 28h4M72 28h1M85 28h1M87 28h1M92 28h1M30 29h1M35 29h1M43 29h1M47 29h1M49 29h1M41 30h1M50 30h1M59 30h2M62 30h1M65 30h1M26 31h1M47 31h1M61 31h1M69 31h1M29 32h1M31 32h1M46 32h2M70 32h1M46 33h3M52 33h1M56 33h1M63 33h2M3 34h1M24 34h1M31 34h1M54 34h1M63 34h1M13 35h1M52 35h1M55 35h1M70 35h1M8 36h1M24 36h1M45 36h1M55 36h1M57 36h1M67 36h1M31 37h2M64 37h1M25 38h1M37 38h1M44 38h1M12 39h1M26 39h1M42 39h1M45 39h1M53 39h1M99 39h1M4 40h1M13 40h1M50 40h1M22 41h1M29 41h1M39 41h1M2 43h2M14 43h1M23 43h1M33 43h1M39 43h1M43 43h1M55 43h1M0 44h1M9 44h1M34 44h1M53 44h1M89 44h1M91 44h1M94 44h1M2 45h2M9 45h1M32 45h1M55 45h1M91 45h1M33 46h1M76 46h1M91 46h1M100 46h1M5 47h1M8 47h1M76 47h1M88 47h1M1 48h1M75 48h1M77 48h1M86 48h1M85 49h1M90 49h1M97 49h1M87 50h1M79 51h1M22 52h1M84 52h1M22 53h1M99 53h1M13 54h1M17 54h1M28 54h1M0 55h1M4 55h1M99 57h1M22 58h1M41 58h1M9 65h1M12 67h1M17 67h1M2 68h1M11 68h1M20 68h1M7 69h1M11 69h1M15 69h1M19 69h2M25 69h1M7 70h2M15 70h1M19 70h1M4 71h2M10 71h1M13 71h1M17 71h1M21 71h1M24 71h1M17 72h3M21 72h1M24 72h1M75 72h1M11 73h1M18 73h1M21 73h2M24 73h1M28 73h1M96 73h1M7 74h1M13 74h3M18 74h1M20 74h1M26 74h1M92 74h1M10 75h1M18 75h1M12 76h1M25 76h1M28 76h1M74 76h1M78 76h1M81 76h1M90 76h1M10 77h1M23 77h1M25 77h1M37 77h1M40 77h1M82 77h1M86 77h1M10 78h1M13 78h1M18 78h1M20 78h2M29 78h1M31 78h5M45 78h1M48 78h1M62 78h2M72 78h1M77 78h1M87 78h4M94 78h1M15 79h1M20 79h1M24 79h1M30 79h1M58 79h1M70 79h1M13 80h2M16 80h2M20 80h1M22 80h1M29 80h1M35 80h1M37 80h1M57 80h1M61 80h1M70 80h1M79 80h1M86 80h1M14 81h1M17 81h2M22 81h1M26 81h1M29 81h1M32 81h1M34 81h1M46 81h1M56 81h1M84 81h2M89 81h1M16 82h1M18 82h1M22 82h2M25 82h1M27 82h1M30 82h1M35 82h1M56 82h1M58 82h1M64 82h1M93 82h1M16 83h2M21 83h1M25 83h2M32 83h3M54 83h1M63 83h1M66 83h1M68 83h1M70 83h1M72 83h1M74 83h2M79 83h1M87 83h1M21 84h1M30 84h2M45 84h1M57 84h1M59 84h1M70 84h1M77 84h2M83 84h1M17 85h1M27 85h3M45 85h1M47 85h1M52 85h1M55 85h1M57 85h1M59 85h1M62 85h1M64 85h1M71 85h1M22 86h2M59 86h1M64 86h1M88 86h2M22 87h1M29 87h1M33 87h4M41 87h1M52 87h1M54 87h1M68 87h1M82 87h1M87 87h1M17 88h1M21 88h1M27 88h1M29 88h1M33 88h1M42 88h2M59 88h1M66 88h2M70 88h2M75 88h1M77 88h1M20 89h1M40 89h1M49 89h1M56 89h1M64 89h1M70 89h1M74 89h1M16 90h1M19 90h1M25 90h1M27 90h1M31 90h1M35 90h1M42 90h1M56 90h1M74 90h1M78 90h1M86 90h1M29 91h1M33 91h1M42 91h1M50 91h1M53 91h1M55 91h1M63 91h2M66 91h1M75 91h1M79 91h1M17 92h1M22 92h1M43 92h2M46 92h1M53 92h2M59 92h1M70 92h1M74 92h1M23 93h1M41 93h1M51 93h1M69 93h1M74 93h1M21 94h1M26 94h1M54 94h1M56 94h1M70 94h1M40 95h1M54 95h1M56 96h1M58 96h1M61 96h1M31 97h1M43 98h1M53 99h1M55 99h1M59 99h1"/><path stroke="#dfe2e6" d="M60 2h1M47 3h1M77 3h1M61 4h1M53 6h1M84 9h1M74 11h1M77 11h1M82 11h1M84 11h1M49 12h1M54 12h1M78 12h1M49 13h1M61 13h1M72 18h1M89 20h1M91 20h1M52 21h1M91 21h1M89 22h1M86 23h1M64 24h1M51 25h1M61 25h1M71 26h1M49 27h1M73 27h1M88 27h1M91 27h1M94 27h1M31 28h2M61 28h1M68 28h1M59 29h1M29 30h1M34 30h1M45 30h1M51 30h1M48 31h1M58 31h2M10 32h1M22 32h1M42 32h1M45 33h1M53 33h1M66 33h1M22 34h1M41 34h1M47 34h1M55 34h1M57 34h1M45 35h1M51 35h1M25 36h1M61 36h1M63 36h1M29 37h1M53 37h1M31 38h2M32 39h1M55 39h1M7 40h1M21 41h1M27 41h1M57 42h1M91 42h1M24 43h1M27 43h1M29 43h1M23 44h1M92 44h1M22 45h1M26 45h1M92 45h1M13 46h1M23 46h1M77 46h1M82 46h1M84 46h1M90 46h1M90 47h1M10 48h1M22 48h1M49 48h1M82 48h1M12 49h1M14 49h1M23 49h1M81 49h1M83 49h1M77 50h1M15 51h1M22 51h1M75 51h1M-1 52h1M10 52h1M13 52h1M81 52h1M16 53h1M21 53h1M4 54h3M15 54h1M3 56h1M7 66h1M4 67h1M9 67h2M3 68h2M12 68h1M18 68h1M13 69h1M14 70h1M23 70h1M27 70h1M12 71h1M16 71h1M5 72h1M9 72h1M12 72h3M6 73h2M14 73h1M17 73h1M20 73h1M95 73h1M17 74h1M21 74h4M11 75h1M13 75h1M17 75h1M20 75h1M24 75h2M17 76h3M22 76h1M26 76h1M84 76h1M18 77h1M21 77h1M24 77h1M27 77h2M79 77h1M15 78h1M22 78h2M27 78h2M69 78h1M82 78h1M85 78h2M91 78h2M16 79h1M26 79h1M34 79h3M61 79h1M83 79h2M91 79h1M10 80h2M19 80h1M26 80h2M30 80h1M60 80h1M62 80h1M78 80h1M81 80h2M84 80h1M88 80h1M19 81h1M21 81h1M24 81h1M33 81h1M58 81h1M61 81h1M64 81h1M74 81h1M80 81h1M82 81h1M92 81h1M19 82h1M24 82h1M34 82h1M76 82h1M78 82h1M22 83h1M31 83h1M44 83h1M67 83h1M23 84h2M37 84h1M52 84h1M60 84h1M65 84h3M75 84h1M82 84h1M85 84h1M54 85h1M61 85h1M72 85h1M76 85h3M17 86h1M28 86h1M61 86h1M68 86h1M75 86h3M79 86h1M85 86h1M20 87h1M26 87h1M74 87h1M16 88h1M20 88h1M30 88h1M64 88h1M68 88h1M85 88h1M17 89h1M37 89h1M39 89h1M50 89h1M58 89h1M80 89h1M44 90h1M54 90h1M57 90h2M64 90h1M71 90h1M77 90h1M24 91h1M28 91h1M36 91h1M38 91h1M45 91h1M69 91h2M74 91h1M77 91h1M20 92h1M39 92h1M82 92h1M18 93h1M49 93h1M53 93h1M71 93h1M80 93h1M38 94h1M43 94h1M62 94h1M65 94h1M67 94h1M37 95h1M42 95h1M55 95h1M57 95h2M71 95h1M34 96h1M47 96h1M65 96h1M73 96h1M60 97h2M70 97h2M59 98h1M39 99h1M60 99h1"/><path stroke="#f0e5e3" d="M75 2h1M68 3h1M58 4h1M66 4h1M68 5h1M75 5h1M67 6h1M77 6h1M64 7h1M58 8h1M59 9h1M67 9h2M68 10h1M71 10h1M77 10h1M79 10h1M84 10h2M55 11h1M69 11h3M50 12h1M67 12h1M77 12h1M77 13h1M83 13h1M69 14h1M80 15h1M40 18h1M87 19h1M85 22h1M95 22h1M54 23h1M88 24h1M93 24h1M87 25h1M92 25h1M38 27h1M47 28h1M26 32h1M32 32h1M31 33h1M7 34h1M23 34h1M28 34h1M30 34h1M9 35h1M11 35h1M24 35h1M26 35h1M12 36h1M7 37h1M52 37h1M10 39h1M27 39h1M11 40h1M17 40h1M30 40h1M3 41h1M32 41h1M19 42h1M12 43h1M21 43h1M77 43h1M3 44h2M78 44h1M97 44h1M1 45h1M21 45h1M24 45h1M88 45h1M2 46h1M7 46h1M22 46h1M62 46h1M87 46h1M97 46h1M0 47h1M63 47h1M86 47h1M96 47h1M0 48h1M81 48h1M3 49h2M10 49h1M31 49h1M51 49h1M71 49h1M6 50h1M76 50h1M88 50h1M90 50h1M93 50h1M98 50h1M6 51h1M6 52h1M3 53h1M17 53h1M71 53h1M81 53h1M90 56h1M29 66h1M98 66h1M100 66h1M2 67h1M5 68h1M8 68h2M9 69h1M14 69h1M10 70h1M9 71h1M14 71h1M90 71h1M10 72h1M8 73h1M23 73h1M8 74h1M11 74h2M19 74h1M15 75h1M26 75h1M16 76h1M21 76h1M23 76h1M86 76h1M11 77h1M16 77h1M26 77h1M64 77h1M17 78h1M24 78h3M22 79h2M25 79h1M29 79h1M15 80h1M28 80h1M85 80h1M75 81h1M77 81h1M81 81h1M87 81h1M80 82h1M84 82h1M18 83h1M20 83h1M24 83h1M71 83h1M80 83h3M91 83h1M63 84h1M68 84h1M72 84h1M66 85h1M73 85h1M81 85h1M84 85h2M11 86h1M16 86h1M63 86h1M66 86h1M18 87h1M56 87h1M59 87h1M65 87h1M28 88h1M58 88h1M60 88h1M81 88h1M84 88h1M51 89h1M62 89h1M76 89h1M81 89h1M84 89h2M37 90h1M49 90h3M59 90h1M62 90h1M68 90h1M81 90h2M85 90h1M41 91h1M46 91h1M28 92h1M32 92h1M36 92h3M48 92h1M56 92h1M65 92h1M20 93h1M24 93h1M34 93h1M44 93h1M47 93h1M60 93h1M62 93h1M67 93h1M77 93h1M79 93h1M82 93h1M23 94h1M25 94h1M35 94h1M63 94h2M73 94h2M32 95h1M43 95h1M49 95h1M53 95h1M67 95h1M31 96h1M38 96h1M68 96h1M74 96h1M76 96h1M42 97h1M52 97h1M56 97h1M68 97h2M52 98h1M60 98h1"/><path stroke="#e9d3cb" d="M59 2h1M72 3h1M57 5h1M71 5h1M82 6h1M60 8h1M72 8h2M72 9h1M85 9h1M72 10h1M82 10h1M49 11h1M72 11h1M76 11h1M79 11h1M66 12h1M86 13h1M87 22h1M90 24h1M84 25h1M90 25h1M93 26h1M61 27h1M27 31h1M22 33h1M25 33h1M26 34h1M10 36h1M14 37h1M30 37h1M2 38h1M4 38h1M9 38h1M31 39h1M6 40h1M8 40h1M-1 42h1M1 42h1M8 42h1M15 42h1M17 42h1M22 42h1M1 43h1M15 43h1M28 43h1M8 45h1M23 45h1M94 45h1M99 46h1M23 47h1M11 48h2M10 50h1M3 51h1M8 51h1M16 52h1M4 53h1M8 53h1M13 53h1M15 53h1M25 53h1M32 53h1M94 53h1M0 54h1M16 54h1M18 54h1M6 66h1M10 68h1M10 69h1M7 72h1M11 72h1M20 72h1M3 73h1M15 73h2M9 75h1M16 75h1M21 75h1M11 76h1M14 77h1M17 77h1M22 77h1M28 79h1M76 79h1M86 79h2M24 80h1M83 80h1M16 81h1M25 81h1M86 81h1M28 82h1M61 82h1M82 82h2M76 83h1M64 84h1M79 84h2M69 85h2M88 85h2M87 86h1M67 87h1M71 87h1M75 87h1M83 87h1M85 87h1M61 88h1M69 88h1M74 88h1M42 89h1M60 89h1M68 89h1M83 89h1M28 90h1M46 90h1M48 90h1M73 90h1M75 90h1M79 90h2M20 91h1M43 91h1M47 91h1M68 91h1M73 91h1M26 92h1M29 92h1M62 92h1M66 92h1M72 92h1M79 92h1M64 93h3M68 93h1M70 93h1M37 94h1M40 94h1M68 94h1M71 94h1M36 95h1M41 95h1M50 95h1M70 95h1M33 96h1M36 96h1M40 96h1M59 96h2M54 97h1M62 97h1M30 98h1M56 98h1M62 98h1M64 98h1M69 98h1M50 99h1M54 99h1M61 99h1"/><path stroke="#e2bdb1" d="M74 3h1M64 5h1M82 5h1M61 6h1M72 6h1M80 6h2M59 7h1M69 9h1M88 11h1M79 13h1M91 25h1M93 25h1M27 30h1M29 35h1M11 37h1M14 38h1M1 39h1M19 41h1M4 42h1M14 42h1M21 42h1M18 43h1M20 43h1M15 44h1M19 44h1M10 45h1M13 47h1M98 47h1M6 48h1M9 48h1M19 48h1M4 50h1M8 50h1M11 50h1M22 50h1M81 51h1M7 53h1M4 70h1M11 71h1M12 73h1M19 77h1M93 77h1M25 80h1M59 81h1M91 81h1M85 82h1M91 82h1M92 83h1M84 84h1M79 85h2M70 86h1M73 87h1M77 87h2M76 88h1M79 88h2M83 88h1M15 89h1M23 89h1M28 89h1M32 89h1M44 89h1M73 89h1M75 89h1M77 89h1M52 90h1M69 90h1M23 91h1M85 91h1M52 92h1M80 92h1M83 92h1M26 93h1M30 93h1M38 93h1M50 93h1M55 93h2M81 93h1M24 94h1M36 94h1M41 94h1M46 94h1M51 94h2M66 94h1M21 95h1M62 95h3M78 95h1M45 96h1M52 96h2M57 96h1M64 96h1M75 96h1M38 97h1M55 97h1M59 97h1M68 98h1"/><path stroke="#d9a493" d="M70 -1h1M73 2h1M69 3h1M60 4h1M67 4h1M70 4h2M80 4h1M60 5h2M77 5h1M66 6h1M84 6h1M81 8h1M74 10h1M78 10h1M80 11h1M92 21h1M12 37h1M8 38h1M25 39h1M30 39h1M18 40h1M9 41h1M13 42h1M27 42h1M30 43h1M7 44h1M22 44h1M24 44h2M82 44h1M95 45h1M-1 46h2M8 46h1M21 46h1M24 46h1M9 47h1M20 47h1M2 48h1M1 49h1M15 49h1M0 50h1M5 50h1M7 50h1M14 50h2M21 50h1M7 51h1M24 51h1M85 52h1M6 53h1M8 69h1M10 73h1M23 75h1M83 81h1M86 82h1M65 86h1M72 86h1M82 86h1M70 87h1M79 87h1M84 87h1M82 88h1M36 89h1M55 89h1M79 89h1M72 90h1M31 92h1M42 92h1M50 92h1M22 93h1M46 93h1M33 94h1M42 94h1M61 94h1M26 95h1M72 95h1M27 96h1M48 96h1M51 96h1M63 96h1M53 97h1M57 97h2M64 97h1M67 97h1M47 98h1M49 98h1M54 98h1M65 98h1"/><path stroke="#d28c7b" d="M67 3h1M59 5h1M67 5h1M59 6h1M68 6h1M70 6h1M63 7h1M67 7h1M78 8h1M65 9h1M81 11h1M87 11h1M74 12h1M12 40h1M13 41h1M18 42h1M25 42h1M21 44h1M32 44h1M5 46h1M22 47h1M-1 49h1M2 49h1M3 50h1M16 50h1M13 51h1M2 52h2M6 67h1M83 85h1M81 86h1M62 88h1M47 90h1M49 91h1M84 91h1M55 92h1M64 92h1M25 93h1M28 93h1M36 93h1M40 93h1M45 93h1M48 93h1M24 95h1M34 95h1M46 95h1M52 95h1M74 95h1M50 96h1M37 97h1M51 97h1M63 97h1M35 98h1M38 98h1M42 98h1M51 98h1M61 98h1M67 98h1M45 99h1M47 99h1"/><path stroke="#ca7665" d="M57 -1h1M68 0h1M71 1h1M60 3h1M59 4h1M58 6h1M71 6h1M57 7h1M79 7h1M86 7h1M80 8h1M81 9h1M73 10h1M9 37h1M7 38h1M1 40h1M14 40h1M0 41h2M10 41h1M-1 43h1M32 43h1M8 44h1M10 44h2M0 45h1M11 45h1M9 46h1M6 49h1M20 49h2M5 51h1M14 51h1M16 51h1M4 52h1M84 83h1M86 84h1M82 85h1M80 86h1M80 87h1M32 93h1M39 93h1M47 94h1M33 95h1M48 95h1M65 95h2M35 96h1M37 96h1M39 96h1M46 96h1M55 96h1M66 96h2M71 96h1M41 98h1M63 98h1M42 99h1M58 99h1"/><path stroke="#c26050" d="M47 2h1M70 3h1M66 7h1M68 7h1M72 7h1M70 8h1M56 9h1M83 9h1M75 11h1M4 39h1M9 40h1M16 40h1M8 41h1M7 42h1M7 43h1M-1 44h1M100 45h1M10 46h1M4 47h1M5 48h1M13 48h2M12 50h1M2 51h1M11 51h1M18 53h1M84 86h1M72 87h1M81 87h1M82 89h1M43 93h1M32 94h1M29 95h1M31 95h1M38 95h1M44 95h1M47 95h1M51 95h1M30 97h1M40 97h1M44 97h1M47 97h2M66 97h1M46 98h1M53 98h1M55 98h1"/><path stroke="#ba4d3e" d="M58 3h1M75 3h1M65 4h1M82 4h1M70 5h1M84 8h1M82 9h1M85 11h1M7 39h1M24 41h1M1 52h1M17 52h1M14 53h1M81 84h1M83 86h1M27 93h1M31 94h1M44 94h1M55 94h1M42 96h1M46 97h1M37 98h1M45 98h1M40 99h1"/><path stroke="#b0372d" d="M69 1h1M61 2h1M77 4h1M76 5h1M79 6h1M65 7h1M73 9h1M77 9h1M80 10h1M13 43h1M19 43h1M16 44h1M20 44h1M25 91h1M51 92h1M25 95h1M45 97h1M39 98h1M48 98h1M50 98h1"/><path stroke="#a62a24" d="M78 3h1M68 4h1M66 8h1M13 38h1M23 42h1M30 94h1M41 99h1M43 99h1M52 99h1"/><path stroke="#9d2623" d="M70 0h1M72 1h1M79 3h1M75 4h1M79 4h1M80 7h1M83 11h1M3 47h1M21 47h1M1 50h1M15 52h1M34 94h1M49 99h1M51 99h1"/><path stroke="#922124" d="M52 1h1M48 2h1M78 2h1M73 4h1M66 5h1M12 38h1M2 39h1M9 39h1M18 39h1M-1 40h1M20 42h1M27 94h1M35 97h1M50 97h1"/><path stroke="#8a1d24" d="M69 2h1M80 5h1M84 5h1M56 6h1M75 6h1M60 7h1M70 7h1M54 9h1M21 33h1M34 40h1M60 43h1M7 45h1M1 47h1M20 48h1M24 50h1M39 51h1M33 55h1M58 78h1M45 90h1M50 94h1M54 96h1"/><path stroke="#841a25" d="M68 8h1M70 9h1M79 9h1M17 41h1M41 96h1"/><path stroke="#7d1725" d="M69 -1h1M74 7h1M78 7h1M74 8h1"/><path stroke="#761325" d="M68 2h1M74 5h1M83 5h1M73 6h1M80 9h1"/><path stroke="#6e1025" d="M70 2h1M76 8h1M39 97h1"/><path stroke="#660d25" d="M72 0h1M70 1h1M61 3h1M62 4h1M72 4h1M62 5h1M72 5h1M65 6h1M74 6h1M82 7h1M69 8h1M75 8h1M74 9h1M76 10h1M45 12h1M62 12h1M53 13h1M88 15h1M33 28h1M49 31h1M25 32h1M11 33h1M23 33h1M33 33h1M11 34h1M23 35h1M34 35h1M33 36h1M35 37h1M16 38h1M36 39h2M31 41h1M36 41h1M14 44h1M36 44h1M66 44h1M12 45h1M16 46h1M34 47h1M51 47h1M-1 48h1M87 49h1M17 51h1M90 51h1M44 52h1M66 54h1M28 55h1M30 55h1M34 55h1M47 55h1M51 57h1M27 64h1M57 66h1M69 66h1M70 67h1M5 76h1M44 76h1M79 79h1M56 80h1M26 85h1M39 94h1M28 95h1M65 97h1M44 99h1"/></g></g><rect x="0" y="0" width="879.9" height="872.8" fill="none" stroke="#222" stroke-width="2"/><path d="M-7.3 139.7H0M-7.3 286.5H0M-7.3 433.3H0M-7.3 580.2H0M-7.3 727.0H0M145.4 872.8v6.8M292.2 872.8v6.8M439.0 872.8v6.8M585.8 872.8v6.8M732.6 872.8v6.8" stroke="#444" stroke-width="1.3" fill="none"/><text x="-11.3" y="157.3" font-size="49" text-anchor="end">40°N</text><text x="-11.3" y="304.1" font-size="49" text-anchor="end">20°N</text><text x="-11.3" y="450.9" font-size="49" text-anchor="end">0°N</text><text x="-11.3" y="597.8" font-size="49" text-anchor="end">-20°N</text><text x="-11.3" y="744.6" font-size="49" text-anchor="end">-40°N</text><text x="145.4" y="919.6" font-size="48.2" text-anchor="middle">100°E</text><text x="292.2" y="919.6" font-size="48.2" text-anchor="middle">120°E</text><text x="439.0" y="919.6" font-size="48.2" text-anchor="middle">140°E</text><text x="585.8" y="919.6" font-size="48.2" text-anchor="middle">160°E</text><text x="732.6" y="919.6" font-size="48.2" text-anchor="middle">180°E</text></g><text x="1251" y="85.4" font-size="86.5" font-weight="bold" text-anchor="middle">Day matches</text><text x="1251" y="1313" font-size="86.5" font-weight="bold" text-anchor="middle">Night matches</text><text x="147.0" y="213.4" font-size="67.05">(a) No bias correction applied</text><text x="1317.0" y="213.4" font-size="67.05">(b) Bias correction applied</text><text x="147.0" y="1406.8" font-size="67.05">(c) No bias correction applied</text><text x="1317.0" y="1406.8" font-size="67.05">(d) Bias correction applied</text><text transform="translate(80.8 676.3) rotate(-90)" font-size="66.4" text-anchor="middle">Latitude</text><text transform="translate(80.8 1870.0) rotate(-90)" font-size="66.4" text-anchor="middle">Latitude</text><text x="693.2" y="2416.6" font-size="66.4" text-anchor="middle">Longitude</text><text x="1815.9" y="2416.6" font-size="66.4" text-anchor="middle">Longitude</text><text x="2276.5" y="443.5" font-size="55.6">ΔSST</text><rect x="2277.8" y="461.1" width="65.7" height="476.5" fill="url(#cb)"/><path d="M2277.8 563.7h6.6M2343.5 563.7h-6.6" stroke="#fff" stroke-opacity=".7" stroke-width="1.8"/><text x="2352.5" y="585.7" font-size="55.6">0.4</text><path d="M2277.8 699.8h6.6M2343.5 699.8h-6.6" stroke="#fff" stroke-opacity=".7" stroke-width="1.8"/><text x="2352.5" y="721.8" font-size="55.6">0.0</text><path d="M2277.8 836.0h6.6M2343.5 836.0h-6.6" stroke="#fff" stroke-opacity=".7" stroke-width="1.8"/><text x="2352.5" y="858.0" font-size="55.6">-0.4</text><text x="2276.5" y="1671.5" font-size="55.6">ΔSST</text><rect x="2277.8" y="1689.1" width="65.7" height="476.5" fill="url(#cb)"/><path d="M2277.8 1791.7h6.6M2343.5 1791.7h-6.6" stroke="#fff" stroke-opacity=".7" stroke-width="1.8"/><text x="2352.5" y="1813.7" font-size="55.6">0.4</text><path d="M2277.8 1927.8h6.6M2343.5 1927.8h-6.6" stroke="#fff" stroke-opacity=".7" stroke-width="1.8"/><text x="2352.5" y="1949.8" font-size="55.6">0.0</text><path d="M2277.8 2064.0h6.6M2343.5 2064.0h-6.6" stroke="#fff" stroke-opacity=".7" stroke-width="1.8"/><text x="2352.5" y="2086.0" font-size="55.6">-0.4</text></svg></body></html>
